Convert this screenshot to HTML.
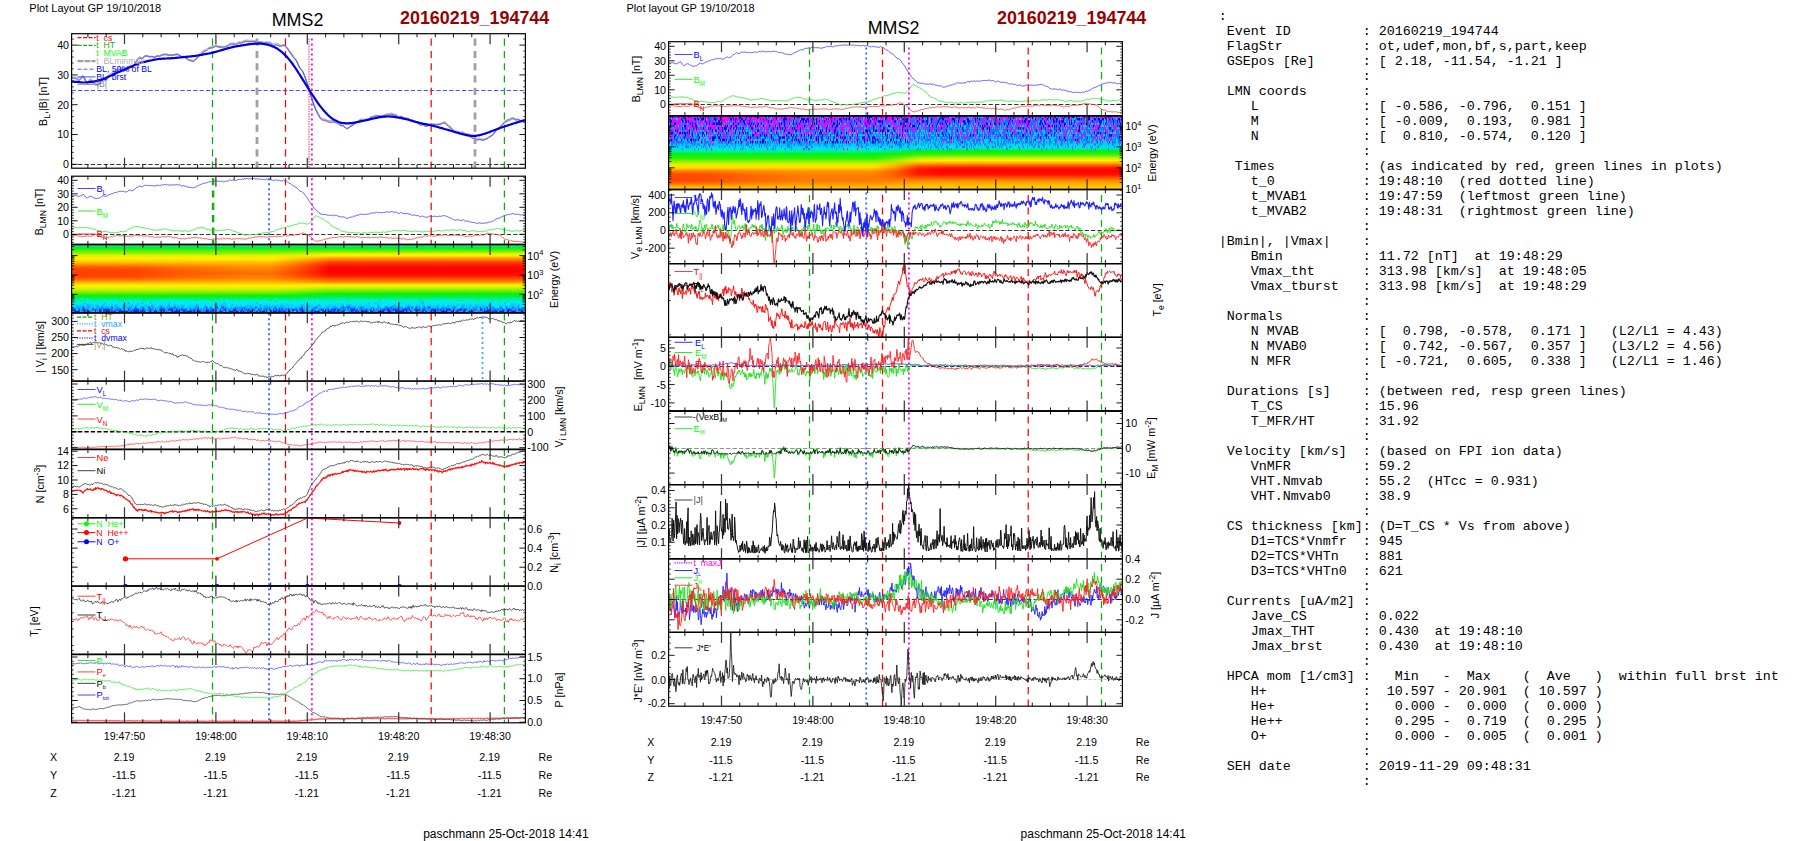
<!DOCTYPE html>
<html><head><meta charset="utf-8"><title>MMS2 20160219_194744</title>
<style>html,body{margin:0;padding:0;background:#fff;}body{width:1804px;height:841px;overflow:hidden;position:relative;}svg{position:absolute;left:0;top:0;}text{font-family:"Liberation Sans", sans-serif;}pre{position:absolute;margin:0;left:1218.8px;top:8.8px;font-family:"Liberation Mono",monospace;font-size:13.33px;line-height:15px;color:#000;white-space:pre;}</style></head><body>
<svg width="1804" height="841" viewBox="0 0 1804 841">
<rect width="1804" height="841" fill="#fff"/>
<defs>
<linearGradient id="gi" x1="0" y1="0" x2="0" y2="1">
<stop offset="0.0" stop-color="#00f0a0"/>
<stop offset="0.05" stop-color="#00f020"/>
<stop offset="0.1" stop-color="#70f000"/>
<stop offset="0.135" stop-color="#e8f000"/>
<stop offset="0.165" stop-color="#fff000"/>
<stop offset="0.205" stop-color="#ff9800"/>
<stop offset="0.26" stop-color="#ff4000"/>
<stop offset="0.32" stop-color="#ff0c00"/>
<stop offset="0.39" stop-color="#ff0000"/>
<stop offset="0.45" stop-color="#ff1000"/>
<stop offset="0.505" stop-color="#ff5000"/>
<stop offset="0.555" stop-color="#ff9800"/>
<stop offset="0.59" stop-color="#fff000"/>
<stop offset="0.625" stop-color="#e0f000"/>
<stop offset="0.66" stop-color="#90f000"/>
<stop offset="0.72" stop-color="#10f000"/>
<stop offset="0.77" stop-color="#00f050"/>
<stop offset="0.81" stop-color="#00f0b0"/>
<stop offset="0.85" stop-color="#00f0e8"/>
<stop offset="0.91" stop-color="#00b8ff"/>
<stop offset="0.96" stop-color="#1060ff"/>
<stop offset="1.0" stop-color="#1040f0"/>
</linearGradient>
<linearGradient id="gio" x1="0" y1="0" x2="0" y2="1">
<stop offset="0.0" stop-color="#00f0a0" stop-opacity="0"/>
<stop offset="0.07" stop-color="#30f000" stop-opacity="0.0"/>
<stop offset="0.12" stop-color="#80f000" stop-opacity="1"/>
<stop offset="0.165" stop-color="#e8f000" stop-opacity="1"/>
<stop offset="0.21" stop-color="#fff000" stop-opacity="1"/>
<stop offset="0.26" stop-color="#ffc000" stop-opacity="1"/>
<stop offset="0.33" stop-color="#ff8c00" stop-opacity="1"/>
<stop offset="0.42" stop-color="#ff6c00" stop-opacity="1"/>
<stop offset="0.5" stop-color="#ff8800" stop-opacity="1"/>
<stop offset="0.56" stop-color="#ffc000" stop-opacity="1"/>
<stop offset="0.6" stop-color="#fff000" stop-opacity="1"/>
<stop offset="0.645" stop-color="#e0f000" stop-opacity="1"/>
<stop offset="0.69" stop-color="#90f000" stop-opacity="1"/>
<stop offset="0.75" stop-color="#10f000" stop-opacity="1"/>
<stop offset="0.82" stop-color="#00f070" stop-opacity="0"/>
<stop offset="1.0" stop-color="#00f070" stop-opacity="0"/>
</linearGradient>
<linearGradient id="gioh" x1="0" y1="0" x2="1" y2="0">
<stop offset="0" stop-color="#fff" stop-opacity="1"/>
<stop offset="0.44" stop-color="#fff" stop-opacity="1"/>
<stop offset="0.5" stop-color="#fff" stop-opacity="0.6"/>
<stop offset="0.57" stop-color="#fff" stop-opacity="0"/>
</linearGradient>
<mask id="mio" maskUnits="userSpaceOnUse" x="70" y="240" width="460" height="80"><rect x="71.6" y="240" width="453.8" height="80" fill="url(#gioh)"/></mask>
<linearGradient id="giol" x1="0" y1="0" x2="0" y2="1">
<stop offset="0.0" stop-color="#ff3800" stop-opacity="0"/>
<stop offset="0.27" stop-color="#ff3800" stop-opacity="0"/>
<stop offset="0.36" stop-color="#ff3800" stop-opacity="0.85"/>
<stop offset="0.46" stop-color="#ff3800" stop-opacity="0.85"/>
<stop offset="0.56" stop-color="#ff3800" stop-opacity="0"/>
<stop offset="1.0" stop-color="#ff3800" stop-opacity="0"/>
</linearGradient>
<linearGradient id="giolh" x1="0" y1="0" x2="1" y2="0">
<stop offset="0" stop-color="#fff" stop-opacity="1"/>
<stop offset="0.14" stop-color="#fff" stop-opacity="0.9"/>
<stop offset="0.24" stop-color="#fff" stop-opacity="0.45"/>
<stop offset="0.38" stop-color="#fff" stop-opacity="0"/>
</linearGradient>
<mask id="miol" maskUnits="userSpaceOnUse" x="70" y="240" width="460" height="80"><rect x="71.6" y="240" width="453.8" height="80" fill="url(#giolh)"/></mask>
<linearGradient id="ge" x1="0" y1="0" x2="0" y2="1">
<stop offset="0.0" stop-color="#2030ff"/>
<stop offset="0.33" stop-color="#1848ff"/>
<stop offset="0.385" stop-color="#10a0ff"/>
<stop offset="0.43" stop-color="#00e0f8"/>
<stop offset="0.475" stop-color="#00f0a0"/>
<stop offset="0.52" stop-color="#00f020"/>
<stop offset="0.58" stop-color="#30f000"/>
<stop offset="0.62" stop-color="#90f000"/>
<stop offset="0.66" stop-color="#e0f000"/>
<stop offset="0.7" stop-color="#ffe000"/>
<stop offset="0.75" stop-color="#ff9800"/>
<stop offset="0.82" stop-color="#ff7800"/>
<stop offset="0.89" stop-color="#ff7c00"/>
<stop offset="0.94" stop-color="#ffa400"/>
<stop offset="1.0" stop-color="#ffd000"/>
</linearGradient>
<linearGradient id="ger" x1="0" y1="0" x2="0" y2="1">
<stop offset="0.0" stop-color="#00d8f8" stop-opacity="0"/>
<stop offset="0.32" stop-color="#10a0ff" stop-opacity="0"/>
<stop offset="0.36" stop-color="#10a0ff" stop-opacity="1"/>
<stop offset="0.4" stop-color="#00e0f8" stop-opacity="1"/>
<stop offset="0.44" stop-color="#00f0a0" stop-opacity="1"/>
<stop offset="0.48" stop-color="#00f010" stop-opacity="1"/>
<stop offset="0.53" stop-color="#40f000" stop-opacity="1"/>
<stop offset="0.57" stop-color="#c0f000" stop-opacity="1"/>
<stop offset="0.605" stop-color="#fff000" stop-opacity="1"/>
<stop offset="0.64" stop-color="#ffb000" stop-opacity="1"/>
<stop offset="0.675" stop-color="#ff5800" stop-opacity="1"/>
<stop offset="0.71" stop-color="#ff1400" stop-opacity="1"/>
<stop offset="0.75" stop-color="#ff0000" stop-opacity="1"/>
<stop offset="0.8" stop-color="#ff1400" stop-opacity="1"/>
<stop offset="0.845" stop-color="#ff5800" stop-opacity="1"/>
<stop offset="0.89" stop-color="#ff9800" stop-opacity="1"/>
<stop offset="0.95" stop-color="#ffc000" stop-opacity="1"/>
<stop offset="1.0" stop-color="#ffdc00" stop-opacity="1"/>
</linearGradient>
<linearGradient id="gerh" x1="0" y1="0" x2="1" y2="0">
<stop offset="0" stop-color="#fff" stop-opacity="0"/>
<stop offset="0.45" stop-color="#fff" stop-opacity="0"/>
<stop offset="0.5" stop-color="#fff" stop-opacity="0.35"/>
<stop offset="0.55" stop-color="#fff" stop-opacity="0.9"/>
<stop offset="0.6" stop-color="#fff" stop-opacity="1"/>
<stop offset="1" stop-color="#fff" stop-opacity="1"/>
</linearGradient>
<mask id="mer" maskUnits="userSpaceOnUse" x="660" y="110" width="470" height="90"><rect x="668.6" y="110" width="453.8" height="90" fill="url(#gerh)"/></mask>
<linearGradient id="gel" x1="0" y1="0" x2="0" y2="1">
<stop offset="0.0" stop-color="#ff3c00" stop-opacity="0"/>
<stop offset="0.72" stop-color="#ff3c00" stop-opacity="0"/>
<stop offset="0.8" stop-color="#ff3c00" stop-opacity="0.85"/>
<stop offset="0.88" stop-color="#ff3c00" stop-opacity="0.85"/>
<stop offset="0.96" stop-color="#ff3c00" stop-opacity="0"/>
<stop offset="1.0" stop-color="#ff3c00" stop-opacity="0"/>
</linearGradient>
<linearGradient id="gelh" x1="0" y1="0" x2="1" y2="0">
<stop offset="0" stop-color="#fff" stop-opacity="1"/>
<stop offset="0.1" stop-color="#fff" stop-opacity="0.8"/>
<stop offset="0.2" stop-color="#fff" stop-opacity="0.3"/>
<stop offset="0.3" stop-color="#fff" stop-opacity="0"/>
</linearGradient>
<mask id="mel" maskUnits="userSpaceOnUse" x="660" y="110" width="470" height="90"><rect x="668.6" y="110" width="453.8" height="90" fill="url(#gelh)"/></mask>
<clipPath id="cL1"><rect x="71.6" y="33.7" width="453.8" height="134.5"/></clipPath>
<clipPath id="cL2"><rect x="71.6" y="176.2" width="453.8" height="68.3"/></clipPath>
<clipPath id="cL3"><rect x="71.6" y="244.5" width="453.8" height="68.3"/></clipPath>
<clipPath id="cL4"><rect x="71.6" y="312.8" width="453.8" height="68.3"/></clipPath>
<clipPath id="cL5"><rect x="71.6" y="381.1" width="453.8" height="68.3"/></clipPath>
<clipPath id="cL6"><rect x="71.6" y="449.4" width="453.8" height="68.4"/></clipPath>
<clipPath id="cL7"><rect x="71.6" y="517.8" width="453.8" height="68.3"/></clipPath>
<clipPath id="cL8"><rect x="71.6" y="586.1" width="453.8" height="68.3"/></clipPath>
<clipPath id="cL9"><rect x="71.6" y="654.4" width="453.8" height="68.4"/></clipPath>
<clipPath id="cM1"><rect x="668.6" y="41.7" width="453.8" height="74"/></clipPath>
<clipPath id="cM2"><rect x="668.6" y="115.7" width="453.8" height="73.8"/></clipPath>
<clipPath id="cM3"><rect x="668.6" y="189.5" width="453.8" height="74.1"/></clipPath>
<clipPath id="cM4"><rect x="668.6" y="263.6" width="453.8" height="73.7"/></clipPath>
<clipPath id="cM5"><rect x="668.6" y="337.3" width="453.8" height="73.7"/></clipPath>
<clipPath id="cM6"><rect x="668.6" y="411" width="453.8" height="73.6"/></clipPath>
<clipPath id="cM7"><rect x="668.6" y="484.6" width="453.8" height="74.1"/></clipPath>
<clipPath id="cM8"><rect x="668.6" y="558.7" width="453.8" height="73.7"/></clipPath>
<clipPath id="cM9"><rect x="668.6" y="632.4" width="453.8" height="73.8"/></clipPath>
</defs>
<text x="29.3" y="12.2" font-size="11" fill="#000" text-anchor="start" >Plot Layout GP 19/10/2018</text>
<text x="297.5" y="25.5" font-size="17.9" fill="#000" text-anchor="middle" >MMS2</text>
<text x="400" y="24" font-size="17.9" fill="#990000" text-anchor="start" font-weight="bold" >20160219_194744</text>
<g clip-path="url(#cL1)">
<path transform="scale(.1)" d="M716 767l10 1 10 2 10 0 10-1 10 3 10 5 10 4 10-3 10-7 10-10 10-8 10 5 10 19 10 27 10 15 10 0 10-13 10-12 10-5 10 4 10 11 10 10 10 10 10 6 10 2 10-1 10-5 10-5 10-13 10-14 10-11 10-3 10 2 10 0 10-6 10-12 10-13 10-8 10-8 10-7 10-9 10-8 10-6 10-2 10-5 10-7 10-8 10-4 10 0 10 0 10 0 10 1 10 2 10 3 10-3 10-10 10-11 10-9 10 1 10 5 10 4 10-10 10-17 10-17 10-13 10-15 10-13 10-9 10 5 10 6 10 0 10-10 10-7 10-3 10 0 10 0 10 1 10 4 10-1 10-2 10 3 10 2 10 2 10-2 10-6 10-3 10-1 10 3 10-5 10-6 10-3 10-1 10 1 10 0 10-1 10 4 10 0 10 3 10-3 10-2 10-1 10 1 10-1 10-3 10-2 10 1 10 3 10 5 10 9 10 8 10 3 10 0 10 4 10 5 10 8 10 3 10 8 10 2 10 4 10-1 10 0 10-1 10-6 10-9 10-12 10-11 10-11 10-11 10-11 10-11 10-8 10-8 10-3 10-5 10-6 10-10 10-6 10-2 10-2 10-2 10-1 10-5 10-7 10-6 10 3 10 5 10 3 10 3 10 1 10 2 10 4 10 2 10-1 10-6 10-6 10-4 10-8 10-7 10-2 10-1 10-1 10-3 10 1 10 3 10-5 10-7 10-7 10 0 10 3 10-4 10-2 10-8 10 1 10-6 10 0 10 0 10 3 10 0 10-1 10 1 10-1 10 1 10 1 10 3 10 6 10 1 10 3 10-3 10 1 10 0 10 3 10 4 10-1 10-4 10-2 10 3 10 3 10-3 10 3 10 6 10 10 10 2 10-2 10-8 10 0 10 5 10 5 10 5 10 4 10 3 10-5 10-2 10 2 10 9 10 8 10 12 10 17 10 12 10 13 10 12 10 19 10 14 10 10 10 13 10 17 10 22 10 22 10 20 10 14 10 13 10 12 10 23 10 26 10 30 10 28 10 31 10 32 10 34 10 30 10 31 10 28 10 30 10 26 10 26 10 20 10 21 10 17 10 21 10 12 10 10 10 1 10 4 10 2 10 4 10 5 10 5 10 6 10 2 10 4 10-1 10-2 10 2 10 2 10 1 10 1 10 5 10 7 10 7 10 8 10 6 10 2 10 2 10 9 10 11 10 7 10-2 10-10 10-8 10-10 10-2 10-8 10-3 10-7 10-7 10-7 10-7 10-7 10-9 10-5 10-2 10 2 10 2 10 1 10-1 10-1 10-3 10-3 10-10 10-6 10-4 10 0 10-5 10-2 10-5 10 1 10 1 10 1 10-1 10-1 10 0 10-1 10-2 10-4 10-4 10-4 10 1 10-2 10-2 10-4 10-1 10 4 10 5 10 4 10-1 10 7 10 9 10 10 10-3 10-3 10-1 10 8 10 5 10 4 10 4 10-1 10 3 10 2 10 5 10 5 10 8 10 6 10 1 10-2 10 4 10 3 10 1 10 5 10 7 10 6 10-4 10 0 10 5 10 10 10 6 10 0 10-2 10-7 10-5 10-3 10 4 10 2 10-1 10-3 10 2 10 2 10 0 10-3 10-3 10-2 10-3 10-6 10-5 10-1 10 5 10 7 10 10 10 10 10 6 10 8 10 10 10 14 10 11 10 8 10 4 10 1 10 1 10 0 10 4 10 2 10-1 10-2 10 4 10 8 10 6 10-1 10 1 10 6 10 7 10 7 10 7 10 4 10 3 10 5 10 7 10 6 10 0 10-3 10 0 10 2 10 3 10 1 10 1 10-4 10-3 10-5 10-5 10-9 10-4 10-5 10-4 10-9 10-9 10-14 10-15 10-13 10-6 10-8 10-9 10-11 10-10 10-10 10-12 10-11 10-6 10-6 10-5 10-4 10-4 10-2 10-6 10-2 10-1 10 6 10 5 10 4 10-3 10 4 10 5 10 8 10-1 10-3 10-7 10 0 8-2" fill="none" stroke="#909090" stroke-width="8" stroke-linejoin="round" />
<path transform="scale(.1)" d="M716 779l10 0 10 1 10-1 10 2 10 4 10 7 10 6 10-2 10-8 10-13 10-11 10 4 10 16 10 27 10 16 10 3 10-12 10-13 10-6 10 5 10 13 10 11 10 10 10 5 10 3 10 1 10-5 10-6 10-14 10-15 10-10 10-3 10 3 10 1 10-4 10-12 10-15 10-9 10-8 10-6 10-9 10-8 10-7 10-4 10-6 10-6 10-8 10-5 10-3 10 0 10 2 10 2 10 4 10 3 10-4 10-11 10-12 10-11 10 0 10 2 10 1 10-11 10-17 10-19 10-11 10-12 10-10 10-9 10 2 10 4 10-4 10-12 10-8 10-4 10 1 10 1 10 5 10 5 10 1 10-1 10 1 10 2 10 0 10-3 10-8 10-3 10-1 10 3 10-5 10-5 10-2 10-2 10-1 10-3 10 0 10 5 10 2 10 3 10-2 10-1 10 0 10 0 10-2 10-3 10-1 10 2 10 3 10 4 10 8 10 7 10 1 10-2 10 2 10 7 10 9 10 6 10 9 10 2 10 5 10 4 10 4 10 0 10-7 10-10 10-9 10-9 10-10 10-11 10-10 10-11 10-10 10-11 10-4 10-2 10-3 10-10 10-9 10-4 10-3 10-2 10 0 10-4 10-6 10-6 10 2 10 4 10 1 10 1 10-1 10-2 10 1 10 0 10 0 10-5 10-5 10-2 10-8 10-7 10-5 10-1 10 0 10 0 10 4 10 5 10-4 10-5 10-7 10 0 10 3 10-3 10-2 10-7 10 0 10-6 10-1 10 2 10 4 10 2 10-1 10 1 10-1 10 0 10 1 10 0 10 5 10 1 10 3 10-4 10 0 10 0 10 3 10 4 10-1 10-2 10 1 10 4 10 2 10-2 10 4 10 7 10 12 10 2 10 0 10-6 10 0 10 4 10 3 10 3 10-1 10 2 10-6 10-2 10 4 10 10 10 11 10 12 10 17 10 12 10 15 10 12 10 17 10 12 10 9 10 12 10 17 10 20 10 20 10 20 10 14 10 12 10 11 10 20 10 24 10 28 10 30 10 31 10 33 10 36 10 33 10 33 10 30 10 32 10 26 10 26 10 20 10 20 10 14 10 20 10 13 10 10 10 3 10 5 10 2 10 3 10 3 10 2 10 1 10 0 10 1 10-1 10-5 10 2 10 2 10 2 10 3 10 10 10 10 10 9 10 8 10 5 10 2 10 4 10 10 10 10 10 6 10 0 10-7 10-7 10-10 10-6 10-10 10-5 10-7 10-6 10-5 10-5 10-6 10-8 10-3 10-1 10 2 10 0 10 1 10-1 10-1 10-3 10-4 10-14 10-9 10-5 10 0 10-4 10-2 10-4 10-2 10 0 10 3 10 2 10-1 10 2 10 0 10-2 10-3 10-3 10-4 10 0 10 1 10-1 10-4 10-3 10 2 10 5 10 2 10-1 10 6 10 8 10 9 10-5 10-3 10-1 10 9 10 5 10 2 10 1 10-2 10 2 10 3 10 8 10 7 10 9 10 6 10 3 10 1 10 6 10 5 10 1 10 6 10 8 10 7 10-2 10 0 10 2 10 7 10 3 10-3 10-4 10-7 10-4 10-4 10 2 10 1 10 0 10 1 10 1 10 1 10-1 10-2 10 0 10-2 10-4 10-6 10-4 10 0 10 5 10 10 10 12 10 11 10 6 10 7 10 12 10 15 10 10 10 7 10 3 10 0 10-1 10 0 10 7 10 3 10-2 10-5 10 4 10 9 10 6 10 0 10 2 10 6 10 7 10 8 10 7 10 6 10 4 10 6 10 7 10 6 10-1 10-2 10-3 10 1 10 3 10 2 10 1 10-6 10-3 10-4 10-5 10-10 10-6 10-8 10-6 10-10 10-9 10-14 10-14 10-12 10-6 10-8 10-10 10-12 10-11 10-10 10-12 10-12 10-7 10-6 10-5 10-4 10-6 10-3 10-6 10-1 10 2 10 7 10 5 10 1 10-4 10 3 10 4 10 8 10-1 10-2 10-8 10 0 8-3" fill="none" stroke="#808080" stroke-width="8" stroke-linejoin="round" />
<path transform="scale(.1)" d="M716 780l10 2 10 2 10 1 10 1 10 5 10 7 10 5 10-2 10-8 10-11 10-10 10 3 10 16 10 26 10 16 10 1 10-11 10-11 10-5 10 3 10 12 10 11 10 11 10 7 10 0 10 0 10-5 10-6 10-14 10-14 10-12 10-2 10 3 10 2 10-5 10-11 10-13 10-8 10-8 10-7 10-9 10-9 10-7 10-4 10-6 10-6 10-8 10-5 10-1 10 0 10 0 10 3 10 3 10 4 10-3 10-10 10-11 10-11 10 1 10 3 10 2 10-12 10-17 10-19 10-12 10-14 10-11 10-9 10 2 10 5 10-3 10-11 10-8 10-4 10 0 10 0 10 3 10 3 10 1 10-2 10 2 10 2 10 1 10-2 10-6 10-2 10-1 10 4 10-5 10-7 10-3 10-2 10-1 10 0 10 0 10 4 10 1 10 2 10-1 10-1 10-1 10 1 10-2 10-3 10-1 10 1 10 3 10 4 10 8 10 7 10 2 10 0 10 3 10 6 10 8 10 6 10 8 10 2 10 3 10 1 10 4 10 0 10-5 10-10 10-12 10-10 10-11 10-10 10-10 10-9 10-9 10-8 10-4 10-5 10-6 10-9 10-8 10-3 10-3 10-2 10 0 10-5 10-5 10-6 10 2 10 4 10 2 10 1 10 1 10 0 10 4 10 2 10 1 10-6 10-6 10-4 10-8 10-7 10-3 10 0 10 0 10-1 10 3 10 4 10-5 10-6 10-8 10-1 10 1 10-4 10-3 10-7 10 1 10-5 10 0 10 0 10 2 10 1 10-2 10 0 10-2 10 0 10 2 10 2 10 4 10 0 10 4 10-3 10 2 10 1 10 3 10 4 10-1 10-3 10-1 10 1 10 3 10-2 10 4 10 6 10 10 10 2 10-1 10-5 10 1 10 4 10 3 10 4 10 1 10 3 10-6 10-1 10 2 10 9 10 9 10 13 10 17 10 13 10 14 10 13 10 19 10 13 10 11 10 12 10 17 10 20 10 21 10 19 10 14 10 13 10 12 10 22 10 25 10 29 10 30 10 32 10 33 10 35 10 31 10 31 10 30 10 32 10 26 10 26 10 19 10 21 10 16 10 21 10 13 10 11 10 2 10 3 10 2 10 2 10 5 10 5 10 4 10 2 10 2 10-2 10-3 10 2 10 2 10 2 10 2 10 7 10 7 10 6 10 5 10 4 10 1 10 2 10 8 10 10 10 7 10-1 10-6 10-6 10-7 10-4 10-9 10-5 10-8 10-7 10-5 10-6 10-6 10-9 10-6 10-1 10 2 10 0 10 1 10-2 10-1 10-2 10-3 10-10 10-7 10-4 10 0 10-4 10-2 10-5 10-1 10 0 10 1 10 1 10-1 10 1 10-1 10-2 10-4 10-4 10-4 10 1 10 0 10-1 10-3 10-2 10 3 10 5 10 2 10-1 10 6 10 8 10 9 10-4 10-3 10-2 10 9 10 6 10 4 10 2 10-2 10 3 10 3 10 6 10 6 10 9 10 5 10 1 10-1 10 5 10 5 10 2 10 7 10 8 10 5 10-4 10-1 10 5 10 9 10 5 10-1 10-3 10-8 10-5 10-4 10 3 10 0 10 0 10-1 10 1 10 2 10 0 10-2 10-2 10-2 10-2 10-6 10-3 10 2 10 6 10 8 10 10 10 9 10 7 10 9 10 11 10 14 10 10 10 8 10 2 10-1 10-1 10 0 10 7 10 2 10-1 10-3 10 5 10 8 10 6 10-1 10 3 10 6 10 7 10 7 10 6 10 4 10 2 10 4 10 5 10 5 10-1 10-2 10-1 10 2 10 4 10 1 10 0 10-6 10-2 10-2 10-4 10-10 10-5 10-5 10-5 10-10 10-9 10-14 10-15 10-12 10-7 10-6 10-9 10-10 10-11 10-10 10-11 10-10 10-6 10-6 10-5 10-4 10-5 10-2 10-7 10-3 10 0 10 5 10 5 10 2 10-2 10 3 10 4 10 8 10 0 10-1 10-6 10 0 8-1" fill="none" stroke="#4848ff" stroke-width="9" stroke-linejoin="round" />
<line x1="71.6" y1="90.5" x2="525.4" y2="90.5" stroke="#5050ff" stroke-width="1.0" stroke-dasharray="4.3 2.1" />
<line x1="71.6" y1="164.5" x2="525.4" y2="164.5" stroke="#282828" stroke-width="0.95" stroke-dasharray="4.3 2.1" />
<line x1="212.5" y1="38.6" x2="212.5" y2="168.2" stroke="#0cac0c" stroke-width="1.25" stroke-dasharray="7.1 5.2" />
<line x1="257" y1="38.6" x2="257" y2="169.7" stroke="#a0a0a0" stroke-width="2.8" stroke-dasharray="7.1 5.2" />
<line x1="285.5" y1="38.6" x2="285.5" y2="168.2" stroke="#ff0000" stroke-width="1.25" stroke-dasharray="7.1 5.2" />
<line x1="309" y1="38.6" x2="309" y2="168.2" stroke="#ff0000" stroke-width="0.9" stroke-dasharray="1.3 1.2" />
<line x1="311.9" y1="38.6" x2="311.9" y2="168.2" stroke="#ff00ff" stroke-width="1.8" stroke-dasharray="2 3" />
<line x1="431.2" y1="38.6" x2="431.2" y2="168.2" stroke="#ff0000" stroke-width="1.25" stroke-dasharray="7.1 5.2" />
<line x1="475" y1="38.6" x2="475" y2="169.7" stroke="#a0a0a0" stroke-width="2.8" stroke-dasharray="7.1 5.2" />
<line x1="504.4" y1="38.6" x2="504.4" y2="168.2" stroke="#0cac0c" stroke-width="1.25" stroke-dasharray="7.1 5.2" />
<path transform="scale(.1)" d="M696 815l10 1 10 0 10 1 10 0 10 1 10 1 10 0 10 1 10 1 10 1 10 1 10 1 10 1 10 0 10 0 10 0 10-1 10-1 10-1 10-1 10-2 10-1 10-2 10-1 10-2 10-1 10-2 10-2 10-2 10-3 10-3 10-4 10-3 10-4 10-5 10-4 10-5 10-4 10-5 10-4 10-5 10-4 10-5 10-4 10-5 10-4 10-5 10-4 10-5 10-4 10-5 10-4 10-4 10-5 10-4 10-5 10-4 10-4 10-5 10-4 10-4 10-5 10-4 10-4 10-5 10-4 10-4 10-4 10-4 10-4 10-3 10-3 10-3 10-2 10-2 10-2 10-3 10-2 10-2 10-2 10-2 10-2 10-3 10-2 10-2 10-1 10-2 10-1 10-2 10-1 10-1 10 0 10-1 10 0 10-1 10-1 10 0 10-1 10 0 10-1 10 0 10-1 10-1 10 0 10-1 10-1 10-1 10-1 10-1 10-1 10-1 10-1 10-1 10-1 10-1 10-1 10-1 10-1 10-1 10-1 10-1 10-1 10-1 10-1 10-1 10-2 10-1 10-2 10-2 10-2 10-1 10-2 10-2 10-2 10-2 10-2 10-2 10-1 10-2 10-2 10-2 10-3 10-2 10-2 10-3 10-3 10-2 10-3 10-3 10-3 10-3 10-3 10-3 10-2 10-3 10-3 10-3 10-3 10-3 10-3 10-2 10-3 10-2 10-2 10-2 10-2 10-2 10-2 10-1 10-2 10-2 10-2 10-1 10-2 10-2 10-1 10-2 10-2 10-1 10-1 10-1 10-1 10-1 10-1 10-1 10-1 10 0 10 0 10 0 10 0 10 1 10 0 10 1 10 2 10 1 10 2 10 2 10 2 10 3 10 3 10 3 10 4 10 4 10 4 10 5 10 5 10 5 10 6 10 7 10 7 10 7 10 8 10 9 10 9 10 10 10 10 10 10 10 11 10 12 10 12 10 12 10 13 10 14 10 14 10 15 10 15 10 15 10 15 10 16 10 15 10 16 10 16 10 16 10 16 10 16 10 16 10 16 10 16 10 16 10 16 10 15 10 16 10 15 10 15 10 16 10 15 10 14 10 15 10 14 10 13 10 13 10 13 10 12 10 12 10 11 10 12 10 10 10 11 10 9 10 9 10 8 10 8 10 7 10 7 10 5 10 6 10 5 10 5 10 4 10 3 10 3 10 2 10 2 10 2 10 0 10 1 10 0 10 0 10 0 10-1 10 0 10-1 10-2 10-1 10-2 10-2 10-2 10-2 10-2 10-2 10-2 10-2 10-2 10-2 10-3 10-2 10-2 10-2 10-2 10-3 10-2 10-2 10-3 10-2 10-2 10-3 10-2 10-2 10-2 10-2 10-1 10-1 10-2 10-1 10 0 10-1 10-1 10 0 10 0 10 0 10 1 10 0 10 1 10 2 10 1 10 2 10 2 10 1 10 2 10 1 10 2 10 2 10 2 10 2 10 2 10 2 10 3 10 2 10 3 10 3 10 2 10 3 10 3 10 3 10 3 10 3 10 2 10 3 10 3 10 2 10 3 10 2 10 3 10 2 10 2 10 2 10 2 10 2 10 3 10 2 10 2 10 2 10 2 10 3 10 2 10 3 10 2 10 3 10 3 10 3 10 2 10 3 10 3 10 3 10 3 10 3 10 2 10 3 10 3 10 3 10 3 10 3 10 3 10 3 10 3 10 3 10 3 10 3 10 3 10 3 10 3 10 3 10 2 10 3 10 2 10 2 10 2 10 2 10 1 10 2 10 1 10 1 10 1 10 0 10-1 10 0 10-1 10-2 10-2 10-2 10-3 10-2 10-3 10-3 10-3 10-3 10-3 10-4 10-3 10-4 10-4 10-4 10-4 10-3 10-4 10-4 10-4 10-4 10-3 10-4 10-4 10-3 10-4 10-3 10-3 10-4 10-3 10-3 10-4 10-3 10-3 10-4 10-3 10-3 10-3 10-3 10-3 10-3 10-3 10-3 10-3 10-2 10-3 10-3 10-1 10-2 10-1 8-2" fill="none" stroke="#0000e0" stroke-width="22" stroke-linejoin="round" />
</g>
<rect x="71.6" y="33.7" width="453.8" height="134.5" fill="none" stroke="#000" stroke-width="1.2"/>
<line x1="124.5" y1="33.7" x2="124.5" y2="44.2" stroke="#383838" stroke-width="1.25" />
<line x1="124.5" y1="168.2" x2="124.5" y2="157.7" stroke="#383838" stroke-width="1.25" />
<line x1="215.9" y1="33.7" x2="215.9" y2="44.2" stroke="#383838" stroke-width="1.25" />
<line x1="215.9" y1="168.2" x2="215.9" y2="157.7" stroke="#383838" stroke-width="1.25" />
<line x1="307.3" y1="33.7" x2="307.3" y2="44.2" stroke="#383838" stroke-width="1.25" />
<line x1="307.3" y1="168.2" x2="307.3" y2="157.7" stroke="#383838" stroke-width="1.25" />
<line x1="398.7" y1="33.7" x2="398.7" y2="44.2" stroke="#383838" stroke-width="1.25" />
<line x1="398.7" y1="168.2" x2="398.7" y2="157.7" stroke="#383838" stroke-width="1.25" />
<line x1="490.1" y1="33.7" x2="490.1" y2="44.2" stroke="#383838" stroke-width="1.25" />
<line x1="490.1" y1="168.2" x2="490.1" y2="157.7" stroke="#383838" stroke-width="1.25" />
<line x1="87.9" y1="33.7" x2="87.9" y2="37.3" stroke="#000" stroke-width="0.9" />
<line x1="87.9" y1="168.2" x2="87.9" y2="164.6" stroke="#000" stroke-width="0.9" />
<line x1="106.2" y1="33.7" x2="106.2" y2="37.3" stroke="#000" stroke-width="0.9" />
<line x1="106.2" y1="168.2" x2="106.2" y2="164.6" stroke="#000" stroke-width="0.9" />
<line x1="142.8" y1="33.7" x2="142.8" y2="37.3" stroke="#000" stroke-width="0.9" />
<line x1="142.8" y1="168.2" x2="142.8" y2="164.6" stroke="#000" stroke-width="0.9" />
<line x1="161.1" y1="33.7" x2="161.1" y2="37.3" stroke="#000" stroke-width="0.9" />
<line x1="161.1" y1="168.2" x2="161.1" y2="164.6" stroke="#000" stroke-width="0.9" />
<line x1="179.3" y1="33.7" x2="179.3" y2="37.3" stroke="#000" stroke-width="0.9" />
<line x1="179.3" y1="168.2" x2="179.3" y2="164.6" stroke="#000" stroke-width="0.9" />
<line x1="197.6" y1="33.7" x2="197.6" y2="37.3" stroke="#000" stroke-width="0.9" />
<line x1="197.6" y1="168.2" x2="197.6" y2="164.6" stroke="#000" stroke-width="0.9" />
<line x1="234.2" y1="33.7" x2="234.2" y2="37.3" stroke="#000" stroke-width="0.9" />
<line x1="234.2" y1="168.2" x2="234.2" y2="164.6" stroke="#000" stroke-width="0.9" />
<line x1="252.5" y1="33.7" x2="252.5" y2="37.3" stroke="#000" stroke-width="0.9" />
<line x1="252.5" y1="168.2" x2="252.5" y2="164.6" stroke="#000" stroke-width="0.9" />
<line x1="270.7" y1="33.7" x2="270.7" y2="37.3" stroke="#000" stroke-width="0.9" />
<line x1="270.7" y1="168.2" x2="270.7" y2="164.6" stroke="#000" stroke-width="0.9" />
<line x1="289" y1="33.7" x2="289" y2="37.3" stroke="#000" stroke-width="0.9" />
<line x1="289" y1="168.2" x2="289" y2="164.6" stroke="#000" stroke-width="0.9" />
<line x1="325.6" y1="33.7" x2="325.6" y2="37.3" stroke="#000" stroke-width="0.9" />
<line x1="325.6" y1="168.2" x2="325.6" y2="164.6" stroke="#000" stroke-width="0.9" />
<line x1="343.9" y1="33.7" x2="343.9" y2="37.3" stroke="#000" stroke-width="0.9" />
<line x1="343.9" y1="168.2" x2="343.9" y2="164.6" stroke="#000" stroke-width="0.9" />
<line x1="362.1" y1="33.7" x2="362.1" y2="37.3" stroke="#000" stroke-width="0.9" />
<line x1="362.1" y1="168.2" x2="362.1" y2="164.6" stroke="#000" stroke-width="0.9" />
<line x1="380.4" y1="33.7" x2="380.4" y2="37.3" stroke="#000" stroke-width="0.9" />
<line x1="380.4" y1="168.2" x2="380.4" y2="164.6" stroke="#000" stroke-width="0.9" />
<line x1="417" y1="33.7" x2="417" y2="37.3" stroke="#000" stroke-width="0.9" />
<line x1="417" y1="168.2" x2="417" y2="164.6" stroke="#000" stroke-width="0.9" />
<line x1="435.3" y1="33.7" x2="435.3" y2="37.3" stroke="#000" stroke-width="0.9" />
<line x1="435.3" y1="168.2" x2="435.3" y2="164.6" stroke="#000" stroke-width="0.9" />
<line x1="453.5" y1="33.7" x2="453.5" y2="37.3" stroke="#000" stroke-width="0.9" />
<line x1="453.5" y1="168.2" x2="453.5" y2="164.6" stroke="#000" stroke-width="0.9" />
<line x1="471.8" y1="33.7" x2="471.8" y2="37.3" stroke="#000" stroke-width="0.9" />
<line x1="471.8" y1="168.2" x2="471.8" y2="164.6" stroke="#000" stroke-width="0.9" />
<line x1="508.4" y1="33.7" x2="508.4" y2="37.3" stroke="#000" stroke-width="0.9" />
<line x1="508.4" y1="168.2" x2="508.4" y2="164.6" stroke="#000" stroke-width="0.9" />
<line x1="71.6" y1="164.3" x2="77.6" y2="164.3" stroke="#000" stroke-width="0.9" />
<line x1="525.4" y1="164.3" x2="519.4" y2="164.3" stroke="#000" stroke-width="0.9" />
<line x1="71.6" y1="134.5" x2="77.6" y2="134.5" stroke="#000" stroke-width="0.9" />
<line x1="525.4" y1="134.5" x2="519.4" y2="134.5" stroke="#000" stroke-width="0.9" />
<line x1="71.6" y1="104.7" x2="77.6" y2="104.7" stroke="#000" stroke-width="0.9" />
<line x1="525.4" y1="104.7" x2="519.4" y2="104.7" stroke="#000" stroke-width="0.9" />
<line x1="71.6" y1="74.9" x2="77.6" y2="74.9" stroke="#000" stroke-width="0.9" />
<line x1="525.4" y1="74.9" x2="519.4" y2="74.9" stroke="#000" stroke-width="0.9" />
<line x1="71.6" y1="45.1" x2="77.6" y2="45.1" stroke="#000" stroke-width="0.9" />
<line x1="525.4" y1="45.1" x2="519.4" y2="45.1" stroke="#000" stroke-width="0.9" />
<line x1="71.6" y1="158.3" x2="73.9" y2="158.3" stroke="#222" stroke-width="0.8" />
<line x1="525.4" y1="158.3" x2="523.1" y2="158.3" stroke="#222" stroke-width="0.8" />
<line x1="71.6" y1="152.4" x2="73.9" y2="152.4" stroke="#222" stroke-width="0.8" />
<line x1="525.4" y1="152.4" x2="523.1" y2="152.4" stroke="#222" stroke-width="0.8" />
<line x1="71.6" y1="146.4" x2="73.9" y2="146.4" stroke="#222" stroke-width="0.8" />
<line x1="525.4" y1="146.4" x2="523.1" y2="146.4" stroke="#222" stroke-width="0.8" />
<line x1="71.6" y1="140.5" x2="73.9" y2="140.5" stroke="#222" stroke-width="0.8" />
<line x1="525.4" y1="140.5" x2="523.1" y2="140.5" stroke="#222" stroke-width="0.8" />
<line x1="71.6" y1="128.5" x2="73.9" y2="128.5" stroke="#222" stroke-width="0.8" />
<line x1="525.4" y1="128.5" x2="523.1" y2="128.5" stroke="#222" stroke-width="0.8" />
<line x1="71.6" y1="122.6" x2="73.9" y2="122.6" stroke="#222" stroke-width="0.8" />
<line x1="525.4" y1="122.6" x2="523.1" y2="122.6" stroke="#222" stroke-width="0.8" />
<line x1="71.6" y1="116.6" x2="73.9" y2="116.6" stroke="#222" stroke-width="0.8" />
<line x1="525.4" y1="116.6" x2="523.1" y2="116.6" stroke="#222" stroke-width="0.8" />
<line x1="71.6" y1="110.7" x2="73.9" y2="110.7" stroke="#222" stroke-width="0.8" />
<line x1="525.4" y1="110.7" x2="523.1" y2="110.7" stroke="#222" stroke-width="0.8" />
<line x1="71.6" y1="98.7" x2="73.9" y2="98.7" stroke="#222" stroke-width="0.8" />
<line x1="525.4" y1="98.7" x2="523.1" y2="98.7" stroke="#222" stroke-width="0.8" />
<line x1="71.6" y1="92.8" x2="73.9" y2="92.8" stroke="#222" stroke-width="0.8" />
<line x1="525.4" y1="92.8" x2="523.1" y2="92.8" stroke="#222" stroke-width="0.8" />
<line x1="71.6" y1="86.8" x2="73.9" y2="86.8" stroke="#222" stroke-width="0.8" />
<line x1="525.4" y1="86.8" x2="523.1" y2="86.8" stroke="#222" stroke-width="0.8" />
<line x1="71.6" y1="80.9" x2="73.9" y2="80.9" stroke="#222" stroke-width="0.8" />
<line x1="525.4" y1="80.9" x2="523.1" y2="80.9" stroke="#222" stroke-width="0.8" />
<line x1="71.6" y1="68.9" x2="73.9" y2="68.9" stroke="#222" stroke-width="0.8" />
<line x1="525.4" y1="68.9" x2="523.1" y2="68.9" stroke="#222" stroke-width="0.8" />
<line x1="71.6" y1="63" x2="73.9" y2="63" stroke="#222" stroke-width="0.8" />
<line x1="525.4" y1="63" x2="523.1" y2="63" stroke="#222" stroke-width="0.8" />
<line x1="71.6" y1="57" x2="73.9" y2="57" stroke="#222" stroke-width="0.8" />
<line x1="525.4" y1="57" x2="523.1" y2="57" stroke="#222" stroke-width="0.8" />
<line x1="71.6" y1="51.1" x2="73.9" y2="51.1" stroke="#222" stroke-width="0.8" />
<line x1="525.4" y1="51.1" x2="523.1" y2="51.1" stroke="#222" stroke-width="0.8" />
<line x1="71.6" y1="39.1" x2="73.9" y2="39.1" stroke="#222" stroke-width="0.8" />
<line x1="525.4" y1="39.1" x2="523.1" y2="39.1" stroke="#222" stroke-width="0.8" />
<text x="69" y="168.1" font-size="10.67" fill="#000" text-anchor="end" >0</text>
<text x="69" y="138.3" font-size="10.67" fill="#000" text-anchor="end" >10</text>
<text x="69" y="108.5" font-size="10.67" fill="#000" text-anchor="end" >20</text>
<text x="69" y="78.7" font-size="10.67" fill="#000" text-anchor="end" >30</text>
<text x="69" y="48.9" font-size="10.67" fill="#000" text-anchor="end" >40</text>
<text transform="translate(47,101.5) rotate(-90)" font-size="10.67" fill="#000" text-anchor="middle">B<tspan font-size="8.6" dy="3">L</tspan><tspan dy="-3">&#8203;</tspan>,|B| [nT]</text>
<line x1="77.5" y1="37.6" x2="95.5" y2="37.6" stroke="#ff0000" stroke-width="1.25" stroke-dasharray="4 1.5" />
<text x="96.3" y="40.7" font-size="8.7" fill="#ff0000" text-anchor="start" >t&#160;&#160;cs</text>
<line x1="77.5" y1="45.3" x2="95.5" y2="45.3" stroke="#0cac0c" stroke-width="1.25" stroke-dasharray="4 1.5" />
<text x="96.3" y="48.4" font-size="8.7" fill="#0cac0c" text-anchor="start" >t&#160;&#160;HT</text>
<text x="96.3" y="56.3" font-size="8.7" fill="#00ff00" text-anchor="start" >t&#160;&#160;MVAB</text>
<line x1="77.5" y1="61.2" x2="95.5" y2="61.2" stroke="#a0a0a0" stroke-width="2.2" stroke-dasharray="6 1" />
<text x="96.3" y="64.3" font-size="8.7" fill="#b0b0b0" text-anchor="start" >t&#160;&#160;BLminmax</text>
<line x1="77.5" y1="69.2" x2="95.5" y2="69.2" stroke="#5858ff" stroke-width="1.0" stroke-dasharray="4 2" />
<text x="96.3" y="72.3" font-size="8.7" fill="#0000ff" text-anchor="start" >BL, 50% of BL</text>
<line x1="77.5" y1="76.9" x2="95.5" y2="76.9" stroke="#4848ff" stroke-width="1.0" />
<text x="96.3" y="80" font-size="8.7" fill="#0000ff" text-anchor="start" >BL&#160;&#160;brst</text>
<line x1="77.5" y1="84.3" x2="95.5" y2="84.3" stroke="#a0a0a0" stroke-width="1.6" />
<text x="96.8" y="87.4" font-size="8.7" fill="#808080" text-anchor="start" >|B|</text>
<g clip-path="url(#cL2)">
<line x1="71.6" y1="234.5" x2="525.4" y2="234.5" stroke="#282828" stroke-width="0.95" stroke-dasharray="4.3 2.1" />
<path transform="scale(.1)" d="M716 1951l10 2 10 1 10 1 10-1 10 2 10 6 10 1 10 0 10-5 10-6 10-4 10-3 10 11 10 14 10 10 10-2 10-6 10-7 10-3 10 3 10 5 10 7 10 4 10 4 10 1 10-4 10 2 10-5 10-4 10-10 10-6 10 0 10 2 10 3 10-2 10-7 10-6 10-5 10 0 10-7 10-2 10-2 10-8 10 0 10 2 10-9 10-2 10-1 10-3 10 2 10 1 10-2 10 5 10 1 10-1 10-4 10-8 10-3 10-3 10 7 10-1 10-4 10-10 10-9 10-7 10-1 10-10 10-4 10 2 10 4 10 0 10-8 10-7 10 4 10-2 10-2 10 4 10 2 10-1 10-1 10 0 10 4 10-1 10-1 10-1 10-6 10 4 10 1 10-1 10-7 10-1 10 4 10-6 10 1 10 4 10-4 10 5 10 0 10-2 10 0 10 1 10-1 10 2 10-4 10-2 10 4 10 0 10-1 10 6 10 6 10-1 10-3 10 4 10 2 10 2 10 7 10-1 10 6 10-2 10 0 10 3 10 1 10-3 10-5 10-6 10-5 10-3 10-6 10-4 10-4 10-5 10-3 10-3 10 1 10-4 10-5 10-4 10-2 10 1 10-3 10-1 10 5 10-10 10-2 10 3 10 2 10 1 10-1 10 2 10 0 10-2 10 7 10-2 10-4 10-2 10-2 10-1 10-9 10 1 10 4 10-4 10 0 10 3 10 0 10 2 10-8 10-2 10-1 10 1 10 2 10-10 10 5 10-5 10 3 10-5 10 1 10 4 10-2 10-1 10 1 10-1 10-2 10 3 10 1 10-2 10 8 10-6 10 3 10-1 10 1 10 2 10 1 10 2 10-5 10-2 10 6 10-1 10-1 10-1 10 7 10 3 10 3 10-4 10 0 10-3 10 4 10 5 10-5 10 5 10 1 10-2 10-6 10 7 10 2 10 3 10 7 10 7 10 9 10 1 10 9 10 9 10 7 10 3 10 4 10 11 10 7 10 9 10 12 10 6 10 1 10 10 10 5 10 15 10 14 10 11 10 15 10 17 10 14 10 17 10 11 10 14 10 15 10 14 10 7 10 14 10 5 10 10 10 6 10 13 10-1 10 2 10 2 10 1 10-1 10 2 10 6 10-1 10 1 10 3 10-2 10-3 10 1 10 5 10-4 10 1 10 6 10 3 10 1 10 4 10 2 10-1 10 0 10 4 10 8 10 1 10 0 10-2 10-6 10 0 10-5 10 1 10-9 10 1 10-3 10-7 10 2 10-2 10-8 10-2 10 2 10-2 10 2 10 1 10-1 10-2 10 1 10-2 10-3 10-9 10 2 10 2 10-4 10-3 10 4 10-8 10 2 10 6 10-6 10 1 10 4 10-4 10 0 10 0 10-5 10-1 10 1 10 1 10-1 10-1 10-3 10 2 10 4 10 1 10-2 10 0 10 9 10 3 10 0 10-9 10 5 10 2 10 5 10 1 10-1 10 3 10-5 10 6 10 3 10 0 10 6 10 6 10-5 10 0 10 3 10 3 10 1 10-1 10 9 10 3 10-5 10-3 10 7 10 2 10 4 10 0 10-5 10 1 10-7 10 0 10 1 10 2 10-2 10 0 10 1 10 0 10 1 10-1 10-3 10 2 10-2 10-3 10-2 10 1 10 2 10 5 10 4 10 5 10 4 10 1 10 7 10 7 10 5 10 2 10 3 10-2 10-3 10 4 10 0 10 5 10-2 10-5 10 2 10 9 10 1 10-2 10 1 10 4 10 4 10 1 10 5 10 1 10 0 10 1 10 5 10 1 10 2 10-5 10 0 10 3 10 0 10 2 10-1 10-1 10-5 10 4 10-3 10-6 10-4 10 3 10-7 10-2 10-4 10-7 10-9 10-4 10-3 10-2 10-4 10-6 10-3 10-5 10-6 10-4 10-4 10 0 10-5 10-1 10 0 10-4 10 0 10-5 10 1 10 4 10 2 10 0 10 0 10-3 10 8 10 1 10 2 10-4 10 0 10-4 8 5" fill="none" stroke="#4848ff" stroke-width="9" stroke-linejoin="round" />
<path transform="scale(.1)" d="M716 2285l10-1 10-4 10-8 10 2 10 4 10-1 10 1 10 1 10-1 10-4 10 1 10 1 10-3 10 1 10-1 10 3 10 4 10 0 10-2 10 7 10 3 10 6 10-2 10 5 10 7 10 5 10-2 10 2 10 0 10 5 10 3 10 0 10-4 10 3 10 0 10 3 10 1 10 4 10 2 10-2 10 1 10 4 10-3 10 0 10 1 10 0 10-2 10-6 10-4 10 0 10 1 10 4 10-6 10-1 10-4 10-11 10-6 10-4 10-5 10-5 10-3 10-7 10-2 10-3 10 0 10 4 10 0 10 3 10 6 10 0 10 1 10 3 10 0 10 4 10-2 10 4 10 0 10 1 10 7 10-1 10 6 10 2 10 3 10-4 10 2 10 0 10-3 10-3 10 4 10-4 10-4 10-3 10 0 10 1 10 2 10 6 10-1 10 2 10 5 10-3 10 5 10 5 10-4 10-1 10 1 10-2 10 5 10-4 10 4 10 4 10-4 10 0 10-4 10 5 10-1 10 0 10 1 10 1 10-3 10-3 10-5 10-3 10-6 10-2 10-8 10-3 10 3 10-3 10-4 10 3 10 1 10-1 10 3 10 7 10 4 10 2 10 0 10 1 10 6 10 1 10-2 10-3 10 0 10 9 10-3 10 2 10 1 10 0 10 0 10-4 10-3 10 5 10-3 10 1 10-6 10-1 10 1 10 3 10-2 10 6 10 5 10 2 10 6 10 2 10 3 10 6 10-2 10 7 10 4 10 3 10 4 10 5 10-1 10 4 10-4 10-3 10 5 10 0 10 1 10-4 10 2 10-1 10 1 10-2 10 1 10-5 10-4 10-4 10 4 10-4 10-3 10-2 10-1 10-2 10 0 10-2 10-1 10-2 10-1 10-3 10-2 10-2 10-3 10-9 10-2 10-4 10 1 10-7 10-4 10-2 10-3 10 0 10-4 10-1 10-7 10-7 10 3 10-2 10-2 10-4 10-2 10-7 10 1 10-5 10 1 10-3 10-7 10-4 10 3 10-2 10-1 10 3 10 2 10 2 10 4 10-1 10-1 10-10 10-6 10-10 10-14 10-18 10-15 10-7 10 1 10 2 10 5 10 4 10 10 10 5 10 4 10 2 10 9 10 7 10 6 10 7 10 4 10 12 10 9 10 14 10 5 10 4 10 7 10 4 10 3 10 3 10 3 10 9 10 6 10 7 10 1 10 4 10 0 10 6 10-3 10 3 10 3 10 3 10-4 10 3 10-2 10-1 10-2 10 5 10 5 10-3 10-1 10 0 10 7 10 0 10-4 10-5 10-1 10 4 10 4 10-3 10-2 10-2 10-4 10 4 10-2 10 3 10-4 10-2 10 2 10-1 10 3 10 0 10-4 10 2 10 1 10-6 10 5 10-1 10 0 10-7 10-2 10 0 10 2 10-5 10-1 10-5 10 1 10 2 10-4 10 0 10 2 10 4 10 0 10-2 10-2 10-1 10 0 10 3 10 1 10 5 10 0 10-3 10 5 10 1 10 0 10-3 10-3 10 0 10 4 10 0 10-2 10 3 10 1 10 1 10 1 10 2 10-5 10 2 10-5 10 2 10-1 10-1 10 2 10-2 10 1 10 0 10-2 10-3 10-3 10-1 10 0 10 1 10 7 10-2 10 0 10-5 10-2 10-1 10 1 10-3 10 5 10-3 10 2 10-7 10 1 10 2 10 0 10 2 10 1 10 0 10-4 10 1 10-3 10 5 10 3 10 1 10-1 10 1 10 6 10 4 10-1 10 2 10-5 10-5 10 1 10 0 10 0 10 2 10 9 10-4 10-1 10 0 10-1 10 2 10 3 10-5 10 0 10-2 10 0 10-6 10-5 10-4 10 3 10 0 10 0 10-7 10 0 10-2 10-3 10-1 10 2 10 1 10 0 10 3 10 0 10 2 10 3 10 3 10 1 10 2 10 1 10 0 10 7 10 0 10-1 10 3 10 0 10-7 10 1 10 1 10 2 10 0 10-1 10-6 10-2 10 0 10 1 8-3" fill="none" stroke="#30e830" stroke-width="9" stroke-linejoin="round" />
<path transform="scale(.1)" d="M716 2354l10 0 10 1 10 2 10 0 10-3 10 5 10 4 10-1 10 2 10 0 10 1 10 0 10-3 10 1 10 0 10-5 10 3 10 1 10 0 10-1 10-4 10-6 10-3 10-2 10 4 10 4 10 5 10-2 10 11 10 7 10 1 10 3 10 2 10 0 10-3 10-3 10-4 10-1 10-2 10-1 10-4 10-1 10-2 10 0 10-5 10 1 10 2 10 1 10-1 10-1 10 0 10 3 10 4 10-2 10-2 10 2 10 1 10-3 10-1 10 1 10 2 10-4 10-2 10 3 10-3 10 1 10 1 10 0 10-3 10 2 10 1 10 2 10-1 10 4 10-3 10 1 10 2 10 4 10-1 10 2 10-1 10 3 10 4 10-2 10-1 10-3 10 2 10 2 10-2 10-5 10 1 10 3 10 1 10-1 10-6 10-2 10 4 10-4 10 5 10 6 10 2 10 3 10 0 10-2 10 3 10 2 10 3 10 4 10 0 10 0 10 0 10-2 10 4 10-2 10-2 10-3 10-3 10 3 10-1 10-5 10-1 10 0 10-1 10 3 10-2 10 3 10 2 10-1 10 2 10 2 10 3 10 0 10 2 10-3 10 1 10 5 10 4 10 0 10-1 10 2 10-6 10-1 10 3 10 1 10-3 10-4 10 5 10 0 10-3 10 0 10 2 10-7 10 4 10 2 10-6 10 4 10-4 10 4 10 1 10 5 10-3 10-1 10 2 10-3 10-2 10 0 10 0 10-2 10 3 10 1 10 0 10 4 10-3 10 2 10-4 10 0 10-7 10 1 10-1 10-2 10-2 10-1 10-2 10-5 10 0 10 0 10 0 10-2 10 0 10 3 10-1 10-1 10 3 10 1 10 0 10 1 10-4 10-2 10 2 10-3 10-1 10 0 10 0 10-1 10 1 10-1 10 1 10 1 10 0 10-1 10-4 10-4 10 0 10 2 10 4 10-5 10 1 10-3 10-2 10-1 10 1 10-1 10 0 10-5 10 0 10 0 10-3 10-2 10-4 10-4 10-2 10-2 10 7 10-1 10 7 10 4 10 4 10 7 10 5 10 13 10 11 10 7 10 11 10 6 10 1 10 1 10-5 10-1 10-1 10-5 10 1 10-6 10-5 10 1 10-4 10-1 10-5 10 1 10-4 10 1 10-5 10 1 10-2 10 0 10 0 10 0 10-3 10-6 10 3 10 0 10 0 10 3 10-5 10 0 10 1 10-1 10 2 10 0 10-1 10-1 10 4 10-1 10 2 10 2 10-5 10-1 10 2 10 2 10 3 10 2 10 1 10-2 10-1 10 2 10-2 10 3 10-5 10 3 10 0 10-4 10 4 10 1 10 0 10-2 10 0 10 5 10-3 10-7 10 1 10 1 10 2 10 2 10-1 10 0 10 5 10-3 10 6 10-2 10-2 10 4 10 2 10-3 10 3 10-4 10 0 10 6 10 0 10-2 10 3 10 3 10 0 10-4 10 2 10 3 10 3 10 4 10-2 10-2 10-1 10 2 10-6 10 1 10-10 10 2 10-4 10 0 10 0 10-6 10-1 10-1 10-1 10-5 10-4 10-4 10 8 10-2 10-1 10-4 10 3 10-2 10 3 10 1 10-2 10 0 10-4 10-1 10-1 10-3 10 2 10 0 10 4 10-9 10 1 10 0 10 2 10 2 10 2 10 0 10-1 10 2 10 0 10-5 10 1 10-2 10 0 10 3 10 2 10 2 10-2 10 1 10-1 10 3 10 3 10 4 10 2 10-4 10-1 10-2 10 1 10 4 10-1 10-9 10-3 10-2 10 2 10 0 10 0 10 3 10-5 10-4 10 4 10-1 10-5 10-6 10-3 10-4 10 3 10 1 10 4 10 0 10 0 10 0 10 7 10-4 10 3 10 1 10 3 10 2 10 6 10 10 10 8 10 7 10 7 10 3 10 4 10 2 10 3 10 5 10 4 10-2 10 3 10 1 10 3 10 0 10 0 10-2 10-1 10 3 10 3 10 1 10 0 10 0 10-2 8-4" fill="none" stroke="#ff4040" stroke-width="9" stroke-linejoin="round" />
</g>
<line x1="212.5" y1="178.2" x2="212.5" y2="722.8" stroke="#0cac0c" stroke-width="1.25" stroke-dasharray="7.1 5.2" />
<line x1="269" y1="178.2" x2="269" y2="722.8" stroke="#4060ff" stroke-width="1.8" stroke-dasharray="2 3" />
<line x1="285.5" y1="178.2" x2="285.5" y2="722.8" stroke="#ff0000" stroke-width="1.25" stroke-dasharray="7.1 5.2" />
<line x1="311.9" y1="178.2" x2="311.9" y2="722.8" stroke="#ff00ff" stroke-width="1.8" stroke-dasharray="2 3" />
<line x1="431.2" y1="178.2" x2="431.2" y2="722.8" stroke="#ff0000" stroke-width="1.25" stroke-dasharray="7.1 5.2" />
<line x1="504.4" y1="178.2" x2="504.4" y2="722.8" stroke="#0cac0c" stroke-width="1.25" stroke-dasharray="7.1 5.2" />
<line x1="213.7" y1="178.2" x2="213.7" y2="244.5" stroke="#0cac0c" stroke-width="1.25" stroke-dasharray="7.1 5.2" />
<rect x="71.6" y="176.2" width="453.8" height="68.3" fill="none" stroke="#000" stroke-width="1.2"/>
<line x1="124.5" y1="176.2" x2="124.5" y2="186.7" stroke="#383838" stroke-width="1.25" />
<line x1="124.5" y1="244.5" x2="124.5" y2="234" stroke="#383838" stroke-width="1.25" />
<line x1="215.9" y1="176.2" x2="215.9" y2="186.7" stroke="#383838" stroke-width="1.25" />
<line x1="215.9" y1="244.5" x2="215.9" y2="234" stroke="#383838" stroke-width="1.25" />
<line x1="307.3" y1="176.2" x2="307.3" y2="186.7" stroke="#383838" stroke-width="1.25" />
<line x1="307.3" y1="244.5" x2="307.3" y2="234" stroke="#383838" stroke-width="1.25" />
<line x1="398.7" y1="176.2" x2="398.7" y2="186.7" stroke="#383838" stroke-width="1.25" />
<line x1="398.7" y1="244.5" x2="398.7" y2="234" stroke="#383838" stroke-width="1.25" />
<line x1="490.1" y1="176.2" x2="490.1" y2="186.7" stroke="#383838" stroke-width="1.25" />
<line x1="490.1" y1="244.5" x2="490.1" y2="234" stroke="#383838" stroke-width="1.25" />
<line x1="87.9" y1="176.2" x2="87.9" y2="179.8" stroke="#000" stroke-width="0.9" />
<line x1="87.9" y1="244.5" x2="87.9" y2="240.9" stroke="#000" stroke-width="0.9" />
<line x1="106.2" y1="176.2" x2="106.2" y2="179.8" stroke="#000" stroke-width="0.9" />
<line x1="106.2" y1="244.5" x2="106.2" y2="240.9" stroke="#000" stroke-width="0.9" />
<line x1="142.8" y1="176.2" x2="142.8" y2="179.8" stroke="#000" stroke-width="0.9" />
<line x1="142.8" y1="244.5" x2="142.8" y2="240.9" stroke="#000" stroke-width="0.9" />
<line x1="161.1" y1="176.2" x2="161.1" y2="179.8" stroke="#000" stroke-width="0.9" />
<line x1="161.1" y1="244.5" x2="161.1" y2="240.9" stroke="#000" stroke-width="0.9" />
<line x1="179.3" y1="176.2" x2="179.3" y2="179.8" stroke="#000" stroke-width="0.9" />
<line x1="179.3" y1="244.5" x2="179.3" y2="240.9" stroke="#000" stroke-width="0.9" />
<line x1="197.6" y1="176.2" x2="197.6" y2="179.8" stroke="#000" stroke-width="0.9" />
<line x1="197.6" y1="244.5" x2="197.6" y2="240.9" stroke="#000" stroke-width="0.9" />
<line x1="234.2" y1="176.2" x2="234.2" y2="179.8" stroke="#000" stroke-width="0.9" />
<line x1="234.2" y1="244.5" x2="234.2" y2="240.9" stroke="#000" stroke-width="0.9" />
<line x1="252.5" y1="176.2" x2="252.5" y2="179.8" stroke="#000" stroke-width="0.9" />
<line x1="252.5" y1="244.5" x2="252.5" y2="240.9" stroke="#000" stroke-width="0.9" />
<line x1="270.7" y1="176.2" x2="270.7" y2="179.8" stroke="#000" stroke-width="0.9" />
<line x1="270.7" y1="244.5" x2="270.7" y2="240.9" stroke="#000" stroke-width="0.9" />
<line x1="289" y1="176.2" x2="289" y2="179.8" stroke="#000" stroke-width="0.9" />
<line x1="289" y1="244.5" x2="289" y2="240.9" stroke="#000" stroke-width="0.9" />
<line x1="325.6" y1="176.2" x2="325.6" y2="179.8" stroke="#000" stroke-width="0.9" />
<line x1="325.6" y1="244.5" x2="325.6" y2="240.9" stroke="#000" stroke-width="0.9" />
<line x1="343.9" y1="176.2" x2="343.9" y2="179.8" stroke="#000" stroke-width="0.9" />
<line x1="343.9" y1="244.5" x2="343.9" y2="240.9" stroke="#000" stroke-width="0.9" />
<line x1="362.1" y1="176.2" x2="362.1" y2="179.8" stroke="#000" stroke-width="0.9" />
<line x1="362.1" y1="244.5" x2="362.1" y2="240.9" stroke="#000" stroke-width="0.9" />
<line x1="380.4" y1="176.2" x2="380.4" y2="179.8" stroke="#000" stroke-width="0.9" />
<line x1="380.4" y1="244.5" x2="380.4" y2="240.9" stroke="#000" stroke-width="0.9" />
<line x1="417" y1="176.2" x2="417" y2="179.8" stroke="#000" stroke-width="0.9" />
<line x1="417" y1="244.5" x2="417" y2="240.9" stroke="#000" stroke-width="0.9" />
<line x1="435.3" y1="176.2" x2="435.3" y2="179.8" stroke="#000" stroke-width="0.9" />
<line x1="435.3" y1="244.5" x2="435.3" y2="240.9" stroke="#000" stroke-width="0.9" />
<line x1="453.5" y1="176.2" x2="453.5" y2="179.8" stroke="#000" stroke-width="0.9" />
<line x1="453.5" y1="244.5" x2="453.5" y2="240.9" stroke="#000" stroke-width="0.9" />
<line x1="471.8" y1="176.2" x2="471.8" y2="179.8" stroke="#000" stroke-width="0.9" />
<line x1="471.8" y1="244.5" x2="471.8" y2="240.9" stroke="#000" stroke-width="0.9" />
<line x1="508.4" y1="176.2" x2="508.4" y2="179.8" stroke="#000" stroke-width="0.9" />
<line x1="508.4" y1="244.5" x2="508.4" y2="240.9" stroke="#000" stroke-width="0.9" />
<line x1="71.6" y1="234.3" x2="77.6" y2="234.3" stroke="#000" stroke-width="0.9" />
<line x1="525.4" y1="234.3" x2="519.4" y2="234.3" stroke="#000" stroke-width="0.9" />
<line x1="71.6" y1="220.8" x2="77.6" y2="220.8" stroke="#000" stroke-width="0.9" />
<line x1="525.4" y1="220.8" x2="519.4" y2="220.8" stroke="#000" stroke-width="0.9" />
<line x1="71.6" y1="207.3" x2="77.6" y2="207.3" stroke="#000" stroke-width="0.9" />
<line x1="525.4" y1="207.3" x2="519.4" y2="207.3" stroke="#000" stroke-width="0.9" />
<line x1="71.6" y1="193.8" x2="77.6" y2="193.8" stroke="#000" stroke-width="0.9" />
<line x1="525.4" y1="193.8" x2="519.4" y2="193.8" stroke="#000" stroke-width="0.9" />
<line x1="71.6" y1="180.3" x2="77.6" y2="180.3" stroke="#000" stroke-width="0.9" />
<line x1="525.4" y1="180.3" x2="519.4" y2="180.3" stroke="#000" stroke-width="0.9" />
<line x1="71.6" y1="242.4" x2="73.9" y2="242.4" stroke="#222" stroke-width="0.8" />
<line x1="525.4" y1="242.4" x2="523.1" y2="242.4" stroke="#222" stroke-width="0.8" />
<line x1="71.6" y1="239.7" x2="73.9" y2="239.7" stroke="#222" stroke-width="0.8" />
<line x1="525.4" y1="239.7" x2="523.1" y2="239.7" stroke="#222" stroke-width="0.8" />
<line x1="71.6" y1="237" x2="73.9" y2="237" stroke="#222" stroke-width="0.8" />
<line x1="525.4" y1="237" x2="523.1" y2="237" stroke="#222" stroke-width="0.8" />
<line x1="71.6" y1="231.6" x2="73.9" y2="231.6" stroke="#222" stroke-width="0.8" />
<line x1="525.4" y1="231.6" x2="523.1" y2="231.6" stroke="#222" stroke-width="0.8" />
<line x1="71.6" y1="228.9" x2="73.9" y2="228.9" stroke="#222" stroke-width="0.8" />
<line x1="525.4" y1="228.9" x2="523.1" y2="228.9" stroke="#222" stroke-width="0.8" />
<line x1="71.6" y1="226.2" x2="73.9" y2="226.2" stroke="#222" stroke-width="0.8" />
<line x1="525.4" y1="226.2" x2="523.1" y2="226.2" stroke="#222" stroke-width="0.8" />
<line x1="71.6" y1="223.5" x2="73.9" y2="223.5" stroke="#222" stroke-width="0.8" />
<line x1="525.4" y1="223.5" x2="523.1" y2="223.5" stroke="#222" stroke-width="0.8" />
<line x1="71.6" y1="218.1" x2="73.9" y2="218.1" stroke="#222" stroke-width="0.8" />
<line x1="525.4" y1="218.1" x2="523.1" y2="218.1" stroke="#222" stroke-width="0.8" />
<line x1="71.6" y1="215.4" x2="73.9" y2="215.4" stroke="#222" stroke-width="0.8" />
<line x1="525.4" y1="215.4" x2="523.1" y2="215.4" stroke="#222" stroke-width="0.8" />
<line x1="71.6" y1="212.7" x2="73.9" y2="212.7" stroke="#222" stroke-width="0.8" />
<line x1="525.4" y1="212.7" x2="523.1" y2="212.7" stroke="#222" stroke-width="0.8" />
<line x1="71.6" y1="210" x2="73.9" y2="210" stroke="#222" stroke-width="0.8" />
<line x1="525.4" y1="210" x2="523.1" y2="210" stroke="#222" stroke-width="0.8" />
<line x1="71.6" y1="204.6" x2="73.9" y2="204.6" stroke="#222" stroke-width="0.8" />
<line x1="525.4" y1="204.6" x2="523.1" y2="204.6" stroke="#222" stroke-width="0.8" />
<line x1="71.6" y1="201.9" x2="73.9" y2="201.9" stroke="#222" stroke-width="0.8" />
<line x1="525.4" y1="201.9" x2="523.1" y2="201.9" stroke="#222" stroke-width="0.8" />
<line x1="71.6" y1="199.2" x2="73.9" y2="199.2" stroke="#222" stroke-width="0.8" />
<line x1="525.4" y1="199.2" x2="523.1" y2="199.2" stroke="#222" stroke-width="0.8" />
<line x1="71.6" y1="196.5" x2="73.9" y2="196.5" stroke="#222" stroke-width="0.8" />
<line x1="525.4" y1="196.5" x2="523.1" y2="196.5" stroke="#222" stroke-width="0.8" />
<line x1="71.6" y1="191.1" x2="73.9" y2="191.1" stroke="#222" stroke-width="0.8" />
<line x1="525.4" y1="191.1" x2="523.1" y2="191.1" stroke="#222" stroke-width="0.8" />
<line x1="71.6" y1="188.4" x2="73.9" y2="188.4" stroke="#222" stroke-width="0.8" />
<line x1="525.4" y1="188.4" x2="523.1" y2="188.4" stroke="#222" stroke-width="0.8" />
<line x1="71.6" y1="185.7" x2="73.9" y2="185.7" stroke="#222" stroke-width="0.8" />
<line x1="525.4" y1="185.7" x2="523.1" y2="185.7" stroke="#222" stroke-width="0.8" />
<line x1="71.6" y1="183" x2="73.9" y2="183" stroke="#222" stroke-width="0.8" />
<line x1="525.4" y1="183" x2="523.1" y2="183" stroke="#222" stroke-width="0.8" />
<line x1="71.6" y1="177.6" x2="73.9" y2="177.6" stroke="#222" stroke-width="0.8" />
<line x1="525.4" y1="177.6" x2="523.1" y2="177.6" stroke="#222" stroke-width="0.8" />
<text x="69" y="238.1" font-size="10.67" fill="#000" text-anchor="end" >0</text>
<text x="69" y="224.8" font-size="10.67" fill="#000" text-anchor="end" >10</text>
<text x="69" y="211.4" font-size="10.67" fill="#000" text-anchor="end" >20</text>
<text x="69" y="198" font-size="10.67" fill="#000" text-anchor="end" >30</text>
<text x="69" y="184.4" font-size="10.67" fill="#000" text-anchor="end" >40</text>
<text transform="translate(43,212) rotate(-90)" font-size="10.67" fill="#000" text-anchor="middle">B<tspan font-size="8.6" dy="3">LMN</tspan><tspan dy="-3">&#8203;</tspan> [nT]</text>
<line x1="77.5" y1="188.5" x2="95.5" y2="188.5" stroke="#4848ff" stroke-width="1.0" />
<text x="96.5" y="192" font-size="9.3" fill="#0000ff" text-anchor="start" >B<tspan font-size="6.3" dy="3.3">L</tspan><tspan dy="-3.3">&#8203;</tspan></text>
<line x1="77.5" y1="211" x2="95.5" y2="211" stroke="#30e830" stroke-width="1.0" />
<text x="96.5" y="214.5" font-size="9.3" fill="#00ff00" text-anchor="start" >B<tspan font-size="6.3" dy="3.3">M</tspan><tspan dy="-3.3">&#8203;</tspan></text>
<line x1="77.5" y1="234" x2="95.5" y2="234" stroke="#ff4040" stroke-width="1.0" />
<text x="96.5" y="237" font-size="9.3" fill="#ff0000" text-anchor="start" >B<tspan font-size="6.3" dy="3.3">N</tspan><tspan dy="-3.3">&#8203;</tspan></text>
<rect x="71.6" y="244.5" width="453.8" height="68.3" fill="url(#gi)"/>
<rect x="71.6" y="244.5" width="453.8" height="68.3" fill="url(#gio)" mask="url(#mio)"/>
<rect x="71.6" y="244.5" width="453.8" height="68.3" fill="url(#giol)" mask="url(#miol)"/>
<g clip-path="url(#cL3)" fill="none" stroke-width="1.45">
<path d="M72.3 310.7v2.1M86 310.7v2.1M87.4 310.7v2.1M113.4 310.7v2.1M158.6 310.7v2.1M173.7 310.7v2.1M197 310.7v2.1M205.2 310.7v2.1M212 310.7v2.1M214.8 310.7v2.1M216.1 308.5v2.1M235.3 310.7v2.1M236.7 308.5v2.1M261.3 310.7v2.1M286 308.5v2.1M299.7 308.5v2.1M353.1 310.7v2.1M360 308.5v2.1M375.1 310.7v2.1M387.4 310.7v2.1M390.1 308.5v2.1M392.9 308.5v2.1M421.6 310.7v2.1M447.7 310.7v2.1M453.1 310.7v2.1M455.9 310.7v2.1M458.6 310.7v2.1M460 310.7v2.1M475.1 308.5v2.1M514.8 308.5v2.1" stroke="#ff00ff"/>
<path d="M72.3 308.5v2.1M73.7 308.5v2.1M75 308.5v2.1M79.1 308.5v2.1M83.2 308.5v2.1M84.6 308.5v2.1M92.8 308.5v2.1M95.6 308.5v2.1M99.7 308.5v2.1M101.1 308.5v2.1M103.8 308.5v2.1M105.2 308.5v2.1M107.9 308.5v2.1M109.3 308.5v2.1M120.2 308.5v2.1M128.5 308.5v2.1M135.3 308.5v2.1M136.7 308.5v2.1M138 308.5v2.1M150.4 308.5v2.1M155.9 308.5v2.1M160 308.5v2.1M162.7 308.5v2.1M164.1 308.5v2.1M169.6 308.5v2.1M170.9 308.5v2.1M172.3 308.5v2.1M176.4 308.5v2.1M181.9 308.5v2.1M186 308.5v2.1M206.5 308.5v2.1M212 308.5v2.1M213.4 308.5v2.1M220.2 308.5v2.1M224.4 308.5v2.1M225.7 308.5v2.1M235.3 308.5v2.1M242.2 308.5v2.1M246.3 308.5v2.1M249 308.5v2.1M253.1 308.5v2.1M258.6 308.5v2.1M266.8 308.5v2.1M269.6 308.5v2.1M273.7 308.5v2.1M276.4 308.5v2.1M279.2 308.5v2.1M281.9 308.5v2.1M288.7 308.5v2.1M292.9 308.5v2.1M294.2 308.5v2.1M297 308.5v2.1M301.1 308.5v2.1M302.4 308.5v2.1M312 308.5v2.1M321.6 308.5v2.1M323 308.5v2.1M328.5 308.5v2.1M331.2 308.5v2.1M334 308.5v2.1M335.3 308.5v2.1M338.1 308.5v2.1M339.4 308.5v2.1M350.4 308.5v2.1M351.8 308.5v2.1M353.1 308.5v2.1M354.5 308.5v2.1M357.2 308.5v2.1M366.8 308.5v2.1M370.9 308.5v2.1M373.7 308.5v2.1M383.3 308.5v2.1M384.6 308.5v2.1M387.4 308.5v2.1M388.8 308.5v2.1M394.2 308.5v2.1M395.6 308.5v2.1M398.3 308.5v2.1M403.8 308.5v2.1M405.2 308.5v2.1M406.6 308.5v2.1M409.3 308.5v2.1M414.8 308.5v2.1M416.2 308.5v2.1M418.9 308.5v2.1M423 308.5v2.1M424.4 308.5v2.1M431.2 308.5v2.1M432.6 308.5v2.1M434 308.5v2.1M435.3 308.5v2.1M438.1 308.5v2.1M440.8 308.5v2.1M443.6 308.5v2.1M446.3 308.5v2.1M447.7 308.5v2.1M449 308.5v2.1M450.4 308.5v2.1M460 308.5v2.1M461.4 308.5v2.1M464.1 308.5v2.1M465.5 308.5v2.1M480.5 308.5v2.1M481.9 308.5v2.1M484.7 308.5v2.1M487.4 308.5v2.1M490.1 308.5v2.1M502.5 308.5v2.1M509.3 308.5v2.1M510.7 308.5v2.1M518.9 308.5v2.1M521.6 308.5v2.1" stroke="#0030f0"/>
<path d="M72.3 306.4v2.1M76.4 306.4v2.1M77.8 306.4v2.1M79.1 306.4v2.1M84.6 306.4v2.1M84.6 302.2v2.1M87.4 306.4v2.1M87.4 304.3v2.1M88.7 306.4v2.1M90.1 306.4v2.1M90.1 304.3v2.1M92.8 304.3v2.1M96.9 306.4v2.1M98.3 306.4v2.1M99.7 306.4v2.1M101.1 306.4v2.1M103.8 304.3v2.1M105.2 306.4v2.1M105.2 302.2v2.1M110.6 306.4v2.1M112 304.3v2.1M116.1 306.4v2.1M116.1 304.3v2.1M123 306.4v2.1M123 304.3v2.1M127.1 306.4v2.1M128.5 306.4v2.1M128.5 302.2v2.1M131.2 306.4v2.1M132.6 304.3v2.1M140.8 306.4v2.1M142.2 306.4v2.1M142.2 302.2v2.1M147.6 306.4v2.1M150.4 306.4v2.1M150.4 302.2v2.1M151.7 306.4v2.1M151.7 304.3v2.1M155.9 306.4v2.1M158.6 306.4v2.1M160 306.4v2.1M164.1 306.4v2.1M168.2 306.4v2.1M168.2 304.3v2.1M169.6 304.3v2.1M169.6 302.2v2.1M173.7 306.4v2.1M176.4 306.4v2.1M177.8 306.4v2.1M179.1 306.4v2.1M183.3 306.4v2.1M187.4 306.4v2.1M194.2 306.4v2.1M195.6 306.4v2.1M197 304.3v2.1M205.2 304.3v2.1M214.8 306.4v2.1M216.1 306.4v2.1M216.1 304.3v2.1M221.6 304.3v2.1M224.4 306.4v2.1M224.4 302.2v2.1M232.6 304.3v2.1M236.7 306.4v2.1M238.1 306.4v2.1M240.8 306.4v2.1M247.6 306.4v2.1M250.4 306.4v2.1M251.8 306.4v2.1M254.5 306.4v2.1M257.2 306.4v2.1M257.2 302.2v2.1M260 304.3v2.1M261.3 304.3v2.1M265.5 306.4v2.1M270.9 306.4v2.1M272.3 306.4v2.1M276.4 306.4v2.1M281.9 306.4v2.1M295.6 306.4v2.1M297 306.4v2.1M301.1 304.3v2.1M305.2 306.4v2.1M309.3 306.4v2.1M314.8 306.4v2.1M317.5 306.4v2.1M318.9 304.3v2.1M320.3 306.4v2.1M324.4 306.4v2.1M327.1 306.4v2.1M328.5 306.4v2.1M334 306.4v2.1M336.7 306.4v2.1M340.8 306.4v2.1M343.5 304.3v2.1M346.3 306.4v2.1M349 304.3v2.1M353.1 306.4v2.1M358.6 306.4v2.1M368.2 306.4v2.1M368.2 302.2v2.1M370.9 306.4v2.1M372.3 306.4v2.1M375.1 302.2v2.1M377.8 306.4v2.1M377.8 304.3v2.1M377.8 302.2v2.1M379.2 306.4v2.1M380.5 306.4v2.1M384.6 306.4v2.1M390.1 306.4v2.1M392.9 306.4v2.1M394.2 306.4v2.1M395.6 306.4v2.1M397 306.4v2.1M399.7 306.4v2.1M399.7 302.2v2.1M401.1 306.4v2.1M402.5 306.4v2.1M413.4 306.4v2.1M417.5 306.4v2.1M418.9 306.4v2.1M420.3 306.4v2.1M421.6 302.2v2.1M423 306.4v2.1M423 302.2v2.1M427.1 306.4v2.1M432.6 306.4v2.1M435.3 306.4v2.1M436.7 306.4v2.1M447.7 306.4v2.1M449 306.4v2.1M451.8 306.4v2.1M453.1 306.4v2.1M455.9 306.4v2.1M462.7 306.4v2.1M464.1 306.4v2.1M464.1 304.3v2.1M471 304.3v2.1M473.7 306.4v2.1M475.1 306.4v2.1M483.3 306.4v2.1M486 306.4v2.1M491.5 306.4v2.1M494.2 306.4v2.1M499.7 306.4v2.1M505.2 302.2v2.1M509.3 306.4v2.1M516.2 306.4v2.1M517.5 306.4v2.1M518.9 304.3v2.1" stroke="#20a0ff"/>
<path d="M73.7 310.7v2.1M81.9 310.7v2.1M83.2 310.7v2.1M90.1 310.7v2.1M91.5 310.7v2.1M98.3 310.7v2.1M105.2 310.7v2.1M110.6 310.7v2.1M116.1 310.7v2.1M128.5 310.7v2.1M129.8 310.7v2.1M132.6 310.7v2.1M139.4 310.7v2.1M142.2 310.7v2.1M143.5 310.7v2.1M149 310.7v2.1M151.7 310.7v2.1M157.2 310.7v2.1M162.7 310.7v2.1M165.4 310.7v2.1M166.8 310.7v2.1M168.2 310.7v2.1M170.9 310.7v2.1M179.1 310.7v2.1M180.5 310.7v2.1M186 310.7v2.1M192.8 310.7v2.1M195.6 310.7v2.1M201.1 310.7v2.1M202.4 310.7v2.1M203.8 310.7v2.1M209.3 310.7v2.1M218.9 310.7v2.1M223 310.7v2.1M228.5 310.7v2.1M242.2 310.7v2.1M244.9 310.7v2.1M249 310.7v2.1M254.5 310.7v2.1M255.9 310.7v2.1M265.5 310.7v2.1M272.3 310.7v2.1M277.8 310.7v2.1M281.9 310.7v2.1M286 310.7v2.1M287.4 310.7v2.1M298.3 310.7v2.1M299.7 310.7v2.1M301.1 310.7v2.1M306.6 310.7v2.1M307.9 310.7v2.1M309.3 310.7v2.1M310.7 310.7v2.1M313.4 310.7v2.1M320.3 310.7v2.1M327.1 310.7v2.1M332.6 310.7v2.1M335.3 310.7v2.1M336.7 310.7v2.1M339.4 310.7v2.1M340.8 310.7v2.1M349 310.7v2.1M350.4 310.7v2.1M354.5 310.7v2.1M357.2 310.7v2.1M362.7 310.7v2.1M368.2 310.7v2.1M373.7 310.7v2.1M376.4 310.7v2.1M377.8 310.7v2.1M384.6 310.7v2.1M391.5 310.7v2.1M392.9 310.7v2.1M398.3 310.7v2.1M407.9 310.7v2.1M412 310.7v2.1M418.9 310.7v2.1M420.3 310.7v2.1M427.1 310.7v2.1M429.9 310.7v2.1M432.6 310.7v2.1M435.3 310.7v2.1M436.7 310.7v2.1M438.1 310.7v2.1M439.4 310.7v2.1M440.8 310.7v2.1M450.4 310.7v2.1M462.7 310.7v2.1M465.5 310.7v2.1M468.2 310.7v2.1M473.7 310.7v2.1M475.1 310.7v2.1M477.8 310.7v2.1M479.2 310.7v2.1M480.5 310.7v2.1M481.9 310.7v2.1M483.3 310.7v2.1M491.5 310.7v2.1M494.2 310.7v2.1M506.6 310.7v2.1M509.3 310.7v2.1M510.7 310.7v2.1M516.2 310.7v2.1M518.9 310.7v2.1M520.3 310.7v2.1" stroke="#2080ff"/>
<path d="M73.7 306.4v2.1M73.7 304.3v2.1M75 306.4v2.1M75 304.3v2.1M75 300v2.1M77.8 302.2v2.1M79.1 304.3v2.1M79.1 302.2v2.1M80.5 302.2v2.1M80.5 297.9v2.1M81.9 306.4v2.1M83.2 297.9v2.1M84.6 304.3v2.1M86 306.4v2.1M86 304.3v2.1M87.4 297.9v2.1M88.7 300v2.1M91.5 306.4v2.1M91.5 304.3v2.1M91.5 302.2v2.1M94.2 306.4v2.1M94.2 304.3v2.1M94.2 302.2v2.1M95.6 306.4v2.1M95.6 302.2v2.1M96.9 302.2v2.1M99.7 304.3v2.1M99.7 302.2v2.1M101.1 304.3v2.1M101.1 300v2.1M101.1 297.9v2.1M103.8 306.4v2.1M105.2 304.3v2.1M106.5 302.2v2.1M107.9 304.3v2.1M109.3 306.4v2.1M110.6 304.3v2.1M110.6 300v2.1M112 300v2.1M113.4 304.3v2.1M113.4 302.2v2.1M114.8 306.4v2.1M114.8 300v2.1M116.1 302.2v2.1M117.5 300v2.1M118.9 304.3v2.1M120.2 306.4v2.1M120.2 304.3v2.1M120.2 302.2v2.1M121.6 306.4v2.1M121.6 304.3v2.1M121.6 302.2v2.1M121.6 300v2.1M124.3 300v2.1M125.7 306.4v2.1M125.7 300v2.1M127.1 304.3v2.1M128.5 304.3v2.1M132.6 306.4v2.1M132.6 300v2.1M133.9 306.4v2.1M133.9 304.3v2.1M133.9 302.2v2.1M135.3 302.2v2.1M138 306.4v2.1M138 300v2.1M139.4 306.4v2.1M139.4 304.3v2.1M140.8 300v2.1M142.2 304.3v2.1M143.5 304.3v2.1M144.9 306.4v2.1M144.9 300v2.1M146.3 306.4v2.1M149 304.3v2.1M149 302.2v2.1M150.4 304.3v2.1M151.7 302.2v2.1M153.1 302.2v2.1M153.1 300v2.1M154.5 306.4v2.1M154.5 302.2v2.1M155.9 304.3v2.1M155.9 300v2.1M157.2 306.4v2.1M157.2 304.3v2.1M158.6 304.3v2.1M158.6 302.2v2.1M161.3 302.2v2.1M162.7 300v2.1M164.1 304.3v2.1M164.1 300v2.1M165.4 306.4v2.1M166.8 304.3v2.1M169.6 300v2.1M169.6 297.9v2.1M170.9 304.3v2.1M170.9 302.2v2.1M170.9 300v2.1M172.3 304.3v2.1M173.7 302.2v2.1M173.7 297.9v2.1M176.4 304.3v2.1M176.4 302.2v2.1M176.4 300v2.1M177.8 302.2v2.1M179.1 304.3v2.1M180.5 306.4v2.1M180.5 302.2v2.1M181.9 302.2v2.1M181.9 300v2.1M183.3 302.2v2.1M183.3 300v2.1M184.6 306.4v2.1M184.6 300v2.1M186 306.4v2.1M186 304.3v2.1M186 300v2.1M186 297.9v2.1M187.4 304.3v2.1M187.4 302.2v2.1M188.7 306.4v2.1M188.7 304.3v2.1M190.1 302.2v2.1M190.1 300v2.1M191.5 306.4v2.1M191.5 300v2.1M192.8 306.4v2.1M194.2 304.3v2.1M194.2 300v2.1M199.7 306.4v2.1M199.7 304.3v2.1M201.1 306.4v2.1M201.1 302.2v2.1M202.4 306.4v2.1M202.4 304.3v2.1M202.4 302.2v2.1M202.4 300v2.1M203.8 304.3v2.1M203.8 302.2v2.1M206.5 304.3v2.1M207.9 306.4v2.1M207.9 304.3v2.1M209.3 306.4v2.1M209.3 304.3v2.1M210.7 304.3v2.1M212 306.4v2.1M212 302.2v2.1M213.4 306.4v2.1M213.4 304.3v2.1M214.8 300v2.1M218.9 306.4v2.1M218.9 304.3v2.1M220.2 306.4v2.1M221.6 297.9v2.1M225.7 297.9v2.1M227.1 304.3v2.1M227.1 302.2v2.1M227.1 300v2.1M228.5 306.4v2.1M228.5 304.3v2.1M228.5 300v2.1M229.8 306.4v2.1M229.8 304.3v2.1M232.6 306.4v2.1M232.6 300v2.1M233.9 304.3v2.1M235.3 304.3v2.1M235.3 302.2v2.1M235.3 300v2.1M236.7 300v2.1M236.7 297.9v2.1M238.1 304.3v2.1M239.4 304.3v2.1M240.8 302.2v2.1M242.2 304.3v2.1M243.5 304.3v2.1M243.5 300v2.1M244.9 304.3v2.1M244.9 302.2v2.1M246.3 306.4v2.1M246.3 302.2v2.1M247.6 302.2v2.1M249 306.4v2.1M249 297.9v2.1M253.1 306.4v2.1M253.1 302.2v2.1M254.5 304.3v2.1M254.5 302.2v2.1M254.5 300v2.1M257.2 304.3v2.1M258.6 306.4v2.1M258.6 304.3v2.1M262.7 306.4v2.1M262.7 304.3v2.1M262.7 302.2v2.1M262.7 300v2.1M265.5 297.9v2.1M266.8 300v2.1M269.6 300v2.1M270.9 304.3v2.1M273.7 306.4v2.1M273.7 302.2v2.1M275 304.3v2.1M276.4 297.9v2.1M277.8 306.4v2.1M277.8 302.2v2.1M277.8 297.9v2.1M279.2 304.3v2.1M279.2 302.2v2.1M280.5 300v2.1M284.6 306.4v2.1M286 304.3v2.1M286 297.9v2.1M287.4 306.4v2.1M288.7 302.2v2.1M290.1 306.4v2.1M290.1 304.3v2.1M292.9 306.4v2.1M294.2 306.4v2.1M294.2 304.3v2.1M294.2 302.2v2.1M294.2 300v2.1M295.6 304.3v2.1M295.6 300v2.1M297 304.3v2.1M298.3 306.4v2.1M298.3 302.2v2.1M298.3 300v2.1M299.7 304.3v2.1M303.8 306.4v2.1M305.2 304.3v2.1M306.6 306.4v2.1M306.6 302.2v2.1M306.6 297.9v2.1M307.9 306.4v2.1M310.7 306.4v2.1M310.7 302.2v2.1M312 306.4v2.1M312 302.2v2.1M312 300v2.1M313.4 304.3v2.1M313.4 300v2.1M314.8 304.3v2.1M314.8 302.2v2.1M316.1 304.3v2.1M317.5 297.9v2.1M318.9 306.4v2.1M321.6 306.4v2.1M321.6 304.3v2.1M323 306.4v2.1M323 304.3v2.1M323 302.2v2.1M324.4 304.3v2.1M325.7 306.4v2.1M325.7 302.2v2.1M325.7 300v2.1M325.7 297.9v2.1M327.1 304.3v2.1M327.1 302.2v2.1M329.8 306.4v2.1M331.2 306.4v2.1M331.2 302.2v2.1M331.2 297.9v2.1M332.6 304.3v2.1M334 300v2.1M335.3 302.2v2.1M336.7 304.3v2.1M338.1 306.4v2.1M339.4 306.4v2.1M339.4 304.3v2.1M340.8 300v2.1M342.2 297.9v2.1M343.5 302.2v2.1M344.9 304.3v2.1M344.9 302.2v2.1M344.9 300v2.1M346.3 302.2v2.1M350.4 300v2.1M351.8 300v2.1M353.1 304.3v2.1M353.1 300v2.1M354.5 304.3v2.1M355.9 306.4v2.1M357.2 306.4v2.1M358.6 304.3v2.1M358.6 302.2v2.1M358.6 297.9v2.1M361.4 304.3v2.1M362.7 302.2v2.1M364.1 304.3v2.1M365.5 306.4v2.1M365.5 302.2v2.1M365.5 300v2.1M366.8 306.4v2.1M366.8 302.2v2.1M368.2 304.3v2.1M369.6 306.4v2.1M370.9 304.3v2.1M370.9 302.2v2.1M372.3 304.3v2.1M372.3 302.2v2.1M373.7 304.3v2.1M373.7 300v2.1M375.1 306.4v2.1M375.1 304.3v2.1M375.1 300v2.1M376.4 306.4v2.1M376.4 304.3v2.1M376.4 302.2v2.1M376.4 300v2.1M379.2 302.2v2.1M380.5 304.3v2.1M381.9 306.4v2.1M381.9 304.3v2.1M381.9 300v2.1M383.3 306.4v2.1M383.3 304.3v2.1M383.3 297.9v2.1M384.6 304.3v2.1M384.6 302.2v2.1M384.6 300v2.1M386 304.3v2.1M387.4 302.2v2.1M387.4 300v2.1M388.8 304.3v2.1M388.8 300v2.1M390.1 304.3v2.1M391.5 304.3v2.1M394.2 300v2.1M397 304.3v2.1M398.3 304.3v2.1M401.1 304.3v2.1M402.5 304.3v2.1M403.8 306.4v2.1M403.8 304.3v2.1M405.2 304.3v2.1M405.2 302.2v2.1M407.9 304.3v2.1M409.3 300v2.1M410.7 306.4v2.1M410.7 302.2v2.1M412 304.3v2.1M413.4 304.3v2.1M413.4 300v2.1M414.8 306.4v2.1M414.8 304.3v2.1M416.2 304.3v2.1M416.2 297.9v2.1M417.5 300v2.1M420.3 302.2v2.1M421.6 306.4v2.1M421.6 304.3v2.1M424.4 300v2.1M425.7 306.4v2.1M425.7 304.3v2.1M425.7 302.2v2.1M425.7 300v2.1M428.5 304.3v2.1M429.9 302.2v2.1M431.2 306.4v2.1M431.2 302.2v2.1M431.2 300v2.1M432.6 304.3v2.1M432.6 297.9v2.1M434 306.4v2.1M435.3 304.3v2.1M436.7 302.2v2.1M436.7 297.9v2.1M438.1 300v2.1M439.4 306.4v2.1M439.4 300v2.1M439.4 297.9v2.1M440.8 306.4v2.1M440.8 304.3v2.1M440.8 302.2v2.1M442.2 300v2.1M443.6 302.2v2.1M444.9 304.3v2.1M444.9 302.2v2.1M444.9 297.9v2.1M446.3 304.3v2.1M446.3 302.2v2.1M446.3 300v2.1M450.4 306.4v2.1M450.4 300v2.1M451.8 304.3v2.1M451.8 302.2v2.1M453.1 302.2v2.1M453.1 300v2.1M455.9 304.3v2.1M457.3 306.4v2.1M458.6 306.4v2.1M460 306.4v2.1M460 304.3v2.1M461.4 297.9v2.1M464.1 297.9v2.1M465.5 306.4v2.1M465.5 304.3v2.1M466.8 302.2v2.1M468.2 306.4v2.1M468.2 304.3v2.1M469.6 302.2v2.1M469.6 297.9v2.1M471 306.4v2.1M472.3 304.3v2.1M473.7 304.3v2.1M473.7 302.2v2.1M479.2 306.4v2.1M479.2 302.2v2.1M480.5 304.3v2.1M481.9 306.4v2.1M481.9 302.2v2.1M483.3 300v2.1M484.7 302.2v2.1M486 304.3v2.1M486 302.2v2.1M487.4 304.3v2.1M487.4 302.2v2.1M488.8 306.4v2.1M488.8 300v2.1M490.1 306.4v2.1M491.5 300v2.1M492.9 304.3v2.1M494.2 304.3v2.1M495.6 306.4v2.1M495.6 304.3v2.1M495.6 302.2v2.1M495.6 300v2.1M497 306.4v2.1M497 304.3v2.1M498.4 306.4v2.1M498.4 304.3v2.1M501.1 304.3v2.1M501.1 302.2v2.1M502.5 306.4v2.1M503.8 306.4v2.1M503.8 304.3v2.1M505.2 306.4v2.1M505.2 300v2.1M506.6 304.3v2.1M506.6 302.2v2.1M507.9 306.4v2.1M507.9 304.3v2.1M507.9 302.2v2.1M509.3 304.3v2.1M509.3 297.9v2.1M510.7 306.4v2.1M513.4 297.9v2.1M514.8 306.4v2.1M516.2 304.3v2.1M517.5 302.2v2.1M520.3 306.4v2.1M520.3 304.3v2.1M520.3 300v2.1M521.6 304.3v2.1M523 306.4v2.1M523 304.3v2.1M524.4 306.4v2.1" stroke="#00e8ff"/>
<path d="M73.7 300v2.1M76.4 300v2.1M80.5 300v2.1M81.9 300v2.1M84.6 300v2.1M95.6 300v2.1M99.7 300v2.1M118.9 300v2.1M123 300v2.1M143.5 300v2.1M146.3 300v2.1M151.7 300v2.1M195.6 300v2.1M210.7 300v2.1M213.4 300v2.1M238.1 300v2.1M270.9 300v2.1M276.4 300v2.1M290.1 300v2.1M297 300v2.1M331.2 300v2.1M349 300v2.1M380.5 300v2.1M420.3 300v2.1M423 300v2.1M458.6 300v2.1M464.1 300v2.1M479.2 300v2.1M492.9 300v2.1M499.7 300v2.1M507.9 300v2.1M521.6 300v2.1M523 300v2.1" stroke="#00f060"/>
<path d="M75 310.7v2.1M76.4 310.7v2.1M77.8 310.7v2.1M79.1 310.7v2.1M84.6 310.7v2.1M88.7 310.7v2.1M95.6 310.7v2.1M99.7 310.7v2.1M101.1 310.7v2.1M103.8 310.7v2.1M106.5 310.7v2.1M107.9 310.7v2.1M109.3 310.7v2.1M112 310.7v2.1M114.8 310.7v2.1M118.9 310.7v2.1M120.2 310.7v2.1M121.6 310.7v2.1M123 310.7v2.1M124.3 310.7v2.1M125.7 310.7v2.1M127.1 310.7v2.1M131.2 310.7v2.1M133.9 310.7v2.1M135.3 310.7v2.1M136.7 310.7v2.1M138 310.7v2.1M140.8 310.7v2.1M144.9 310.7v2.1M150.4 310.7v2.1M154.5 310.7v2.1M155.9 310.7v2.1M161.3 310.7v2.1M164.1 310.7v2.1M172.3 310.7v2.1M175 310.7v2.1M176.4 310.7v2.1M177.8 310.7v2.1M183.3 310.7v2.1M184.6 310.7v2.1M187.4 310.7v2.1M188.7 310.7v2.1M190.1 310.7v2.1M191.5 310.7v2.1M194.2 310.7v2.1M198.3 310.7v2.1M199.7 310.7v2.1M206.5 310.7v2.1M207.9 310.7v2.1M210.7 310.7v2.1M213.4 310.7v2.1M216.1 310.7v2.1M220.2 310.7v2.1M221.6 310.7v2.1M225.7 310.7v2.1M229.8 310.7v2.1M231.2 310.7v2.1M232.6 310.7v2.1M236.7 310.7v2.1M238.1 310.7v2.1M240.8 310.7v2.1M243.5 310.7v2.1M247.6 310.7v2.1M250.4 310.7v2.1M251.8 310.7v2.1M257.2 310.7v2.1M260 310.7v2.1M262.7 310.7v2.1M264.1 310.7v2.1M266.8 310.7v2.1M270.9 310.7v2.1M273.7 310.7v2.1M275 310.7v2.1M276.4 310.7v2.1M279.2 310.7v2.1M280.5 310.7v2.1M283.3 310.7v2.1M284.6 310.7v2.1M288.7 310.7v2.1M290.1 310.7v2.1M292.9 310.7v2.1M297 310.7v2.1M302.4 310.7v2.1M303.8 310.7v2.1M312 310.7v2.1M314.8 310.7v2.1M316.1 310.7v2.1M317.5 310.7v2.1M318.9 310.7v2.1M323 310.7v2.1M324.4 310.7v2.1M328.5 310.7v2.1M329.8 310.7v2.1M331.2 310.7v2.1M334 310.7v2.1M338.1 310.7v2.1M342.2 310.7v2.1M351.8 310.7v2.1M355.9 310.7v2.1M358.6 310.7v2.1M361.4 310.7v2.1M364.1 310.7v2.1M365.5 310.7v2.1M366.8 310.7v2.1M370.9 310.7v2.1M372.3 310.7v2.1M379.2 310.7v2.1M380.5 310.7v2.1M381.9 310.7v2.1M383.3 310.7v2.1M388.8 310.7v2.1M390.1 310.7v2.1M395.6 310.7v2.1M397 310.7v2.1M399.7 310.7v2.1M401.1 310.7v2.1M402.5 310.7v2.1M403.8 310.7v2.1M406.6 310.7v2.1M410.7 310.7v2.1M416.2 310.7v2.1M423 310.7v2.1M425.7 310.7v2.1M431.2 310.7v2.1M434 310.7v2.1M442.2 310.7v2.1M443.6 310.7v2.1M444.9 310.7v2.1M446.3 310.7v2.1M451.8 310.7v2.1M457.3 310.7v2.1M464.1 310.7v2.1M469.6 310.7v2.1M471 310.7v2.1M472.3 310.7v2.1M484.7 310.7v2.1M486 310.7v2.1M487.4 310.7v2.1M488.8 310.7v2.1M490.1 310.7v2.1M492.9 310.7v2.1M495.6 310.7v2.1M497 310.7v2.1M499.7 310.7v2.1M501.1 310.7v2.1M502.5 310.7v2.1M503.8 310.7v2.1M507.9 310.7v2.1M512.1 310.7v2.1M513.4 310.7v2.1M514.8 310.7v2.1M521.6 310.7v2.1M523 310.7v2.1" stroke="#0020f0"/>
<path d="M76.4 308.5v2.1M77.8 308.5v2.1M80.5 308.5v2.1M87.4 308.5v2.1M88.7 308.5v2.1M90.1 308.5v2.1M91.5 308.5v2.1M98.3 308.5v2.1M102.4 308.5v2.1M113.4 308.5v2.1M123 308.5v2.1M125.7 308.5v2.1M127.1 308.5v2.1M131.2 308.5v2.1M146.3 308.5v2.1M147.6 308.5v2.1M154.5 308.5v2.1M157.2 308.5v2.1M158.6 308.5v2.1M166.8 308.5v2.1M175 308.5v2.1M179.1 308.5v2.1M187.4 308.5v2.1M188.7 308.5v2.1M197 308.5v2.1M202.4 308.5v2.1M205.2 308.5v2.1M217.5 308.5v2.1M218.9 308.5v2.1M221.6 308.5v2.1M227.1 308.5v2.1M231.2 308.5v2.1M238.1 308.5v2.1M255.9 308.5v2.1M257.2 308.5v2.1M262.7 308.5v2.1M268.2 308.5v2.1M270.9 308.5v2.1M272.3 308.5v2.1M290.1 308.5v2.1M298.3 308.5v2.1M305.2 308.5v2.1M307.9 308.5v2.1M309.3 308.5v2.1M310.7 308.5v2.1M316.1 308.5v2.1M317.5 308.5v2.1M324.4 308.5v2.1M329.8 308.5v2.1M343.5 308.5v2.1M346.3 308.5v2.1M349 308.5v2.1M358.6 308.5v2.1M362.7 308.5v2.1M368.2 308.5v2.1M372.3 308.5v2.1M375.1 308.5v2.1M379.2 308.5v2.1M380.5 308.5v2.1M412 308.5v2.1M413.4 308.5v2.1M421.6 308.5v2.1M427.1 308.5v2.1M429.9 308.5v2.1M444.9 308.5v2.1M451.8 308.5v2.1M455.9 308.5v2.1M468.2 308.5v2.1M471 308.5v2.1M472.3 308.5v2.1M477.8 308.5v2.1M479.2 308.5v2.1M483.3 308.5v2.1M486 308.5v2.1M501.1 308.5v2.1M505.2 308.5v2.1M513.4 308.5v2.1M517.5 308.5v2.1" stroke="#00e0ff"/>
<path d="M76.4 244.8v1.7M83.2 244.8v1.7M84.6 244.8v1.7M86 244.8v1.7M87.4 244.8v1.7M94.2 244.8v1.7M101.1 244.8v1.7M110.6 244.8v1.7M112 244.8v1.7M124.3 244.8v1.7M127.1 244.8v1.7M136.7 244.8v1.7M142.2 244.8v1.7M155.9 244.8v1.7M157.2 244.8v1.7M183.3 244.8v1.7M190.1 244.8v1.7M194.2 244.8v1.7M195.6 244.8v1.7M205.2 244.8v1.7M206.5 244.8v1.7M207.9 244.8v1.7M209.3 244.8v1.7M210.7 244.8v1.7M220.2 244.8v1.7M232.6 244.8v1.7M233.9 244.8v1.7M238.1 244.8v1.7M239.4 244.8v1.7M244.9 244.8v1.7M246.3 244.8v1.7M247.6 244.8v1.7M250.4 244.8v1.7M251.8 244.8v1.7M258.6 244.8v1.7M261.3 244.8v1.7M262.7 244.8v1.7M280.5 244.8v1.7M287.4 244.8v1.7M288.7 244.8v1.7M312 244.8v1.7M328.5 244.8v1.7M338.1 244.8v1.7M342.2 244.8v1.7M344.9 244.8v1.7M349 244.8v1.7M350.4 244.8v1.7M369.6 244.8v1.7M373.7 244.8v1.7M375.1 244.8v1.7M379.2 244.8v1.7M380.5 244.8v1.7M383.3 244.8v1.7M387.4 244.8v1.7M390.1 244.8v1.7M394.2 244.8v1.7M401.1 244.8v1.7M402.5 244.8v1.7M405.2 244.8v1.7M412 244.8v1.7M414.8 244.8v1.7M417.5 244.8v1.7M425.7 244.8v1.7M427.1 244.8v1.7M428.5 244.8v1.7M431.2 244.8v1.7M436.7 244.8v1.7M447.7 244.8v1.7M451.8 244.8v1.7M455.9 244.8v1.7M464.1 244.8v1.7M466.8 244.8v1.7M468.2 244.8v1.7M475.1 244.8v1.7M476.4 244.8v1.7M477.8 244.8v1.7M488.8 244.8v1.7M501.1 244.8v1.7M503.8 244.8v1.7M505.2 244.8v1.7M512.1 244.8v1.7M520.3 244.8v1.7" stroke="#00e8e0"/>
<path d="M80.5 310.7v2.1M92.8 310.7v2.1M94.2 310.7v2.1M96.9 310.7v2.1M102.4 310.7v2.1M117.5 310.7v2.1M146.3 310.7v2.1M147.6 310.7v2.1M153.1 310.7v2.1M160 310.7v2.1M169.6 310.7v2.1M181.9 310.7v2.1M217.5 310.7v2.1M224.4 310.7v2.1M227.1 310.7v2.1M233.9 310.7v2.1M239.4 310.7v2.1M246.3 310.7v2.1M253.1 310.7v2.1M258.6 310.7v2.1M268.2 310.7v2.1M269.6 310.7v2.1M291.5 310.7v2.1M294.2 310.7v2.1M295.6 310.7v2.1M305.2 310.7v2.1M321.6 310.7v2.1M325.7 310.7v2.1M343.5 310.7v2.1M344.9 310.7v2.1M346.3 310.7v2.1M347.7 310.7v2.1M360 310.7v2.1M369.6 310.7v2.1M386 310.7v2.1M394.2 310.7v2.1M405.2 310.7v2.1M409.3 310.7v2.1M413.4 310.7v2.1M414.8 310.7v2.1M417.5 310.7v2.1M424.4 310.7v2.1M428.5 310.7v2.1M449 310.7v2.1M454.5 310.7v2.1M461.4 310.7v2.1M466.8 310.7v2.1M476.4 310.7v2.1M498.4 310.7v2.1M505.2 310.7v2.1M517.5 310.7v2.1M524.4 310.7v2.1" stroke="#00d0ff"/>
<path d="M81.9 308.5v2.1M86 308.5v2.1M94.2 308.5v2.1M96.9 308.5v2.1M106.5 308.5v2.1M110.6 308.5v2.1M114.8 308.5v2.1M116.1 308.5v2.1M118.9 308.5v2.1M121.6 308.5v2.1M124.3 308.5v2.1M129.8 308.5v2.1M139.4 308.5v2.1M140.8 308.5v2.1M142.2 308.5v2.1M144.9 308.5v2.1M149 308.5v2.1M151.7 308.5v2.1M153.1 308.5v2.1M161.3 308.5v2.1M165.4 308.5v2.1M173.7 308.5v2.1M180.5 308.5v2.1M191.5 308.5v2.1M192.8 308.5v2.1M199.7 308.5v2.1M201.1 308.5v2.1M203.8 308.5v2.1M209.3 308.5v2.1M210.7 308.5v2.1M214.8 308.5v2.1M223 308.5v2.1M228.5 308.5v2.1M229.8 308.5v2.1M232.6 308.5v2.1M233.9 308.5v2.1M239.4 308.5v2.1M240.8 308.5v2.1M243.5 308.5v2.1M244.9 308.5v2.1M247.6 308.5v2.1M250.4 308.5v2.1M254.5 308.5v2.1M260 308.5v2.1M261.3 308.5v2.1M265.5 308.5v2.1M275 308.5v2.1M277.8 308.5v2.1M280.5 308.5v2.1M283.3 308.5v2.1M284.6 308.5v2.1M287.4 308.5v2.1M291.5 308.5v2.1M303.8 308.5v2.1M306.6 308.5v2.1M314.8 308.5v2.1M318.9 308.5v2.1M320.3 308.5v2.1M327.1 308.5v2.1M336.7 308.5v2.1M340.8 308.5v2.1M342.2 308.5v2.1M344.9 308.5v2.1M355.9 308.5v2.1M361.4 308.5v2.1M364.1 308.5v2.1M369.6 308.5v2.1M376.4 308.5v2.1M377.8 308.5v2.1M381.9 308.5v2.1M386 308.5v2.1M391.5 308.5v2.1M399.7 308.5v2.1M401.1 308.5v2.1M407.9 308.5v2.1M410.7 308.5v2.1M417.5 308.5v2.1M425.7 308.5v2.1M428.5 308.5v2.1M436.7 308.5v2.1M439.4 308.5v2.1M442.2 308.5v2.1M453.1 308.5v2.1M454.5 308.5v2.1M462.7 308.5v2.1M466.8 308.5v2.1M469.6 308.5v2.1M476.4 308.5v2.1M491.5 308.5v2.1M492.9 308.5v2.1M497 308.5v2.1M498.4 308.5v2.1M499.7 308.5v2.1M506.6 308.5v2.1M512.1 308.5v2.1M516.2 308.5v2.1M523 308.5v2.1" stroke="#2090ff"/>
<path d="M83.2 306.4v2.1M102.4 306.4v2.1M112 306.4v2.1M124.3 306.4v2.1M135.3 306.4v2.1M143.5 306.4v2.1M149 306.4v2.1M161.3 306.4v2.1M175 306.4v2.1M198.3 306.4v2.1M206.5 306.4v2.1M210.7 306.4v2.1M217.5 306.4v2.1M221.6 306.4v2.1M223 306.4v2.1M244.9 306.4v2.1M255.9 306.4v2.1M275 306.4v2.1M302.4 306.4v2.1M316.1 306.4v2.1M343.5 306.4v2.1M347.7 306.4v2.1M349 306.4v2.1M354.5 306.4v2.1M361.4 306.4v2.1M386 306.4v2.1M391.5 306.4v2.1M407.9 306.4v2.1M409.3 306.4v2.1M412 306.4v2.1M416.2 306.4v2.1M424.4 306.4v2.1M428.5 306.4v2.1M429.9 306.4v2.1M454.5 306.4v2.1M480.5 306.4v2.1M487.4 306.4v2.1M501.1 306.4v2.1M506.6 306.4v2.1M513.4 306.4v2.1" stroke="#1050ff"/>
</g>
<rect x="71.6" y="244.5" width="453.8" height="68.3" fill="none" stroke="#000" stroke-width="1.2"/>
<line x1="124.5" y1="244.5" x2="124.5" y2="255" stroke="#383838" stroke-width="1.25" />
<line x1="124.5" y1="312.8" x2="124.5" y2="302.3" stroke="#383838" stroke-width="1.25" />
<line x1="215.9" y1="244.5" x2="215.9" y2="255" stroke="#383838" stroke-width="1.25" />
<line x1="215.9" y1="312.8" x2="215.9" y2="302.3" stroke="#383838" stroke-width="1.25" />
<line x1="307.3" y1="244.5" x2="307.3" y2="255" stroke="#383838" stroke-width="1.25" />
<line x1="307.3" y1="312.8" x2="307.3" y2="302.3" stroke="#383838" stroke-width="1.25" />
<line x1="398.7" y1="244.5" x2="398.7" y2="255" stroke="#383838" stroke-width="1.25" />
<line x1="398.7" y1="312.8" x2="398.7" y2="302.3" stroke="#383838" stroke-width="1.25" />
<line x1="490.1" y1="244.5" x2="490.1" y2="255" stroke="#383838" stroke-width="1.25" />
<line x1="490.1" y1="312.8" x2="490.1" y2="302.3" stroke="#383838" stroke-width="1.25" />
<line x1="87.9" y1="244.5" x2="87.9" y2="248.1" stroke="#000" stroke-width="0.9" />
<line x1="87.9" y1="312.8" x2="87.9" y2="309.2" stroke="#000" stroke-width="0.9" />
<line x1="106.2" y1="244.5" x2="106.2" y2="248.1" stroke="#000" stroke-width="0.9" />
<line x1="106.2" y1="312.8" x2="106.2" y2="309.2" stroke="#000" stroke-width="0.9" />
<line x1="142.8" y1="244.5" x2="142.8" y2="248.1" stroke="#000" stroke-width="0.9" />
<line x1="142.8" y1="312.8" x2="142.8" y2="309.2" stroke="#000" stroke-width="0.9" />
<line x1="161.1" y1="244.5" x2="161.1" y2="248.1" stroke="#000" stroke-width="0.9" />
<line x1="161.1" y1="312.8" x2="161.1" y2="309.2" stroke="#000" stroke-width="0.9" />
<line x1="179.3" y1="244.5" x2="179.3" y2="248.1" stroke="#000" stroke-width="0.9" />
<line x1="179.3" y1="312.8" x2="179.3" y2="309.2" stroke="#000" stroke-width="0.9" />
<line x1="197.6" y1="244.5" x2="197.6" y2="248.1" stroke="#000" stroke-width="0.9" />
<line x1="197.6" y1="312.8" x2="197.6" y2="309.2" stroke="#000" stroke-width="0.9" />
<line x1="234.2" y1="244.5" x2="234.2" y2="248.1" stroke="#000" stroke-width="0.9" />
<line x1="234.2" y1="312.8" x2="234.2" y2="309.2" stroke="#000" stroke-width="0.9" />
<line x1="252.5" y1="244.5" x2="252.5" y2="248.1" stroke="#000" stroke-width="0.9" />
<line x1="252.5" y1="312.8" x2="252.5" y2="309.2" stroke="#000" stroke-width="0.9" />
<line x1="270.7" y1="244.5" x2="270.7" y2="248.1" stroke="#000" stroke-width="0.9" />
<line x1="270.7" y1="312.8" x2="270.7" y2="309.2" stroke="#000" stroke-width="0.9" />
<line x1="289" y1="244.5" x2="289" y2="248.1" stroke="#000" stroke-width="0.9" />
<line x1="289" y1="312.8" x2="289" y2="309.2" stroke="#000" stroke-width="0.9" />
<line x1="325.6" y1="244.5" x2="325.6" y2="248.1" stroke="#000" stroke-width="0.9" />
<line x1="325.6" y1="312.8" x2="325.6" y2="309.2" stroke="#000" stroke-width="0.9" />
<line x1="343.9" y1="244.5" x2="343.9" y2="248.1" stroke="#000" stroke-width="0.9" />
<line x1="343.9" y1="312.8" x2="343.9" y2="309.2" stroke="#000" stroke-width="0.9" />
<line x1="362.1" y1="244.5" x2="362.1" y2="248.1" stroke="#000" stroke-width="0.9" />
<line x1="362.1" y1="312.8" x2="362.1" y2="309.2" stroke="#000" stroke-width="0.9" />
<line x1="380.4" y1="244.5" x2="380.4" y2="248.1" stroke="#000" stroke-width="0.9" />
<line x1="380.4" y1="312.8" x2="380.4" y2="309.2" stroke="#000" stroke-width="0.9" />
<line x1="417" y1="244.5" x2="417" y2="248.1" stroke="#000" stroke-width="0.9" />
<line x1="417" y1="312.8" x2="417" y2="309.2" stroke="#000" stroke-width="0.9" />
<line x1="435.3" y1="244.5" x2="435.3" y2="248.1" stroke="#000" stroke-width="0.9" />
<line x1="435.3" y1="312.8" x2="435.3" y2="309.2" stroke="#000" stroke-width="0.9" />
<line x1="453.5" y1="244.5" x2="453.5" y2="248.1" stroke="#000" stroke-width="0.9" />
<line x1="453.5" y1="312.8" x2="453.5" y2="309.2" stroke="#000" stroke-width="0.9" />
<line x1="471.8" y1="244.5" x2="471.8" y2="248.1" stroke="#000" stroke-width="0.9" />
<line x1="471.8" y1="312.8" x2="471.8" y2="309.2" stroke="#000" stroke-width="0.9" />
<line x1="508.4" y1="244.5" x2="508.4" y2="248.1" stroke="#000" stroke-width="0.9" />
<line x1="508.4" y1="312.8" x2="508.4" y2="309.2" stroke="#000" stroke-width="0.9" />
<line x1="525.4" y1="255.6" x2="519.4" y2="255.6" stroke="#000" stroke-width="0.9" />
<line x1="71.6" y1="255.6" x2="77.6" y2="255.6" stroke="#000" stroke-width="0.9" />
<line x1="525.4" y1="275" x2="519.4" y2="275" stroke="#000" stroke-width="0.9" />
<line x1="71.6" y1="275" x2="77.6" y2="275" stroke="#000" stroke-width="0.9" />
<line x1="525.4" y1="294.3" x2="519.4" y2="294.3" stroke="#000" stroke-width="0.9" />
<line x1="71.6" y1="294.3" x2="77.6" y2="294.3" stroke="#000" stroke-width="0.9" />
<line x1="525.4" y1="307.8" x2="522.6" y2="307.8" stroke="#000" stroke-width="0.7" />
<line x1="71.6" y1="307.8" x2="74.4" y2="307.8" stroke="#000" stroke-width="0.7" />
<line x1="525.4" y1="304.4" x2="522.6" y2="304.4" stroke="#000" stroke-width="0.7" />
<line x1="71.6" y1="304.4" x2="74.4" y2="304.4" stroke="#000" stroke-width="0.7" />
<line x1="525.4" y1="302" x2="522.6" y2="302" stroke="#000" stroke-width="0.7" />
<line x1="71.6" y1="302" x2="74.4" y2="302" stroke="#000" stroke-width="0.7" />
<line x1="525.4" y1="300.1" x2="522.6" y2="300.1" stroke="#000" stroke-width="0.7" />
<line x1="71.6" y1="300.1" x2="74.4" y2="300.1" stroke="#000" stroke-width="0.7" />
<line x1="525.4" y1="298.6" x2="522.6" y2="298.6" stroke="#000" stroke-width="0.7" />
<line x1="71.6" y1="298.6" x2="74.4" y2="298.6" stroke="#000" stroke-width="0.7" />
<line x1="525.4" y1="297.3" x2="522.6" y2="297.3" stroke="#000" stroke-width="0.7" />
<line x1="71.6" y1="297.3" x2="74.4" y2="297.3" stroke="#000" stroke-width="0.7" />
<line x1="525.4" y1="296.2" x2="522.6" y2="296.2" stroke="#000" stroke-width="0.7" />
<line x1="71.6" y1="296.2" x2="74.4" y2="296.2" stroke="#000" stroke-width="0.7" />
<line x1="525.4" y1="295.2" x2="522.6" y2="295.2" stroke="#000" stroke-width="0.7" />
<line x1="71.6" y1="295.2" x2="74.4" y2="295.2" stroke="#000" stroke-width="0.7" />
<line x1="525.4" y1="288.5" x2="522.6" y2="288.5" stroke="#000" stroke-width="0.7" />
<line x1="71.6" y1="288.5" x2="74.4" y2="288.5" stroke="#000" stroke-width="0.7" />
<line x1="525.4" y1="285.1" x2="522.6" y2="285.1" stroke="#000" stroke-width="0.7" />
<line x1="71.6" y1="285.1" x2="74.4" y2="285.1" stroke="#000" stroke-width="0.7" />
<line x1="525.4" y1="282.7" x2="522.6" y2="282.7" stroke="#000" stroke-width="0.7" />
<line x1="71.6" y1="282.7" x2="74.4" y2="282.7" stroke="#000" stroke-width="0.7" />
<line x1="525.4" y1="280.8" x2="522.6" y2="280.8" stroke="#000" stroke-width="0.7" />
<line x1="71.6" y1="280.8" x2="74.4" y2="280.8" stroke="#000" stroke-width="0.7" />
<line x1="525.4" y1="279.3" x2="522.6" y2="279.3" stroke="#000" stroke-width="0.7" />
<line x1="71.6" y1="279.3" x2="74.4" y2="279.3" stroke="#000" stroke-width="0.7" />
<line x1="525.4" y1="278" x2="522.6" y2="278" stroke="#000" stroke-width="0.7" />
<line x1="71.6" y1="278" x2="74.4" y2="278" stroke="#000" stroke-width="0.7" />
<line x1="525.4" y1="276.9" x2="522.6" y2="276.9" stroke="#000" stroke-width="0.7" />
<line x1="71.6" y1="276.9" x2="74.4" y2="276.9" stroke="#000" stroke-width="0.7" />
<line x1="525.4" y1="275.9" x2="522.6" y2="275.9" stroke="#000" stroke-width="0.7" />
<line x1="71.6" y1="275.9" x2="74.4" y2="275.9" stroke="#000" stroke-width="0.7" />
<line x1="525.4" y1="269.2" x2="522.6" y2="269.2" stroke="#000" stroke-width="0.7" />
<line x1="71.6" y1="269.2" x2="74.4" y2="269.2" stroke="#000" stroke-width="0.7" />
<line x1="525.4" y1="265.8" x2="522.6" y2="265.8" stroke="#000" stroke-width="0.7" />
<line x1="71.6" y1="265.8" x2="74.4" y2="265.8" stroke="#000" stroke-width="0.7" />
<line x1="525.4" y1="263.4" x2="522.6" y2="263.4" stroke="#000" stroke-width="0.7" />
<line x1="71.6" y1="263.4" x2="74.4" y2="263.4" stroke="#000" stroke-width="0.7" />
<line x1="525.4" y1="261.5" x2="522.6" y2="261.5" stroke="#000" stroke-width="0.7" />
<line x1="71.6" y1="261.5" x2="74.4" y2="261.5" stroke="#000" stroke-width="0.7" />
<line x1="525.4" y1="260" x2="522.6" y2="260" stroke="#000" stroke-width="0.7" />
<line x1="71.6" y1="260" x2="74.4" y2="260" stroke="#000" stroke-width="0.7" />
<line x1="525.4" y1="258.7" x2="522.6" y2="258.7" stroke="#000" stroke-width="0.7" />
<line x1="71.6" y1="258.7" x2="74.4" y2="258.7" stroke="#000" stroke-width="0.7" />
<line x1="525.4" y1="257.6" x2="522.6" y2="257.6" stroke="#000" stroke-width="0.7" />
<line x1="71.6" y1="257.6" x2="74.4" y2="257.6" stroke="#000" stroke-width="0.7" />
<line x1="525.4" y1="256.6" x2="522.6" y2="256.6" stroke="#000" stroke-width="0.7" />
<line x1="71.6" y1="256.6" x2="74.4" y2="256.6" stroke="#000" stroke-width="0.7" />
<line x1="525.4" y1="249.8" x2="522.6" y2="249.8" stroke="#000" stroke-width="0.7" />
<line x1="71.6" y1="249.8" x2="74.4" y2="249.8" stroke="#000" stroke-width="0.7" />
<line x1="525.4" y1="246.4" x2="522.6" y2="246.4" stroke="#000" stroke-width="0.7" />
<line x1="71.6" y1="246.4" x2="74.4" y2="246.4" stroke="#000" stroke-width="0.7" />
<text x="527.3" y="259.8" font-size="10.67" fill="#000" text-anchor="start" >10<tspan font-size="7.5" dy="-4.5">4</tspan><tspan dy="4.5">&#8203;</tspan></text>
<text x="527.3" y="279.2" font-size="10.67" fill="#000" text-anchor="start" >10<tspan font-size="7.5" dy="-4.5">3</tspan><tspan dy="4.5">&#8203;</tspan></text>
<text x="527.3" y="298.5" font-size="10.67" fill="#000" text-anchor="start" >10<tspan font-size="7.5" dy="-4.5">2</tspan><tspan dy="4.5">&#8203;</tspan></text>
<text transform="translate(558,279.5) rotate(-90)" font-size="10.67" fill="#000" text-anchor="middle">Energy (eV)</text>
<g clip-path="url(#cL4)">
<path transform="scale(.1)" d="M716 3478l7-11 7 9 7-6 7-1 7-1 7-4 7-1 7-2 7 5 7-6 7-2 7-4 7-3 7-3 7 2 7 7 7-2 7-6 7 3 7-3 7-5 7-5 7-6 7 3 7-3 7-8 7-2 7 12 7-5 7-1 7-3 7-5 7 2 7 3 7-3 7 3 7 5 7-4 7 2 7-2 7 7 7-2 7 8 7-5 7 10 7-5 7-2 7 0 7 9 7-3 7 12 7 3 7-1 7-7 7 5 7 0 7-3 7 10 7 12 7-6 7 5 7 5 7-7 7 3 7 4 7 4 7-4 7 6 7 2 7 6 7-7 7 3 7 3 7 3 7 7 7-2 7 15 7-9 7 6 7 4 7 2 7-3 7-3 7 2 7 2 7-3 7 0 7-2 7-8 7-4 7 7 7-7 7-9 7 11 7-10 7-4 7 5 7-9 7-3 7 6 7-7 7 12 7-7 7 10 7-8 7-2 7-4 7 1 7 0 7 2 7 4 7-7 7 0 7-5 7 14 7-2 7 0 7 0 7 5 7 0 7 4 7-2 7 1 7 2 7-5 7 12 7-6 7 2 7 9 7 2 7 5 7 7 7 4 7 1 7-5 7 9 7-8 7 3 7 7 7-1 7 2 7 1 7 10 7-12 7 15 7 5 7-1 7 4 7-4 7 10 7 12 7-13 7 5 7-6 7-4 7-2 7-1 7-5 7-3 7 11 7-4 7 2 7 2 7 4 7-4 7 5 7 11 7 8 7-4 7 4 7 3 7 11 7 5 7 3 7 1 7 7 7 2 7-2 7 4 7-2 7 7 7 1 7-4 7 4 7 0 7-3 7-1 7-3 7 2 7 7 7 6 7-7 7 0 7 1 7 1 7-2 7 2 7-3 7-8 7 2 7-11 7 8 7 5 7 7 7 1 7 7 7 7 7-5 7 3 7 6 7 6 7 2 7 6 7-4 7 10 7 7 7 4 7 1 7-1 7 4 7 0 7-5 7 4 7 5 7 1 7-1 7 4 7 2 7 4 7 2 7 2 7 6 7-1 7 3 7-5 7-8 7 11 7 9 7 0 7 0 7-1 7 10 7-2 7 5 7 6 7 1 7 9 7-6 7 4 7 1 7-5 7 3 7-1 7-1 7 6 7-2 7 11 7-6 7 0 7 4 7-1 7 4 7-1 7-3 7-4 7 4 7 15 7 0 7 0 7-1 7 2 7 3 7-5 7 2 7 1 7 10 7-7 7 7 7-6 7 11 7-9 7-3 7 4 7-1 7-1 7-9 7 6 7 4 7-8 7-4 7-4 7 7 7-2 7-2 7-6 7 10 7-1 7-4 7 5 7-10 7 5 7-7 7 8 7-6 7 2 7-10 7-5 7-4 7-14 7-5 7-11 7 0 7-12 7-7 7-7 7-1 7-15 7-6 7-9 7-9 7-9 7-6 7-5 7-15 7-2 7-12 7-5 7 3 7-18 7-7 7-9 7-3 7-13 7-15 7-9 7-1 7-5 7-4 7-14 7-4 7-14 7 0 7-12 7-13 7-6 7-2 7-18 7-13 7-9 7-10 7-5 7-5 7-11 7-7 7-4 7-11 7-11 7-12 7 3 7-6 7-5 7-2 7-4 7-14 7-6 7-1 7-5 7 0 7-10 7-12 7 9 7-11 7-2 7 4 7-7 7 12 7-8 7-2 7-7 7 8 7-6 7-9 7 4 7-13 7-1 7 2 7-1 7-6 7 9 7 1 7-11 7 2 7-4 7-1 7 5 7-3 7-3 7 0 7-7 7 8 7-7 7 6 7-6 7-3 7 8 7-4 7-4 7-1 7 5 7 7 7-3 7-5 7-4 7 0 7 3 7 3 7-3 7 7 7-7 7-1 7 5 7 2 7-3 7 5 7-9 7 11 7 6 7 1 7-8 7 6 7-6 7 4 7-5 7 0 7 2 7-9 7 4 7 10 7-17 7 10 7 5 7-1 7 0 7 5 7-3 7-10 7 2 7 4 7 3 7 0 7 3 7 9 7-16 7 14 7 4 7 1 7-2 7 1 7 3 7 1 7-3 7 7 7-4 7 3 7 0 7-2 7 8 7 1 7-3 7 5 7-3 7 12 7 1 7 8 7-8 7 5 7-5 7 0 7 5 7 4 7 5 7-2 7 6 7 1 7-8 7 1 7-4 7 10 7-7 7 4 7 1 7-5 7-2 7 2 7-4 7-4 7 0 7 5 7 1 7 6 7-14 7 5 7-6 7 8 7-1 7-3 7 5 7-8 7-3 7-4 7 0 7 3 7 3 7 2 7-6 7-5 7 0 7-1 7-2 7 0 7-3 7 2 7-3 7 1 7-6 7 4 7 2 7 0 7-5 7-5 7-3 7-1 7 1 7 1 7-7 7 7 7-8 7 0 7-1 7 5 7 5 7-8 7-4 7-2 7-1 7-1 7 10 7-13 7-1 7-4 7 2 7-4 7 3 7-7 7 10 7-6 7-11 7 6 7-4 7-5 7 4 7-4 7 4 7-6 7 4 7-3 7-1 7-3 7-3 7-3 7 2 7 1 7-6 7 9 7 0 7-13 7 4 7-4 7-1 7-5 7 7 7-9 7 0 7-4 7 10 7-1 7-12 7 1 7 5 7-1 7 1 7-2 7 6 7-3 7 8 7 10 7-8 7 7 7-2 7-4 7 1 7-2 7 5 7 5 7 4 7-2 7-2 7 5 7 12 7-1 7 0 7-6 7 7 7 8 7-2 7 11 7-3 7 0 7 3 7 5 7 7 7-6 7-9 7 2 7 2 7 3 7-12 7 6 7-3 7-4 7-8 7-4 7-3 7 6 7-1 7 3 7 5 7-7 7-2 7 8 7-12 7 1 7 0 7 0 7 2 7-3 7 7 7-8 2 0" fill="none" stroke="#303030" stroke-width="8" stroke-linejoin="round" />
<line x1="482.5" y1="317" x2="482.5" y2="381.1" stroke="#30b0ff" stroke-width="1.8" stroke-dasharray="2 3" />
</g>
<rect x="71.6" y="312.8" width="453.8" height="68.3" fill="none" stroke="#000" stroke-width="1.2"/>
<line x1="124.5" y1="312.8" x2="124.5" y2="323.3" stroke="#383838" stroke-width="1.25" />
<line x1="124.5" y1="381.1" x2="124.5" y2="370.6" stroke="#383838" stroke-width="1.25" />
<line x1="215.9" y1="312.8" x2="215.9" y2="323.3" stroke="#383838" stroke-width="1.25" />
<line x1="215.9" y1="381.1" x2="215.9" y2="370.6" stroke="#383838" stroke-width="1.25" />
<line x1="307.3" y1="312.8" x2="307.3" y2="323.3" stroke="#383838" stroke-width="1.25" />
<line x1="307.3" y1="381.1" x2="307.3" y2="370.6" stroke="#383838" stroke-width="1.25" />
<line x1="398.7" y1="312.8" x2="398.7" y2="323.3" stroke="#383838" stroke-width="1.25" />
<line x1="398.7" y1="381.1" x2="398.7" y2="370.6" stroke="#383838" stroke-width="1.25" />
<line x1="490.1" y1="312.8" x2="490.1" y2="323.3" stroke="#383838" stroke-width="1.25" />
<line x1="490.1" y1="381.1" x2="490.1" y2="370.6" stroke="#383838" stroke-width="1.25" />
<line x1="87.9" y1="312.8" x2="87.9" y2="316.4" stroke="#000" stroke-width="0.9" />
<line x1="87.9" y1="381.1" x2="87.9" y2="377.5" stroke="#000" stroke-width="0.9" />
<line x1="106.2" y1="312.8" x2="106.2" y2="316.4" stroke="#000" stroke-width="0.9" />
<line x1="106.2" y1="381.1" x2="106.2" y2="377.5" stroke="#000" stroke-width="0.9" />
<line x1="142.8" y1="312.8" x2="142.8" y2="316.4" stroke="#000" stroke-width="0.9" />
<line x1="142.8" y1="381.1" x2="142.8" y2="377.5" stroke="#000" stroke-width="0.9" />
<line x1="161.1" y1="312.8" x2="161.1" y2="316.4" stroke="#000" stroke-width="0.9" />
<line x1="161.1" y1="381.1" x2="161.1" y2="377.5" stroke="#000" stroke-width="0.9" />
<line x1="179.3" y1="312.8" x2="179.3" y2="316.4" stroke="#000" stroke-width="0.9" />
<line x1="179.3" y1="381.1" x2="179.3" y2="377.5" stroke="#000" stroke-width="0.9" />
<line x1="197.6" y1="312.8" x2="197.6" y2="316.4" stroke="#000" stroke-width="0.9" />
<line x1="197.6" y1="381.1" x2="197.6" y2="377.5" stroke="#000" stroke-width="0.9" />
<line x1="234.2" y1="312.8" x2="234.2" y2="316.4" stroke="#000" stroke-width="0.9" />
<line x1="234.2" y1="381.1" x2="234.2" y2="377.5" stroke="#000" stroke-width="0.9" />
<line x1="252.5" y1="312.8" x2="252.5" y2="316.4" stroke="#000" stroke-width="0.9" />
<line x1="252.5" y1="381.1" x2="252.5" y2="377.5" stroke="#000" stroke-width="0.9" />
<line x1="270.7" y1="312.8" x2="270.7" y2="316.4" stroke="#000" stroke-width="0.9" />
<line x1="270.7" y1="381.1" x2="270.7" y2="377.5" stroke="#000" stroke-width="0.9" />
<line x1="289" y1="312.8" x2="289" y2="316.4" stroke="#000" stroke-width="0.9" />
<line x1="289" y1="381.1" x2="289" y2="377.5" stroke="#000" stroke-width="0.9" />
<line x1="325.6" y1="312.8" x2="325.6" y2="316.4" stroke="#000" stroke-width="0.9" />
<line x1="325.6" y1="381.1" x2="325.6" y2="377.5" stroke="#000" stroke-width="0.9" />
<line x1="343.9" y1="312.8" x2="343.9" y2="316.4" stroke="#000" stroke-width="0.9" />
<line x1="343.9" y1="381.1" x2="343.9" y2="377.5" stroke="#000" stroke-width="0.9" />
<line x1="362.1" y1="312.8" x2="362.1" y2="316.4" stroke="#000" stroke-width="0.9" />
<line x1="362.1" y1="381.1" x2="362.1" y2="377.5" stroke="#000" stroke-width="0.9" />
<line x1="380.4" y1="312.8" x2="380.4" y2="316.4" stroke="#000" stroke-width="0.9" />
<line x1="380.4" y1="381.1" x2="380.4" y2="377.5" stroke="#000" stroke-width="0.9" />
<line x1="417" y1="312.8" x2="417" y2="316.4" stroke="#000" stroke-width="0.9" />
<line x1="417" y1="381.1" x2="417" y2="377.5" stroke="#000" stroke-width="0.9" />
<line x1="435.3" y1="312.8" x2="435.3" y2="316.4" stroke="#000" stroke-width="0.9" />
<line x1="435.3" y1="381.1" x2="435.3" y2="377.5" stroke="#000" stroke-width="0.9" />
<line x1="453.5" y1="312.8" x2="453.5" y2="316.4" stroke="#000" stroke-width="0.9" />
<line x1="453.5" y1="381.1" x2="453.5" y2="377.5" stroke="#000" stroke-width="0.9" />
<line x1="471.8" y1="312.8" x2="471.8" y2="316.4" stroke="#000" stroke-width="0.9" />
<line x1="471.8" y1="381.1" x2="471.8" y2="377.5" stroke="#000" stroke-width="0.9" />
<line x1="508.4" y1="312.8" x2="508.4" y2="316.4" stroke="#000" stroke-width="0.9" />
<line x1="508.4" y1="381.1" x2="508.4" y2="377.5" stroke="#000" stroke-width="0.9" />
<line x1="71.6" y1="369.7" x2="77.6" y2="369.7" stroke="#000" stroke-width="0.9" />
<line x1="525.4" y1="369.7" x2="519.4" y2="369.7" stroke="#000" stroke-width="0.9" />
<line x1="71.6" y1="353.6" x2="77.6" y2="353.6" stroke="#000" stroke-width="0.9" />
<line x1="525.4" y1="353.6" x2="519.4" y2="353.6" stroke="#000" stroke-width="0.9" />
<line x1="71.6" y1="337.5" x2="77.6" y2="337.5" stroke="#000" stroke-width="0.9" />
<line x1="525.4" y1="337.5" x2="519.4" y2="337.5" stroke="#000" stroke-width="0.9" />
<line x1="71.6" y1="321.4" x2="77.6" y2="321.4" stroke="#000" stroke-width="0.9" />
<line x1="525.4" y1="321.4" x2="519.4" y2="321.4" stroke="#000" stroke-width="0.9" />
<line x1="71.6" y1="379.4" x2="73.9" y2="379.4" stroke="#222" stroke-width="0.8" />
<line x1="525.4" y1="379.4" x2="523.1" y2="379.4" stroke="#222" stroke-width="0.8" />
<line x1="71.6" y1="376.1" x2="73.9" y2="376.1" stroke="#222" stroke-width="0.8" />
<line x1="525.4" y1="376.1" x2="523.1" y2="376.1" stroke="#222" stroke-width="0.8" />
<line x1="71.6" y1="372.9" x2="73.9" y2="372.9" stroke="#222" stroke-width="0.8" />
<line x1="525.4" y1="372.9" x2="523.1" y2="372.9" stroke="#222" stroke-width="0.8" />
<line x1="71.6" y1="366.5" x2="73.9" y2="366.5" stroke="#222" stroke-width="0.8" />
<line x1="525.4" y1="366.5" x2="523.1" y2="366.5" stroke="#222" stroke-width="0.8" />
<line x1="71.6" y1="363.3" x2="73.9" y2="363.3" stroke="#222" stroke-width="0.8" />
<line x1="525.4" y1="363.3" x2="523.1" y2="363.3" stroke="#222" stroke-width="0.8" />
<line x1="71.6" y1="360" x2="73.9" y2="360" stroke="#222" stroke-width="0.8" />
<line x1="525.4" y1="360" x2="523.1" y2="360" stroke="#222" stroke-width="0.8" />
<line x1="71.6" y1="356.8" x2="73.9" y2="356.8" stroke="#222" stroke-width="0.8" />
<line x1="525.4" y1="356.8" x2="523.1" y2="356.8" stroke="#222" stroke-width="0.8" />
<line x1="71.6" y1="350.4" x2="73.9" y2="350.4" stroke="#222" stroke-width="0.8" />
<line x1="525.4" y1="350.4" x2="523.1" y2="350.4" stroke="#222" stroke-width="0.8" />
<line x1="71.6" y1="347.2" x2="73.9" y2="347.2" stroke="#222" stroke-width="0.8" />
<line x1="525.4" y1="347.2" x2="523.1" y2="347.2" stroke="#222" stroke-width="0.8" />
<line x1="71.6" y1="343.9" x2="73.9" y2="343.9" stroke="#222" stroke-width="0.8" />
<line x1="525.4" y1="343.9" x2="523.1" y2="343.9" stroke="#222" stroke-width="0.8" />
<line x1="71.6" y1="340.7" x2="73.9" y2="340.7" stroke="#222" stroke-width="0.8" />
<line x1="525.4" y1="340.7" x2="523.1" y2="340.7" stroke="#222" stroke-width="0.8" />
<line x1="71.6" y1="334.3" x2="73.9" y2="334.3" stroke="#222" stroke-width="0.8" />
<line x1="525.4" y1="334.3" x2="523.1" y2="334.3" stroke="#222" stroke-width="0.8" />
<line x1="71.6" y1="331.1" x2="73.9" y2="331.1" stroke="#222" stroke-width="0.8" />
<line x1="525.4" y1="331.1" x2="523.1" y2="331.1" stroke="#222" stroke-width="0.8" />
<line x1="71.6" y1="327.8" x2="73.9" y2="327.8" stroke="#222" stroke-width="0.8" />
<line x1="525.4" y1="327.8" x2="523.1" y2="327.8" stroke="#222" stroke-width="0.8" />
<line x1="71.6" y1="324.6" x2="73.9" y2="324.6" stroke="#222" stroke-width="0.8" />
<line x1="525.4" y1="324.6" x2="523.1" y2="324.6" stroke="#222" stroke-width="0.8" />
<line x1="71.6" y1="318.2" x2="73.9" y2="318.2" stroke="#222" stroke-width="0.8" />
<line x1="525.4" y1="318.2" x2="523.1" y2="318.2" stroke="#222" stroke-width="0.8" />
<line x1="71.6" y1="315" x2="73.9" y2="315" stroke="#222" stroke-width="0.8" />
<line x1="525.4" y1="315" x2="523.1" y2="315" stroke="#222" stroke-width="0.8" />
<text x="69" y="325.2" font-size="10.67" fill="#000" text-anchor="end" >300</text>
<text x="69" y="340.8" font-size="10.67" fill="#000" text-anchor="end" >250</text>
<text x="69" y="357" font-size="10.67" fill="#000" text-anchor="end" >200</text>
<text x="69" y="373.5" font-size="10.67" fill="#000" text-anchor="end" >150</text>
<text transform="translate(43.5,347) rotate(-90)" font-size="10.67" fill="#000" text-anchor="middle">| V<tspan font-size="8.6" dy="3">i</tspan><tspan dy="-3">&#8203;</tspan> | [km/s]</text>
<line x1="77" y1="317" x2="93.4" y2="317" stroke="#0cac0c" stroke-width="1.25" stroke-dasharray="4 1.5" />
<text x="94" y="320.1" font-size="8.7" fill="#80a000" text-anchor="start" >t&#160;&#160;HT</text>
<line x1="77" y1="323.9" x2="93.4" y2="323.9" stroke="#30b0ff" stroke-width="1.2" stroke-dasharray="1.2 1.2" />
<text x="94" y="327" font-size="8.7" fill="#30a0ff" text-anchor="start" >t&#160;&#160;vmax</text>
<line x1="77" y1="330.8" x2="93.4" y2="330.8" stroke="#ff0000" stroke-width="1.25" stroke-dasharray="4 1.5" />
<text x="94" y="333.9" font-size="8.7" fill="#ff0000" text-anchor="start" >t&#160;&#160;cs</text>
<line x1="77" y1="338" x2="93.4" y2="338" stroke="#0000ff" stroke-width="1.2" stroke-dasharray="1.2 1.2" />
<text x="94" y="341.1" font-size="8.7" fill="#0000ff" text-anchor="start" >t&#160;&#160;dvmax</text>
<line x1="77" y1="344.4" x2="93.4" y2="344.4" stroke="#303030" stroke-width="0.9" />
<text x="94" y="347.8" font-size="8.7" fill="#b09060" text-anchor="start" >|V<tspan font-size="5" dy="2">i</tspan><tspan dy="-2">&#8203;</tspan>|</text>
<g clip-path="url(#cL5)">
<line x1="71.6" y1="431.8" x2="525.4" y2="431.8" stroke="#000" stroke-width="1.6" stroke-dasharray="4.3 2.1" />
<path transform="scale(.1)" d="M716 3994l7-1 7 6 7 1 7-3 7 2 7-1 7-5 7 0 7 0 7 5 7-7 7 0 7 0 7 1 7-3 7 1 7-8 7 0 7-6 7 4 7 8 7-5 7-3 7-1 7-1 7-6 7 0 7 1 7 1 7-4 7 1 7-2 7-3 7 1 7 1 7 6 7 4 7-1 7-2 7-1 7-3 7 3 7 8 7 2 7-2 7-1 7 1 7 2 7 0 7 2 7-2 7 2 7 0 7 6 7-5 7 7 7-2 7-1 7 2 7 2 7 0 7 3 7-2 7-3 7 7 7 0 7 7 7-2 7-8 7 9 7-3 7 4 7 7 7-1 7-7 7 2 7-4 7 7 7 2 7-4 7 5 7 3 7 1 7-5 7-3 7-3 7-2 7 4 7-1 7 3 7-3 7-4 7-6 7 7 7-3 7-2 7-5 7-3 7 4 7-5 7 3 7 1 7-3 7-5 7 6 7 5 7-6 7-3 7 7 7-1 7-3 7 6 7-4 7 2 7-2 7-2 7 3 7-3 7-3 7 3 7 8 7 2 7 5 7-1 7 2 7-3 7-3 7 3 7-3 7 5 7-1 7 2 7-2 7 2 7 5 7-1 7-2 7 4 7 4 7-1 7-3 7-1 7 2 7 9 7 0 7 3 7 4 7-1 7 2 7-2 7-4 7 6 7-2 7 1 7-6 7 1 7 6 7-8 7 0 7 3 7-5 7 0 7-7 7 9 7 0 7 7 7-1 7 0 7 3 7 1 7 0 7 8 7 2 7-1 7 3 7 2 7 0 7-1 7 0 7 2 7 2 7 0 7-3 7 2 7 2 7-3 7 3 7 3 7 0 7-1 7 0 7-1 7 4 7-4 7-6 7 0 7 4 7 1 7-2 7-4 7 3 7-1 7 2 7 4 7 0 7 5 7-1 7 2 7 3 7 7 7 4 7 1 7-5 7 3 7 5 7 2 7-6 7 5 7 0 7 6 7 2 7-3 7 9 7-5 7 8 7-5 7-1 7 6 7-5 7 0 7 6 7-2 7 2 7-5 7 10 7 1 7 0 7 1 7-2 7 1 7-3 7 7 7 5 7 2 7 1 7 1 7-4 7-2 7 7 7 0 7 4 7-3 7-2 7 4 7-2 7-3 7 3 7 0 7 0 7 2 7 6 7 7 7 1 7-6 7 4 7-2 7 1 7-2 7 1 7-4 7 11 7-4 7 3 7-2 7 3 7-3 7 2 7 5 7 0 7-7 7 7 7-5 7 4 7 3 7-3 7 1 7 0 7 2 7 2 7 1 7-3 7 4 7-9 7 6 7-5 7 1 7-3 7 0 7-4 7 3 7 5 7-4 7-3 7-1 7 1 7-4 7-3 7-2 7 1 7-3 7-9 7-3 7-1 7 1 7-1 7-6 7 4 7-8 7 0 7-2 7-3 7-9 7-4 7-11 7-7 7-1 7 2 7-2 7-7 7-1 7-5 7-1 7-13 7-5 7-4 7-5 7 5 7-10 7-6 7-3 7 0 7-8 7-2 7-5 7-9 7-12 7-3 7-6 7 3 7-10 7-8 7-2 7-5 7-9 7 1 7-2 7-4 7-6 7-5 7-6 7 4 7 0 7-7 7 0 7 9 7-14 7-7 7 3 7-4 7-2 7 2 7-2 7 2 7-2 7 1 7-4 7-9 7 7 7-8 7 6 7-2 7-6 7 2 7 2 7-6 7 1 7-3 7-3 7 0 7 6 7-1 7-3 7-1 7 0 7-1 7 0 7-7 7 6 7-5 7-7 7 8 7-4 7 1 7 0 7-2 7 3 7-2 7 0 7-3 7 1 7-2 7 3 7 5 7 0 7-2 7-7 7 6 7 1 7 4 7-13 7 3 7 0 7 4 7-5 7 0 7 8 7-1 7-10 7 4 7 5 7-4 7 3 7-1 7-5 7 1 7 6 7 3 7-5 7 4 7-4 7 1 7 0 7-4 7 4 7 0 7-8 7 4 7 2 7 0 7 1 7 1 7-4 7 9 7 1 7 2 7-1 7 1 7 0 7-2 7-2 7 5 7 5 7 0 7 5 7-8 7 2 7-1 7 7 7 4 7-6 7 3 7-2 7-2 7 3 7-2 7 8 7 0 7 2 7-1 7-9 7 8 7 1 7-8 7 6 7 5 7 4 7-8 7 4 7-1 7-2 7 0 7 2 7 1 7 0 7-3 7-4 7 7 7 2 7-5 7-1 7 3 7-8 7 4 7 7 7-5 7-5 7 7 7-4 7-1 7-3 7 1 7-7 7-1 7-1 7 7 7-1 7 3 7-10 7 2 7 6 7-5 7-6 7 2 7 1 7 2 7 4 7 1 7 0 7-3 7-5 7-2 7-4 7 8 7 1 7-3 7-5 7 3 7 0 7-1 7-5 7 2 7-2 7 3 7 0 7-1 7-3 7 5 7-2 7 1 7-1 7-2 7-2 7-5 7-5 7 1 7 5 7 2 7-2 7-2 7 5 7-6 7-7 7-2 7 3 7 4 7 0 7-3 7 2 7-3 7-3 7-1 7 3 7 2 7-7 7-2 7 2 7 7 7-8 7-4 7 4 7 1 7-3 7 0 7 1 7-7 7 3 7 3 7 2 7 2 7-3 7-6 7 8 7 1 7-5 7 5 7 1 7-3 7-8 7 4 7 1 7 0 7 2 7-2 7 4 7 7 7-8 7 6 7-3 7 3 7 0 7 4 7-4 7 4 7-3 7 3 7 0 7 5 7-7 7-1 7 9 7 0 7 3 7-8 7 1 7 1 7 3 7-5 7-4 7 3 7-3 7-3 7 3 7-8 7 0 7 8 7-4 7 0 7 2 7 3 7-1 7-5 7-1 7 6 7-3 7-2 7 4 7 2 7 4 2-9" fill="none" stroke="#4848ff" stroke-width="8" stroke-linejoin="round" />
<path transform="scale(.1)" d="M716 4290l7-1 7 3 7-2 7 4 7-12 7 8 7-3 7 0 7 2 7 0 7-5 7 6 7-1 7-4 7 0 7-4 7-2 7 2 7 2 7 0 7-4 7-3 7-3 7 10 7-1 7-5 7 5 7-1 7-4 7-2 7 4 7-1 7 3 7-2 7-4 7 0 7 0 7 4 7 2 7 2 7 1 7-4 7 2 7-1 7 5 7-4 7 2 7 0 7 2 7 2 7 8 7-3 7-4 7 4 7 5 7 1 7 1 7 6 7 0 7-2 7 4 7-7 7 3 7-1 7 4 7 7 7-4 7 6 7-5 7 7 7-7 7 2 7 7 7 0 7 2 7 1 7 2 7 1 7-2 7 3 7 3 7-1 7 5 7 7 7-8 7 2 7 3 7 3 7 2 7-1 7 3 7 2 7 1 7 7 7-2 7-5 7 0 7 7 7 1 7 0 7-1 7 3 7 2 7-1 7-1 7 3 7-1 7-2 7-4 7-5 7 4 7 2 7-1 7-1 7-5 7-2 7-2 7 2 7-5 7 5 7-4 7-6 7-1 7-7 7 0 7 0 7 8 7-9 7 2 7-3 7-3 7 1 7-9 7 6 7 5 7-4 7-3 7 0 7 1 7-3 7 0 7 2 7-3 7 1 7 0 7 1 7-5 7-1 7 0 7 5 7-1 7-7 7-1 7 9 7-2 7-6 7-1 7 3 7 4 7 2 7-6 7-2 7 7 7-8 7 6 7-3 7-2 7 3 7-2 7-5 7-4 7 4 7 2 7 4 7-13 7 10 7 0 7 4 7 0 7-2 7 1 7 1 7-2 7 1 7 2 7 0 7-3 7 0 7 7 7 2 7 1 7-4 7 6 7-1 7-5 7 10 7-6 7 10 7-3 7-4 7-9 7 3 7 7 7 1 7-4 7-8 7 1 7 0 7 2 7-2 7 0 7-7 7-1 7 5 7-10 7 3 7 3 7-6 7-10 7 4 7-11 7 2 7-4 7 3 7-2 7-4 7 4 7-1 7-4 7-2 7 12 7-5 7 2 7 0 7-1 7-3 7 5 7 2 7 5 7-2 7-4 7 0 7 3 7 2 7 2 7-3 7 2 7-1 7 4 7-4 7-1 7 1 7 2 7-6 7-1 7 0 7-6 7 9 7 2 7-3 7 10 7-4 7 1 7-1 7-2 7-8 7 7 7-2 7-6 7 3 7 3 7 1 7-2 7-3 7 4 7-4 7 1 7 3 7-7 7 5 7-7 7 2 7-1 7 4 7 5 7-1 7 3 7-1 7 0 7 2 7-1 7 2 7 4 7-4 7 5 7-5 7 2 7-4 7 4 7 8 7-1 7 3 7-7 7 0 7 4 7 2 7-1 7-9 7 3 7-2 7-1 7-1 7-3 7-7 7-1 7-3 7-1 7 2 7 4 7-6 7-3 7-3 7-4 7 4 7-2 7-1 7-3 7 3 7-6 7 3 7-4 7 2 7-5 7 2 7-1 7-2 7 4 7-5 7-6 7 3 7-5 7-1 7 0 7 0 7 4 7-11 7 1 7 4 7-2 7 1 7 4 7-8 7 2 7 3 7-3 7-5 7 2 7 4 7 1 7 6 7 0 7-9 7 6 7 2 7 2 7-4 7-3 7 2 7 5 7-2 7 4 7-2 7-5 7-3 7 9 7-9 7 2 7 0 7-2 7 0 7 2 7 8 7-5 7-3 7 1 7 2 7-5 7 0 7-4 7 6 7 2 7 3 7-8 7 8 7-2 7-4 7-2 7 0 7-3 7 5 7-3 7-1 7 3 7 0 7-3 7 1 7-1 7 6 7 0 7-5 7 1 7 4 7-4 7 6 7-3 7 0 7-9 7 7 7 0 7 1 7 0 7 0 7-3 7 4 7-2 7-4 7-1 7 3 7 2 7-8 7-2 7 10 7-1 7 10 7-12 7 1 7 0 7 4 7 4 7 2 7-8 7 6 7-7 7 4 7 1 7 2 7-4 7 6 7-3 7 0 7-1 7-2 7 5 7 1 7 0 7 6 7-8 7 0 7 2 7 3 7-2 7 3 7 0 7-8 7 2 7-4 7 4 7 1 7 4 7 0 7-1 7 4 7-1 7-6 7 0 7 3 7 6 7-5 7-1 7 1 7 2 7-2 7 1 7-2 7-1 7-1 7 4 7-2 7 3 7 0 7 2 7-10 7 2 7 0 7 4 7 5 7 7 7-1 7 0 7-3 7-3 7 2 7-8 7 8 7 0 7 2 7-4 7-1 7 1 7 3 7 2 7-1 7 2 7 2 7-5 7 2 7-5 7 3 7 5 7-3 7 7 7-2 7 1 7-3 7 2 7 2 7-3 7-3 7-1 7 8 7-4 7-2 7-2 7-3 7 3 7 3 7-1 7-1 7 3 7 2 7-3 7 2 7-4 7 5 7-4 7 1 7 2 7-1 7-3 7 10 7 1 7-10 7 3 7-3 7 4 7-4 7 5 7 1 7 5 7-1 7-5 7 3 7-3 7 0 7-1 7-5 7 7 7-7 7 4 7 4 7 0 7-6 7 2 7 4 7 3 7 3 7-10 7 4 7-2 7 4 7-7 7 3 7 4 7-4 7 0 7-1 7 6 7-6 7-1 7 2 7 1 7 8 7-4 7-4 7 3 7 0 7 0 7-1 7 2 7-5 7-2 7 2 7-1 7 5 7 6 7 0 7-3 7-1 7-4 7-3 7 5 7-5 7 5 7-1 7 3 7-1 7 0 7-3 7-4 7 3 7 5 7 2 7 2 7-7 7-2 7 5 7-2 7 9 7-5 7-7 7 1 7 7 7-9 7 4 7-4 7 9 7-4 7-3 7-3 7 2 7-5 7 5 7 10 7-3 7-3 7-3 7 4 7-2 2-1" fill="none" stroke="#30e830" stroke-width="8" stroke-linejoin="round" />
<path transform="scale(.1)" d="M716 4475l7-2 7-5 7 7 7-3 7 1 7 0 7 3 7-1 7-3 7 3 7-3 7 1 7 6 7-7 7-2 7 2 7 0 7 6 7-7 7 10 7 1 7-7 7 0 7-2 7 3 7 0 7 0 7 0 7 4 7-6 7 1 7-3 7 0 7 0 7-1 7 1 7-4 7 1 7-1 7-2 7 0 7 1 7 1 7-5 7 3 7-2 7 0 7 3 7 3 7-1 7-4 7-1 7 6 7-9 7 6 7-7 7 1 7 2 7 0 7 5 7-2 7-3 7 2 7-3 7-4 7 4 7 2 7 0 7-9 7 7 7-7 7 2 7 1 7 4 7-13 7-2 7 6 7-1 7-4 7-10 7 8 7-1 7-8 7 14 7-13 7 1 7 2 7 1 7 2 7-4 7-3 7 0 7-6 7 1 7 10 7-7 7 0 7 6 7-2 7-4 7 1 7-4 7-4 7 5 7-2 7 4 7-5 7-2 7 1 7-2 7-1 7-3 7 3 7 1 7 5 7-5 7-8 7 5 7 7 7-7 7-4 7 1 7-9 7 5 7 2 7-4 7 5 7-4 7-4 7 1 7 5 7 5 7-1 7-4 7-4 7-1 7 4 7-5 7 2 7 1 7-6 7-1 7 3 7-1 7-1 7-2 7 0 7 6 7 0 7-10 7 2 7 0 7 0 7-6 7 2 7 2 7-3 7 2 7-9 7 0 7 5 7 2 7-2 7-2 7 2 7 2 7 0 7-3 7-3 7 3 7-1 7 1 7-4 7-4 7 2 7-3 7 5 7 0 7-11 7 6 7 3 7 0 7-6 7-3 7 4 7 1 7-3 7-6 7-3 7 5 7-3 7 0 7 4 7 4 7-9 7 2 7 7 7-2 7-1 7 3 7-5 7-1 7 4 7 6 7 1 7-3 7 2 7-3 7-3 7-3 7 6 7 4 7-1 7-2 7-2 7 3 7-3 7-5 7 7 7-5 7 1 7-1 7 3 7-3 7 2 7-3 7-3 7-2 7 3 7-4 7 4 7-3 7-4 7 0 7 3 7 8 7-1 7-1 7-3 7 9 7-4 7 0 7 0 7 6 7-1 7-2 7 2 7-3 7 0 7 4 7-8 7 12 7 7 7-7 7 1 7-4 7 5 7 2 7 2 7-5 7 1 7 0 7 2 7 9 7-5 7-1 7-1 7 4 7 8 7-2 7 1 7-8 7 5 7-2 7 4 7 1 7-1 7-7 7 4 7 0 7 3 7 0 7 4 7-7 7 1 7 3 7 3 7-1 7 1 7 2 7 4 7-2 7 1 7-6 7-4 7 3 7 7 7-5 7 9 7 2 7 3 7 0 7 2 7 6 7 2 7 1 7 0 7 4 7 6 7-1 7 0 7-2 7 5 7-2 7-2 7 7 7-2 7-5 7 3 7 10 7-3 7-5 7 0 7 6 7 1 7 0 7-2 7 1 7 2 7-3 7-5 7-6 7 3 7 4 7-3 7-8 7 1 7 3 7-6 7 1 7 2 7 1 7-11 7-4 7 5 7 2 7-4 7 0 7-2 7 4 7-11 7 4 7-4 7 0 7-3 7 1 7 3 7 1 7 5 7-5 7 0 7 0 7-1 7 4 7-4 7-1 7-1 7-1 7 0 7 3 7-3 7 0 7-1 7 2 7-4 7 4 7-4 7 3 7 5 7-3 7-2 7-4 7 5 7 0 7 3 7-4 7 3 7 5 7-3 7-3 7-4 7 4 7 3 7 1 7-5 7-1 7 0 7 0 7 2 7 2 7 6 7-4 7 3 7-10 7 7 7 0 7-2 7 1 7-1 7 4 7-3 7-9 7-3 7 9 7-2 7 3 7-5 7-2 7 0 7 2 7 0 7-3 7 2 7 1 7-5 7-2 7-4 7 4 7 2 7-2 7 0 7 1 7 1 7 2 7 1 7-1 7 2 7-7 7 3 7 0 7-5 7 0 7 3 7 0 7-5 7 1 7 7 7-1 7-2 7 3 7-7 7 0 7 4 7-4 7-3 7 4 7 5 7-12 7 5 7-3 7 2 7-3 7 12 7-7 7 1 7-3 7-1 7 1 7 2 7 6 7-3 7 3 7-7 7 1 7-1 7-4 7 16 7-7 7-1 7-3 7 0 7-1 7 7 7-3 7 1 7 1 7-4 7 4 7 0 7 3 7-2 7 1 7 2 7 3 7-4 7 4 7-5 7 2 7 1 7 1 7-8 7 3 7 4 7 5 7-4 7 7 7-9 7 3 7 3 7-1 7 1 7 3 7-5 7 3 7 3 7-4 7-7 7 1 7 2 7 0 7 5 7-3 7 11 7-4 7-7 7 2 7 6 7 0 7-6 7 5 7-3 7 8 7-7 7 2 7 1 7-3 7 0 7 4 7 0 7-2 7 1 7 5 7-1 7-2 7-1 7-6 7 3 7 0 7 4 7-4 7 3 7-4 7 5 7-3 7 1 7 3 7-2 7 0 7 4 7 4 7-11 7 0 7 5 7 2 7-4 7 1 7-1 7 8 7-5 7-5 7-3 7 0 7 8 7-3 7 7 7-2 7-2 7 1 7 0 7 1 7-6 7 0 7-1 7 2 7-2 7-4 7 0 7 7 7 3 7-10 7 0 7-2 7-4 7 3 7-2 7 4 7-3 7-4 7-10 7 5 7 3 7-4 7 3 7-1 7-8 7 2 7 2 7 1 7-2 7-1 7-2 7-1 7 0 7-3 7 4 7-3 7 2 7-3 7 1 7-1 7 2 7-1 7 1 7-4 7-1 7-2 7-3 7 2 7 5 7 0 7-5 7 2 7 2 7-6 7 3 7 1 7 2 7-1 7-8 7-3 7 13 7-5 7 5 7 1 7-4 7-5 7 6 7-2 2 1" fill="none" stroke="#ff4040" stroke-width="8" stroke-linejoin="round" />
</g>
<rect x="71.6" y="381.1" width="453.8" height="68.3" fill="none" stroke="#000" stroke-width="1.2"/>
<line x1="124.5" y1="381.1" x2="124.5" y2="391.6" stroke="#383838" stroke-width="1.25" />
<line x1="124.5" y1="449.4" x2="124.5" y2="438.9" stroke="#383838" stroke-width="1.25" />
<line x1="215.9" y1="381.1" x2="215.9" y2="391.6" stroke="#383838" stroke-width="1.25" />
<line x1="215.9" y1="449.4" x2="215.9" y2="438.9" stroke="#383838" stroke-width="1.25" />
<line x1="307.3" y1="381.1" x2="307.3" y2="391.6" stroke="#383838" stroke-width="1.25" />
<line x1="307.3" y1="449.4" x2="307.3" y2="438.9" stroke="#383838" stroke-width="1.25" />
<line x1="398.7" y1="381.1" x2="398.7" y2="391.6" stroke="#383838" stroke-width="1.25" />
<line x1="398.7" y1="449.4" x2="398.7" y2="438.9" stroke="#383838" stroke-width="1.25" />
<line x1="490.1" y1="381.1" x2="490.1" y2="391.6" stroke="#383838" stroke-width="1.25" />
<line x1="490.1" y1="449.4" x2="490.1" y2="438.9" stroke="#383838" stroke-width="1.25" />
<line x1="87.9" y1="381.1" x2="87.9" y2="384.7" stroke="#000" stroke-width="0.9" />
<line x1="87.9" y1="449.4" x2="87.9" y2="445.8" stroke="#000" stroke-width="0.9" />
<line x1="106.2" y1="381.1" x2="106.2" y2="384.7" stroke="#000" stroke-width="0.9" />
<line x1="106.2" y1="449.4" x2="106.2" y2="445.8" stroke="#000" stroke-width="0.9" />
<line x1="142.8" y1="381.1" x2="142.8" y2="384.7" stroke="#000" stroke-width="0.9" />
<line x1="142.8" y1="449.4" x2="142.8" y2="445.8" stroke="#000" stroke-width="0.9" />
<line x1="161.1" y1="381.1" x2="161.1" y2="384.7" stroke="#000" stroke-width="0.9" />
<line x1="161.1" y1="449.4" x2="161.1" y2="445.8" stroke="#000" stroke-width="0.9" />
<line x1="179.3" y1="381.1" x2="179.3" y2="384.7" stroke="#000" stroke-width="0.9" />
<line x1="179.3" y1="449.4" x2="179.3" y2="445.8" stroke="#000" stroke-width="0.9" />
<line x1="197.6" y1="381.1" x2="197.6" y2="384.7" stroke="#000" stroke-width="0.9" />
<line x1="197.6" y1="449.4" x2="197.6" y2="445.8" stroke="#000" stroke-width="0.9" />
<line x1="234.2" y1="381.1" x2="234.2" y2="384.7" stroke="#000" stroke-width="0.9" />
<line x1="234.2" y1="449.4" x2="234.2" y2="445.8" stroke="#000" stroke-width="0.9" />
<line x1="252.5" y1="381.1" x2="252.5" y2="384.7" stroke="#000" stroke-width="0.9" />
<line x1="252.5" y1="449.4" x2="252.5" y2="445.8" stroke="#000" stroke-width="0.9" />
<line x1="270.7" y1="381.1" x2="270.7" y2="384.7" stroke="#000" stroke-width="0.9" />
<line x1="270.7" y1="449.4" x2="270.7" y2="445.8" stroke="#000" stroke-width="0.9" />
<line x1="289" y1="381.1" x2="289" y2="384.7" stroke="#000" stroke-width="0.9" />
<line x1="289" y1="449.4" x2="289" y2="445.8" stroke="#000" stroke-width="0.9" />
<line x1="325.6" y1="381.1" x2="325.6" y2="384.7" stroke="#000" stroke-width="0.9" />
<line x1="325.6" y1="449.4" x2="325.6" y2="445.8" stroke="#000" stroke-width="0.9" />
<line x1="343.9" y1="381.1" x2="343.9" y2="384.7" stroke="#000" stroke-width="0.9" />
<line x1="343.9" y1="449.4" x2="343.9" y2="445.8" stroke="#000" stroke-width="0.9" />
<line x1="362.1" y1="381.1" x2="362.1" y2="384.7" stroke="#000" stroke-width="0.9" />
<line x1="362.1" y1="449.4" x2="362.1" y2="445.8" stroke="#000" stroke-width="0.9" />
<line x1="380.4" y1="381.1" x2="380.4" y2="384.7" stroke="#000" stroke-width="0.9" />
<line x1="380.4" y1="449.4" x2="380.4" y2="445.8" stroke="#000" stroke-width="0.9" />
<line x1="417" y1="381.1" x2="417" y2="384.7" stroke="#000" stroke-width="0.9" />
<line x1="417" y1="449.4" x2="417" y2="445.8" stroke="#000" stroke-width="0.9" />
<line x1="435.3" y1="381.1" x2="435.3" y2="384.7" stroke="#000" stroke-width="0.9" />
<line x1="435.3" y1="449.4" x2="435.3" y2="445.8" stroke="#000" stroke-width="0.9" />
<line x1="453.5" y1="381.1" x2="453.5" y2="384.7" stroke="#000" stroke-width="0.9" />
<line x1="453.5" y1="449.4" x2="453.5" y2="445.8" stroke="#000" stroke-width="0.9" />
<line x1="471.8" y1="381.1" x2="471.8" y2="384.7" stroke="#000" stroke-width="0.9" />
<line x1="471.8" y1="449.4" x2="471.8" y2="445.8" stroke="#000" stroke-width="0.9" />
<line x1="508.4" y1="381.1" x2="508.4" y2="384.7" stroke="#000" stroke-width="0.9" />
<line x1="508.4" y1="449.4" x2="508.4" y2="445.8" stroke="#000" stroke-width="0.9" />
<line x1="71.6" y1="447.7" x2="77.6" y2="447.7" stroke="#000" stroke-width="0.9" />
<line x1="525.4" y1="447.7" x2="519.4" y2="447.7" stroke="#000" stroke-width="0.9" />
<line x1="71.6" y1="431.8" x2="77.6" y2="431.8" stroke="#000" stroke-width="0.9" />
<line x1="525.4" y1="431.8" x2="519.4" y2="431.8" stroke="#000" stroke-width="0.9" />
<line x1="71.6" y1="415.9" x2="77.6" y2="415.9" stroke="#000" stroke-width="0.9" />
<line x1="525.4" y1="415.9" x2="519.4" y2="415.9" stroke="#000" stroke-width="0.9" />
<line x1="71.6" y1="399.9" x2="77.6" y2="399.9" stroke="#000" stroke-width="0.9" />
<line x1="525.4" y1="399.9" x2="519.4" y2="399.9" stroke="#000" stroke-width="0.9" />
<line x1="71.6" y1="384" x2="77.6" y2="384" stroke="#000" stroke-width="0.9" />
<line x1="525.4" y1="384" x2="519.4" y2="384" stroke="#000" stroke-width="0.9" />
<line x1="71.6" y1="444.5" x2="73.9" y2="444.5" stroke="#222" stroke-width="0.8" />
<line x1="525.4" y1="444.5" x2="523.1" y2="444.5" stroke="#222" stroke-width="0.8" />
<line x1="71.6" y1="441.4" x2="73.9" y2="441.4" stroke="#222" stroke-width="0.8" />
<line x1="525.4" y1="441.4" x2="523.1" y2="441.4" stroke="#222" stroke-width="0.8" />
<line x1="71.6" y1="438.2" x2="73.9" y2="438.2" stroke="#222" stroke-width="0.8" />
<line x1="525.4" y1="438.2" x2="523.1" y2="438.2" stroke="#222" stroke-width="0.8" />
<line x1="71.6" y1="435" x2="73.9" y2="435" stroke="#222" stroke-width="0.8" />
<line x1="525.4" y1="435" x2="523.1" y2="435" stroke="#222" stroke-width="0.8" />
<line x1="71.6" y1="428.6" x2="73.9" y2="428.6" stroke="#222" stroke-width="0.8" />
<line x1="525.4" y1="428.6" x2="523.1" y2="428.6" stroke="#222" stroke-width="0.8" />
<line x1="71.6" y1="425.4" x2="73.9" y2="425.4" stroke="#222" stroke-width="0.8" />
<line x1="525.4" y1="425.4" x2="523.1" y2="425.4" stroke="#222" stroke-width="0.8" />
<line x1="71.6" y1="422.2" x2="73.9" y2="422.2" stroke="#222" stroke-width="0.8" />
<line x1="525.4" y1="422.2" x2="523.1" y2="422.2" stroke="#222" stroke-width="0.8" />
<line x1="71.6" y1="419.1" x2="73.9" y2="419.1" stroke="#222" stroke-width="0.8" />
<line x1="525.4" y1="419.1" x2="523.1" y2="419.1" stroke="#222" stroke-width="0.8" />
<line x1="71.6" y1="412.7" x2="73.9" y2="412.7" stroke="#222" stroke-width="0.8" />
<line x1="525.4" y1="412.7" x2="523.1" y2="412.7" stroke="#222" stroke-width="0.8" />
<line x1="71.6" y1="409.5" x2="73.9" y2="409.5" stroke="#222" stroke-width="0.8" />
<line x1="525.4" y1="409.5" x2="523.1" y2="409.5" stroke="#222" stroke-width="0.8" />
<line x1="71.6" y1="406.3" x2="73.9" y2="406.3" stroke="#222" stroke-width="0.8" />
<line x1="525.4" y1="406.3" x2="523.1" y2="406.3" stroke="#222" stroke-width="0.8" />
<line x1="71.6" y1="403.1" x2="73.9" y2="403.1" stroke="#222" stroke-width="0.8" />
<line x1="525.4" y1="403.1" x2="523.1" y2="403.1" stroke="#222" stroke-width="0.8" />
<line x1="71.6" y1="396.7" x2="73.9" y2="396.7" stroke="#222" stroke-width="0.8" />
<line x1="525.4" y1="396.7" x2="523.1" y2="396.7" stroke="#222" stroke-width="0.8" />
<line x1="71.6" y1="393.6" x2="73.9" y2="393.6" stroke="#222" stroke-width="0.8" />
<line x1="525.4" y1="393.6" x2="523.1" y2="393.6" stroke="#222" stroke-width="0.8" />
<line x1="71.6" y1="390.4" x2="73.9" y2="390.4" stroke="#222" stroke-width="0.8" />
<line x1="525.4" y1="390.4" x2="523.1" y2="390.4" stroke="#222" stroke-width="0.8" />
<line x1="71.6" y1="387.2" x2="73.9" y2="387.2" stroke="#222" stroke-width="0.8" />
<line x1="525.4" y1="387.2" x2="523.1" y2="387.2" stroke="#222" stroke-width="0.8" />
<text x="527.3" y="387.6" font-size="10.67" fill="#000" text-anchor="start" >300</text>
<text x="527.3" y="403.8" font-size="10.67" fill="#000" text-anchor="start" >200</text>
<text x="527.3" y="419.8" font-size="10.67" fill="#000" text-anchor="start" >100</text>
<text x="527.3" y="435.8" font-size="10.67" fill="#000" text-anchor="start" >0</text>
<text x="527.3" y="451.2" font-size="10.67" fill="#000" text-anchor="start" >-100</text>
<text transform="translate(562.5,417) rotate(-90)" font-size="10.67" fill="#000" text-anchor="middle">V<tspan font-size="8.6" dy="3">i LMN</tspan><tspan dy="-3">&#8203;</tspan> [km/s]</text>
<line x1="77.5" y1="389.5" x2="95.5" y2="389.5" stroke="#4848ff" stroke-width="1.0" />
<text x="96.5" y="392.8" font-size="9.3" fill="#0000ff" text-anchor="start" >V<tspan font-size="6.3" dy="3.3">L</tspan><tspan dy="-3.3">&#8203;</tspan></text>
<line x1="77.5" y1="404.3" x2="95.5" y2="404.3" stroke="#30e830" stroke-width="1.0" />
<text x="96.5" y="407.8" font-size="9.3" fill="#00ff00" text-anchor="start" >V<tspan font-size="6.3" dy="3.3">M</tspan><tspan dy="-3.3">&#8203;</tspan></text>
<line x1="77.5" y1="419" x2="95.5" y2="419" stroke="#ff4040" stroke-width="1.0" />
<text x="96.5" y="422.5" font-size="9.3" fill="#ff0000" text-anchor="start" >V<tspan font-size="6.3" dy="3.3">N</tspan><tspan dy="-3.3">&#8203;</tspan></text>
<g clip-path="url(#cL6)">
<path transform="scale(.1)" d="M716 4869l7 2 7 1 7-9 7-3 7 4 7 1 7 3 7-3 7-2 7 8 7-1 7-2 7-3 7-11 7-3 7-3 7-7 7-4 7 2 7-5 7 7 7 3 7 0 7 1 7 5 7 1 7-1 7-8 7-5 7 10 7-8 7-3 7-8 7 0 7-1 7 6 7-11 7 3 7 5 7 2 7 0 7 2 7-3 7 7 7 6 7-1 7-3 7 8 7 1 7-3 7 2 7 3 7 4 7 8 7-3 7 3 7 4 7-2 7 4 7 7 7 6 7-8 7 8 7 0 7 7 7 0 7 7 7-4 7-3 7-1 7-2 7 9 7 5 7 7 7 5 7-1 7 8 7 7 7 9 7 9 7 9 7 3 7-3 7 9 7 5 7 13 7 9 7 15 7 9 7 14 7 11 7 2 7 7 7-1 7 1 7 4 7-9 7 2 7 6 7-6 7 1 7 1 7-2 7-4 7 1 7-1 7 8 7 0 7 2 7-7 7 5 7 0 7 4 7-5 7 4 7 4 7 3 7-9 7-3 7-1 7 10 7 2 7 1 7-3 7 9 7 4 7-3 7 0 7 5 7 0 7 2 7-7 7 0 7-3 7-3 7-1 7-1 7 2 7-3 7-1 7-4 7-4 7 8 7-7 7 9 7-1 7-12 7 3 7 2 7 3 7 0 7-1 7 7 7-3 7 3 7-6 7-4 7 6 7-6 7-6 7 0 7 4 7-5 7-5 7 3 7 1 7-6 7-3 7-2 7 11 7-8 7 6 7-6 7 1 7-9 7 6 7 1 7-1 7 0 7-4 7-1 7 6 7-1 7 3 7 1 7 1 7 0 7 11 7-6 7 1 7 3 7-1 7 1 7 9 7 4 7-1 7 13 7-5 7 0 7-8 7 5 7 3 7-7 7 6 7-8 7-4 7 3 7-2 7 4 7-6 7 2 7-8 7 4 7 5 7-4 7 0 7 2 7-8 7-2 7 6 7 5 7 2 7 0 7 11 7-4 7 5 7 4 7 7 7 0 7 1 7 13 7-4 7 6 7-1 7-2 7 1 7-1 7 2 7-11 7 6 7 2 7-3 7 1 7 10 7 1 7-5 7-3 7-2 7 7 7-4 7-1 7 7 7-3 7 1 7 10 7-8 7 5 7 3 7 3 7-4 7 4 7 2 7 8 7-2 7-7 7 3 7-1 7-3 7-2 7-2 7-6 7 2 7 5 7 3 7 2 7-8 7 1 7-10 7 5 7-2 7 8 7-7 7 1 7 0 7 6 7 4 7-5 7 9 7-3 7-4 7 2 7-1 7 3 7-2 7 6 7-3 7-8 7 2 7 0 7-7 7-2 7-2 7-7 7 9 7-3 7 1 7-10 7-5 7-2 7-4 7-7 7-11 7 5 7-8 7-4 7-4 7-5 7-10 7-6 7-5 7-13 7 1 7-11 7-1 7-10 7 1 7-6 7 8 7-8 7-2 7-8 7-1 7-1 7-2 7-7 7-12 7-9 7-18 7-18 7-13 7-19 7-12 7-13 7-11 7-6 7-10 7-11 7-3 7-9 7-13 7-6 7-7 7-8 7-11 7-10 7-10 7-14 7-11 7-3 7-7 7-2 7-1 7-2 7-2 7-10 7-4 7 0 7-10 7-5 7 4 7-4 7-4 7 5 7-1 7-1 7-5 7-3 7-3 7 1 7-10 7 1 7 4 7-5 7-1 7-1 7 0 7-5 7-6 7 11 7-11 7 5 7-13 7 1 7-2 7 6 7 1 7-5 7-9 7-2 7 0 7 2 7 4 7-3 7 2 7 8 7 2 7-11 7 1 7 3 7 7 7-3 7 7 7-3 7 3 7-7 7-1 7 5 7 0 7-9 7 4 7 2 7 3 7-4 7 8 7-4 7 4 7-2 7-2 7-2 7-4 7 7 7 1 7 1 7-4 7-5 7 1 7 0 7 1 7 4 7-7 7 0 7 3 7 2 7 5 7-5 7-7 7-3 7 0 7 4 7 3 7 1 7-2 7 3 7 2 7 3 7 1 7-3 7-1 7 10 7-2 7 0 7 2 7 5 7-3 7 2 7-1 7 4 7-5 7 4 7 5 7 3 7-1 7 0 7 5 7-1 7 3 7-8 7-2 7 7 7-1 7 0 7-1 7 9 7-6 7 3 7-3 7 4 7 11 7 5 7-9 7-4 7 10 7-6 7-4 7 7 7-2 7-1 7 9 7-3 7-1 7 5 7 0 7 6 7-2 7 5 7 0 7 3 7-2 7-4 7 1 7-1 7-6 7 0 7 7 7-8 7 4 7 0 7 5 7-1 7 5 7 1 7 0 7-1 7-4 7 8 7-2 7 4 7 4 7 5 7-1 7 1 7-12 7 2 7 2 7-6 7-9 7 1 7-5 7-3 7 3 7-5 7-7 7-3 7 8 7-10 7 1 7-4 7 1 7-6 7-7 7-2 7-4 7 11 7-8 7-6 7 3 7-4 7-5 7-1 7-3 7 1 7 0 7-8 7-3 7-4 7 3 7-4 7-1 7-2 7-7 7-1 7 2 7-2 7-4 7-7 7-4 7-6 7-1 7-2 7-8 7 6 7-8 7-1 7-1 7-6 7-9 7 7 7 0 7-2 7 5 7 1 7-6 7 2 7-5 7 5 7 8 7-6 7 5 7-6 7 3 7 6 7 5 7-2 7 1 7 5 7-13 7-1 7 14 7 7 7-4 7-2 7 1 7 0 7-2 7 3 7 1 7 4 7 2 7 1 7-2 7-8 7 4 7-16 7 4 7 0 7-5 7 6 7-11 7-6 7-1 7 1 7 0 7-4 7-1 7-6 7-4 7 1 7-7 7 2 7-3 7 2 7-8 7-1 7-3 7-1 7-4 7 0 7-5 2 5" fill="none" stroke="#303030" stroke-width="8" stroke-linejoin="round" />
<path transform="scale(.1)" d="M716 4915l5-3 5-1 5-4 5-2 5 3 5-4 5-2 5 5 5-1 5-2 5-3 5 2 5-3 5 0 5 2 5 2 5 2 5-2 5 12 5-4 5 7 5 8 5 4 5-13 5-6 5-4 5-8 5 1 5-5 5-5 5 5 5-10 5 11 5-1 5 0 5-3 5 1 5-5 5 11 5 1 5 4 5-4 5 3 5-11 5-6 5 9 5 1 5-21 5 15 5-8 5-1 5-7 5 2 5 9 5-5 5 4 5 1 5 11 5-3 5-8 5 4 5-2 5 0 5 5 5 9 5-2 5 4 5-2 5 1 5 4 5 2 5 10 5 3 5-4 5 2 5-9 5 9 5 14 5-10 5 7 5 5 5-5 5 2 5 1 5 8 5-1 5 8 5 1 5-4 5 12 5-10 5-1 5 3 5-2 5 3 5 3 5 6 5-9 5 1 5 4 5 4 5 6 5-2 5 13 5-4 5 5 5 5 5 8 5 1 5 2 5 2 5 6 5 5 5 1 5 5 5-4 5 10 5 14 5 8 5 0 5-3 5 22 5 0 5 17 5-5 5 11 5 0 5 14 5 5 5-7 5 10 5 8 5-13 5-5 5 6 5-3 5-5 5 2 5 6 5-8 5 11 5-2 5-2 5 6 5-9 5 6 5-8 5 4 5 6 5-4 5 3 5 4 5 5 5 1 5-3 5-3 5-4 5 14 5 3 5-16 5 12 5-2 5 4 5 0 5-1 5 1 5 1 5 6 5-5 5-1 5 5 5 2 5-1 5 0 5 6 5 0 5-4 5-1 5 4 5-10 5 5 5 0 5 3 5-3 5 12 5-7 5-3 5 7 5-10 5-3 5 5 5-2 5 0 5 0 5-8 5-2 5-2 5 3 5 3 5-9 5 1 5-4 5 15 5-3 5-2 5-6 5 1 5 2 5 4 5-4 5 5 5 7 5-4 5 1 5-8 5 7 5 1 5-3 5-5 5 4 5-5 5 0 5-5 5 4 5 4 5-9 5 3 5-9 5 7 5-1 5-6 5 4 5-9 5 2 5 6 5-8 5-6 5 9 5-2 5-3 5-7 5-1 5 2 5 14 5-4 5-5 5 8 5 3 5-10 5 5 5-8 5 8 5 7 5-13 5 5 5-2 5 3 5 2 5 1 5 4 5 0 5 3 5 1 5 1 5-6 5 5 5-2 5-2 5 13 5-5 5 0 5-9 5 8 5 6 5-2 5-1 5 9 5-7 5-2 5 1 5-1 5 5 5-2 5-4 5-2 5 0 5 8 5-8 5 3 5-10 5 7 5 1 5 2 5-4 5 0 5-2 5 2 5 4 5-9 5-6 5 5 5-3 5 2 5 0 5-3 5-4 5 3 5-6 5 7 5-4 5 7 5 0 5-1 5-3 5 6 5-2 5 3 5 5 5 3 5-9 5 10 5 4 5 0 5-3 5-1 5 9 5-8 5-6 5 7 5 1 5-5 5-2 5 14 5-7 5 3 5-6 5-5 5 6 5 7 5-8 5-6 5 6 5 1 5 1 5-4 5 2 5 0 5 7 5-1 5 5 5-2 5-8 5 1 5 12 5 4 5 2 5-3 5-6 5 6 5 6 5 6 5-5 5 0 5 0 5 9 5 2 5-11 5 12 5-9 5-4 5-1 5 3 5 13 5 2 5-17 5 0 5 3 5 1 5-4 5-6 5 4 5-2 5-5 5 7 5-7 5-2 5 14 5-1 5 3 5-5 5-2 5 1 5-4 5 9 5-1 5-2 5-6 5 7 5 9 5 1 5-2 5-5 5 2 5 3 5-1 5 4 5-7 5-8 5-2 5 6 5-2 5 8 5 2 5-5 5 1 5-2 5-1 5-3 5-1 5 7 5-6 5-1 5 5 5-1 5-7 5 2 5-7 5 2 5-2 5-5 5-3 5-2 5-16 5 3 5 1 5-5 5-6 5 0 5 5 5-11 5-6 5-3 5-6 5 3 5-10 5 4 5-3 5-5 5-2 5-9 5-11 5 2 5 0 5-13 5-3 5 6 5-4 5 1 5-4 5-4 5 0 5 1 5-5 5-3 5 1 5-4 5 10 5-14 5-7 5-5 5 4 5-13 5-6 5-9 5-5 5-15 5-1 5-10 5-1 5-8 5-15 5-7 5 0 5-4 5-9 5-11 5-2 5-21 5-1 5-8 5-7 5 0 5-7 5-6 5-8 5-4 5-5 5-12 5 0 5-14 5 5 5-17 5 0 5-6 5 2 5 4 5-11 5 8 5-4 5-7 5-7 5 4 5-18 5 4 5 6 5-6 5 9 5-14 5-5 5 3 5 3 5 5 5-16 5 6 5 4 5-9 5 0 5-5 5 8 5 0 5-2 5-3 5 2 5-5 5 2 5 0 5 1 5-5 5-4 5 1 5-11 5-3 5 13 5-7 5-7 5 0 5 1 5-1 5-5 5 6 5-12 5 17 5-17 5 9 5-5 5-12 5 1 5 5 5 3 5-3 5 3 5 1 5-5 5 5 5 11 5-11 5-2 5 7 5 5 5-1 5-6 5 2 5 2 5-1 5 3 5 4 5-1 5-3 5 0 5 9 5-12 5 13 5-3 5-3 5-4 5 12 5-1 5-1 5 5 5-16 5 7 5-1 5-2 5 3 5 1 5 0 5-3 5-7 5 8 5 0 5 6 5-5 5-5 5-6 5 16 5-14 5 2 5 2 5-2 5 3 5-10 5-1 5 4 5-7 5 2 5 8 5-4 5-3 5-2 5 2 5 0 5-5 5 7 5-9 5 10 5-6 5-9 5 1 5 8 5-4 5 11 5-1 5 3 5-6 5 1 5-8 5 7 5-7 5 0 5-6 5 6 5 1 5-2 5-5 5 8 5 1 5-5 5 3 5 1 5-8 5 3 5-8 5 3 5 6 5-5 5 5 5 0 5-11 5 6 5 9 5-6 5 0 5-4 5-4 5-1 5 20 5-12 5-4 5 3 5-8 5 13 5 3 5-11 5 4 5-6 5 8 5-7 5 2 5 7 5-3 5-4 5-5 5-1 5 12 5-1 5-3 5 6 5-5 5-4 5 3 5 0 5 0 5 12 5-8 5-2 5-2 5-2 5-2 5-4 5 6 5-4 5-1 5 4 5-4 5 15 5 1 5-9 5 13 5-5 5-14 5 11 5-4 5-3 5 7 5 7 5-2 5-8 5 3 5 0 5 9 5-4 5-3 5 0 5-4 5 6 5 9 5-11 5 9 5 0 5 5 5-8 5 9 5 5 5 4 5-16 5 6 5 1 5 2 5-4 5 9 5 8 5-4 5-12 5-1 5 5 5-4 5-6 5 7 5-3 5 0 5-7 5 5 5-9 5-5 5 3 5-7 5 10 5-3 5-12 5 5 5 3 5-7 5 2 5-5 5 1 5-1 5 2 5-7 5-2 5 5 5-4 5 4 5-5 5-5 5 8 5-2 5 1 5-6 5-1 5 6 5-13 5 13 5-5 5-5 5-1 5 2 5-8 5 3 5-6 5-6 5 8 5-1 5 1 5-1 5-1 5-1 5-9 5 8 5 6 5-15 5-6 5 7 5 1 5-1 5 1 5-14 5 6 5-1 5 3 5-11 5 2 5-2 5-1 5-1 5-1 5-9 5 6 5 0 5-3 5-16 5 10 5 1 5 0 5 11 5-1 5-5 5 4 5 13 5-17 5 5 5-4 5 10 5 0 5-5 5 3 5-5 5-4 5 11 5 5 5-7 5-1 5-5 5 18 5-12 5 2 5 4 5 9 5-3 5 0 5 2 5 5 5-2 5 2 5 1 5-4 5 12 5-6 5-2 5 5 5 4 5 5 5-8 5 1 5 8 5 3 5-5 5-1 5 5 5-2 5-9 5 2 5 9 5-12 5 7 5-13 5 11 5 0 5-11 5-3 5 4 5-9 5 5 5 2 5-5 5-2 5-4 5 4 5-9 5 10 5-7 5-3 5-7 5 4 5 3 5 4 5-13 5 5 5-3 5-3 5 5 5-4 5 6 5-16 5 14 5-12 5-2 5 11 3-3" fill="none" stroke="#ff1010" stroke-width="12" stroke-linejoin="round" />
</g>
<rect x="71.6" y="449.4" width="453.8" height="68.4" fill="none" stroke="#000" stroke-width="1.2"/>
<line x1="124.5" y1="449.4" x2="124.5" y2="459.9" stroke="#383838" stroke-width="1.25" />
<line x1="124.5" y1="517.8" x2="124.5" y2="507.3" stroke="#383838" stroke-width="1.25" />
<line x1="215.9" y1="449.4" x2="215.9" y2="459.9" stroke="#383838" stroke-width="1.25" />
<line x1="215.9" y1="517.8" x2="215.9" y2="507.3" stroke="#383838" stroke-width="1.25" />
<line x1="307.3" y1="449.4" x2="307.3" y2="459.9" stroke="#383838" stroke-width="1.25" />
<line x1="307.3" y1="517.8" x2="307.3" y2="507.3" stroke="#383838" stroke-width="1.25" />
<line x1="398.7" y1="449.4" x2="398.7" y2="459.9" stroke="#383838" stroke-width="1.25" />
<line x1="398.7" y1="517.8" x2="398.7" y2="507.3" stroke="#383838" stroke-width="1.25" />
<line x1="490.1" y1="449.4" x2="490.1" y2="459.9" stroke="#383838" stroke-width="1.25" />
<line x1="490.1" y1="517.8" x2="490.1" y2="507.3" stroke="#383838" stroke-width="1.25" />
<line x1="87.9" y1="449.4" x2="87.9" y2="453" stroke="#000" stroke-width="0.9" />
<line x1="87.9" y1="517.8" x2="87.9" y2="514.2" stroke="#000" stroke-width="0.9" />
<line x1="106.2" y1="449.4" x2="106.2" y2="453" stroke="#000" stroke-width="0.9" />
<line x1="106.2" y1="517.8" x2="106.2" y2="514.2" stroke="#000" stroke-width="0.9" />
<line x1="142.8" y1="449.4" x2="142.8" y2="453" stroke="#000" stroke-width="0.9" />
<line x1="142.8" y1="517.8" x2="142.8" y2="514.2" stroke="#000" stroke-width="0.9" />
<line x1="161.1" y1="449.4" x2="161.1" y2="453" stroke="#000" stroke-width="0.9" />
<line x1="161.1" y1="517.8" x2="161.1" y2="514.2" stroke="#000" stroke-width="0.9" />
<line x1="179.3" y1="449.4" x2="179.3" y2="453" stroke="#000" stroke-width="0.9" />
<line x1="179.3" y1="517.8" x2="179.3" y2="514.2" stroke="#000" stroke-width="0.9" />
<line x1="197.6" y1="449.4" x2="197.6" y2="453" stroke="#000" stroke-width="0.9" />
<line x1="197.6" y1="517.8" x2="197.6" y2="514.2" stroke="#000" stroke-width="0.9" />
<line x1="234.2" y1="449.4" x2="234.2" y2="453" stroke="#000" stroke-width="0.9" />
<line x1="234.2" y1="517.8" x2="234.2" y2="514.2" stroke="#000" stroke-width="0.9" />
<line x1="252.5" y1="449.4" x2="252.5" y2="453" stroke="#000" stroke-width="0.9" />
<line x1="252.5" y1="517.8" x2="252.5" y2="514.2" stroke="#000" stroke-width="0.9" />
<line x1="270.7" y1="449.4" x2="270.7" y2="453" stroke="#000" stroke-width="0.9" />
<line x1="270.7" y1="517.8" x2="270.7" y2="514.2" stroke="#000" stroke-width="0.9" />
<line x1="289" y1="449.4" x2="289" y2="453" stroke="#000" stroke-width="0.9" />
<line x1="289" y1="517.8" x2="289" y2="514.2" stroke="#000" stroke-width="0.9" />
<line x1="325.6" y1="449.4" x2="325.6" y2="453" stroke="#000" stroke-width="0.9" />
<line x1="325.6" y1="517.8" x2="325.6" y2="514.2" stroke="#000" stroke-width="0.9" />
<line x1="343.9" y1="449.4" x2="343.9" y2="453" stroke="#000" stroke-width="0.9" />
<line x1="343.9" y1="517.8" x2="343.9" y2="514.2" stroke="#000" stroke-width="0.9" />
<line x1="362.1" y1="449.4" x2="362.1" y2="453" stroke="#000" stroke-width="0.9" />
<line x1="362.1" y1="517.8" x2="362.1" y2="514.2" stroke="#000" stroke-width="0.9" />
<line x1="380.4" y1="449.4" x2="380.4" y2="453" stroke="#000" stroke-width="0.9" />
<line x1="380.4" y1="517.8" x2="380.4" y2="514.2" stroke="#000" stroke-width="0.9" />
<line x1="417" y1="449.4" x2="417" y2="453" stroke="#000" stroke-width="0.9" />
<line x1="417" y1="517.8" x2="417" y2="514.2" stroke="#000" stroke-width="0.9" />
<line x1="435.3" y1="449.4" x2="435.3" y2="453" stroke="#000" stroke-width="0.9" />
<line x1="435.3" y1="517.8" x2="435.3" y2="514.2" stroke="#000" stroke-width="0.9" />
<line x1="453.5" y1="449.4" x2="453.5" y2="453" stroke="#000" stroke-width="0.9" />
<line x1="453.5" y1="517.8" x2="453.5" y2="514.2" stroke="#000" stroke-width="0.9" />
<line x1="471.8" y1="449.4" x2="471.8" y2="453" stroke="#000" stroke-width="0.9" />
<line x1="471.8" y1="517.8" x2="471.8" y2="514.2" stroke="#000" stroke-width="0.9" />
<line x1="508.4" y1="449.4" x2="508.4" y2="453" stroke="#000" stroke-width="0.9" />
<line x1="508.4" y1="517.8" x2="508.4" y2="514.2" stroke="#000" stroke-width="0.9" />
<line x1="71.6" y1="508.8" x2="77.6" y2="508.8" stroke="#000" stroke-width="0.9" />
<line x1="525.4" y1="508.8" x2="519.4" y2="508.8" stroke="#000" stroke-width="0.9" />
<line x1="71.6" y1="494.4" x2="77.6" y2="494.4" stroke="#000" stroke-width="0.9" />
<line x1="525.4" y1="494.4" x2="519.4" y2="494.4" stroke="#000" stroke-width="0.9" />
<line x1="71.6" y1="480" x2="77.6" y2="480" stroke="#000" stroke-width="0.9" />
<line x1="525.4" y1="480" x2="519.4" y2="480" stroke="#000" stroke-width="0.9" />
<line x1="71.6" y1="465.6" x2="77.6" y2="465.6" stroke="#000" stroke-width="0.9" />
<line x1="525.4" y1="465.6" x2="519.4" y2="465.6" stroke="#000" stroke-width="0.9" />
<line x1="71.6" y1="451.2" x2="77.6" y2="451.2" stroke="#000" stroke-width="0.9" />
<line x1="525.4" y1="451.2" x2="519.4" y2="451.2" stroke="#000" stroke-width="0.9" />
<line x1="71.6" y1="516" x2="73.9" y2="516" stroke="#222" stroke-width="0.8" />
<line x1="525.4" y1="516" x2="523.1" y2="516" stroke="#222" stroke-width="0.8" />
<line x1="71.6" y1="512.4" x2="73.9" y2="512.4" stroke="#222" stroke-width="0.8" />
<line x1="525.4" y1="512.4" x2="523.1" y2="512.4" stroke="#222" stroke-width="0.8" />
<line x1="71.6" y1="505.2" x2="73.9" y2="505.2" stroke="#222" stroke-width="0.8" />
<line x1="525.4" y1="505.2" x2="523.1" y2="505.2" stroke="#222" stroke-width="0.8" />
<line x1="71.6" y1="501.6" x2="73.9" y2="501.6" stroke="#222" stroke-width="0.8" />
<line x1="525.4" y1="501.6" x2="523.1" y2="501.6" stroke="#222" stroke-width="0.8" />
<line x1="71.6" y1="498" x2="73.9" y2="498" stroke="#222" stroke-width="0.8" />
<line x1="525.4" y1="498" x2="523.1" y2="498" stroke="#222" stroke-width="0.8" />
<line x1="71.6" y1="490.8" x2="73.9" y2="490.8" stroke="#222" stroke-width="0.8" />
<line x1="525.4" y1="490.8" x2="523.1" y2="490.8" stroke="#222" stroke-width="0.8" />
<line x1="71.6" y1="487.2" x2="73.9" y2="487.2" stroke="#222" stroke-width="0.8" />
<line x1="525.4" y1="487.2" x2="523.1" y2="487.2" stroke="#222" stroke-width="0.8" />
<line x1="71.6" y1="483.6" x2="73.9" y2="483.6" stroke="#222" stroke-width="0.8" />
<line x1="525.4" y1="483.6" x2="523.1" y2="483.6" stroke="#222" stroke-width="0.8" />
<line x1="71.6" y1="476.4" x2="73.9" y2="476.4" stroke="#222" stroke-width="0.8" />
<line x1="525.4" y1="476.4" x2="523.1" y2="476.4" stroke="#222" stroke-width="0.8" />
<line x1="71.6" y1="472.8" x2="73.9" y2="472.8" stroke="#222" stroke-width="0.8" />
<line x1="525.4" y1="472.8" x2="523.1" y2="472.8" stroke="#222" stroke-width="0.8" />
<line x1="71.6" y1="469.2" x2="73.9" y2="469.2" stroke="#222" stroke-width="0.8" />
<line x1="525.4" y1="469.2" x2="523.1" y2="469.2" stroke="#222" stroke-width="0.8" />
<line x1="71.6" y1="462" x2="73.9" y2="462" stroke="#222" stroke-width="0.8" />
<line x1="525.4" y1="462" x2="523.1" y2="462" stroke="#222" stroke-width="0.8" />
<line x1="71.6" y1="458.4" x2="73.9" y2="458.4" stroke="#222" stroke-width="0.8" />
<line x1="525.4" y1="458.4" x2="523.1" y2="458.4" stroke="#222" stroke-width="0.8" />
<line x1="71.6" y1="454.8" x2="73.9" y2="454.8" stroke="#222" stroke-width="0.8" />
<line x1="525.4" y1="454.8" x2="523.1" y2="454.8" stroke="#222" stroke-width="0.8" />
<text x="69" y="454.8" font-size="10.67" fill="#000" text-anchor="end" >14</text>
<text x="69" y="469.4" font-size="10.67" fill="#000" text-anchor="end" >12</text>
<text x="69" y="483.8" font-size="10.67" fill="#000" text-anchor="end" >10</text>
<text x="69" y="498.3" font-size="10.67" fill="#000" text-anchor="end" >8</text>
<text x="69" y="512.6" font-size="10.67" fill="#000" text-anchor="end" >6</text>
<text transform="translate(43.5,484) rotate(-90)" font-size="10.67" fill="#000" text-anchor="middle">N [cm<tspan font-size="8.6" dy="-4">-3</tspan><tspan dy="4">&#8203;</tspan>]</text>
<line x1="77.5" y1="457.5" x2="95.5" y2="457.5" stroke="#ff4040" stroke-width="1.0" />
<text x="96.5" y="460.7" font-size="9.3" fill="#ff0000" text-anchor="start" >Ne</text>
<line x1="77.5" y1="470.7" x2="95.5" y2="470.7" stroke="#404040" stroke-width="1.0" />
<text x="96.5" y="474" font-size="9.3" fill="#000" text-anchor="start" >Ni</text>
<g clip-path="url(#cL7)">
<path transform="scale(.1)" d="M1255 5588l915 0 905-408 920 50" fill="none" stroke="#ff0000" stroke-width="10" stroke-linejoin="round" />
<circle cx="125.5" cy="558.8" r="2.6" fill="#ff0000"/><circle cx="217" cy="558.8" r="1.9" fill="#ff0000"/><circle cx="399.5" cy="523" r="1.9" fill="#ff0000"/>
<path transform="scale(.1)" d="M1255 5856l915 0 905 0 920 0" fill="none" stroke="#0000e0" stroke-width="10" stroke-linejoin="round" />
</g>
<rect x="71.6" y="517.8" width="453.8" height="68.3" fill="none" stroke="#000" stroke-width="1.2"/>
<line x1="124.5" y1="517.8" x2="124.5" y2="528.3" stroke="#383838" stroke-width="1.25" />
<line x1="124.5" y1="586.1" x2="124.5" y2="575.6" stroke="#383838" stroke-width="1.25" />
<line x1="215.9" y1="517.8" x2="215.9" y2="528.3" stroke="#383838" stroke-width="1.25" />
<line x1="215.9" y1="586.1" x2="215.9" y2="575.6" stroke="#383838" stroke-width="1.25" />
<line x1="307.3" y1="517.8" x2="307.3" y2="528.3" stroke="#383838" stroke-width="1.25" />
<line x1="307.3" y1="586.1" x2="307.3" y2="575.6" stroke="#383838" stroke-width="1.25" />
<line x1="398.7" y1="517.8" x2="398.7" y2="528.3" stroke="#383838" stroke-width="1.25" />
<line x1="398.7" y1="586.1" x2="398.7" y2="575.6" stroke="#383838" stroke-width="1.25" />
<line x1="490.1" y1="517.8" x2="490.1" y2="528.3" stroke="#383838" stroke-width="1.25" />
<line x1="490.1" y1="586.1" x2="490.1" y2="575.6" stroke="#383838" stroke-width="1.25" />
<line x1="87.9" y1="517.8" x2="87.9" y2="521.4" stroke="#000" stroke-width="0.9" />
<line x1="87.9" y1="586.1" x2="87.9" y2="582.5" stroke="#000" stroke-width="0.9" />
<line x1="106.2" y1="517.8" x2="106.2" y2="521.4" stroke="#000" stroke-width="0.9" />
<line x1="106.2" y1="586.1" x2="106.2" y2="582.5" stroke="#000" stroke-width="0.9" />
<line x1="142.8" y1="517.8" x2="142.8" y2="521.4" stroke="#000" stroke-width="0.9" />
<line x1="142.8" y1="586.1" x2="142.8" y2="582.5" stroke="#000" stroke-width="0.9" />
<line x1="161.1" y1="517.8" x2="161.1" y2="521.4" stroke="#000" stroke-width="0.9" />
<line x1="161.1" y1="586.1" x2="161.1" y2="582.5" stroke="#000" stroke-width="0.9" />
<line x1="179.3" y1="517.8" x2="179.3" y2="521.4" stroke="#000" stroke-width="0.9" />
<line x1="179.3" y1="586.1" x2="179.3" y2="582.5" stroke="#000" stroke-width="0.9" />
<line x1="197.6" y1="517.8" x2="197.6" y2="521.4" stroke="#000" stroke-width="0.9" />
<line x1="197.6" y1="586.1" x2="197.6" y2="582.5" stroke="#000" stroke-width="0.9" />
<line x1="234.2" y1="517.8" x2="234.2" y2="521.4" stroke="#000" stroke-width="0.9" />
<line x1="234.2" y1="586.1" x2="234.2" y2="582.5" stroke="#000" stroke-width="0.9" />
<line x1="252.5" y1="517.8" x2="252.5" y2="521.4" stroke="#000" stroke-width="0.9" />
<line x1="252.5" y1="586.1" x2="252.5" y2="582.5" stroke="#000" stroke-width="0.9" />
<line x1="270.7" y1="517.8" x2="270.7" y2="521.4" stroke="#000" stroke-width="0.9" />
<line x1="270.7" y1="586.1" x2="270.7" y2="582.5" stroke="#000" stroke-width="0.9" />
<line x1="289" y1="517.8" x2="289" y2="521.4" stroke="#000" stroke-width="0.9" />
<line x1="289" y1="586.1" x2="289" y2="582.5" stroke="#000" stroke-width="0.9" />
<line x1="325.6" y1="517.8" x2="325.6" y2="521.4" stroke="#000" stroke-width="0.9" />
<line x1="325.6" y1="586.1" x2="325.6" y2="582.5" stroke="#000" stroke-width="0.9" />
<line x1="343.9" y1="517.8" x2="343.9" y2="521.4" stroke="#000" stroke-width="0.9" />
<line x1="343.9" y1="586.1" x2="343.9" y2="582.5" stroke="#000" stroke-width="0.9" />
<line x1="362.1" y1="517.8" x2="362.1" y2="521.4" stroke="#000" stroke-width="0.9" />
<line x1="362.1" y1="586.1" x2="362.1" y2="582.5" stroke="#000" stroke-width="0.9" />
<line x1="380.4" y1="517.8" x2="380.4" y2="521.4" stroke="#000" stroke-width="0.9" />
<line x1="380.4" y1="586.1" x2="380.4" y2="582.5" stroke="#000" stroke-width="0.9" />
<line x1="417" y1="517.8" x2="417" y2="521.4" stroke="#000" stroke-width="0.9" />
<line x1="417" y1="586.1" x2="417" y2="582.5" stroke="#000" stroke-width="0.9" />
<line x1="435.3" y1="517.8" x2="435.3" y2="521.4" stroke="#000" stroke-width="0.9" />
<line x1="435.3" y1="586.1" x2="435.3" y2="582.5" stroke="#000" stroke-width="0.9" />
<line x1="453.5" y1="517.8" x2="453.5" y2="521.4" stroke="#000" stroke-width="0.9" />
<line x1="453.5" y1="586.1" x2="453.5" y2="582.5" stroke="#000" stroke-width="0.9" />
<line x1="471.8" y1="517.8" x2="471.8" y2="521.4" stroke="#000" stroke-width="0.9" />
<line x1="471.8" y1="586.1" x2="471.8" y2="582.5" stroke="#000" stroke-width="0.9" />
<line x1="508.4" y1="517.8" x2="508.4" y2="521.4" stroke="#000" stroke-width="0.9" />
<line x1="508.4" y1="586.1" x2="508.4" y2="582.5" stroke="#000" stroke-width="0.9" />
<path d="M123.2 586.2a2.3 2.3 0 0 1 4.6 0z" fill="#0000e0"/>
<path d="M214.7 586.2a2.3 2.3 0 0 1 4.6 0z" fill="#0000e0"/>
<path d="M305.2 586.2a2.3 2.3 0 0 1 4.6 0z" fill="#0000e0"/>
<path d="M397.2 586.2a2.3 2.3 0 0 1 4.6 0z" fill="#0000e0"/>
<line x1="71.6" y1="567.2" x2="77.6" y2="567.2" stroke="#000" stroke-width="0.9" />
<line x1="525.4" y1="567.2" x2="519.4" y2="567.2" stroke="#000" stroke-width="0.9" />
<line x1="71.6" y1="548.1" x2="77.6" y2="548.1" stroke="#000" stroke-width="0.9" />
<line x1="525.4" y1="548.1" x2="519.4" y2="548.1" stroke="#000" stroke-width="0.9" />
<line x1="71.6" y1="529" x2="77.6" y2="529" stroke="#000" stroke-width="0.9" />
<line x1="525.4" y1="529" x2="519.4" y2="529" stroke="#000" stroke-width="0.9" />
<line x1="71.6" y1="581.5" x2="73.9" y2="581.5" stroke="#222" stroke-width="0.8" />
<line x1="525.4" y1="581.5" x2="523.1" y2="581.5" stroke="#222" stroke-width="0.8" />
<line x1="71.6" y1="576.8" x2="73.9" y2="576.8" stroke="#222" stroke-width="0.8" />
<line x1="525.4" y1="576.8" x2="523.1" y2="576.8" stroke="#222" stroke-width="0.8" />
<line x1="71.6" y1="572" x2="73.9" y2="572" stroke="#222" stroke-width="0.8" />
<line x1="525.4" y1="572" x2="523.1" y2="572" stroke="#222" stroke-width="0.8" />
<line x1="71.6" y1="562.4" x2="73.9" y2="562.4" stroke="#222" stroke-width="0.8" />
<line x1="525.4" y1="562.4" x2="523.1" y2="562.4" stroke="#222" stroke-width="0.8" />
<line x1="71.6" y1="557.6" x2="73.9" y2="557.6" stroke="#222" stroke-width="0.8" />
<line x1="525.4" y1="557.6" x2="523.1" y2="557.6" stroke="#222" stroke-width="0.8" />
<line x1="71.6" y1="552.9" x2="73.9" y2="552.9" stroke="#222" stroke-width="0.8" />
<line x1="525.4" y1="552.9" x2="523.1" y2="552.9" stroke="#222" stroke-width="0.8" />
<line x1="71.6" y1="543.3" x2="73.9" y2="543.3" stroke="#222" stroke-width="0.8" />
<line x1="525.4" y1="543.3" x2="523.1" y2="543.3" stroke="#222" stroke-width="0.8" />
<line x1="71.6" y1="538.5" x2="73.9" y2="538.5" stroke="#222" stroke-width="0.8" />
<line x1="525.4" y1="538.5" x2="523.1" y2="538.5" stroke="#222" stroke-width="0.8" />
<line x1="71.6" y1="533.8" x2="73.9" y2="533.8" stroke="#222" stroke-width="0.8" />
<line x1="525.4" y1="533.8" x2="523.1" y2="533.8" stroke="#222" stroke-width="0.8" />
<line x1="71.6" y1="524.2" x2="73.9" y2="524.2" stroke="#222" stroke-width="0.8" />
<line x1="525.4" y1="524.2" x2="523.1" y2="524.2" stroke="#222" stroke-width="0.8" />
<line x1="71.6" y1="519.5" x2="73.9" y2="519.5" stroke="#222" stroke-width="0.8" />
<line x1="525.4" y1="519.5" x2="523.1" y2="519.5" stroke="#222" stroke-width="0.8" />
<text x="527.3" y="532.6" font-size="10.67" fill="#000" text-anchor="start" >0.6</text>
<text x="527.3" y="552" font-size="10.67" fill="#000" text-anchor="start" >0.4</text>
<text x="527.3" y="570.8" font-size="10.67" fill="#000" text-anchor="start" >0.2</text>
<text x="527.3" y="590.1" font-size="10.67" fill="#000" text-anchor="start" >0.0</text>
<text transform="translate(557.7,552.5) rotate(-90)" font-size="10.67" fill="#000" text-anchor="middle">N<tspan font-size="8.6" dy="3">i</tspan><tspan dy="-3">&#8203;</tspan> [cm<tspan font-size="8.6" dy="-4">-3</tspan><tspan dy="4">&#8203;</tspan>]</text>
<line x1="77.5" y1="523.8" x2="95.5" y2="523.8" stroke="#00ff00" stroke-width="1.0" />
<circle cx="86.5" cy="523.8" r="2.5" fill="#00ff00"/>
<text x="96.3" y="526.9" font-size="8.7" fill="#00ff00" text-anchor="start" >N&#160;&#160;He+</text>
<line x1="77.5" y1="532.6" x2="95.5" y2="532.6" stroke="#ff0000" stroke-width="1.0" />
<circle cx="86.5" cy="532.6" r="2.5" fill="#ff0000"/>
<text x="96.3" y="535.7" font-size="8.7" fill="#ff0000" text-anchor="start" >N&#160;&#160;He++</text>
<line x1="77.5" y1="541.8" x2="95.5" y2="541.8" stroke="#0000ff" stroke-width="1.0" />
<circle cx="86.5" cy="541.8" r="2.5" fill="#0000ff"/>
<text x="96.3" y="544.9" font-size="8.7" fill="#0000ff" text-anchor="start" >N&#160;&#160;O+</text>
<g clip-path="url(#cL8)">
<path transform="scale(.1)" d="M716 5996l7-7 7-2 7 3 7 6 7-3 7 2 7-1 7 7 7-6 7-7 7-6 7 17 7 6 7 9 7-9 7-4 7-3 7 15 7-4 7 10 7-4 7-2 7-11 7 5 7 12 7-5 7 8 7-13 7 14 7 17 7-6 7-6 7-12 7 1 7 1 7 6 7-13 7 4 7 13 7 0 7 4 7 2 7-13 7-5 7 11 7 1 7 0 7-5 7 11 7 0 7 4 7-8 7 4 7-3 7-8 7 2 7-12 7 5 7 2 7 3 7-13 7-7 7 0 7-11 7 5 7 22 7-12 7-11 7-5 7 14 7-17 7 0 7-2 7-6 7-3 7-10 7 1 7 13 7 3 7-13 7 1 7-3 7-6 7-5 7 6 7-5 7-9 7-4 7 4 7-11 7-6 7 0 7-4 7 9 7-6 7-6 7-7 7 9 7-4 7 8 7-6 7-11 7-6 7-1 7 1 7 4 7-2 7 5 7-20 7 4 7-10 7-2 7 2 7-1 7-4 7-5 7 15 7-7 7 6 7-12 7-11 7 8 7 13 7-6 7 5 7-8 7 15 7-2 7 4 7-8 7 8 7-5 7-5 7-2 7 4 7-5 7-3 7 8 7 7 7-5 7 6 7 8 7-17 7 5 7-6 7 0 7 6 7-15 7 15 7 7 7 0 7 1 7 8 7-12 7 6 7 5 7-5 7-17 7 6 7 1 7-8 7 8 7 9 7-4 7 0 7 12 7-10 7-4 7 5 7 10 7 0 7-3 7-4 7 11 7 2 7-16 7 11 7-12 7 26 7 4 7-4 7-3 7 9 7-5 7 17 7 1 7-5 7 13 7 14 7-9 7 4 7 17 7-6 7-7 7 4 7 5 7-10 7 3 7-9 7-2 7 0 7 16 7 1 7 3 7 4 7-7 7-1 7 1 7 0 7-10 7 2 7 1 7 1 7-5 7 3 7 3 7 0 7 3 7 3 7 1 7 6 7 3 7 7 7 0 7-6 7 20 7 1 7 3 7 0 7-2 7-6 7 11 7-1 7 0 7-13 7 20 7-13 7-5 7 9 7 2 7-10 7 2 7 1 7-1 7 1 7 1 7-8 7-12 7 22 7-11 7-8 7 10 7 1 7-8 7 17 7-26 7 16 7-4 7 1 7 0 7-4 7 3 7-9 7 6 7 18 7-22 7 20 7-15 7 6 7 16 7-3 7 0 7-4 7 9 7 4 7 0 7-5 7 11 7 7 7 8 7-1 7 8 7 0 7-27 7 19 7-8 7-11 7 5 7 3 7-18 7-6 7 9 7-7 7 9 7-8 7-9 7-11 7 8 7-17 7-5 7-4 7 16 7 2 7-16 7-8 7 1 7 2 7-16 7 14 7-12 7 5 7-23 7 8 7-2 7 17 7-10 7-11 7 18 7-13 7 0 7-8 7 10 7-1 7-2 7-1 7-1 7-1 7-4 7 17 7 3 7-13 7-3 7 11 7 16 7-10 7 0 7 5 7 10 7 4 7 14 7 8 7 3 7 11 7-6 7-2 7 26 7-23 7-1 7-4 7 20 7-1 7 16 7-13 7 11 7 3 7-4 7 12 7-6 7 3 7-6 7 2 7-4 7 2 7-1 7-5 7 6 7-3 7-7 7-3 7 9 7 8 7-16 7 1 7 5 7 5 7-1 7-12 7 4 7 8 7-2 7-4 7-7 7 7 7 1 7 1 7 10 7 2 7-13 7 3 7-2 7 2 7 11 7-1 7-6 7-6 7 2 7 4 7-4 7 10 7-3 7-9 7 20 7-27 7 11 7 5 7 9 7 4 7 5 7 2 7-7 7-2 7 5 7-4 7-9 7 3 7 9 7 3 7-10 7 14 7-2 7-12 7 10 7 7 7-1 7-5 7-5 7 12 7-2 7-2 7-3 7-4 7-7 7 9 7 13 7 1 7-8 7 12 7-7 7-7 7 11 7 7 7-10 7-8 7 6 7-14 7 13 7 14 7-4 7-8 7 8 7-5 7 10 7-7 7 14 7-12 7 1 7-7 7-4 7 10 7 3 7-7 7 8 7-5 7-2 7 2 7 3 7 3 7 4 7-5 7-9 7-3 7 6 7-9 7 4 7-1 7 2 7 2 7 6 7 5 7-4 7 0 7-15 7 10 7 4 7-17 7 21 7-15 7-17 7 22 7-5 7-8 7-1 7 10 7-3 7-5 7 8 7-12 7-3 7 0 7-1 7 8 7-4 7-7 7 2 7-10 7 12 7 3 7 5 7-4 7 3 7-7 7 4 7 3 7-8 7 10 7 0 7 0 7-3 7 16 7-9 7-7 7-2 7 9 7-2 7-5 7 0 7 11 7-2 7 7 7-5 7-9 7 11 7 1 7-6 7 0 7-3 7 11 7-4 7 5 7 0 7-3 7 4 7-3 7-6 7 3 7-3 7 12 7 3 7-7 7 7 7 0 7 5 7-10 7 3 7-5 7 1 7 15 7-18 7 2 7 11 7 6 7-9 7-10 7 0 7 14 7 9 7 3 7-10 7 11 7-6 7 4 7-4 7 11 7-10 7-13 7 8 7 7 7 3 7-5 7 2 7-5 7 5 7 4 7 3 7 10 7-20 7 11 7 3 7-9 7 7 7 1 7-5 7 11 7 11 7-4 7 0 7 3 7-7 7 6 7-9 7 3 7 5 7 4 7-11 7-4 7 3 7-4 7 0 7 3 7-11 7 7 7-2 7-6 7-9 7 0 7 3 7 7 7-19 7 12 7 0 7-9 7 10 7 0 7 0 7-9 7-4 7 12 7 7 7-5 7-6 7-3 7-10 7 16 7-3 7 9 7-10 7 9 7-8 7 6 7 8 7-11 7 8 7-3 7-7 7 6 7 5 7-6 7 1 2-2" fill="none" stroke="#303030" stroke-width="8" stroke-linejoin="round" />
<path transform="scale(.1)" d="M716 6187l8 1 8 11 8-9 8 13 8-10 8-9 8 13 8 10 8-16 8 3 8-16 8-2 8-1 8 10 8-15 8-1 8-2 8 7 8-9 8-6 8 39 8-5 8-20 8 13 8-14 8-14 8 29 8 12 8-15 8-10 8 10 8 22 8-2 8-1 8-19 8-16 8 13 8 15 8-1 8-2 8 14 8-15 8 12 8 4 8-12 8 1 8 0 8 6 8-13 8 1 8 5 8 2 8 1 8 4 8-2 8-3 8 15 8-8 8 0 8-5 8-5 8 15 8 4 8 2 8 8 8 0 8 10 8 20 8-1 8-5 8 20 8 3 8-20 8 23 8 3 8 9 8-15 8-6 8-1 8 13 8-10 8-1 8 17 8-7 8 4 8-7 8-12 8 10 8 6 8-10 8 19 8 11 8 8 8-8 8-9 8 7 8 8 8 3 8-1 8-4 8 2 8 10 8 3 8 24 8-5 8 6 8-5 8 1 8-6 8 3 8-8 8-9 8 31 8-6 8 13 8 3 8-2 8 13 8-5 8 9 8-2 8 14 8 8 8-3 8 10 8 0 8 13 8-10 8-19 8 7 8 4 8-5 8-1 8-2 8-11 8 24 8-13 8-10 8-11 8 1 8 9 8 22 8 4 8-9 8-9 8-3 8 11 8 17 8-3 8 21 8 16 8-8 8-27 8 20 8-1 8 7 8 8 8-16 8 3 8 3 8-7 8 11 8-2 8-3 8 22 8-6 8 11 8-15 8 2 8-19 8-3 8 6 8-32 8 8 8-5 8 12 8 0 8 2 8-9 8 41 8-12 8 0 8-1 8 6 8 10 8-9 8 20 8-3 8 8 8-23 8 4 8 5 8 3 8-1 8 10 8 7 8-10 8-15 8 19 8 0 8 14 8 6 8-6 8-17 8 2 8-3 8 19 8-19 8 16 8-15 8 5 8-2 8 10 8 11 8 18 8 2 8 14 8 16 8-10 8-21 8-2 8-2 8-6 8 11 8 5 8 10 8-11 8-40 8 2 8 8 8-11 8-6 8 11 8-3 8-16 8-4 8-29 8 14 8-6 8 7 8-9 8-2 8 1 8 35 8-23 8-13 8-1 8 15 8 5 8 0 8-11 8-5 8-15 8-5 8-12 8-16 8-6 8 23 8-5 8-18 8-6 8-10 8 8 8-12 8-16 8 2 8-6 8-16 8-12 8 0 8-21 8-6 8 13 8 4 8 1 8-17 8-13 8-7 8-8 8 11 8-12 8 8 8-20 8-2 8 10 8-22 8-13 8-9 8-18 8 1 8-5 8 24 8-17 8-29 8 12 8 3 8-13 8-7 8-4 8-19 8-8 8-7 8 7 8 1 8-11 8-18 8 15 8 0 8 14 8-3 8 2 8 7 8-9 8-1 8 32 8-12 8 15 8 8 8 9 8 13 8-18 8 16 8-21 8 9 8 7 8 11 8 6 8-17 8-3 8 0 8-6 8-5 8-1 8 18 8 12 8 0 8 9 8-11 8-18 8-6 8 6 8 11 8 9 8-17 8 10 8-9 8 6 8 7 8 10 8-15 8 0 8 2 8-8 8 2 8 6 8-20 8 0 8 30 8-2 8-11 8-19 8-2 8 15 8 9 8 3 8 3 8-10 8 17 8-18 8 6 8-4 8-16 8 17 8-2 8 9 8 10 8-5 8-11 8-1 8 0 8 16 8 3 8 9 8-3 8-17 8 8 8 5 8-9 8 2 8-7 8-13 8 4 8 12 8-5 8-22 8 3 8 21 8 2 8 11 8-13 8-4 8-8 8-2 8 12 8 3 8-5 8 6 8-14 8 3 8-10 8-6 8-2 8 2 8 29 8 13 8 6 8-15 8 4 8-17 8-3 8 7 8-16 8 10 8 9 8-23 8-16 8 13 8 9 8 7 8-9 8 12 8 2 8-8 8 19 8-3 8 2 8 13 8-19 8-7 8-20 8 3 8 8 8 26 8-7 8-8 8-20 8-7 8-15 8-4 8 13 8 8 8-9 8 2 8-6 8 11 8 5 8-9 8-5 8-12 8 1 8 27 8-8 8 4 8-2 8 8 8-15 8-14 8 13 8 6 8-13 8 12 8-5 8-3 8 18 8-3 8-4 8-8 8 1 8 9 8 0 8-13 8 6 8-3 8 4 8-3 8-22 8-6 8 10 8-13 8 1 8 37 8 6 8-7 8 4 8-24 8 13 8 15 8 0 8-14 8 15 8-6 8-4 8 7 8-2 8 24 8-9 8 18 8-7 8-21 8 2 8 1 8 15 8 8 8 17 8-24 8-10 8 23 8-20 8 2 8 14 8-19 8-3 8-6 8 10 8 5 8-2 8 6 8-11 8-2 8 8 8 21 8-10 8-4 8 10 8-6 8 9 8-6 8 7 8-6 8-15 8-7 8 9 8 21 8 12 8-16 8 21 8-25 8-11 8 13 8-17 8 16 8 3 8 5 8-16 8 8 8 9 8-4 8 8 8-6 8 0 8-6 8-15 8 5 8 9 8-8 8-16 8-6 2 27" fill="none" stroke="#ff3030" stroke-width="8" stroke-linejoin="round" />
</g>
<rect x="71.6" y="586.1" width="453.8" height="68.3" fill="none" stroke="#000" stroke-width="1.2"/>
<line x1="124.5" y1="586.1" x2="124.5" y2="596.6" stroke="#383838" stroke-width="1.25" />
<line x1="124.5" y1="654.4" x2="124.5" y2="643.9" stroke="#383838" stroke-width="1.25" />
<line x1="215.9" y1="586.1" x2="215.9" y2="596.6" stroke="#383838" stroke-width="1.25" />
<line x1="215.9" y1="654.4" x2="215.9" y2="643.9" stroke="#383838" stroke-width="1.25" />
<line x1="307.3" y1="586.1" x2="307.3" y2="596.6" stroke="#383838" stroke-width="1.25" />
<line x1="307.3" y1="654.4" x2="307.3" y2="643.9" stroke="#383838" stroke-width="1.25" />
<line x1="398.7" y1="586.1" x2="398.7" y2="596.6" stroke="#383838" stroke-width="1.25" />
<line x1="398.7" y1="654.4" x2="398.7" y2="643.9" stroke="#383838" stroke-width="1.25" />
<line x1="490.1" y1="586.1" x2="490.1" y2="596.6" stroke="#383838" stroke-width="1.25" />
<line x1="490.1" y1="654.4" x2="490.1" y2="643.9" stroke="#383838" stroke-width="1.25" />
<line x1="87.9" y1="586.1" x2="87.9" y2="589.7" stroke="#000" stroke-width="0.9" />
<line x1="87.9" y1="654.4" x2="87.9" y2="650.8" stroke="#000" stroke-width="0.9" />
<line x1="106.2" y1="586.1" x2="106.2" y2="589.7" stroke="#000" stroke-width="0.9" />
<line x1="106.2" y1="654.4" x2="106.2" y2="650.8" stroke="#000" stroke-width="0.9" />
<line x1="142.8" y1="586.1" x2="142.8" y2="589.7" stroke="#000" stroke-width="0.9" />
<line x1="142.8" y1="654.4" x2="142.8" y2="650.8" stroke="#000" stroke-width="0.9" />
<line x1="161.1" y1="586.1" x2="161.1" y2="589.7" stroke="#000" stroke-width="0.9" />
<line x1="161.1" y1="654.4" x2="161.1" y2="650.8" stroke="#000" stroke-width="0.9" />
<line x1="179.3" y1="586.1" x2="179.3" y2="589.7" stroke="#000" stroke-width="0.9" />
<line x1="179.3" y1="654.4" x2="179.3" y2="650.8" stroke="#000" stroke-width="0.9" />
<line x1="197.6" y1="586.1" x2="197.6" y2="589.7" stroke="#000" stroke-width="0.9" />
<line x1="197.6" y1="654.4" x2="197.6" y2="650.8" stroke="#000" stroke-width="0.9" />
<line x1="234.2" y1="586.1" x2="234.2" y2="589.7" stroke="#000" stroke-width="0.9" />
<line x1="234.2" y1="654.4" x2="234.2" y2="650.8" stroke="#000" stroke-width="0.9" />
<line x1="252.5" y1="586.1" x2="252.5" y2="589.7" stroke="#000" stroke-width="0.9" />
<line x1="252.5" y1="654.4" x2="252.5" y2="650.8" stroke="#000" stroke-width="0.9" />
<line x1="270.7" y1="586.1" x2="270.7" y2="589.7" stroke="#000" stroke-width="0.9" />
<line x1="270.7" y1="654.4" x2="270.7" y2="650.8" stroke="#000" stroke-width="0.9" />
<line x1="289" y1="586.1" x2="289" y2="589.7" stroke="#000" stroke-width="0.9" />
<line x1="289" y1="654.4" x2="289" y2="650.8" stroke="#000" stroke-width="0.9" />
<line x1="325.6" y1="586.1" x2="325.6" y2="589.7" stroke="#000" stroke-width="0.9" />
<line x1="325.6" y1="654.4" x2="325.6" y2="650.8" stroke="#000" stroke-width="0.9" />
<line x1="343.9" y1="586.1" x2="343.9" y2="589.7" stroke="#000" stroke-width="0.9" />
<line x1="343.9" y1="654.4" x2="343.9" y2="650.8" stroke="#000" stroke-width="0.9" />
<line x1="362.1" y1="586.1" x2="362.1" y2="589.7" stroke="#000" stroke-width="0.9" />
<line x1="362.1" y1="654.4" x2="362.1" y2="650.8" stroke="#000" stroke-width="0.9" />
<line x1="380.4" y1="586.1" x2="380.4" y2="589.7" stroke="#000" stroke-width="0.9" />
<line x1="380.4" y1="654.4" x2="380.4" y2="650.8" stroke="#000" stroke-width="0.9" />
<line x1="417" y1="586.1" x2="417" y2="589.7" stroke="#000" stroke-width="0.9" />
<line x1="417" y1="654.4" x2="417" y2="650.8" stroke="#000" stroke-width="0.9" />
<line x1="435.3" y1="586.1" x2="435.3" y2="589.7" stroke="#000" stroke-width="0.9" />
<line x1="435.3" y1="654.4" x2="435.3" y2="650.8" stroke="#000" stroke-width="0.9" />
<line x1="453.5" y1="586.1" x2="453.5" y2="589.7" stroke="#000" stroke-width="0.9" />
<line x1="453.5" y1="654.4" x2="453.5" y2="650.8" stroke="#000" stroke-width="0.9" />
<line x1="471.8" y1="586.1" x2="471.8" y2="589.7" stroke="#000" stroke-width="0.9" />
<line x1="471.8" y1="654.4" x2="471.8" y2="650.8" stroke="#000" stroke-width="0.9" />
<line x1="508.4" y1="586.1" x2="508.4" y2="589.7" stroke="#000" stroke-width="0.9" />
<line x1="508.4" y1="654.4" x2="508.4" y2="650.8" stroke="#000" stroke-width="0.9" />
<line x1="71.6" y1="590.3" x2="73.9" y2="590.3" stroke="#222" stroke-width="0.8" />
<line x1="525.4" y1="590.3" x2="523.1" y2="590.3" stroke="#222" stroke-width="0.8" />
<line x1="71.6" y1="597.2" x2="73.9" y2="597.2" stroke="#222" stroke-width="0.8" />
<line x1="525.4" y1="597.2" x2="523.1" y2="597.2" stroke="#222" stroke-width="0.8" />
<line x1="71.6" y1="603.3" x2="73.9" y2="603.3" stroke="#222" stroke-width="0.8" />
<line x1="525.4" y1="603.3" x2="523.1" y2="603.3" stroke="#222" stroke-width="0.8" />
<line x1="71.6" y1="612.8" x2="73.9" y2="612.8" stroke="#222" stroke-width="0.8" />
<line x1="525.4" y1="612.8" x2="523.1" y2="612.8" stroke="#222" stroke-width="0.8" />
<line x1="71.6" y1="621.4" x2="73.9" y2="621.4" stroke="#222" stroke-width="0.8" />
<line x1="525.4" y1="621.4" x2="523.1" y2="621.4" stroke="#222" stroke-width="0.8" />
<line x1="71.6" y1="629" x2="73.9" y2="629" stroke="#222" stroke-width="0.8" />
<line x1="525.4" y1="629" x2="523.1" y2="629" stroke="#222" stroke-width="0.8" />
<line x1="71.6" y1="636.9" x2="73.9" y2="636.9" stroke="#222" stroke-width="0.8" />
<line x1="525.4" y1="636.9" x2="523.1" y2="636.9" stroke="#222" stroke-width="0.8" />
<line x1="71.6" y1="645.5" x2="73.9" y2="645.5" stroke="#222" stroke-width="0.8" />
<line x1="525.4" y1="645.5" x2="523.1" y2="645.5" stroke="#222" stroke-width="0.8" />
<line x1="71.6" y1="650.5" x2="73.9" y2="650.5" stroke="#222" stroke-width="0.8" />
<line x1="525.4" y1="650.5" x2="523.1" y2="650.5" stroke="#222" stroke-width="0.8" />
<text transform="translate(38,621.5) rotate(-90)" font-size="10.67" fill="#000" text-anchor="middle">T<tspan font-size="8.6" dy="3">i</tspan><tspan dy="-3">&#8203;</tspan> [eV]</text>
<line x1="77.5" y1="596.2" x2="95.5" y2="596.2" stroke="#ff4040" stroke-width="1.0" />
<text x="96.5" y="599.5" font-size="9.3" fill="#ff0000" text-anchor="start" >T<tspan font-size="6.3" dy="3.3">||</tspan><tspan dy="-3.3">&#8203;</tspan></text>
<line x1="77.5" y1="615" x2="95.5" y2="615" stroke="#404040" stroke-width="1.0" />
<text x="96.5" y="618.3" font-size="9.3" fill="#000" text-anchor="start" >T<tspan font-size="6.5" dy="3">&#8869;</tspan><tspan dy="-3">&#8203;</tspan></text>
<g clip-path="url(#cL9)">
<path transform="scale(.1)" d="M716 7205l7-1 7 2 7-1 7-1 7 0 7 0 7 1 7-1 7 1 7 1 7-1 7 0 7 0 7 1 7-1 7 1 7 1 7-1 7-1 7 0 7-1 7 1 7 0 7 1 7 0 7 1 7 0 7 0 7 0 7 0 7-1 7 1 7 1 7 0 7-2 7 1 7-2 7 2 7 0 7 0 7-1 7 1 7 0 7-1 7 1 7 1 7 0 7 0 7 0 7 2 7-1 7 0 7-2 7 1 7 1 7-3 7 1 7 1 7 0 7 0 7 0 7 2 7-1 7-1 7 0 7 2 7-2 7 0 7 1 7 0 7 0 7 1 7 0 7 0 7-1 7 0 7 0 7 1 7-2 7 0 7 0 7 0 7 0 7 2 7-2 7 2 7-2 7 1 7 0 7 0 7-1 7 1 7-2 7 0 7 2 7 2 7 1 7-1 7-1 7 0 7 1 7 0 7-1 7 1 7 0 7 1 7-1 7 0 7-1 7-1 7 2 7 1 7 0 7 0 7-1 7-1 7 0 7 0 7 1 7 0 7-2 7 2 7 0 7-1 7 1 7 1 7-1 7-1 7 1 7 1 7 0 7 1 7 0 7-2 7 2 7-1 7 1 7 0 7 1 7-2 7 1 7 0 7-1 7 1 7 2 7-1 7-2 7 0 7 2 7-1 7 1 7-2 7 2 7-3 7 1 7 0 7 0 7 1 7-1 7 1 7 1 7 0 7-2 7 0 7-2 7 2 7 1 7 1 7-1 7 2 7-1 7-3 7 0 7 2 7-1 7 1 7 2 7-2 7 2 7-2 7-2 7 1 7 1 7-1 7 2 7-2 7 0 7 1 7 0 7-1 7 0 7 1 7 1 7 0 7 1 7-2 7-2 7 1 7 0 7-1 7 1 7 0 7 0 7 1 7-1 7 1 7 0 7 0 7 1 7-2 7 2 7-2 7 1 7 1 7 0 7-3 7 1 7 2 7-1 7-1 7 1 7 1 7-2 7 0 7-1 7 1 7 0 7 1 7-1 7-1 7 0 7 2 7 0 7-2 7 2 7-3 7 4 7 0 7-3 7 2 7-1 7 0 7 0 7 0 7 0 7 0 7 0 7 1 7 0 7-2 7 1 7 2 7 0 7 0 7-2 7-1 7-1 7 0 7 1 7 0 7 0 7 0 7 1 7 1 7 0 7-2 7 2 7-1 7 0 7 0 7 0 7-1 7 3 7-2 7 0 7 1 7 1 7-1 7-1 7 1 7 1 7-1 7 0 7-1 7 0 7-1 7 0 7 0 7 1 7 2 7-3 7 0 7 0 7 1 7 1 7-1 7 0 7 1 7 0 7 0 7 1 7-2 7 1 7-1 7 0 7 0 7 1 7-2 7 0 7 2 7 0 7 0 7-1 7 0 7 1 7 0 7-3 7 3 7-1 7 0 7 1 7-2 7-2 7 0 7 0 7 0 7-3 7 1 7 0 7 0 7-1 7 0 7-3 7 1 7-1 7-2 7 0 7 0 7-1 7 1 7-2 7-1 7 1 7-2 7-1 7 0 7-1 7-1 7-2 7 2 7-2 7 0 7-1 7-1 7-1 7 1 7 0 7 1 7-1 7-1 7-1 7 1 7-2 7 3 7-1 7 0 7-1 7 0 7 0 7 1 7 0 7 0 7 0 7-2 7 1 7 2 7-2 7 0 7 0 7-1 7 3 7-2 7 1 7-1 7 1 7 0 7 0 7 0 7 0 7 0 7-1 7 0 7 0 7-1 7-2 7 2 7 0 7-1 7 0 7 0 7 0 7 1 7 0 7 0 7 0 7 0 7 0 7-1 7-2 7 1 7 0 7 0 7 3 7-2 7 0 7-1 7 1 7-1 7 1 7 0 7-1 7-1 7 2 7-1 7 1 7-3 7 0 7 3 7 1 7-1 7 0 7 0 7-1 7 0 7-1 7 0 7 1 7 1 7 0 7-2 7 2 7 0 7 0 7-1 7 0 7 1 7 1 7-2 7-1 7 2 7 0 7 0 7-1 7 1 7 0 7 0 7 0 7-1 7 1 7 0 7 1 7-1 7-1 7 0 7 0 7 2 7-1 7 1 7 0 7 0 7 2 7-2 7 0 7 0 7 0 7 0 7-1 7 2 7-1 7-2 7 2 7-1 7-1 7 1 7 0 7 1 7 0 7 0 7-1 7 0 7 0 7 0 7 0 7-1 7 1 7 1 7 0 7 0 7 0 7 0 7-1 7 1 7 2 7-1 7 0 7 2 7-3 7 0 7 0 7 0 7-2 7 1 7 1 7-1 7 0 7 0 7 0 7 1 7 2 7-1 7 0 7 0 7 0 7 0 7 1 7-2 7 0 7-1 7-1 7 1 7 2 7 0 7 0 7 1 7-3 7 2 7 0 7 0 7 1 7-2 7-1 7 1 7 0 7-1 7 0 7 0 7 1 7-1 7 2 7-2 7 1 7 0 7 1 7-2 7 0 7 2 7-2 7 0 7-1 7 0 7 2 7 0 7-1 7-1 7-1 7 2 7-1 7 1 7-3 7 1 7 1 7 1 7-4 7 2 7 1 7 0 7-1 7 0 7 1 7 0 7-3 7 2 7 1 7-1 7 1 7-1 7 2 7-1 7-1 7 3 7-1 7 0 7-3 7 0 7 1 7 1 7-1 7-2 7 2 7-1 7 1 7-1 7 0 7-1 7 1 7-1 7-1 7 2 7 0 7 1 7 0 7-2 7 0 7 0 7 0 7-1 7 1 7 1 7 1 7 0 7-1 7-3 7 1 7 0 7-2 7 3 7 1 7-1 7 0 7 0 7-1 7 2 7 0 7 0 7-2 7 0 7 1 7 0 7-2 7 2 7 0 7-1 7-1 7 0 7-1 7 1 7 0 7 0 2 0" fill="none" stroke="#ff6868" stroke-width="15" stroke-linejoin="round" />
<path transform="scale(.1)" d="M716 7079l7 0 7 0 7-3 7 0 7 0 7 0 7 0 7-3 7-2 7-4 7 0 7 4 7 0 7 9 7 1 7 2 7 4 7 3 7 2 7 2 7-3 7 3 7 1 7-2 7 4 7-1 7 2 7-4 7-2 7-1 7-1 7-1 7 8 7-3 7 0 7-3 7 0 7 3 7-8 7-1 7 1 7-2 7 2 7 1 7-1 7-1 7-4 7 1 7-5 7-4 7 0 7-2 7 2 7-6 7 3 7-6 7-4 7-3 7 2 7-4 7 1 7-1 7-2 7-4 7 1 7 2 7-5 7 4 7-1 7-2 7 1 7 1 7-2 7-3 7 2 7-3 7 0 7 0 7-1 7-2 7-3 7-4 7-4 7-2 7-1 7 3 7-6 7-6 7 1 7-8 7 3 7-5 7-1 7 1 7 1 7-3 7 4 7-1 7 3 7-5 7-4 7 5 7-1 7 2 7-8 7 0 7 3 7 4 7-7 7-4 7 2 7 4 7 1 7-7 7-1 7-4 7 0 7 0 7 2 7 2 7 4 7-6 7 1 7-1 7-1 7 3 7-2 7 2 7-3 7 0 7-1 7-2 7-2 7-1 7 1 7-1 7 0 7-2 7 4 7-2 7 0 7 0 7 4 7-3 7 4 7-4 7 5 7 0 7-3 7 2 7 3 7-4 7 1 7 2 7 0 7 0 7 2 7 2 7 2 7 4 7-3 7 8 7-5 7 4 7-2 7-3 7 2 7 1 7 5 7-5 7 2 7 3 7 3 7 1 7 3 7-2 7-2 7 0 7-1 7-5 7-4 7-6 7 3 7-5 7-3 7-9 7 1 7 3 7-8 7-4 7 1 7-4 7 0 7 1 7-7 7-3 7 2 7-2 7-2 7-2 7 0 7-1 7-3 7-2 7 1 7-3 7 2 7-5 7 5 7 0 7-3 7 5 7-4 7 6 7-4 7 3 7-2 7 3 7-4 7 2 7-4 7-5 7 3 7 1 7-1 7 2 7-5 7-4 7 2 7-2 7 0 7 0 7-3 7 3 7-2 7 4 7-3 7 1 7-3 7-2 7-1 7-1 7 2 7 0 7-3 7-2 7 0 7-2 7 0 7-2 7 4 7-4 7-1 7 0 7-1 7 0 7 0 7-1 7-3 7 1 7-2 7-3 7 4 7-4 7 3 7 3 7-1 7 0 7 1 7 1 7 0 7 0 7 2 7-5 7 5 7 0 7 6 7-1 7-3 7 4 7-1 7-2 7 2 7 3 7 4 7 1 7-1 7-1 7 2 7 3 7-2 7 3 7-4 7 1 7 2 7 1 7-1 7-2 7-4 7 3 7 0 7 1 7 5 7-4 7 3 7 1 7 0 7 6 7 7 7 0 7 3 7 5 7 7 7 2 7 6 7 5 7 3 7 5 7 6 7 1 7 5 7 1 7 5 7 5 7 7 7 2 7 2 7 9 7 9 7-6 7 5 7 7 7 7 7 2 7 8 7 8 7 3 7 7 7 5 7 2 7 6 7 5 7 9 7 6 7 2 7-1 7 5 7 5 7 0 7 8 7 5 7 1 7 5 7 4 7 9 7 1 7 1 7-1 7-2 7 5 7-1 7-3 7 7 7 0 7 2 7 2 7 0 7 3 7 3 7-3 7 0 7 1 7 2 7-2 7 1 7-1 7 1 7 2 7-2 7 1 7-3 7 2 7 2 7 2 7-3 7 2 7-1 7 3 7 1 7 0 7-1 7-3 7 0 7-2 7 1 7 2 7 2 7-3 7-1 7 1 7-5 7 8 7-6 7 3 7 1 7 0 7-3 7 1 7-2 7 2 7-4 7-1 7 2 7-2 7 2 7-3 7 1 7-2 7 1 7 5 7-6 7-3 7-2 7 3 7 5 7-4 7 2 7-2 7-2 7 5 7-1 7-7 7-1 7 3 7 2 7-2 7 1 7 0 7-2 7 3 7-4 7 2 7 1 7-1 7-2 7 0 7-5 7 4 7-3 7-2 7 5 7-2 7 2 7 0 7-4 7 0 7 2 7 2 7-1 7-3 7 1 7 1 7-2 7 2 7 0 7-3 7 9 7 1 7-3 7 3 7-3 7 5 7-2 7 1 7-1 7 2 7 1 7 0 7-1 7 3 7 1 7 0 7 2 7-3 7 4 7-2 7 4 7-3 7-1 7 2 7 2 7 2 7-3 7-2 7 3 7 3 7-1 7-2 7 3 7-1 7 0 7 1 7-2 7-4 7 4 7 3 7 0 7 1 7-1 7 3 7-2 7 3 7-2 7 1 7-2 7 1 7 1 7 0 7 3 7-2 7 2 7-1 7 1 7-4 7 1 7 3 7-3 7 2 7 1 7 0 7 1 7 0 7-1 7 1 7-1 7 0 7-3 7 3 7-2 7 3 7 2 7-3 7 3 7 1 7-1 7-1 7 2 7 2 7 2 7 3 7-8 7 3 7 2 7-2 7 2 7 5 7-3 7 2 7 1 7-4 7-5 7 7 7 3 7-7 7 2 7-1 7 2 7 0 7 3 7-4 7 5 7-7 7 3 7 6 7-4 7 0 7-2 7 8 7-4 7-4 7-4 7 3 7 2 7-5 7 2 7 3 7-6 7 3 7-2 7-1 7 4 7 2 7 1 7-5 7 1 7-6 7-2 7 4 7-2 7-2 7-3 7 2 7 6 7-9 7-1 7 4 7-6 7 1 7 1 7 2 7-3 7 4 7-4 7-2 7 0 7-1 7-5 7-1 7 1 7 2 7-4 7 0 7 0 7 2 7-1 7 2 7 0 7-3 7 0 7-2 7 2 7 2 7-4 7-3 7 5 7-1 7 0 7 1 7 0 7 1 7-3 7-5 7 2 7 1 7 0 7 2 7-1 7 3 2-4" fill="none" stroke="#404040" stroke-width="8" stroke-linejoin="round" />
<path transform="scale(.1)" d="M716 6800l7-2 7 9 7-9 7-3 7 1 7 5 7-2 7-1 7-6 7-4 7 6 7 1 7 8 7-3 7-1 7 1 7-6 7-4 7 2 7 8 7 1 7-6 7-4 7 7 7 3 7-7 7 8 7-6 7 4 7-3 7 0 7-2 7 5 7 1 7 2 7-4 7-3 7 11 7 1 7-6 7-5 7 9 7-2 7 0 7 3 7 0 7 0 7 7 7-11 7 6 7-3 7 3 7 1 7 3 7-9 7 10 7 10 7-7 7 4 7 1 7 0 7-2 7 4 7 1 7 6 7 0 7-5 7-9 7 15 7 3 7 2 7-1 7 14 7 1 7-2 7 0 7 5 7 7 7 0 7 4 7 1 7 2 7-3 7 6 7 3 7 3 7 2 7 5 7 0 7 3 7-1 7 15 7-5 7-2 7 2 7 0 7-3 7-7 7 13 7 1 7-6 7 1 7-6 7-5 7 6 7 2 7-5 7 1 7-12 7 9 7 8 7-1 7 1 7 2 7-9 7 1 7 1 7 7 7-1 7-4 7 9 7 0 7 5 7 5 7-11 7-2 7 9 7 4 7-2 7-1 7 2 7 0 7-6 7 6 7 3 7-4 7-3 7 0 7-1 7 4 7 2 7-3 7-2 7-7 7 3 7-2 7 1 7 3 7 0 7 12 7-13 7-3 7-4 7 2 7 0 7 4 7-10 7 7 7 0 7-4 7-3 7 2 7 2 7-3 7-1 7 0 7-5 7 3 7 2 7 0 7-3 7 4 7 2 7 4 7-1 7 6 7 4 7 2 7-1 7 5 7-2 7 0 7-4 7 6 7 7 7-4 7 6 7-5 7 6 7 9 7-3 7-4 7 5 7 1 7 6 7-3 7-4 7 4 7 6 7 3 7-2 7-2 7 2 7-2 7-2 7 2 7 4 7-5 7 2 7-3 7-2 7 4 7-4 7 1 7 0 7 3 7 1 7 13 7-1 7-2 7-5 7-5 7 11 7-1 7 8 7-3 7-3 7 2 7-2 7 1 7 8 7-1 7 5 7-2 7 1 7 0 7 0 7 1 7 9 7-2 7-8 7 12 7 2 7 0 7-4 7-1 7-2 7 3 7 2 7-1 7-3 7-1 7 9 7 3 7-9 7-1 7 2 7 3 7-2 7 1 7 1 7 3 7-9 7 7 7 0 7 0 7-8 7 3 7 0 7 4 7 1 7 1 7-8 7 8 7-3 7 3 7-3 7-3 7 11 7-4 7-1 7-4 7-1 7 4 7-2 7 4 7-1 7-10 7-5 7 8 7-1 7-4 7-2 7-2 7 8 7-6 7-7 7 5 7-5 7-2 7-6 7-3 7-10 7 3 7-6 7-3 7-1 7 1 7-16 7 0 7-1 7-2 7-11 7-1 7-4 7-2 7-10 7-5 7-5 7 2 7-2 7-9 7-4 7-2 7-8 7-1 7 0 7-2 7-9 7-5 7-2 7-8 7 1 7-4 7-12 7-4 7-8 7-6 7-9 7 1 7-14 7-2 7-6 7-1 7-9 7-6 7-5 7-12 7 8 7-10 7-8 7-8 7-3 7 3 7-11 7 0 7 1 7-2 7-7 7-8 7 4 7 0 7-5 7-3 7 6 7-12 7-2 7-2 7-5 7 1 7 0 7 7 7-10 7-1 7 5 7-6 7-4 7 4 7-1 7 0 7 2 7 3 7-4 7 0 7 3 7-3 7 2 7-5 7 2 7 3 7-10 7 13 7-9 7-3 7-2 7 2 7-6 7 3 7-1 7 7 7-8 7 7 7-1 7-1 7 3 7 0 7 2 7 2 7 5 7-4 7 7 7-13 7 13 7 2 7 3 7-4 7 0 7-5 7 8 7-6 7 0 7 4 7 2 7 2 7-5 7 3 7 4 7 4 7 1 7-1 7-2 7-1 7 0 7 2 7 4 7-2 7 9 7-8 7 5 7-2 7 0 7 0 7 7 7-4 7 2 7 0 7 3 7 0 7 5 7-7 7-2 7 9 7 2 7-3 7-2 7 1 7 5 7-6 7 7 7-3 7-2 7 0 7-7 7 8 7-4 7 3 7-1 7 5 7 3 7-1 7 0 7 2 7 5 7-2 7 4 7-5 7 0 7-4 7 4 7-4 7 4 7-3 7 0 7 6 7-2 7 2 7-4 7-6 7 10 7-3 7-3 7 6 7-7 7 0 7 7 7-4 7 5 7-4 7-1 7 1 7-2 7 5 7 2 7-4 7 1 7 0 7 4 7-11 7 7 7 1 7-5 7 0 7-1 7 5 7-7 7 5 7 4 7-1 7-4 7 0 7-7 7 3 7 9 7-5 7-4 7 5 7-4 7 7 7-3 7 7 7-2 7-5 7 1 7 0 7-2 7 7 7-8 7 3 7-4 7 2 7-7 7-4 7 6 7 4 7-10 7 1 7-2 7-3 7 6 7-3 7-7 7 2 7 5 7-7 7-2 7-2 7 2 7-2 7 4 7-6 7-5 7 5 7-12 7 4 7 5 7 1 7-3 7-1 7 2 7 12 7-14 7-2 7-2 7 2 7-2 7 2 7 4 7-6 7-3 7 2 7 7 7-8 7 5 7 0 7-16 7 3 7 0 7 5 7 4 7-3 7-1 7 7 7-5 7 5 7-10 7 6 7-6 7-9 7 3 7 3 7 2 7 4 7 2 7 0 7-5 7 8 7 1 7-4 7-3 7 1 7 0 7-1 7 2 7-1 7 4 7-3 7 4 7 0 7 0 7 0 7-7 7 10 7-10 7 2 7-3 7-4 7 6 7-2 7-6 7 0 7 0 7 2 7-2 7-6 7-3 7-4 7 3 7 3 7-5 7 3 7-2 7-3 7-5 7 7 7 7 7-6 7-8 7-2 2 3" fill="none" stroke="#30e830" stroke-width="8" stroke-linejoin="round" />
<path transform="scale(.1)" d="M716 6640l7 5 7-15 7 12 7-3 7-1 7 0 7-3 7-1 7 5 7-10 7 3 7 4 7-8 7 3 7 8 7-2 7 0 7 0 7-2 7 0 7-5 7 1 7 9 7-10 7 1 7-4 7 1 7 0 7-2 7 6 7-4 7 5 7 7 7-15 7 4 7-6 7 6 7 4 7 1 7 4 7-3 7-8 7 11 7-6 7 1 7 3 7-4 7 3 7 8 7-11 7-3 7 4 7 3 7-3 7-5 7 12 7 2 7-6 7 6 7 0 7 1 7-5 7 3 7 5 7-7 7 2 7 10 7 7 7-2 7-3 7-4 7 2 7 2 7 5 7-1 7 12 7 0 7-14 7 0 7 6 7 7 7 1 7-13 7 1 7 13 7 1 7 8 7-5 7-2 7 3 7-7 7-3 7-2 7 4 7 2 7 3 7 3 7-3 7 2 7-5 7-5 7 5 7 3 7 2 7-5 7-3 7-2 7 3 7-1 7-2 7 2 7-3 7 2 7-4 7-6 7 4 7 10 7-9 7 4 7 3 7-7 7 0 7-10 7 8 7 7 7-4 7-11 7 3 7 1 7 3 7 3 7-3 7 0 7-2 7 6 7 0 7 1 7-3 7 3 7-2 7 2 7-1 7-3 7-2 7-4 7 2 7 8 7 14 7-16 7-1 7 3 7 16 7-10 7-7 7 5 7 8 7-18 7 3 7 10 7-6 7 3 7-2 7 6 7-7 7 5 7 2 7 2 7 0 7-1 7-8 7 4 7-1 7 6 7-2 7 2 7 4 7-3 7 6 7-1 7-10 7 1 7 8 7-5 7 6 7-5 7 0 7 5 7-9 7 4 7 0 7 2 7 7 7-4 7-8 7 6 7-4 7 1 7 4 7-5 7 4 7-3 7-5 7 0 7-4 7 9 7-2 7 3 7-8 7 5 7-7 7 4 7 0 7-2 7 3 7 1 7-3 7 0 7-2 7 11 7-1 7-2 7 4 7-5 7-2 7 6 7 8 7-3 7-1 7 7 7-11 7 17 7-12 7 0 7-5 7-1 7 4 7 12 7-11 7-2 7 2 7-4 7 1 7 5 7-11 7 4 7 1 7-1 7 1 7-7 7 3 7 1 7-2 7 8 7 6 7-3 7-8 7 8 7-1 7-6 7 5 7-3 7 4 7 3 7 2 7-8 7 2 7 2 7-5 7 6 7 4 7-8 7 2 7-1 7-1 7 1 7 11 7-5 7-1 7 6 7 2 7 2 7-14 7 8 7-8 7 2 7 1 7 0 7 11 7-6 7 4 7-6 7-2 7 0 7-1 7-1 7-11 7 5 7-1 7 0 7-4 7-1 7-8 7 6 7-9 7 8 7 0 7-5 7-2 7 3 7-4 7-5 7 5 7-6 7 2 7 10 7-2 7-6 7 0 7-3 7 1 7-6 7 7 7-1 7-3 7-1 7 13 7-10 7-3 7-2 7-1 7 7 7-1 7-2 7-2 7-7 7-8 7 14 7 0 7-3 7-1 7-1 7-2 7-3 7-10 7 7 7-1 7 2 7-3 7-5 7 1 7-3 7-4 7-3 7-2 7-1 7-1 7 5 7 9 7-10 7 1 7-13 7-10 7 9 7 3 7-2 7-4 7 1 7 1 7 3 7-2 7-5 7 2 7 8 7-8 7 1 7 3 7-6 7-1 7 14 7-3 7-9 7 0 7 0 7 0 7 1 7-3 7-9 7 2 7 6 7-5 7 2 7 9 7-3 7-5 7 2 7 4 7-11 7-1 7 2 7 2 7 2 7-2 7 3 7 0 7-5 7 1 7-3 7 6 7 2 7 2 7-6 7 0 7-7 7 7 7-5 7 7 7 5 7-1 7 1 7-2 7 1 7 3 7 2 7 4 7-8 7 2 7 2 7-2 7 0 7-7 7 8 7-5 7-1 7 0 7 6 7-5 7 5 7 2 7-1 7-2 7 4 7 4 7-5 7-4 7 1 7 0 7 3 7 1 7-8 7 14 7-5 7 1 7-6 7-2 7 4 7 7 7 5 7-9 7 6 7 8 7-5 7 4 7-1 7-4 7 7 7-4 7 3 7-1 7 0 7 3 7 6 7-10 7 0 7 5 7 6 7-2 7 0 7 3 7 6 7-8 7-5 7 5 7 6 7-6 7 8 7 2 7 1 7-7 7-4 7 8 7 1 7 2 7-8 7-9 7 15 7 4 7-4 7 1 7 2 7 2 7-3 7-2 7-2 7 8 7-2 7-15 7 12 7 0 7-3 7 2 7-2 7 3 7 0 7 5 7-5 7-4 7 4 7-2 7 8 7-1 7-7 7 2 7 4 7 2 7-7 7 5 7 3 7 3 7 1 7-5 7-7 7 2 7 4 7-6 7 7 7-7 7-4 7 7 7-2 7 0 7-2 7 0 7-3 7 9 7-3 7-5 7 1 7 1 7-5 7 1 7 0 7-4 7-3 7 2 7-1 7-1 7-7 7 6 7 4 7-2 7 6 7-2 7-6 7-4 7 4 7-3 7-7 7 5 7-1 7 0 7 4 7-2 7 8 7-10 7-1 7 2 7-3 7-2 7 9 7-11 7 4 7-8 7 6 7-7 7 0 7 10 7 4 7-5 7-14 7 12 7 0 7-7 7 1 7-4 7 4 7 0 7 1 7 2 7-5 7-9 7 2 7-1 7 3 7 1 7 1 7 6 7-4 7-7 7 1 7-2 7 1 7 3 7-7 7 5 7 5 7 0 7-1 7-7 7-9 7 10 7-6 7-2 7-4 7-4 7 4 7-7 7-4 7 7 7-3 7-4 7 4 7 4 7-6 7-2 7 1 7 1 7 1 7-3 7-7 7 2 7-2 7-9 7 9 7-1 7 3 7-6 7 0 7-3 2-1" fill="none" stroke="#4848ff" stroke-width="8" stroke-linejoin="round" />
</g>
<rect x="71.6" y="654.4" width="453.8" height="68.4" fill="none" stroke="#000" stroke-width="1.2"/>
<line x1="124.5" y1="654.4" x2="124.5" y2="664.9" stroke="#383838" stroke-width="1.25" />
<line x1="124.5" y1="722.8" x2="124.5" y2="712.3" stroke="#383838" stroke-width="1.25" />
<line x1="215.9" y1="654.4" x2="215.9" y2="664.9" stroke="#383838" stroke-width="1.25" />
<line x1="215.9" y1="722.8" x2="215.9" y2="712.3" stroke="#383838" stroke-width="1.25" />
<line x1="307.3" y1="654.4" x2="307.3" y2="664.9" stroke="#383838" stroke-width="1.25" />
<line x1="307.3" y1="722.8" x2="307.3" y2="712.3" stroke="#383838" stroke-width="1.25" />
<line x1="398.7" y1="654.4" x2="398.7" y2="664.9" stroke="#383838" stroke-width="1.25" />
<line x1="398.7" y1="722.8" x2="398.7" y2="712.3" stroke="#383838" stroke-width="1.25" />
<line x1="490.1" y1="654.4" x2="490.1" y2="664.9" stroke="#383838" stroke-width="1.25" />
<line x1="490.1" y1="722.8" x2="490.1" y2="712.3" stroke="#383838" stroke-width="1.25" />
<line x1="87.9" y1="654.4" x2="87.9" y2="658" stroke="#000" stroke-width="0.9" />
<line x1="87.9" y1="722.8" x2="87.9" y2="719.2" stroke="#000" stroke-width="0.9" />
<line x1="106.2" y1="654.4" x2="106.2" y2="658" stroke="#000" stroke-width="0.9" />
<line x1="106.2" y1="722.8" x2="106.2" y2="719.2" stroke="#000" stroke-width="0.9" />
<line x1="142.8" y1="654.4" x2="142.8" y2="658" stroke="#000" stroke-width="0.9" />
<line x1="142.8" y1="722.8" x2="142.8" y2="719.2" stroke="#000" stroke-width="0.9" />
<line x1="161.1" y1="654.4" x2="161.1" y2="658" stroke="#000" stroke-width="0.9" />
<line x1="161.1" y1="722.8" x2="161.1" y2="719.2" stroke="#000" stroke-width="0.9" />
<line x1="179.3" y1="654.4" x2="179.3" y2="658" stroke="#000" stroke-width="0.9" />
<line x1="179.3" y1="722.8" x2="179.3" y2="719.2" stroke="#000" stroke-width="0.9" />
<line x1="197.6" y1="654.4" x2="197.6" y2="658" stroke="#000" stroke-width="0.9" />
<line x1="197.6" y1="722.8" x2="197.6" y2="719.2" stroke="#000" stroke-width="0.9" />
<line x1="234.2" y1="654.4" x2="234.2" y2="658" stroke="#000" stroke-width="0.9" />
<line x1="234.2" y1="722.8" x2="234.2" y2="719.2" stroke="#000" stroke-width="0.9" />
<line x1="252.5" y1="654.4" x2="252.5" y2="658" stroke="#000" stroke-width="0.9" />
<line x1="252.5" y1="722.8" x2="252.5" y2="719.2" stroke="#000" stroke-width="0.9" />
<line x1="270.7" y1="654.4" x2="270.7" y2="658" stroke="#000" stroke-width="0.9" />
<line x1="270.7" y1="722.8" x2="270.7" y2="719.2" stroke="#000" stroke-width="0.9" />
<line x1="289" y1="654.4" x2="289" y2="658" stroke="#000" stroke-width="0.9" />
<line x1="289" y1="722.8" x2="289" y2="719.2" stroke="#000" stroke-width="0.9" />
<line x1="325.6" y1="654.4" x2="325.6" y2="658" stroke="#000" stroke-width="0.9" />
<line x1="325.6" y1="722.8" x2="325.6" y2="719.2" stroke="#000" stroke-width="0.9" />
<line x1="343.9" y1="654.4" x2="343.9" y2="658" stroke="#000" stroke-width="0.9" />
<line x1="343.9" y1="722.8" x2="343.9" y2="719.2" stroke="#000" stroke-width="0.9" />
<line x1="362.1" y1="654.4" x2="362.1" y2="658" stroke="#000" stroke-width="0.9" />
<line x1="362.1" y1="722.8" x2="362.1" y2="719.2" stroke="#000" stroke-width="0.9" />
<line x1="380.4" y1="654.4" x2="380.4" y2="658" stroke="#000" stroke-width="0.9" />
<line x1="380.4" y1="722.8" x2="380.4" y2="719.2" stroke="#000" stroke-width="0.9" />
<line x1="417" y1="654.4" x2="417" y2="658" stroke="#000" stroke-width="0.9" />
<line x1="417" y1="722.8" x2="417" y2="719.2" stroke="#000" stroke-width="0.9" />
<line x1="435.3" y1="654.4" x2="435.3" y2="658" stroke="#000" stroke-width="0.9" />
<line x1="435.3" y1="722.8" x2="435.3" y2="719.2" stroke="#000" stroke-width="0.9" />
<line x1="453.5" y1="654.4" x2="453.5" y2="658" stroke="#000" stroke-width="0.9" />
<line x1="453.5" y1="722.8" x2="453.5" y2="719.2" stroke="#000" stroke-width="0.9" />
<line x1="471.8" y1="654.4" x2="471.8" y2="658" stroke="#000" stroke-width="0.9" />
<line x1="471.8" y1="722.8" x2="471.8" y2="719.2" stroke="#000" stroke-width="0.9" />
<line x1="508.4" y1="654.4" x2="508.4" y2="658" stroke="#000" stroke-width="0.9" />
<line x1="508.4" y1="722.8" x2="508.4" y2="719.2" stroke="#000" stroke-width="0.9" />
<line x1="71.6" y1="722.2" x2="77.6" y2="722.2" stroke="#000" stroke-width="0.9" />
<line x1="525.4" y1="722.2" x2="519.4" y2="722.2" stroke="#000" stroke-width="0.9" />
<line x1="71.6" y1="700.5" x2="77.6" y2="700.5" stroke="#000" stroke-width="0.9" />
<line x1="525.4" y1="700.5" x2="519.4" y2="700.5" stroke="#000" stroke-width="0.9" />
<line x1="71.6" y1="678.7" x2="77.6" y2="678.7" stroke="#000" stroke-width="0.9" />
<line x1="525.4" y1="678.7" x2="519.4" y2="678.7" stroke="#000" stroke-width="0.9" />
<line x1="71.6" y1="657" x2="77.6" y2="657" stroke="#000" stroke-width="0.9" />
<line x1="525.4" y1="657" x2="519.4" y2="657" stroke="#000" stroke-width="0.9" />
<line x1="71.6" y1="717.9" x2="73.9" y2="717.9" stroke="#222" stroke-width="0.8" />
<line x1="525.4" y1="717.9" x2="523.1" y2="717.9" stroke="#222" stroke-width="0.8" />
<line x1="71.6" y1="713.5" x2="73.9" y2="713.5" stroke="#222" stroke-width="0.8" />
<line x1="525.4" y1="713.5" x2="523.1" y2="713.5" stroke="#222" stroke-width="0.8" />
<line x1="71.6" y1="709.2" x2="73.9" y2="709.2" stroke="#222" stroke-width="0.8" />
<line x1="525.4" y1="709.2" x2="523.1" y2="709.2" stroke="#222" stroke-width="0.8" />
<line x1="71.6" y1="704.8" x2="73.9" y2="704.8" stroke="#222" stroke-width="0.8" />
<line x1="525.4" y1="704.8" x2="523.1" y2="704.8" stroke="#222" stroke-width="0.8" />
<line x1="71.6" y1="696.1" x2="73.9" y2="696.1" stroke="#222" stroke-width="0.8" />
<line x1="525.4" y1="696.1" x2="523.1" y2="696.1" stroke="#222" stroke-width="0.8" />
<line x1="71.6" y1="691.8" x2="73.9" y2="691.8" stroke="#222" stroke-width="0.8" />
<line x1="525.4" y1="691.8" x2="523.1" y2="691.8" stroke="#222" stroke-width="0.8" />
<line x1="71.6" y1="687.4" x2="73.9" y2="687.4" stroke="#222" stroke-width="0.8" />
<line x1="525.4" y1="687.4" x2="523.1" y2="687.4" stroke="#222" stroke-width="0.8" />
<line x1="71.6" y1="683.1" x2="73.9" y2="683.1" stroke="#222" stroke-width="0.8" />
<line x1="525.4" y1="683.1" x2="523.1" y2="683.1" stroke="#222" stroke-width="0.8" />
<line x1="71.6" y1="674.4" x2="73.9" y2="674.4" stroke="#222" stroke-width="0.8" />
<line x1="525.4" y1="674.4" x2="523.1" y2="674.4" stroke="#222" stroke-width="0.8" />
<line x1="71.6" y1="670" x2="73.9" y2="670" stroke="#222" stroke-width="0.8" />
<line x1="525.4" y1="670" x2="523.1" y2="670" stroke="#222" stroke-width="0.8" />
<line x1="71.6" y1="665.7" x2="73.9" y2="665.7" stroke="#222" stroke-width="0.8" />
<line x1="525.4" y1="665.7" x2="523.1" y2="665.7" stroke="#222" stroke-width="0.8" />
<line x1="71.6" y1="661.3" x2="73.9" y2="661.3" stroke="#222" stroke-width="0.8" />
<line x1="525.4" y1="661.3" x2="523.1" y2="661.3" stroke="#222" stroke-width="0.8" />
<text x="527.3" y="660.8" font-size="10.67" fill="#000" text-anchor="start" >1.5</text>
<text x="527.3" y="682.4" font-size="10.67" fill="#000" text-anchor="start" >1.0</text>
<text x="527.3" y="704.1" font-size="10.67" fill="#000" text-anchor="start" >0.5</text>
<text x="527.3" y="725.8" font-size="10.67" fill="#000" text-anchor="start" >0.0</text>
<text transform="translate(563,690) rotate(-90)" font-size="10.67" fill="#000" text-anchor="middle">P [nPa]</text>
<line x1="77.5" y1="660.5" x2="95.5" y2="660.5" stroke="#30e830" stroke-width="1.0" />
<text x="96.5" y="663.8" font-size="9.3" fill="#00ff00" text-anchor="start" >P<tspan font-size="5.5" dy="2">i</tspan><tspan dy="-2">&#8203;</tspan></text>
<line x1="77.5" y1="671.9" x2="95.5" y2="671.9" stroke="#ff4040" stroke-width="1.0" />
<text x="96.5" y="675.2" font-size="9.3" fill="#ff0000" text-anchor="start" >P<tspan font-size="5.5" dy="2">e</tspan><tspan dy="-2">&#8203;</tspan></text>
<line x1="77.5" y1="683.3" x2="95.5" y2="683.3" stroke="#404040" stroke-width="1.0" />
<text x="96.5" y="686.6" font-size="9.3" fill="#000" text-anchor="start" >P<tspan font-size="5.5" dy="2">b</tspan><tspan dy="-2">&#8203;</tspan></text>
<line x1="77.5" y1="695" x2="95.5" y2="695" stroke="#4848ff" stroke-width="1.0" />
<text x="96.5" y="698.3" font-size="9.3" fill="#0000ff" text-anchor="start" >P<tspan font-size="5.5" dy="2">tot</tspan><tspan dy="-2">&#8203;</tspan></text>
<line x1="71.6" y1="244.5" x2="525.4" y2="244.5" stroke="#000" stroke-width="1.5" />
<line x1="71.6" y1="312.8" x2="525.4" y2="312.8" stroke="#000" stroke-width="1.5" />
<line x1="71.6" y1="449.4" x2="525.4" y2="449.4" stroke="#000" stroke-width="1.5" />
<line x1="71.6" y1="654.4" x2="525.4" y2="654.4" stroke="#000" stroke-width="1.5" />
<text x="124.5" y="740.1" font-size="10.67" fill="#000" text-anchor="middle" >19:47:50</text>
<text x="124" y="761" font-size="10.67" fill="#000" text-anchor="middle" >2.19</text>
<text x="124" y="778.6" font-size="10.67" fill="#000" text-anchor="middle" >-11.5</text>
<text x="124" y="796.5" font-size="10.67" fill="#000" text-anchor="middle" >-1.21</text>
<text x="215.9" y="740.1" font-size="10.67" fill="#000" text-anchor="middle" >19:48:00</text>
<text x="215.4" y="761" font-size="10.67" fill="#000" text-anchor="middle" >2.19</text>
<text x="215.4" y="778.6" font-size="10.67" fill="#000" text-anchor="middle" >-11.5</text>
<text x="215.4" y="796.5" font-size="10.67" fill="#000" text-anchor="middle" >-1.21</text>
<text x="307.3" y="740.1" font-size="10.67" fill="#000" text-anchor="middle" >19:48:10</text>
<text x="306.8" y="761" font-size="10.67" fill="#000" text-anchor="middle" >2.19</text>
<text x="306.8" y="778.6" font-size="10.67" fill="#000" text-anchor="middle" >-11.5</text>
<text x="306.8" y="796.5" font-size="10.67" fill="#000" text-anchor="middle" >-1.21</text>
<text x="398.7" y="740.1" font-size="10.67" fill="#000" text-anchor="middle" >19:48:20</text>
<text x="398.2" y="761" font-size="10.67" fill="#000" text-anchor="middle" >2.19</text>
<text x="398.2" y="778.6" font-size="10.67" fill="#000" text-anchor="middle" >-11.5</text>
<text x="398.2" y="796.5" font-size="10.67" fill="#000" text-anchor="middle" >-1.21</text>
<text x="490.1" y="740.1" font-size="10.67" fill="#000" text-anchor="middle" >19:48:30</text>
<text x="489.6" y="761" font-size="10.67" fill="#000" text-anchor="middle" >2.19</text>
<text x="489.6" y="778.6" font-size="10.67" fill="#000" text-anchor="middle" >-11.5</text>
<text x="489.6" y="796.5" font-size="10.67" fill="#000" text-anchor="middle" >-1.21</text>
<text x="53.5" y="761" font-size="10.67" fill="#000" text-anchor="middle" >X</text>
<text x="545.3" y="761" font-size="10.67" fill="#000" text-anchor="middle" >Re</text>
<text x="53.5" y="778.6" font-size="10.67" fill="#000" text-anchor="middle" >Y</text>
<text x="545.3" y="778.6" font-size="10.67" fill="#000" text-anchor="middle" >Re</text>
<text x="53.5" y="796.5" font-size="10.67" fill="#000" text-anchor="middle" >Z</text>
<text x="545.3" y="796.5" font-size="10.67" fill="#000" text-anchor="middle" >Re</text>
<text x="588.6" y="838.2" font-size="12" fill="#000" text-anchor="end" >paschmann 25-Oct-2018 14:41</text>
<text x="626.5" y="12.2" font-size="11" fill="#000" text-anchor="start" >Plot layout GP 19/10/2018</text>
<text x="893.5" y="34.3" font-size="17.9" fill="#000" text-anchor="middle" >MMS2</text>
<text x="997" y="24" font-size="17.9" fill="#990000" text-anchor="start" font-weight="bold" >20160219_194744</text>
<g clip-path="url(#cM1)">
<line x1="668.6" y1="104.5" x2="1122.4" y2="104.5" stroke="#282828" stroke-width="0.95" stroke-dasharray="4.3 2.1" />
<path transform="scale(.1)" d="M6686 625l10 2 10 1 10 1 10-1 10 2 10 6 10 1 10 1 10-6 10-6 10-4 10-4 10 13 10 14 10 11 10-3 10-6 10-7 10-3 10 3 10 5 10 8 10 4 10 4 10 1 10-4 10 2 10-5 10-5 10-11 10-5 10-1 10 3 10 2 10-2 10-7 10-7 10-5 10 1 10-8 10-3 10-2 10-8 10 0 10 2 10-10 10-1 10-1 10-4 10 2 10 1 10-2 10 6 10 1 10-2 10-4 10-8 10-4 10-3 10 8 10-1 10-5 10-11 10-9 10-7 10-1 10-11 10-5 10 3 10 4 10 0 10-8 10-7 10 3 10-1 10-3 10 4 10 3 10-2 10 0 10 0 10 3 10-1 10-1 10 0 10-7 10 4 10 1 10 0 10-8 10-1 10 4 10-6 10 1 10 4 10-5 10 6 10 0 10-2 10 0 10 1 10-1 10 2 10-5 10-2 10 4 10 1 10-1 10 6 10 6 10-1 10-2 10 3 10 3 10 2 10 8 10-2 10 7 10-3 10 1 10 3 10 1 10-3 10-6 10-6 10-5 10-4 10-6 10-4 10-4 10-6 10-3 10-4 10 2 10-5 10-5 10-4 10-2 10 1 10-4 10 0 10 4 10-10 10-2 10 3 10 3 10 0 10-1 10 2 10 1 10-3 10 8 10-2 10-4 10-2 10-3 10-1 10-9 10 1 10 4 10-5 10 1 10 2 10 1 10 2 10-9 10-2 10-1 10 1 10 2 10-10 10 5 10-5 10 3 10-5 10 1 10 4 10-2 10-1 10 1 10-2 10-2 10 4 10 1 10-2 10 8 10-6 10 3 10-1 10 1 10 2 10 1 10 2 10-4 10-3 10 6 10-1 10 0 10-2 10 7 10 3 10 4 10-4 10 0 10-3 10 4 10 5 10-5 10 5 10 2 10-3 10-7 10 8 10 2 10 3 10 8 10 7 10 11 10 0 10 10 10 9 10 8 10 3 10 4 10 12 10 8 10 9 10 13 10 6 10 2 10 10 10 5 10 17 10 14 10 12 10 16 10 18 10 15 10 18 10 12 10 15 10 16 10 15 10 8 10 14 10 6 10 10 10 7 10 13 10 0 10 2 10 1 10 2 10-1 10 2 10 7 10-2 10 1 10 3 10-1 10-4 10 1 10 6 10-5 10 2 10 6 10 3 10 1 10 4 10 3 10-1 10-1 10 4 10 9 10 2 10-1 10-2 10-6 10-1 10-4 10 0 10-9 10 1 10-3 10-8 10 3 10-3 10-9 10-1 10 2 10-2 10 2 10 0 10 0 10-3 10 1 10-2 10-2 10-10 10 2 10 2 10-4 10-4 10 5 10-8 10 1 10 7 10-6 10 0 10 4 10-4 10 0 10 0 10-5 10-1 10 1 10 1 10-1 10-1 10-3 10 1 10 5 10 1 10-2 10 0 10 10 10 2 10 1 10-9 10 4 10 3 10 6 10 0 10-1 10 3 10-5 10 7 10 3 10-1 10 7 10 6 10-5 10 0 10 4 10 3 10 0 10 0 10 9 10 3 10-5 10-3 10 7 10 2 10 5 10-1 10-5 10 1 10-7 10 0 10 1 10 2 10-2 10 0 10 1 10 0 10 1 10-1 10-3 10 2 10-2 10-4 10-2 10 2 10 2 10 5 10 5 10 5 10 4 10 1 10 7 10 8 10 5 10 2 10 4 10-2 10-4 10 4 10 0 10 6 10-2 10-5 10 2 10 10 10 0 10-2 10 1 10 5 10 3 10 2 10 5 10 1 10 0 10 2 10 4 10 2 10 1 10-5 10 1 10 3 10-1 10 3 10-1 10-1 10-6 10 4 10-2 10-7 10-5 10 4 10-7 10-3 10-4 10-7 10-10 10-4 10-4 10-2 10-4 10-6 10-4 10-5 10-6 10-5 10-4 10 0 10-5 10-2 10 1 10-5 10 0 10-5 10 1 10 4 10 3 10 0 10 0 10-3 10 8 10 1 10 2 10-4 10 0 10-4 8 4" fill="none" stroke="#4848ff" stroke-width="9" stroke-linejoin="round" />
<path transform="scale(.1)" d="M6686 981l10-1 10-5 10-7 10 2 10 3 10-1 10 1 10 1 10 0 10-5 10 2 10 1 10-4 10 1 10-1 10 4 10 4 10-1 10-2 10 8 10 4 10 6 10-3 10 6 10 7 10 5 10-1 10 1 10 1 10 5 10 3 10 0 10-4 10 4 10-1 10 3 10 1 10 5 10 2 10-2 10 1 10 4 10-3 10 0 10 1 10 0 10-2 10-7 10-4 10 1 10 0 10 5 10-7 10-1 10-5 10-11 10-7 10-4 10-6 10-4 10-4 10-7 10-2 10-3 10 0 10 4 10 0 10 4 10 6 10 0 10 0 10 4 10 0 10 4 10-2 10 4 10 1 10 0 10 8 10-2 10 7 10 2 10 4 10-5 10 2 10 1 10-4 10-3 10 4 10-4 10-4 10-4 10 1 10 1 10 1 10 6 10 0 10 2 10 5 10-3 10 5 10 6 10-4 10-1 10 0 10-1 10 4 10-3 10 4 10 5 10-5 10 0 10-4 10 5 10-2 10 1 10 1 10 1 10-3 10-3 10-6 10-3 10-6 10-3 10-8 10-3 10 3 10-3 10-4 10 3 10 0 10 0 10 3 10 7 10 4 10 3 10 0 10 0 10 7 10 2 10-3 10-3 10-1 10 11 10-3 10 1 10 2 10 0 10-1 10-4 10-3 10 6 10-4 10 1 10-6 10-1 10 1 10 3 10-2 10 6 10 5 10 3 10 6 10 2 10 4 10 5 10-1 10 8 10 4 10 3 10 5 10 5 10-1 10 3 10-4 10-3 10 5 10 0 10 2 10-4 10 1 10 0 10 0 10-2 10 1 10-5 10-4 10-4 10 3 10-3 10-3 10-3 10 0 10-4 10 1 10-2 10-1 10-3 10 0 10-4 10-2 10-2 10-3 10-9 10-3 10-4 10 0 10-7 10-3 10-3 10-3 10 0 10-5 10 0 10-8 10-7 10 2 10-2 10-2 10-3 10-3 10-7 10 0 10-4 10 0 10-3 10-7 10-4 10 3 10-2 10-1 10 3 10 2 10 2 10 4 10 0 10-2 10-11 10-6 10-11 10-15 10-19 10-16 10-7 10 0 10 3 10 6 10 4 10 10 10 6 10 3 10 2 10 10 10 8 10 6 10 7 10 5 10 13 10 9 10 16 10 5 10 4 10 8 10 3 10 4 10 4 10 3 10 9 10 6 10 8 10 1 10 4 10 1 10 5 10-3 10 3 10 4 10 3 10-4 10 3 10-2 10-1 10-2 10 5 10 5 10-2 10-2 10 0 10 7 10 1 10-4 10-6 10-1 10 4 10 5 10-3 10-3 10-2 10-4 10 4 10-3 10 4 10-5 10-2 10 3 10-1 10 3 10 0 10-4 10 2 10 1 10-7 10 5 10 0 10-1 10-7 10-2 10 0 10 2 10-5 10-2 10-4 10 1 10 2 10-5 10 0 10 2 10 4 10 1 10-2 10-3 10-1 10 1 10 2 10 2 10 5 10 0 10-3 10 5 10 2 10-1 10-3 10-4 10 0 10 6 10-1 10-2 10 3 10 1 10 2 10 0 10 2 10-5 10 2 10-5 10 2 10-1 10-1 10 2 10-3 10 2 10 0 10-2 10-4 10-2 10-1 10 0 10 0 10 8 10-2 10 0 10-5 10-3 10-1 10 1 10-3 10 5 10-3 10 3 10-8 10 1 10 2 10 1 10 1 10 1 10 1 10-5 10 1 10-3 10 5 10 4 10 0 10 0 10 0 10 7 10 4 10-1 10 2 10-5 10-5 10 1 10 0 10 0 10 2 10 9 10-4 10-1 10 0 10-1 10 2 10 4 10-6 10 0 10-2 10-1 10-6 10-5 10-5 10 4 10 0 10 0 10-8 10 0 10-1 10-4 10-1 10 2 10 1 10 1 10 3 10 0 10 2 10 3 10 3 10 2 10 1 10 2 10 0 10 7 10-1 10-1 10 4 10 0 10-7 10 1 10 0 10 3 10 0 10-1 10-6 10-3 10 1 10 1 8-4" fill="none" stroke="#30e830" stroke-width="9" stroke-linejoin="round" />
<path transform="scale(.1)" d="M6686 1055l10 0 10 1 10 2 10 0 10-3 10 5 10 5 10-2 10 2 10 0 10 1 10 1 10-4 10 1 10 0 10-5 10 3 10 2 10-1 10-1 10-4 10-6 10-4 10-1 10 4 10 3 10 6 10-2 10 11 10 9 10 0 10 4 10 2 10-1 10-3 10-3 10-4 10-1 10-2 10-1 10-5 10-1 10-1 10-1 10-5 10 1 10 2 10 1 10-1 10-1 10 0 10 3 10 4 10-2 10-2 10 2 10 1 10-2 10-2 10 1 10 2 10-4 10-2 10 3 10-4 10 2 10 1 10-1 10-2 10 2 10 1 10 2 10-1 10 5 10-4 10 2 10 2 10 4 10-2 10 3 10-1 10 3 10 4 10-3 10 0 10-4 10 3 10 2 10-3 10-4 10 1 10 2 10 1 10 0 10-7 10-2 10 5 10-4 10 5 10 6 10 2 10 4 10-1 10-2 10 3 10 3 10 3 10 4 10 0 10 0 10 0 10-2 10 4 10-2 10-3 10-2 10-3 10 3 10-2 10-4 10-2 10 0 10-1 10 4 10-3 10 4 10 2 10-2 10 3 10 1 10 4 10 0 10 2 10-3 10 0 10 6 10 4 10 1 10-2 10 3 10-7 10-1 10 3 10 2 10-4 10-5 10 6 10 0 10-3 10 0 10 2 10-7 10 4 10 2 10-6 10 4 10-4 10 4 10 1 10 6 10-4 10-1 10 2 10-3 10-2 10 0 10 0 10-2 10 3 10 1 10 0 10 4 10-3 10 2 10-4 10 0 10-7 10 0 10-1 10-2 10-2 10-1 10-2 10-5 10 0 10 0 10-1 10-2 10 1 10 3 10-1 10-2 10 4 10 1 10 0 10 1 10-4 10-2 10 2 10-4 10-1 10 1 10 0 10-2 10 2 10-2 10 1 10 1 10 0 10 0 10-5 10-4 10 0 10 2 10 4 10-5 10 1 10-3 10-2 10-1 10 1 10-2 10 1 10-6 10 1 10-1 10-3 10-2 10-4 10-5 10-2 10-2 10 8 10-2 10 8 10 4 10 4 10 8 10 5 10 14 10 12 10 8 10 12 10 6 10 0 10 2 10-5 10-2 10-1 10-5 10 1 10-7 10-4 10 1 10-5 10-1 10-5 10 0 10-3 10 0 10-5 10 1 10-1 10-1 10 0 10 0 10-4 10-5 10 3 10-1 10 1 10 3 10-5 10 0 10 0 10-1 10 3 10 0 10-1 10-1 10 4 10-1 10 2 10 2 10-5 10-1 10 2 10 2 10 3 10 2 10 2 10-3 10-1 10 2 10-1 10 2 10-5 10 3 10 0 10-5 10 5 10 2 10 0 10-3 10 0 10 5 10-2 10-9 10 2 10 0 10 4 10 1 10-1 10 0 10 5 10-3 10 7 10-2 10-3 10 4 10 2 10-2 10 3 10-4 10 0 10 6 10 0 10-3 10 4 10 4 10 0 10-5 10 2 10 3 10 3 10 5 10-2 10-2 10-1 10 1 10-6 10 1 10-10 10 1 10-3 10 0 10-1 10-6 10-1 10-2 10 0 10-6 10-3 10-5 10 8 10-2 10-1 10-4 10 3 10-2 10 4 10 0 10-2 10 0 10-4 10-1 10-2 10-2 10 1 10 1 10 4 10-9 10 1 10 0 10 1 10 3 10 2 10 0 10-1 10 1 10 1 10-5 10 1 10-2 10-1 10 4 10 2 10 1 10-1 10 1 10-1 10 3 10 3 10 5 10 1 10-4 10-1 10-2 10 1 10 4 10-1 10-9 10-3 10-3 10 3 10-1 10 0 10 3 10-5 10-3 10 4 10-2 10-5 10-6 10-3 10-5 10 3 10 2 10 4 10 0 10 0 10 0 10 7 10-4 10 3 10 2 10 3 10 1 10 7 10 11 10 8 10 8 10 7 10 4 10 3 10 2 10 3 10 6 10 4 10-1 10 2 10 2 10 2 10 0 10 1 10-2 10-1 10 3 10 3 10 1 10 0 10 0 10-2 8-5" fill="none" stroke="#ff4040" stroke-width="9" stroke-linejoin="round" />
</g>
<line x1="809.5" y1="47.5" x2="809.5" y2="706.2" stroke="#0cac0c" stroke-width="1.25" stroke-dasharray="7.1 5.2" />
<line x1="866.2" y1="47.5" x2="866.2" y2="706.2" stroke="#4060ff" stroke-width="1.8" stroke-dasharray="2 3" />
<line x1="882.5" y1="47.5" x2="882.5" y2="706.2" stroke="#ff0000" stroke-width="1.25" stroke-dasharray="7.1 5.2" />
<line x1="908.9" y1="47.5" x2="908.9" y2="706.2" stroke="#ff00ff" stroke-width="1.8" stroke-dasharray="2 3" />
<line x1="1028.2" y1="47.5" x2="1028.2" y2="706.2" stroke="#ff0000" stroke-width="1.25" stroke-dasharray="7.1 5.2" />
<line x1="1101.5" y1="47.5" x2="1101.5" y2="706.2" stroke="#0cac0c" stroke-width="1.25" stroke-dasharray="7.1 5.2" />
<rect x="668.6" y="115.7" width="453.8" height="73.8" fill="url(#ge)"/>
<rect x="668.6" y="115.7" width="453.8" height="73.8" fill="url(#ger)" mask="url(#mer)"/>
<rect x="668.6" y="115.7" width="453.8" height="73.8" fill="url(#gel)" mask="url(#mel)"/>
<g clip-path="url(#cM2)" fill="none" stroke-width="1.0">
<path d="M669.5 115.7v2.3M669.5 118v2.3M669.5 120.3v2.3M669.5 129.6v2.3M669.5 138.8v2.3M670.5 129.6v2.3M670.5 131.9v2.3M670.5 134.2v2.3M670.5 136.5v2.3M670.5 138.8v2.3M671.5 115.7v2.3M671.5 122.6v2.3M671.5 129.6v2.3M671.5 136.5v2.3M672.5 120.3v2.3M672.5 122.6v2.3M672.5 127.2v2.3M672.5 129.6v2.3M672.5 136.5v2.3M673.5 118v2.3M673.5 120.3v2.3M673.5 122.6v2.3M673.5 124.9v2.3M673.5 129.6v2.3M673.5 134.2v2.3M673.5 141.1v2.3M674.5 115.7v2.3M674.5 118v2.3M674.5 124.9v2.3M674.5 127.2v2.3M674.5 134.2v2.3M675.5 115.7v2.3M675.5 118v2.3M675.5 120.3v2.3M675.5 127.2v2.3M676.5 115.7v2.3M676.5 120.3v2.3M676.5 122.6v2.3M676.5 124.9v2.3M676.5 129.6v2.3M676.5 131.9v2.3M676.5 141.1v2.3M677.5 115.7v2.3M677.5 120.3v2.3M677.5 122.6v2.3M677.5 124.9v2.3M677.5 127.2v2.3M677.5 131.9v2.3M678.5 118v2.3M678.5 120.3v2.3M678.5 122.6v2.3M678.5 127.2v2.3M678.5 129.6v2.3M678.5 131.9v2.3M678.5 134.2v2.3M678.5 141.1v2.3M679.5 115.7v2.3M679.5 118v2.3M679.5 120.3v2.3M679.5 122.6v2.3M679.5 127.2v2.3M680.5 115.7v2.3M680.5 118v2.3M680.5 120.3v2.3M680.5 122.6v2.3M680.5 124.9v2.3M680.5 127.2v2.3M681.5 131.9v2.3M681.5 134.2v2.3M682.5 115.7v2.3M682.5 122.6v2.3M683.5 122.6v2.3M683.5 134.2v2.3M683.5 136.5v2.3M684.5 115.7v2.3M684.5 118v2.3M684.5 127.2v2.3M684.5 129.6v2.3M685.5 115.7v2.3M685.5 122.6v2.3M686.5 115.7v2.3M686.5 118v2.3M686.5 122.6v2.3M686.5 127.2v2.3M686.5 131.9v2.3M686.5 134.2v2.3M687.5 118v2.3M687.5 120.3v2.3M687.5 124.9v2.3M687.5 127.2v2.3M687.5 136.5v2.3M688.5 118v2.3M688.5 129.6v2.3M688.5 131.9v2.3M688.5 136.5v2.3M689.5 115.7v2.3M689.5 118v2.3M689.5 122.6v2.3M689.5 124.9v2.3M689.5 127.2v2.3M689.5 134.2v2.3M689.5 141.1v2.3M690.5 118v2.3M690.5 120.3v2.3M690.5 124.9v2.3M690.5 127.2v2.3M691.5 115.7v2.3M691.5 118v2.3M691.5 120.3v2.3M691.5 122.6v2.3M691.5 124.9v2.3M691.5 127.2v2.3M691.5 134.2v2.3M691.5 136.5v2.3M692.5 115.7v2.3M692.5 120.3v2.3M693.5 115.7v2.3M693.5 118v2.3M693.5 122.6v2.3M693.5 124.9v2.3M693.5 129.6v2.3M693.5 136.5v2.3M694.5 120.3v2.3M694.5 122.6v2.3M694.5 124.9v2.3M694.5 127.2v2.3M694.5 131.9v2.3M694.5 141.1v2.3M695.5 115.7v2.3M695.5 120.3v2.3M695.5 127.2v2.3M695.5 131.9v2.3M696.5 115.7v2.3M696.5 120.3v2.3M696.5 122.6v2.3M696.5 129.6v2.3M697.5 127.2v2.3M697.5 129.6v2.3M698.5 120.3v2.3M698.5 122.6v2.3M698.5 131.9v2.3M698.5 136.5v2.3M699.5 115.7v2.3M699.5 118v2.3M699.5 122.6v2.3M699.5 127.2v2.3M699.5 129.6v2.3M700.5 118v2.3M700.5 122.6v2.3M700.5 124.9v2.3M700.5 127.2v2.3M701.5 115.7v2.3M701.5 120.3v2.3M701.5 124.9v2.3M701.5 138.8v2.3M702.5 115.7v2.3M702.5 120.3v2.3M702.5 122.6v2.3M702.5 127.2v2.3M702.5 129.6v2.3M703.5 115.7v2.3M703.5 122.6v2.3M703.5 136.5v2.3M704.5 115.7v2.3M704.5 118v2.3M704.5 120.3v2.3M704.5 122.6v2.3M704.5 127.2v2.3M704.5 129.6v2.3M704.5 138.8v2.3M705.5 127.2v2.3M705.5 138.8v2.3M705.5 145.7v2.3M706.5 115.7v2.3M706.5 120.3v2.3M706.5 124.9v2.3M706.5 129.6v2.3M706.5 134.2v2.3M707.5 115.7v2.3M707.5 118v2.3M707.5 120.3v2.3M707.5 122.6v2.3M707.5 129.6v2.3M707.5 131.9v2.3M708.5 120.3v2.3M708.5 122.6v2.3M708.5 124.9v2.3M708.5 134.2v2.3M708.5 136.5v2.3M709.5 124.9v2.3M709.5 127.2v2.3M709.5 129.6v2.3M709.5 136.5v2.3M709.5 138.8v2.3M710.5 122.6v2.3M710.5 124.9v2.3M710.5 129.6v2.3M710.5 131.9v2.3M710.5 134.2v2.3M710.5 141.1v2.3M711.5 115.7v2.3M711.5 120.3v2.3M711.5 122.6v2.3M711.5 124.9v2.3M711.5 136.5v2.3M711.5 141.1v2.3M711.5 148v2.3M712.5 115.7v2.3M712.5 118v2.3M712.5 124.9v2.3M712.5 127.2v2.3M712.5 131.9v2.3M713.5 115.7v2.3M713.5 118v2.3M713.5 124.9v2.3M713.5 127.2v2.3M713.5 134.2v2.3M713.5 141.1v2.3M713.5 143.4v2.3M714.5 124.9v2.3M714.5 127.2v2.3M714.5 134.2v2.3M715.5 122.6v2.3M715.5 124.9v2.3M715.5 127.2v2.3M716.5 115.7v2.3M716.5 120.3v2.3M716.5 131.9v2.3M717.5 115.7v2.3M717.5 127.2v2.3M718.5 115.7v2.3M718.5 118v2.3M718.5 124.9v2.3M718.5 129.6v2.3M718.5 138.8v2.3M719.5 115.7v2.3M719.5 118v2.3M719.5 124.9v2.3M719.5 127.2v2.3M719.5 131.9v2.3M719.5 134.2v2.3M719.5 138.8v2.3M720.5 120.3v2.3M720.5 127.2v2.3M720.5 129.6v2.3M720.5 141.1v2.3M721.5 115.7v2.3M721.5 120.3v2.3M721.5 124.9v2.3M721.5 127.2v2.3M722.5 115.7v2.3M722.5 118v2.3M722.5 120.3v2.3M722.5 122.6v2.3M722.5 131.9v2.3M722.5 134.2v2.3M722.5 136.5v2.3M723.5 115.7v2.3M723.5 118v2.3M723.5 120.3v2.3M723.5 124.9v2.3M723.5 127.2v2.3M723.5 129.6v2.3M723.5 131.9v2.3M724.5 115.7v2.3M724.5 118v2.3M724.5 120.3v2.3M724.5 124.9v2.3M724.5 131.9v2.3M724.5 134.2v2.3M725.5 115.7v2.3M725.5 118v2.3M725.5 120.3v2.3M725.5 122.6v2.3M725.5 136.5v2.3M725.5 138.8v2.3M725.5 141.1v2.3M726.5 115.7v2.3M726.5 118v2.3M726.5 122.6v2.3M726.5 124.9v2.3M726.5 136.5v2.3M727.5 115.7v2.3M727.5 118v2.3M727.5 120.3v2.3M727.5 122.6v2.3M728.5 115.7v2.3M728.5 118v2.3M728.5 122.6v2.3M728.5 131.9v2.3M728.5 134.2v2.3M729.5 118v2.3M729.5 120.3v2.3M729.5 124.9v2.3M729.5 127.2v2.3M729.5 129.6v2.3M730.5 115.7v2.3M730.5 120.3v2.3M730.5 124.9v2.3M730.5 129.6v2.3M730.5 134.2v2.3M730.5 141.1v2.3M731.5 115.7v2.3M731.5 127.2v2.3M731.5 129.6v2.3M731.5 131.9v2.3M731.5 138.8v2.3M732.5 118v2.3M732.5 124.9v2.3M732.5 131.9v2.3M732.5 136.5v2.3M733.5 115.7v2.3M733.5 120.3v2.3M733.5 124.9v2.3M733.5 129.6v2.3M733.5 131.9v2.3M734.5 115.7v2.3M734.5 118v2.3M734.5 120.3v2.3M734.5 122.6v2.3M734.5 124.9v2.3M734.5 127.2v2.3M735.5 115.7v2.3M735.5 122.6v2.3M736.5 115.7v2.3M736.5 120.3v2.3M737.5 115.7v2.3M737.5 118v2.3M737.5 120.3v2.3M737.5 122.6v2.3M737.5 124.9v2.3M737.5 127.2v2.3M737.5 131.9v2.3M738.5 115.7v2.3M738.5 129.6v2.3M738.5 134.2v2.3M739.5 115.7v2.3M739.5 118v2.3M739.5 120.3v2.3M740.5 122.6v2.3M740.5 136.5v2.3M741.5 115.7v2.3M741.5 120.3v2.3M741.5 122.6v2.3M741.5 131.9v2.3M742.5 115.7v2.3M742.5 127.2v2.3M742.5 131.9v2.3M742.5 134.2v2.3M742.5 141.1v2.3M743.5 115.7v2.3M743.5 118v2.3M743.5 122.6v2.3M743.5 124.9v2.3M744.5 115.7v2.3M744.5 118v2.3M744.5 124.9v2.3M744.5 138.8v2.3M745.5 115.7v2.3M745.5 124.9v2.3M746.5 118v2.3M746.5 120.3v2.3M746.5 122.6v2.3M746.5 136.5v2.3M747.5 115.7v2.3M747.5 120.3v2.3M747.5 122.6v2.3M747.5 134.2v2.3M747.5 141.1v2.3M748.5 115.7v2.3M748.5 118v2.3M748.5 120.3v2.3M748.5 124.9v2.3M748.5 127.2v2.3M748.5 134.2v2.3M748.5 141.1v2.3M749.5 118v2.3M749.5 127.2v2.3M749.5 136.5v2.3M750.5 115.7v2.3M750.5 138.8v2.3M751.5 118v2.3M751.5 120.3v2.3M751.5 124.9v2.3M752.5 115.7v2.3M752.5 118v2.3M752.5 122.6v2.3M752.5 124.9v2.3M752.5 131.9v2.3M753.5 115.7v2.3M753.5 118v2.3M753.5 124.9v2.3M753.5 127.2v2.3M753.5 129.6v2.3M753.5 138.8v2.3M754.5 115.7v2.3M754.5 118v2.3M754.5 120.3v2.3M754.5 122.6v2.3M754.5 131.9v2.3M754.5 134.2v2.3M755.5 118v2.3M755.5 129.6v2.3M755.5 134.2v2.3M756.5 118v2.3M756.5 120.3v2.3M756.5 122.6v2.3M756.5 124.9v2.3M756.5 127.2v2.3M756.5 131.9v2.3M756.5 134.2v2.3M757.5 118v2.3M757.5 120.3v2.3M757.5 127.2v2.3M757.5 131.9v2.3M757.5 134.2v2.3M757.5 138.8v2.3M758.5 115.7v2.3M758.5 124.9v2.3M758.5 134.2v2.3M759.5 115.7v2.3M759.5 118v2.3M759.5 120.3v2.3M759.5 124.9v2.3M759.5 129.6v2.3M759.5 134.2v2.3M760.5 115.7v2.3M760.5 120.3v2.3M760.5 122.6v2.3M760.5 124.9v2.3M760.5 127.2v2.3M760.5 131.9v2.3M761.5 115.7v2.3M761.5 118v2.3M761.5 120.3v2.3M761.5 129.6v2.3M761.5 141.1v2.3M762.5 115.7v2.3M762.5 118v2.3M762.5 120.3v2.3M762.5 124.9v2.3M762.5 127.2v2.3M763.5 129.6v2.3M763.5 131.9v2.3M764.5 115.7v2.3M764.5 118v2.3M764.5 120.3v2.3M764.5 122.6v2.3M764.5 124.9v2.3M764.5 127.2v2.3M765.5 118v2.3M765.5 120.3v2.3M765.5 122.6v2.3M765.5 127.2v2.3M765.5 131.9v2.3M765.5 134.2v2.3M766.5 120.3v2.3M766.5 124.9v2.3M766.5 127.2v2.3M766.5 129.6v2.3M767.5 118v2.3M767.5 122.6v2.3M767.5 124.9v2.3M767.5 127.2v2.3M767.5 129.6v2.3M767.5 131.9v2.3M767.5 141.1v2.3M767.5 148v2.3M768.5 122.6v2.3M768.5 131.9v2.3M769.5 115.7v2.3M769.5 118v2.3M769.5 120.3v2.3M769.5 122.6v2.3M769.5 127.2v2.3M769.5 134.2v2.3M770.5 115.7v2.3M770.5 122.6v2.3M770.5 134.2v2.3M770.5 136.5v2.3M771.5 118v2.3M771.5 122.6v2.3M771.5 124.9v2.3M772.5 118v2.3M772.5 120.3v2.3M772.5 124.9v2.3M772.5 127.2v2.3M772.5 129.6v2.3M772.5 141.1v2.3M773.5 115.7v2.3M773.5 120.3v2.3M773.5 124.9v2.3M773.5 129.6v2.3M773.5 131.9v2.3M774.5 115.7v2.3M774.5 118v2.3M774.5 120.3v2.3M774.5 122.6v2.3M774.5 124.9v2.3M774.5 127.2v2.3M774.5 129.6v2.3M774.5 141.1v2.3M775.5 115.7v2.3M775.5 118v2.3M775.5 120.3v2.3M775.5 122.6v2.3M776.5 122.6v2.3M776.5 129.6v2.3M777.5 115.7v2.3M777.5 118v2.3M777.5 120.3v2.3M777.5 122.6v2.3M777.5 124.9v2.3M777.5 131.9v2.3M777.5 138.8v2.3M778.5 115.7v2.3M778.5 120.3v2.3M778.5 122.6v2.3M778.5 127.2v2.3M778.5 141.1v2.3M779.5 118v2.3M779.5 127.2v2.3M780.5 115.7v2.3M780.5 118v2.3M780.5 122.6v2.3M780.5 124.9v2.3M780.5 129.6v2.3M780.5 131.9v2.3M781.5 118v2.3M781.5 124.9v2.3M781.5 127.2v2.3M781.5 136.5v2.3M782.5 115.7v2.3M782.5 118v2.3M783.5 115.7v2.3M783.5 122.6v2.3M783.5 131.9v2.3M783.5 134.2v2.3M784.5 127.2v2.3M784.5 131.9v2.3M784.5 134.2v2.3M785.5 120.3v2.3M785.5 124.9v2.3M785.5 129.6v2.3M785.5 131.9v2.3M786.5 115.7v2.3M786.5 127.2v2.3M786.5 129.6v2.3M786.5 136.5v2.3M787.5 115.7v2.3M787.5 118v2.3M787.5 120.3v2.3M787.5 122.6v2.3M787.5 124.9v2.3M787.5 127.2v2.3M788.5 115.7v2.3M788.5 118v2.3M788.5 120.3v2.3M788.5 124.9v2.3M789.5 115.7v2.3M789.5 120.3v2.3M789.5 127.2v2.3M789.5 129.6v2.3M790.5 115.7v2.3M790.5 120.3v2.3M790.5 124.9v2.3M790.5 129.6v2.3M790.5 131.9v2.3M790.5 134.2v2.3M791.5 115.7v2.3M791.5 120.3v2.3M791.5 124.9v2.3M791.5 127.2v2.3M791.5 129.6v2.3M792.5 118v2.3M792.5 129.6v2.3M792.5 131.9v2.3M792.5 141.1v2.3M793.5 118v2.3M793.5 127.2v2.3M793.5 131.9v2.3M793.5 136.5v2.3M794.5 118v2.3M794.5 122.6v2.3M795.5 115.7v2.3M795.5 118v2.3M795.5 122.6v2.3M795.5 127.2v2.3M796.5 115.7v2.3M796.5 124.9v2.3M796.5 127.2v2.3M796.5 136.5v2.3M797.5 122.6v2.3M797.5 127.2v2.3M798.5 118v2.3M798.5 120.3v2.3M798.5 122.6v2.3M798.5 124.9v2.3M798.5 127.2v2.3M798.5 129.6v2.3M798.5 136.5v2.3M799.5 118v2.3M799.5 124.9v2.3M799.5 129.6v2.3M799.5 134.2v2.3M799.5 138.8v2.3M800.5 115.7v2.3M800.5 124.9v2.3M800.5 134.2v2.3M800.5 141.1v2.3M801.5 120.3v2.3M801.5 122.6v2.3M801.5 124.9v2.3M801.5 127.2v2.3M801.5 131.9v2.3M801.5 136.5v2.3M802.5 115.7v2.3M802.5 120.3v2.3M802.5 127.2v2.3M802.5 129.6v2.3M802.5 134.2v2.3M803.5 115.7v2.3M803.5 122.6v2.3M803.5 124.9v2.3M803.5 127.2v2.3M803.5 131.9v2.3M803.5 148v2.3M804.5 115.7v2.3M804.5 127.2v2.3M804.5 131.9v2.3M805.5 115.7v2.3M805.5 122.6v2.3M805.5 131.9v2.3M805.5 136.5v2.3M806.5 124.9v2.3M806.5 127.2v2.3M806.5 131.9v2.3M806.5 141.1v2.3M807.5 115.7v2.3M807.5 120.3v2.3M807.5 124.9v2.3M807.5 131.9v2.3M807.5 141.1v2.3M808.5 115.7v2.3M808.5 122.6v2.3M808.5 124.9v2.3M808.5 129.6v2.3M808.5 131.9v2.3M809.5 115.7v2.3M809.5 118v2.3M809.5 120.3v2.3M809.5 122.6v2.3M809.5 124.9v2.3M809.5 129.6v2.3M809.5 134.2v2.3M810.5 120.3v2.3M810.5 124.9v2.3M810.5 131.9v2.3M811.5 118v2.3M811.5 120.3v2.3M811.5 127.2v2.3M811.5 131.9v2.3M812.5 115.7v2.3M812.5 118v2.3M812.5 120.3v2.3M812.5 127.2v2.3M813.5 120.3v2.3M813.5 124.9v2.3M813.5 127.2v2.3M813.5 129.6v2.3M813.5 131.9v2.3M813.5 136.5v2.3M814.5 115.7v2.3M814.5 124.9v2.3M814.5 134.2v2.3M814.5 141.1v2.3M815.5 118v2.3M815.5 122.6v2.3M815.5 124.9v2.3M815.5 129.6v2.3M815.5 136.5v2.3M816.5 115.7v2.3M817.5 115.7v2.3M817.5 118v2.3M817.5 120.3v2.3M817.5 127.2v2.3M817.5 129.6v2.3M817.5 134.2v2.3M817.5 136.5v2.3M817.5 141.1v2.3M818.5 118v2.3M818.5 120.3v2.3M818.5 122.6v2.3M818.5 129.6v2.3M819.5 122.6v2.3M819.5 124.9v2.3M819.5 127.2v2.3M820.5 118v2.3M820.5 122.6v2.3M821.5 120.3v2.3M821.5 122.6v2.3M821.5 129.6v2.3M822.5 115.7v2.3M822.5 122.6v2.3M822.5 124.9v2.3M823.5 118v2.3M823.5 122.6v2.3M823.5 124.9v2.3M823.5 127.2v2.3M823.5 131.9v2.3M824.5 115.7v2.3M824.5 118v2.3M824.5 122.6v2.3M824.5 124.9v2.3M824.5 127.2v2.3M825.5 115.7v2.3M825.5 118v2.3M825.5 120.3v2.3M825.5 122.6v2.3M825.5 124.9v2.3M825.5 129.6v2.3M825.5 131.9v2.3M825.5 134.2v2.3M826.5 120.3v2.3M826.5 124.9v2.3M826.5 131.9v2.3M827.5 115.7v2.3M827.5 118v2.3M827.5 122.6v2.3M827.5 127.2v2.3M827.5 131.9v2.3M828.5 115.7v2.3M828.5 120.3v2.3M828.5 122.6v2.3M828.5 127.2v2.3M828.5 129.6v2.3M828.5 138.8v2.3M829.5 118v2.3M829.5 120.3v2.3M829.5 122.6v2.3M829.5 127.2v2.3M829.5 141.1v2.3M830.5 118v2.3M830.5 120.3v2.3M830.5 122.6v2.3M830.5 124.9v2.3M830.5 127.2v2.3M830.5 129.6v2.3M831.5 118v2.3M831.5 122.6v2.3M832.5 115.7v2.3M832.5 118v2.3M832.5 122.6v2.3M832.5 127.2v2.3M832.5 129.6v2.3M833.5 115.7v2.3M833.5 118v2.3M833.5 127.2v2.3M833.5 131.9v2.3M834.5 115.7v2.3M834.5 124.9v2.3M834.5 127.2v2.3M835.5 115.7v2.3M835.5 118v2.3M835.5 120.3v2.3M835.5 131.9v2.3M836.5 115.7v2.3M836.5 118v2.3M836.5 122.6v2.3M836.5 127.2v2.3M836.5 129.6v2.3M836.5 136.5v2.3M838.5 118v2.3M838.5 122.6v2.3M838.5 124.9v2.3M838.5 134.2v2.3M838.5 136.5v2.3M839.5 115.7v2.3M839.5 120.3v2.3M839.5 127.2v2.3M839.5 134.2v2.3M840.5 115.7v2.3M840.5 120.3v2.3M840.5 129.6v2.3M840.5 134.2v2.3M841.5 115.7v2.3M841.5 124.9v2.3M841.5 127.2v2.3M841.5 138.8v2.3M842.5 118v2.3M842.5 120.3v2.3M842.5 122.6v2.3M842.5 124.9v2.3M842.5 127.2v2.3M842.5 129.6v2.3M842.5 131.9v2.3M843.5 120.3v2.3M843.5 124.9v2.3M843.5 127.2v2.3M843.5 129.6v2.3M843.5 134.2v2.3M843.5 136.5v2.3M843.5 148v2.3M844.5 120.3v2.3M844.5 124.9v2.3M844.5 134.2v2.3M844.5 141.1v2.3M845.5 115.7v2.3M845.5 124.9v2.3M845.5 141.1v2.3M846.5 115.7v2.3M846.5 122.6v2.3M846.5 124.9v2.3M846.5 127.2v2.3M846.5 129.6v2.3M847.5 118v2.3M847.5 122.6v2.3M847.5 124.9v2.3M847.5 131.9v2.3M847.5 138.8v2.3M847.5 148v2.3M848.5 115.7v2.3M848.5 122.6v2.3M848.5 129.6v2.3M848.5 131.9v2.3M848.5 134.2v2.3M849.5 120.3v2.3M849.5 124.9v2.3M849.5 127.2v2.3M849.5 129.6v2.3M849.5 138.8v2.3M850.5 115.7v2.3M850.5 120.3v2.3M850.5 129.6v2.3M851.5 118v2.3M851.5 122.6v2.3M851.5 129.6v2.3M851.5 131.9v2.3M851.5 136.5v2.3M851.5 141.1v2.3M852.5 138.8v2.3M853.5 118v2.3M853.5 122.6v2.3M853.5 124.9v2.3M853.5 129.6v2.3M853.5 131.9v2.3M854.5 118v2.3M854.5 127.2v2.3M854.5 138.8v2.3M855.5 115.7v2.3M855.5 118v2.3M855.5 124.9v2.3M855.5 127.2v2.3M855.5 129.6v2.3M855.5 134.2v2.3M855.5 136.5v2.3M855.5 141.1v2.3M856.5 131.9v2.3M856.5 136.5v2.3M857.5 115.7v2.3M857.5 118v2.3M857.5 120.3v2.3M857.5 122.6v2.3M857.5 124.9v2.3M857.5 131.9v2.3M857.5 136.5v2.3M857.5 148v2.3M858.5 115.7v2.3M858.5 122.6v2.3M858.5 124.9v2.3M858.5 127.2v2.3M858.5 145.7v2.3M859.5 118v2.3M859.5 120.3v2.3M859.5 129.6v2.3M860.5 115.7v2.3M860.5 118v2.3M860.5 122.6v2.3M860.5 124.9v2.3M860.5 127.2v2.3M861.5 115.7v2.3M861.5 122.6v2.3M861.5 145.7v2.3M862.5 118v2.3M862.5 122.6v2.3M862.5 129.6v2.3M862.5 131.9v2.3M862.5 138.8v2.3M863.5 120.3v2.3M863.5 127.2v2.3M863.5 129.6v2.3M864.5 118v2.3M864.5 120.3v2.3M864.5 122.6v2.3M864.5 124.9v2.3M864.5 131.9v2.3M865.5 118v2.3M865.5 120.3v2.3M865.5 124.9v2.3M865.5 134.2v2.3M866.5 115.7v2.3M866.5 118v2.3M866.5 120.3v2.3M866.5 122.6v2.3M866.5 127.2v2.3M866.5 131.9v2.3M866.5 136.5v2.3M866.5 138.8v2.3M867.5 124.9v2.3M867.5 136.5v2.3M868.5 115.7v2.3M868.5 122.6v2.3M868.5 124.9v2.3M868.5 136.5v2.3M869.5 120.3v2.3M869.5 124.9v2.3M869.5 131.9v2.3M870.5 118v2.3M870.5 122.6v2.3M871.5 120.3v2.3M871.5 124.9v2.3M872.5 115.7v2.3M872.5 122.6v2.3M872.5 124.9v2.3M872.5 127.2v2.3M872.5 131.9v2.3M873.5 118v2.3M873.5 120.3v2.3M874.5 115.7v2.3M874.5 120.3v2.3M874.5 122.6v2.3M875.5 118v2.3M875.5 120.3v2.3M875.5 124.9v2.3M875.5 131.9v2.3M875.5 136.5v2.3M876.5 122.6v2.3M876.5 124.9v2.3M877.5 115.7v2.3M877.5 118v2.3M877.5 120.3v2.3M877.5 124.9v2.3M877.5 129.6v2.3M877.5 136.5v2.3M878.5 115.7v2.3M878.5 127.2v2.3M878.5 129.6v2.3M879.5 115.7v2.3M879.5 122.6v2.3M879.5 131.9v2.3M879.5 136.5v2.3M880.5 115.7v2.3M880.5 118v2.3M880.5 122.6v2.3M880.5 127.2v2.3M880.5 141.1v2.3M881.5 118v2.3M881.5 122.6v2.3M881.5 127.2v2.3M881.5 129.6v2.3M882.5 118v2.3M882.5 136.5v2.3M883.5 115.7v2.3M883.5 118v2.3M884.5 115.7v2.3M884.5 120.3v2.3M884.5 122.6v2.3M884.5 129.6v2.3M885.5 115.7v2.3M885.5 124.9v2.3M885.5 129.6v2.3M886.5 115.7v2.3M887.5 118v2.3M887.5 120.3v2.3M887.5 122.6v2.3M887.5 127.2v2.3M887.5 131.9v2.3M888.5 115.7v2.3M888.5 118v2.3M888.5 120.3v2.3M888.5 122.6v2.3M889.5 115.7v2.3M889.5 118v2.3M889.5 120.3v2.3M889.5 129.6v2.3M889.5 134.2v2.3M889.5 136.5v2.3M890.5 115.7v2.3M890.5 118v2.3M890.5 120.3v2.3M890.5 124.9v2.3M891.5 115.7v2.3M891.5 118v2.3M891.5 124.9v2.3M891.5 129.6v2.3M891.5 145.7v2.3M892.5 120.3v2.3M892.5 122.6v2.3M892.5 127.2v2.3M892.5 134.2v2.3M892.5 136.5v2.3M893.5 120.3v2.3M893.5 122.6v2.3M893.5 124.9v2.3M893.5 134.2v2.3M894.5 115.7v2.3M894.5 118v2.3M894.5 124.9v2.3M894.5 127.2v2.3M895.5 115.7v2.3M895.5 118v2.3M895.5 124.9v2.3M895.5 127.2v2.3M896.5 120.3v2.3M896.5 124.9v2.3M897.5 115.7v2.3M897.5 124.9v2.3M897.5 127.2v2.3M897.5 129.6v2.3M897.5 131.9v2.3M898.5 118v2.3M898.5 120.3v2.3M898.5 124.9v2.3M899.5 115.7v2.3M899.5 118v2.3M899.5 120.3v2.3M899.5 124.9v2.3M899.5 127.2v2.3M899.5 129.6v2.3M899.5 131.9v2.3M900.5 124.9v2.3M900.5 127.2v2.3M900.5 129.6v2.3M900.5 131.9v2.3M900.5 134.2v2.3M901.5 118v2.3M901.5 131.9v2.3M901.5 136.5v2.3M901.5 138.8v2.3M902.5 115.7v2.3M902.5 120.3v2.3M902.5 122.6v2.3M902.5 124.9v2.3M902.5 131.9v2.3M902.5 136.5v2.3M903.5 120.3v2.3M903.5 127.2v2.3M903.5 129.6v2.3M903.5 131.9v2.3M903.5 136.5v2.3M904.5 118v2.3M904.5 122.6v2.3M904.5 124.9v2.3M904.5 129.6v2.3M904.5 134.2v2.3M905.5 115.7v2.3M905.5 134.2v2.3M905.5 136.5v2.3M906.5 115.7v2.3M906.5 124.9v2.3M906.5 127.2v2.3M906.5 129.6v2.3M906.5 131.9v2.3M907.5 115.7v2.3M907.5 122.6v2.3M907.5 124.9v2.3M907.5 134.2v2.3M907.5 138.8v2.3M908.5 115.7v2.3M908.5 120.3v2.3M908.5 122.6v2.3M908.5 124.9v2.3M908.5 129.6v2.3M908.5 136.5v2.3M909.5 115.7v2.3M909.5 118v2.3M909.5 136.5v2.3M909.5 138.8v2.3M910.5 115.7v2.3M910.5 118v2.3M910.5 124.9v2.3M910.5 127.2v2.3M910.5 136.5v2.3M911.5 120.3v2.3M911.5 122.6v2.3M911.5 129.6v2.3M911.5 141.1v2.3M912.5 122.6v2.3M912.5 127.2v2.3M912.5 129.6v2.3M913.5 115.7v2.3M913.5 120.3v2.3M913.5 131.9v2.3M913.5 136.5v2.3M914.5 118v2.3M914.5 122.6v2.3M914.5 127.2v2.3M914.5 129.6v2.3M915.5 115.7v2.3M915.5 129.6v2.3M915.5 136.5v2.3M915.5 141.1v2.3M916.5 118v2.3M916.5 127.2v2.3M916.5 129.6v2.3M916.5 141.1v2.3M917.5 115.7v2.3M918.5 118v2.3M918.5 120.3v2.3M918.5 122.6v2.3M918.5 138.8v2.3M919.5 115.7v2.3M919.5 120.3v2.3M919.5 127.2v2.3M919.5 136.5v2.3M920.5 115.7v2.3M920.5 122.6v2.3M920.5 129.6v2.3M921.5 118v2.3M921.5 120.3v2.3M921.5 127.2v2.3M922.5 122.6v2.3M922.5 124.9v2.3M923.5 115.7v2.3M923.5 118v2.3M923.5 127.2v2.3M923.5 136.5v2.3M924.5 120.3v2.3M924.5 124.9v2.3M924.5 127.2v2.3M924.5 134.2v2.3M925.5 115.7v2.3M925.5 124.9v2.3M925.5 131.9v2.3M926.5 124.9v2.3M926.5 127.2v2.3M928.5 118v2.3M928.5 120.3v2.3M928.5 129.6v2.3M928.5 131.9v2.3M928.5 134.2v2.3M928.5 138.8v2.3M929.5 115.7v2.3M929.5 122.6v2.3M929.5 134.2v2.3M930.5 129.6v2.3M931.5 115.7v2.3M931.5 122.6v2.3M931.5 124.9v2.3M931.5 127.2v2.3M932.5 115.7v2.3M932.5 120.3v2.3M932.5 122.6v2.3M932.5 127.2v2.3M932.5 129.6v2.3M933.5 124.9v2.3M933.5 127.2v2.3M934.5 115.7v2.3M934.5 118v2.3M935.5 115.7v2.3M935.5 118v2.3M935.5 122.6v2.3M936.5 127.2v2.3M937.5 118v2.3M937.5 120.3v2.3M937.5 131.9v2.3M937.5 134.2v2.3M938.5 124.9v2.3M938.5 127.2v2.3M938.5 138.8v2.3M939.5 115.7v2.3M939.5 122.6v2.3M939.5 127.2v2.3M939.5 129.6v2.3M940.5 115.7v2.3M940.5 120.3v2.3M940.5 124.9v2.3M940.5 127.2v2.3M941.5 115.7v2.3M941.5 122.6v2.3M942.5 124.9v2.3M942.5 127.2v2.3M943.5 124.9v2.3M943.5 131.9v2.3M943.5 138.8v2.3M943.5 141.1v2.3M944.5 120.3v2.3M944.5 124.9v2.3M944.5 129.6v2.3M944.5 138.8v2.3M945.5 118v2.3M945.5 122.6v2.3M946.5 120.3v2.3M946.5 124.9v2.3M947.5 115.7v2.3M947.5 118v2.3M947.5 127.2v2.3M947.5 141.1v2.3M948.5 118v2.3M948.5 120.3v2.3M949.5 118v2.3M949.5 120.3v2.3M950.5 120.3v2.3M950.5 136.5v2.3M950.5 138.8v2.3M950.5 141.1v2.3M951.5 115.7v2.3M951.5 120.3v2.3M951.5 129.6v2.3M951.5 138.8v2.3M952.5 115.7v2.3M952.5 122.6v2.3M952.5 127.2v2.3M952.5 131.9v2.3M953.5 115.7v2.3M953.5 124.9v2.3M953.5 131.9v2.3M953.5 136.5v2.3M954.5 124.9v2.3M955.5 118v2.3M955.5 120.3v2.3M955.5 134.2v2.3M956.5 127.2v2.3M956.5 131.9v2.3M957.5 115.7v2.3M957.5 118v2.3M957.5 127.2v2.3M958.5 115.7v2.3M958.5 122.6v2.3M958.5 129.6v2.3M958.5 134.2v2.3M958.5 138.8v2.3M959.5 120.3v2.3M959.5 136.5v2.3M960.5 118v2.3M960.5 120.3v2.3M960.5 122.6v2.3M960.5 129.6v2.3M960.5 131.9v2.3M960.5 138.8v2.3M961.5 115.7v2.3M961.5 120.3v2.3M961.5 131.9v2.3M961.5 134.2v2.3M962.5 118v2.3M962.5 120.3v2.3M962.5 145.7v2.3M963.5 118v2.3M963.5 122.6v2.3M963.5 136.5v2.3M964.5 134.2v2.3M964.5 136.5v2.3M965.5 115.7v2.3M965.5 118v2.3M965.5 136.5v2.3M966.5 118v2.3M966.5 127.2v2.3M966.5 129.6v2.3M966.5 131.9v2.3M966.5 136.5v2.3M967.5 136.5v2.3M968.5 131.9v2.3M969.5 134.2v2.3M970.5 115.7v2.3M970.5 118v2.3M970.5 136.5v2.3M971.5 120.3v2.3M971.5 124.9v2.3M971.5 131.9v2.3M972.5 120.3v2.3M972.5 122.6v2.3M972.5 127.2v2.3M973.5 118v2.3M973.5 124.9v2.3M973.5 129.6v2.3M973.5 131.9v2.3M973.5 141.1v2.3M974.5 115.7v2.3M974.5 118v2.3M974.5 124.9v2.3M974.5 127.2v2.3M974.5 129.6v2.3M974.5 131.9v2.3M974.5 134.2v2.3M975.5 127.2v2.3M975.5 136.5v2.3M976.5 120.3v2.3M976.5 122.6v2.3M976.5 134.2v2.3M977.5 118v2.3M977.5 124.9v2.3M977.5 127.2v2.3M977.5 138.8v2.3M978.5 138.8v2.3M979.5 115.7v2.3M979.5 120.3v2.3M979.5 127.2v2.3M980.5 120.3v2.3M980.5 129.6v2.3M980.5 138.8v2.3M981.5 120.3v2.3M981.5 122.6v2.3M981.5 127.2v2.3M982.5 122.6v2.3M982.5 129.6v2.3M982.5 131.9v2.3M982.5 136.5v2.3M983.5 115.7v2.3M983.5 118v2.3M983.5 124.9v2.3M983.5 129.6v2.3M983.5 141.1v2.3M984.5 118v2.3M984.5 120.3v2.3M984.5 122.6v2.3M985.5 115.7v2.3M985.5 118v2.3M985.5 122.6v2.3M985.5 127.2v2.3M985.5 134.2v2.3M986.5 118v2.3M986.5 124.9v2.3M986.5 134.2v2.3M987.5 124.9v2.3M987.5 129.6v2.3M988.5 120.3v2.3M988.5 127.2v2.3M988.5 134.2v2.3M989.5 115.7v2.3M989.5 120.3v2.3M989.5 124.9v2.3M989.5 131.9v2.3M990.5 124.9v2.3M990.5 127.2v2.3M990.5 131.9v2.3M991.5 115.7v2.3M991.5 118v2.3M991.5 120.3v2.3M991.5 122.6v2.3M991.5 141.1v2.3M992.5 115.7v2.3M992.5 122.6v2.3M992.5 124.9v2.3M993.5 115.7v2.3M993.5 118v2.3M993.5 120.3v2.3M994.5 115.7v2.3M995.5 118v2.3M995.5 124.9v2.3M995.5 127.2v2.3M995.5 136.5v2.3M996.5 118v2.3M996.5 120.3v2.3M996.5 122.6v2.3M996.5 124.9v2.3M996.5 127.2v2.3M996.5 134.2v2.3M997.5 118v2.3M997.5 120.3v2.3M997.5 134.2v2.3M997.5 136.5v2.3M998.5 115.7v2.3M998.5 120.3v2.3M998.5 122.6v2.3M999.5 127.2v2.3M1000.5 118v2.3M1000.5 120.3v2.3M1001.5 115.7v2.3M1001.5 118v2.3M1001.5 127.2v2.3M1002.5 115.7v2.3M1002.5 120.3v2.3M1002.5 124.9v2.3M1003.5 115.7v2.3M1003.5 118v2.3M1003.5 120.3v2.3M1003.5 129.6v2.3M1003.5 131.9v2.3M1003.5 136.5v2.3M1004.5 124.9v2.3M1004.5 134.2v2.3M1005.5 115.7v2.3M1005.5 127.2v2.3M1005.5 129.6v2.3M1006.5 118v2.3M1007.5 115.7v2.3M1007.5 118v2.3M1007.5 127.2v2.3M1007.5 136.5v2.3M1007.5 138.8v2.3M1008.5 120.3v2.3M1008.5 127.2v2.3M1009.5 115.7v2.3M1009.5 122.6v2.3M1009.5 138.8v2.3M1010.5 120.3v2.3M1010.5 124.9v2.3M1010.5 127.2v2.3M1010.5 129.6v2.3M1011.5 115.7v2.3M1011.5 120.3v2.3M1011.5 124.9v2.3M1011.5 127.2v2.3M1011.5 129.6v2.3M1011.5 136.5v2.3M1012.5 118v2.3M1012.5 134.2v2.3M1013.5 118v2.3M1014.5 120.3v2.3M1014.5 122.6v2.3M1014.5 129.6v2.3M1014.5 131.9v2.3M1015.5 120.3v2.3M1015.5 124.9v2.3M1015.5 127.2v2.3M1015.5 129.6v2.3M1015.5 131.9v2.3M1016.5 115.7v2.3M1016.5 120.3v2.3M1016.5 127.2v2.3M1016.5 131.9v2.3M1017.5 115.7v2.3M1017.5 118v2.3M1017.5 120.3v2.3M1017.5 124.9v2.3M1017.5 138.8v2.3M1018.5 115.7v2.3M1018.5 118v2.3M1018.5 120.3v2.3M1018.5 122.6v2.3M1018.5 136.5v2.3M1019.5 122.6v2.3M1019.5 124.9v2.3M1020.5 115.7v2.3M1020.5 120.3v2.3M1021.5 115.7v2.3M1021.5 118v2.3M1021.5 120.3v2.3M1021.5 122.6v2.3M1021.5 124.9v2.3M1021.5 127.2v2.3M1022.5 118v2.3M1022.5 122.6v2.3M1022.5 131.9v2.3M1022.5 143.4v2.3M1023.5 118v2.3M1023.5 122.6v2.3M1023.5 129.6v2.3M1023.5 136.5v2.3M1024.5 124.9v2.3M1024.5 127.2v2.3M1025.5 122.6v2.3M1025.5 127.2v2.3M1025.5 129.6v2.3M1025.5 131.9v2.3M1026.5 115.7v2.3M1026.5 120.3v2.3M1026.5 122.6v2.3M1026.5 127.2v2.3M1027.5 115.7v2.3M1027.5 118v2.3M1027.5 120.3v2.3M1027.5 122.6v2.3M1027.5 134.2v2.3M1027.5 141.1v2.3M1028.5 124.9v2.3M1028.5 127.2v2.3M1029.5 122.6v2.3M1029.5 124.9v2.3M1029.5 131.9v2.3M1030.5 115.7v2.3M1030.5 118v2.3M1030.5 120.3v2.3M1030.5 129.6v2.3M1030.5 134.2v2.3M1031.5 115.7v2.3M1031.5 122.6v2.3M1031.5 127.2v2.3M1031.5 129.6v2.3M1031.5 134.2v2.3M1032.5 118v2.3M1033.5 118v2.3M1033.5 127.2v2.3M1033.5 138.8v2.3M1034.5 115.7v2.3M1034.5 122.6v2.3M1034.5 124.9v2.3M1035.5 122.6v2.3M1035.5 127.2v2.3M1035.5 129.6v2.3M1035.5 136.5v2.3M1035.5 143.4v2.3M1036.5 115.7v2.3M1036.5 118v2.3M1036.5 120.3v2.3M1036.5 127.2v2.3M1037.5 122.6v2.3M1037.5 129.6v2.3M1038.5 124.9v2.3M1038.5 131.9v2.3M1038.5 136.5v2.3M1039.5 115.7v2.3M1039.5 127.2v2.3M1039.5 136.5v2.3M1039.5 141.1v2.3M1040.5 127.2v2.3M1040.5 129.6v2.3M1040.5 138.8v2.3M1041.5 122.6v2.3M1041.5 136.5v2.3M1042.5 115.7v2.3M1042.5 124.9v2.3M1043.5 115.7v2.3M1043.5 118v2.3M1043.5 127.2v2.3M1044.5 115.7v2.3M1044.5 118v2.3M1044.5 124.9v2.3M1045.5 120.3v2.3M1045.5 129.6v2.3M1046.5 115.7v2.3M1046.5 118v2.3M1046.5 120.3v2.3M1046.5 122.6v2.3M1046.5 129.6v2.3M1047.5 122.6v2.3M1047.5 124.9v2.3M1047.5 134.2v2.3M1048.5 120.3v2.3M1048.5 122.6v2.3M1048.5 127.2v2.3M1048.5 129.6v2.3M1049.5 122.6v2.3M1049.5 129.6v2.3M1050.5 115.7v2.3M1050.5 120.3v2.3M1050.5 124.9v2.3M1050.5 127.2v2.3M1051.5 118v2.3M1051.5 124.9v2.3M1051.5 129.6v2.3M1052.5 115.7v2.3M1052.5 122.6v2.3M1053.5 115.7v2.3M1053.5 134.2v2.3M1054.5 118v2.3M1054.5 122.6v2.3M1055.5 122.6v2.3M1056.5 122.6v2.3M1056.5 127.2v2.3M1056.5 141.1v2.3M1057.5 131.9v2.3M1058.5 122.6v2.3M1058.5 129.6v2.3M1058.5 131.9v2.3M1058.5 138.8v2.3M1059.5 118v2.3M1059.5 134.2v2.3M1059.5 138.8v2.3M1060.5 115.7v2.3M1060.5 120.3v2.3M1060.5 138.8v2.3M1061.5 118v2.3M1061.5 124.9v2.3M1062.5 118v2.3M1062.5 122.6v2.3M1062.5 127.2v2.3M1063.5 115.7v2.3M1063.5 122.6v2.3M1063.5 124.9v2.3M1063.5 129.6v2.3M1063.5 131.9v2.3M1063.5 134.2v2.3M1063.5 136.5v2.3M1064.5 129.6v2.3M1064.5 134.2v2.3M1065.5 131.9v2.3M1066.5 115.7v2.3M1066.5 124.9v2.3M1066.5 129.6v2.3M1066.5 134.2v2.3M1066.5 138.8v2.3M1067.5 115.7v2.3M1067.5 120.3v2.3M1067.5 124.9v2.3M1067.5 127.2v2.3M1067.5 136.5v2.3M1068.5 115.7v2.3M1068.5 118v2.3M1068.5 134.2v2.3M1069.5 118v2.3M1069.5 124.9v2.3M1069.5 127.2v2.3M1069.5 131.9v2.3M1070.5 118v2.3M1070.5 122.6v2.3M1070.5 129.6v2.3M1071.5 115.7v2.3M1071.5 127.2v2.3M1071.5 131.9v2.3M1072.5 122.6v2.3M1072.5 124.9v2.3M1072.5 138.8v2.3M1073.5 131.9v2.3M1073.5 136.5v2.3M1074.5 115.7v2.3M1074.5 129.6v2.3M1074.5 131.9v2.3M1075.5 120.3v2.3M1075.5 127.2v2.3M1075.5 134.2v2.3M1076.5 122.6v2.3M1076.5 127.2v2.3M1076.5 129.6v2.3M1076.5 141.1v2.3M1077.5 115.7v2.3M1077.5 122.6v2.3M1077.5 129.6v2.3M1077.5 131.9v2.3M1078.5 127.2v2.3M1078.5 131.9v2.3M1078.5 136.5v2.3M1078.5 138.8v2.3M1078.5 141.1v2.3M1079.5 120.3v2.3M1079.5 122.6v2.3M1079.5 136.5v2.3M1080.5 118v2.3M1080.5 120.3v2.3M1080.5 122.6v2.3M1080.5 129.6v2.3M1080.5 136.5v2.3M1081.5 127.2v2.3M1082.5 115.7v2.3M1082.5 118v2.3M1082.5 124.9v2.3M1082.5 127.2v2.3M1082.5 136.5v2.3M1083.5 127.2v2.3M1083.5 131.9v2.3M1083.5 134.2v2.3M1084.5 120.3v2.3M1084.5 122.6v2.3M1084.5 145.7v2.3M1085.5 115.7v2.3M1085.5 127.2v2.3M1085.5 134.2v2.3M1086.5 115.7v2.3M1086.5 118v2.3M1086.5 129.6v2.3M1087.5 115.7v2.3M1087.5 120.3v2.3M1087.5 122.6v2.3M1087.5 124.9v2.3M1087.5 131.9v2.3M1088.5 120.3v2.3M1088.5 141.1v2.3M1089.5 122.6v2.3M1090.5 115.7v2.3M1090.5 118v2.3M1090.5 131.9v2.3M1091.5 115.7v2.3M1091.5 120.3v2.3M1091.5 124.9v2.3M1091.5 129.6v2.3M1091.5 136.5v2.3M1092.5 124.9v2.3M1092.5 127.2v2.3M1092.5 141.1v2.3M1093.5 115.7v2.3M1093.5 120.3v2.3M1093.5 127.2v2.3M1093.5 129.6v2.3M1093.5 131.9v2.3M1094.5 115.7v2.3M1094.5 124.9v2.3M1094.5 129.6v2.3M1094.5 134.2v2.3M1094.5 136.5v2.3M1095.5 120.3v2.3M1095.5 124.9v2.3M1095.5 129.6v2.3M1095.5 136.5v2.3M1095.5 138.8v2.3M1096.5 120.3v2.3M1096.5 124.9v2.3M1096.5 127.2v2.3M1096.5 129.6v2.3M1097.5 115.7v2.3M1097.5 118v2.3M1097.5 124.9v2.3M1097.5 127.2v2.3M1098.5 124.9v2.3M1099.5 122.6v2.3M1099.5 136.5v2.3M1099.5 138.8v2.3M1100.5 124.9v2.3M1100.5 134.2v2.3M1100.5 138.8v2.3M1101.5 115.7v2.3M1101.5 118v2.3M1101.5 134.2v2.3M1101.5 136.5v2.3M1102.5 115.7v2.3M1102.5 127.2v2.3M1102.5 134.2v2.3M1103.5 115.7v2.3M1103.5 122.6v2.3M1103.5 131.9v2.3M1103.5 136.5v2.3M1104.5 115.7v2.3M1104.5 124.9v2.3M1104.5 127.2v2.3M1104.5 138.8v2.3M1105.5 115.7v2.3M1105.5 118v2.3M1105.5 127.2v2.3M1105.5 129.6v2.3M1106.5 115.7v2.3M1106.5 124.9v2.3M1106.5 129.6v2.3M1106.5 131.9v2.3M1106.5 136.5v2.3M1107.5 115.7v2.3M1107.5 122.6v2.3M1107.5 141.1v2.3M1108.5 118v2.3M1108.5 122.6v2.3M1108.5 138.8v2.3M1109.5 129.6v2.3M1109.5 131.9v2.3M1109.5 136.5v2.3M1110.5 118v2.3M1110.5 122.6v2.3M1111.5 115.7v2.3M1111.5 118v2.3M1111.5 124.9v2.3M1111.5 136.5v2.3M1111.5 138.8v2.3M1112.5 115.7v2.3M1112.5 124.9v2.3M1112.5 134.2v2.3M1113.5 124.9v2.3M1113.5 129.6v2.3M1113.5 134.2v2.3M1114.5 115.7v2.3M1114.5 127.2v2.3M1114.5 129.6v2.3M1114.5 134.2v2.3M1115.5 118v2.3M1115.5 124.9v2.3M1115.5 127.2v2.3M1115.5 136.5v2.3M1116.5 115.7v2.3M1116.5 120.3v2.3M1116.5 122.6v2.3M1116.5 127.2v2.3M1116.5 129.6v2.3M1117.5 129.6v2.3M1118.5 122.6v2.3M1118.5 134.2v2.3M1119.5 115.7v2.3M1119.5 124.9v2.3M1120.5 115.7v2.3M1120.5 124.9v2.3M1120.5 131.9v2.3M1120.5 136.5v2.3M1121.5 118v2.3M1121.5 120.3v2.3M1121.5 127.2v2.3M1121.5 129.6v2.3M1121.5 131.9v2.3M1121.5 138.8v2.3" stroke="#ff00ff"/>
<path d="M669.5 122.6v2.3M669.5 136.5v2.3M669.5 143.4v2.3M669.5 145.7v2.3M670.5 127.2v2.3M670.5 141.1v2.3M670.5 143.4v2.3M670.5 145.7v2.3M671.5 118v2.3M671.5 127.2v2.3M671.5 145.7v2.3M671.5 148v2.3M672.5 124.9v2.3M673.5 127.2v2.3M673.5 136.5v2.3M673.5 143.4v2.3M674.5 129.6v2.3M675.5 124.9v2.3M675.5 131.9v2.3M675.5 141.1v2.3M676.5 118v2.3M676.5 136.5v2.3M677.5 118v2.3M677.5 134.2v2.3M677.5 143.4v2.3M677.5 148v2.3M678.5 124.9v2.3M678.5 138.8v2.3M678.5 145.7v2.3M679.5 129.6v2.3M679.5 136.5v2.3M679.5 138.8v2.3M679.5 145.7v2.3M680.5 134.2v2.3M680.5 138.8v2.3M680.5 143.4v2.3M681.5 120.3v2.3M681.5 122.6v2.3M681.5 127.2v2.3M681.5 129.6v2.3M681.5 136.5v2.3M681.5 143.4v2.3M681.5 145.7v2.3M682.5 134.2v2.3M683.5 124.9v2.3M683.5 138.8v2.3M683.5 143.4v2.3M683.5 148v2.3M684.5 120.3v2.3M684.5 141.1v2.3M684.5 143.4v2.3M684.5 145.7v2.3M685.5 129.6v2.3M685.5 138.8v2.3M686.5 138.8v2.3M686.5 141.1v2.3M687.5 122.6v2.3M687.5 143.4v2.3M687.5 148v2.3M688.5 127.2v2.3M688.5 143.4v2.3M689.5 138.8v2.3M689.5 143.4v2.3M689.5 148v2.3M690.5 129.6v2.3M690.5 131.9v2.3M690.5 134.2v2.3M690.5 141.1v2.3M690.5 143.4v2.3M691.5 145.7v2.3M692.5 127.2v2.3M692.5 141.1v2.3M692.5 145.7v2.3M693.5 131.9v2.3M693.5 134.2v2.3M693.5 145.7v2.3M694.5 134.2v2.3M694.5 136.5v2.3M695.5 129.6v2.3M695.5 136.5v2.3M696.5 131.9v2.3M696.5 134.2v2.3M696.5 141.1v2.3M697.5 120.3v2.3M697.5 122.6v2.3M697.5 141.1v2.3M698.5 115.7v2.3M698.5 124.9v2.3M698.5 129.6v2.3M698.5 141.1v2.3M699.5 120.3v2.3M699.5 124.9v2.3M699.5 134.2v2.3M699.5 138.8v2.3M699.5 141.1v2.3M700.5 129.6v2.3M700.5 134.2v2.3M700.5 136.5v2.3M700.5 138.8v2.3M700.5 141.1v2.3M700.5 143.4v2.3M701.5 122.6v2.3M701.5 129.6v2.3M701.5 134.2v2.3M701.5 136.5v2.3M701.5 143.4v2.3M702.5 124.9v2.3M702.5 136.5v2.3M702.5 143.4v2.3M702.5 145.7v2.3M703.5 120.3v2.3M703.5 129.6v2.3M703.5 134.2v2.3M703.5 138.8v2.3M703.5 141.1v2.3M704.5 131.9v2.3M704.5 136.5v2.3M704.5 145.7v2.3M705.5 122.6v2.3M705.5 131.9v2.3M705.5 134.2v2.3M705.5 136.5v2.3M706.5 118v2.3M706.5 127.2v2.3M706.5 136.5v2.3M706.5 138.8v2.3M706.5 143.4v2.3M707.5 124.9v2.3M707.5 127.2v2.3M707.5 134.2v2.3M707.5 136.5v2.3M707.5 138.8v2.3M707.5 143.4v2.3M707.5 145.7v2.3M707.5 148v2.3M708.5 129.6v2.3M708.5 138.8v2.3M709.5 134.2v2.3M709.5 141.1v2.3M711.5 134.2v2.3M711.5 138.8v2.3M711.5 143.4v2.3M712.5 134.2v2.3M712.5 141.1v2.3M713.5 129.6v2.3M713.5 145.7v2.3M713.5 148v2.3M714.5 120.3v2.3M714.5 129.6v2.3M714.5 131.9v2.3M714.5 141.1v2.3M714.5 143.4v2.3M714.5 145.7v2.3M715.5 131.9v2.3M715.5 138.8v2.3M715.5 141.1v2.3M716.5 127.2v2.3M716.5 134.2v2.3M716.5 136.5v2.3M716.5 141.1v2.3M716.5 145.7v2.3M717.5 120.3v2.3M717.5 129.6v2.3M717.5 131.9v2.3M717.5 136.5v2.3M717.5 138.8v2.3M717.5 141.1v2.3M717.5 143.4v2.3M718.5 134.2v2.3M719.5 143.4v2.3M720.5 143.4v2.3M721.5 118v2.3M721.5 134.2v2.3M721.5 138.8v2.3M721.5 143.4v2.3M722.5 124.9v2.3M723.5 141.1v2.3M723.5 143.4v2.3M723.5 145.7v2.3M723.5 148v2.3M724.5 122.6v2.3M724.5 129.6v2.3M724.5 143.4v2.3M725.5 131.9v2.3M725.5 143.4v2.3M726.5 120.3v2.3M726.5 129.6v2.3M726.5 145.7v2.3M727.5 127.2v2.3M727.5 129.6v2.3M727.5 138.8v2.3M727.5 141.1v2.3M728.5 120.3v2.3M728.5 124.9v2.3M728.5 136.5v2.3M728.5 143.4v2.3M728.5 145.7v2.3M729.5 134.2v2.3M729.5 143.4v2.3M730.5 122.6v2.3M730.5 131.9v2.3M730.5 143.4v2.3M730.5 145.7v2.3M730.5 148v2.3M731.5 122.6v2.3M731.5 136.5v2.3M732.5 120.3v2.3M732.5 127.2v2.3M732.5 129.6v2.3M732.5 134.2v2.3M732.5 141.1v2.3M732.5 145.7v2.3M733.5 136.5v2.3M733.5 141.1v2.3M733.5 143.4v2.3M733.5 148v2.3M734.5 129.6v2.3M734.5 141.1v2.3M734.5 145.7v2.3M735.5 127.2v2.3M735.5 134.2v2.3M735.5 136.5v2.3M735.5 138.8v2.3M735.5 148v2.3M736.5 131.9v2.3M736.5 134.2v2.3M736.5 143.4v2.3M737.5 129.6v2.3M737.5 136.5v2.3M737.5 138.8v2.3M737.5 141.1v2.3M737.5 143.4v2.3M738.5 120.3v2.3M738.5 131.9v2.3M738.5 138.8v2.3M738.5 143.4v2.3M738.5 145.7v2.3M739.5 124.9v2.3M739.5 136.5v2.3M739.5 138.8v2.3M739.5 141.1v2.3M740.5 129.6v2.3M740.5 134.2v2.3M741.5 124.9v2.3M741.5 129.6v2.3M741.5 138.8v2.3M741.5 148v2.3M742.5 136.5v2.3M742.5 138.8v2.3M742.5 143.4v2.3M742.5 145.7v2.3M743.5 129.6v2.3M743.5 134.2v2.3M743.5 136.5v2.3M743.5 141.1v2.3M744.5 127.2v2.3M744.5 131.9v2.3M744.5 134.2v2.3M744.5 141.1v2.3M744.5 143.4v2.3M745.5 120.3v2.3M745.5 134.2v2.3M745.5 136.5v2.3M745.5 141.1v2.3M745.5 148v2.3M746.5 127.2v2.3M746.5 129.6v2.3M746.5 148v2.3M747.5 124.9v2.3M747.5 127.2v2.3M747.5 129.6v2.3M747.5 138.8v2.3M747.5 145.7v2.3M748.5 138.8v2.3M749.5 129.6v2.3M749.5 131.9v2.3M749.5 134.2v2.3M749.5 141.1v2.3M749.5 143.4v2.3M750.5 127.2v2.3M750.5 131.9v2.3M750.5 143.4v2.3M750.5 148v2.3M751.5 129.6v2.3M751.5 131.9v2.3M751.5 134.2v2.3M751.5 138.8v2.3M751.5 143.4v2.3M751.5 148v2.3M752.5 145.7v2.3M752.5 148v2.3M753.5 120.3v2.3M753.5 131.9v2.3M753.5 143.4v2.3M753.5 145.7v2.3M754.5 124.9v2.3M754.5 127.2v2.3M754.5 138.8v2.3M754.5 141.1v2.3M754.5 143.4v2.3M755.5 120.3v2.3M755.5 138.8v2.3M755.5 148v2.3M756.5 129.6v2.3M756.5 138.8v2.3M757.5 143.4v2.3M757.5 148v2.3M758.5 118v2.3M758.5 120.3v2.3M758.5 131.9v2.3M758.5 138.8v2.3M758.5 141.1v2.3M759.5 122.6v2.3M759.5 127.2v2.3M759.5 138.8v2.3M760.5 143.4v2.3M761.5 124.9v2.3M761.5 136.5v2.3M761.5 138.8v2.3M761.5 148v2.3M762.5 122.6v2.3M762.5 129.6v2.3M762.5 136.5v2.3M762.5 143.4v2.3M763.5 115.7v2.3M763.5 127.2v2.3M763.5 136.5v2.3M763.5 143.4v2.3M763.5 145.7v2.3M764.5 145.7v2.3M765.5 124.9v2.3M765.5 129.6v2.3M765.5 138.8v2.3M766.5 122.6v2.3M766.5 136.5v2.3M766.5 138.8v2.3M766.5 141.1v2.3M766.5 143.4v2.3M767.5 115.7v2.3M767.5 138.8v2.3M767.5 145.7v2.3M768.5 134.2v2.3M768.5 136.5v2.3M768.5 138.8v2.3M768.5 143.4v2.3M768.5 145.7v2.3M768.5 148v2.3M769.5 129.6v2.3M769.5 141.1v2.3M770.5 118v2.3M770.5 131.9v2.3M770.5 138.8v2.3M770.5 143.4v2.3M770.5 145.7v2.3M770.5 148v2.3M771.5 115.7v2.3M771.5 131.9v2.3M771.5 141.1v2.3M771.5 143.4v2.3M771.5 148v2.3M772.5 122.6v2.3M772.5 134.2v2.3M772.5 143.4v2.3M773.5 141.1v2.3M773.5 143.4v2.3M774.5 136.5v2.3M774.5 143.4v2.3M774.5 148v2.3M775.5 129.6v2.3M775.5 131.9v2.3M775.5 136.5v2.3M775.5 141.1v2.3M776.5 120.3v2.3M776.5 124.9v2.3M776.5 134.2v2.3M776.5 136.5v2.3M776.5 143.4v2.3M776.5 145.7v2.3M777.5 136.5v2.3M777.5 141.1v2.3M778.5 118v2.3M778.5 129.6v2.3M778.5 143.4v2.3M778.5 145.7v2.3M779.5 120.3v2.3M779.5 129.6v2.3M779.5 131.9v2.3M779.5 134.2v2.3M779.5 145.7v2.3M780.5 120.3v2.3M780.5 134.2v2.3M780.5 141.1v2.3M780.5 143.4v2.3M780.5 145.7v2.3M781.5 134.2v2.3M781.5 138.8v2.3M781.5 143.4v2.3M782.5 124.9v2.3M782.5 129.6v2.3M782.5 131.9v2.3M782.5 134.2v2.3M782.5 138.8v2.3M782.5 141.1v2.3M782.5 143.4v2.3M783.5 138.8v2.3M784.5 143.4v2.3M784.5 145.7v2.3M784.5 148v2.3M785.5 134.2v2.3M785.5 136.5v2.3M785.5 138.8v2.3M785.5 143.4v2.3M786.5 131.9v2.3M786.5 141.1v2.3M788.5 122.6v2.3M788.5 127.2v2.3M788.5 138.8v2.3M789.5 124.9v2.3M789.5 134.2v2.3M789.5 138.8v2.3M789.5 148v2.3M790.5 122.6v2.3M790.5 136.5v2.3M791.5 122.6v2.3M791.5 136.5v2.3M792.5 120.3v2.3M792.5 124.9v2.3M792.5 134.2v2.3M792.5 143.4v2.3M792.5 145.7v2.3M793.5 138.8v2.3M793.5 141.1v2.3M794.5 115.7v2.3M794.5 120.3v2.3M794.5 129.6v2.3M794.5 131.9v2.3M794.5 136.5v2.3M794.5 141.1v2.3M795.5 134.2v2.3M795.5 143.4v2.3M795.5 145.7v2.3M795.5 148v2.3M796.5 141.1v2.3M796.5 145.7v2.3M797.5 131.9v2.3M797.5 136.5v2.3M797.5 143.4v2.3M798.5 131.9v2.3M798.5 134.2v2.3M798.5 145.7v2.3M799.5 120.3v2.3M799.5 136.5v2.3M800.5 118v2.3M800.5 145.7v2.3M800.5 148v2.3M801.5 129.6v2.3M801.5 138.8v2.3M801.5 145.7v2.3M802.5 131.9v2.3M802.5 136.5v2.3M802.5 141.1v2.3M802.5 145.7v2.3M802.5 148v2.3M803.5 134.2v2.3M803.5 138.8v2.3M803.5 141.1v2.3M804.5 120.3v2.3M804.5 129.6v2.3M804.5 143.4v2.3M805.5 127.2v2.3M805.5 134.2v2.3M805.5 143.4v2.3M806.5 115.7v2.3M807.5 122.6v2.3M807.5 127.2v2.3M807.5 134.2v2.3M807.5 136.5v2.3M808.5 127.2v2.3M808.5 138.8v2.3M808.5 141.1v2.3M809.5 131.9v2.3M809.5 136.5v2.3M809.5 138.8v2.3M810.5 134.2v2.3M810.5 145.7v2.3M811.5 115.7v2.3M811.5 122.6v2.3M811.5 138.8v2.3M812.5 131.9v2.3M812.5 136.5v2.3M812.5 143.4v2.3M812.5 148v2.3M813.5 122.6v2.3M813.5 138.8v2.3M813.5 143.4v2.3M814.5 136.5v2.3M814.5 138.8v2.3M814.5 143.4v2.3M814.5 148v2.3M815.5 115.7v2.3M815.5 120.3v2.3M815.5 127.2v2.3M815.5 134.2v2.3M815.5 141.1v2.3M816.5 124.9v2.3M816.5 131.9v2.3M816.5 134.2v2.3M816.5 141.1v2.3M817.5 124.9v2.3M817.5 143.4v2.3M817.5 145.7v2.3M818.5 115.7v2.3M818.5 131.9v2.3M818.5 145.7v2.3M819.5 129.6v2.3M819.5 136.5v2.3M819.5 138.8v2.3M819.5 141.1v2.3M819.5 145.7v2.3M820.5 115.7v2.3M820.5 120.3v2.3M820.5 124.9v2.3M820.5 127.2v2.3M820.5 138.8v2.3M820.5 141.1v2.3M820.5 143.4v2.3M820.5 145.7v2.3M821.5 127.2v2.3M821.5 148v2.3M822.5 118v2.3M822.5 131.9v2.3M822.5 141.1v2.3M822.5 143.4v2.3M823.5 129.6v2.3M823.5 136.5v2.3M823.5 141.1v2.3M823.5 145.7v2.3M823.5 148v2.3M824.5 129.6v2.3M824.5 136.5v2.3M824.5 138.8v2.3M824.5 145.7v2.3M825.5 136.5v2.3M825.5 138.8v2.3M825.5 145.7v2.3M825.5 148v2.3M826.5 115.7v2.3M826.5 138.8v2.3M827.5 129.6v2.3M827.5 145.7v2.3M827.5 148v2.3M828.5 124.9v2.3M828.5 134.2v2.3M828.5 141.1v2.3M828.5 143.4v2.3M829.5 131.9v2.3M829.5 134.2v2.3M829.5 136.5v2.3M829.5 138.8v2.3M829.5 143.4v2.3M830.5 131.9v2.3M830.5 141.1v2.3M830.5 143.4v2.3M831.5 129.6v2.3M831.5 134.2v2.3M831.5 136.5v2.3M831.5 138.8v2.3M832.5 134.2v2.3M832.5 136.5v2.3M832.5 138.8v2.3M833.5 134.2v2.3M834.5 138.8v2.3M834.5 143.4v2.3M834.5 148v2.3M835.5 134.2v2.3M835.5 136.5v2.3M835.5 138.8v2.3M836.5 143.4v2.3M837.5 136.5v2.3M837.5 143.4v2.3M837.5 145.7v2.3M838.5 115.7v2.3M838.5 120.3v2.3M838.5 127.2v2.3M838.5 138.8v2.3M838.5 143.4v2.3M838.5 148v2.3M839.5 124.9v2.3M839.5 129.6v2.3M839.5 131.9v2.3M839.5 136.5v2.3M839.5 138.8v2.3M839.5 141.1v2.3M840.5 122.6v2.3M840.5 138.8v2.3M840.5 143.4v2.3M841.5 141.1v2.3M841.5 143.4v2.3M842.5 134.2v2.3M842.5 138.8v2.3M843.5 143.4v2.3M843.5 145.7v2.3M844.5 115.7v2.3M844.5 122.6v2.3M844.5 143.4v2.3M845.5 122.6v2.3M845.5 127.2v2.3M845.5 129.6v2.3M845.5 131.9v2.3M845.5 134.2v2.3M845.5 138.8v2.3M845.5 143.4v2.3M846.5 136.5v2.3M846.5 145.7v2.3M847.5 120.3v2.3M847.5 127.2v2.3M847.5 129.6v2.3M847.5 134.2v2.3M847.5 141.1v2.3M847.5 143.4v2.3M848.5 127.2v2.3M848.5 136.5v2.3M848.5 138.8v2.3M849.5 131.9v2.3M849.5 134.2v2.3M849.5 141.1v2.3M850.5 131.9v2.3M850.5 134.2v2.3M850.5 141.1v2.3M850.5 145.7v2.3M850.5 148v2.3M851.5 115.7v2.3M851.5 138.8v2.3M851.5 143.4v2.3M852.5 115.7v2.3M852.5 131.9v2.3M852.5 136.5v2.3M852.5 143.4v2.3M853.5 120.3v2.3M853.5 134.2v2.3M853.5 136.5v2.3M853.5 138.8v2.3M853.5 141.1v2.3M853.5 143.4v2.3M854.5 124.9v2.3M854.5 131.9v2.3M854.5 134.2v2.3M854.5 143.4v2.3M855.5 122.6v2.3M855.5 131.9v2.3M855.5 138.8v2.3M855.5 143.4v2.3M855.5 145.7v2.3M856.5 124.9v2.3M856.5 134.2v2.3M856.5 141.1v2.3M856.5 145.7v2.3M857.5 129.6v2.3M858.5 134.2v2.3M858.5 141.1v2.3M859.5 122.6v2.3M859.5 134.2v2.3M859.5 145.7v2.3M860.5 134.2v2.3M860.5 136.5v2.3M860.5 138.8v2.3M860.5 143.4v2.3M860.5 145.7v2.3M861.5 124.9v2.3M861.5 129.6v2.3M861.5 134.2v2.3M861.5 136.5v2.3M861.5 138.8v2.3M862.5 120.3v2.3M862.5 124.9v2.3M862.5 134.2v2.3M862.5 141.1v2.3M862.5 143.4v2.3M863.5 115.7v2.3M863.5 118v2.3M863.5 122.6v2.3M863.5 134.2v2.3M863.5 141.1v2.3M863.5 143.4v2.3M864.5 115.7v2.3M864.5 127.2v2.3M864.5 129.6v2.3M864.5 134.2v2.3M864.5 143.4v2.3M864.5 145.7v2.3M865.5 127.2v2.3M865.5 136.5v2.3M865.5 143.4v2.3M866.5 134.2v2.3M866.5 141.1v2.3M867.5 148v2.3M868.5 131.9v2.3M868.5 138.8v2.3M868.5 141.1v2.3M869.5 141.1v2.3M869.5 143.4v2.3M869.5 145.7v2.3M870.5 124.9v2.3M870.5 134.2v2.3M870.5 136.5v2.3M870.5 145.7v2.3M871.5 118v2.3M871.5 129.6v2.3M871.5 136.5v2.3M871.5 138.8v2.3M871.5 143.4v2.3M871.5 145.7v2.3M872.5 120.3v2.3M872.5 129.6v2.3M872.5 134.2v2.3M873.5 131.9v2.3M874.5 131.9v2.3M874.5 134.2v2.3M874.5 145.7v2.3M875.5 127.2v2.3M875.5 134.2v2.3M875.5 148v2.3M876.5 131.9v2.3M876.5 136.5v2.3M876.5 141.1v2.3M876.5 143.4v2.3M877.5 122.6v2.3M877.5 127.2v2.3M877.5 131.9v2.3M877.5 134.2v2.3M877.5 141.1v2.3M878.5 122.6v2.3M878.5 131.9v2.3M878.5 136.5v2.3M878.5 143.4v2.3M878.5 148v2.3M879.5 118v2.3M879.5 134.2v2.3M879.5 143.4v2.3M880.5 131.9v2.3M880.5 136.5v2.3M880.5 143.4v2.3M881.5 131.9v2.3M881.5 134.2v2.3M881.5 136.5v2.3M881.5 138.8v2.3M882.5 127.2v2.3M882.5 141.1v2.3M882.5 148v2.3M883.5 122.6v2.3M883.5 131.9v2.3M883.5 134.2v2.3M883.5 138.8v2.3M884.5 118v2.3M884.5 131.9v2.3M884.5 134.2v2.3M884.5 136.5v2.3M884.5 138.8v2.3M884.5 141.1v2.3M884.5 143.4v2.3M884.5 145.7v2.3M885.5 122.6v2.3M885.5 136.5v2.3M885.5 141.1v2.3M885.5 145.7v2.3M885.5 148v2.3M886.5 124.9v2.3M886.5 129.6v2.3M886.5 131.9v2.3M886.5 145.7v2.3M886.5 148v2.3M887.5 124.9v2.3M887.5 138.8v2.3M887.5 145.7v2.3M888.5 127.2v2.3M888.5 131.9v2.3M888.5 134.2v2.3M888.5 136.5v2.3M888.5 138.8v2.3M888.5 143.4v2.3M888.5 145.7v2.3M888.5 148v2.3M889.5 122.6v2.3M889.5 127.2v2.3M889.5 131.9v2.3M889.5 138.8v2.3M889.5 141.1v2.3M890.5 127.2v2.3M890.5 129.6v2.3M890.5 134.2v2.3M890.5 136.5v2.3M890.5 143.4v2.3M891.5 120.3v2.3M891.5 127.2v2.3M891.5 141.1v2.3M891.5 143.4v2.3M892.5 124.9v2.3M892.5 129.6v2.3M892.5 138.8v2.3M892.5 143.4v2.3M893.5 131.9v2.3M893.5 141.1v2.3M893.5 143.4v2.3M893.5 145.7v2.3M894.5 131.9v2.3M894.5 138.8v2.3M894.5 143.4v2.3M894.5 145.7v2.3M894.5 148v2.3M895.5 134.2v2.3M895.5 136.5v2.3M895.5 138.8v2.3M896.5 118v2.3M896.5 129.6v2.3M896.5 145.7v2.3M897.5 120.3v2.3M897.5 122.6v2.3M897.5 138.8v2.3M897.5 141.1v2.3M897.5 148v2.3M898.5 127.2v2.3M898.5 129.6v2.3M898.5 131.9v2.3M898.5 134.2v2.3M898.5 138.8v2.3M898.5 148v2.3M899.5 122.6v2.3M899.5 138.8v2.3M899.5 148v2.3M900.5 118v2.3M900.5 136.5v2.3M901.5 127.2v2.3M901.5 129.6v2.3M901.5 134.2v2.3M902.5 141.1v2.3M902.5 143.4v2.3M902.5 148v2.3M903.5 115.7v2.3M903.5 134.2v2.3M903.5 138.8v2.3M903.5 141.1v2.3M903.5 145.7v2.3M904.5 120.3v2.3M904.5 131.9v2.3M904.5 136.5v2.3M904.5 138.8v2.3M904.5 141.1v2.3M904.5 145.7v2.3M905.5 122.6v2.3M905.5 131.9v2.3M905.5 143.4v2.3M906.5 134.2v2.3M906.5 136.5v2.3M906.5 138.8v2.3M906.5 141.1v2.3M906.5 143.4v2.3M906.5 145.7v2.3M907.5 136.5v2.3M907.5 143.4v2.3M908.5 138.8v2.3M908.5 148v2.3M909.5 120.3v2.3M909.5 129.6v2.3M909.5 131.9v2.3M910.5 141.1v2.3M910.5 145.7v2.3M911.5 124.9v2.3M911.5 131.9v2.3M911.5 134.2v2.3M911.5 136.5v2.3M911.5 143.4v2.3M911.5 145.7v2.3M912.5 136.5v2.3M912.5 141.1v2.3M912.5 143.4v2.3M912.5 145.7v2.3M913.5 122.6v2.3M913.5 138.8v2.3M913.5 141.1v2.3M913.5 148v2.3M914.5 115.7v2.3M914.5 141.1v2.3M914.5 143.4v2.3M915.5 120.3v2.3M915.5 131.9v2.3M915.5 134.2v2.3M915.5 138.8v2.3M915.5 145.7v2.3M915.5 148v2.3M916.5 134.2v2.3M916.5 136.5v2.3M916.5 138.8v2.3M917.5 124.9v2.3M917.5 129.6v2.3M917.5 131.9v2.3M917.5 136.5v2.3M917.5 138.8v2.3M917.5 141.1v2.3M918.5 127.2v2.3M918.5 129.6v2.3M918.5 134.2v2.3M919.5 124.9v2.3M919.5 138.8v2.3M919.5 141.1v2.3M919.5 145.7v2.3M920.5 120.3v2.3M920.5 124.9v2.3M920.5 127.2v2.3M920.5 131.9v2.3M920.5 134.2v2.3M920.5 136.5v2.3M920.5 138.8v2.3M920.5 141.1v2.3M920.5 143.4v2.3M921.5 129.6v2.3M921.5 134.2v2.3M921.5 141.1v2.3M921.5 145.7v2.3M922.5 127.2v2.3M922.5 129.6v2.3M922.5 131.9v2.3M922.5 134.2v2.3M922.5 136.5v2.3M922.5 141.1v2.3M922.5 143.4v2.3M922.5 145.7v2.3M923.5 122.6v2.3M923.5 124.9v2.3M923.5 129.6v2.3M923.5 134.2v2.3M923.5 138.8v2.3M923.5 148v2.3M924.5 118v2.3M924.5 129.6v2.3M924.5 131.9v2.3M924.5 138.8v2.3M924.5 141.1v2.3M924.5 143.4v2.3M924.5 145.7v2.3M924.5 148v2.3M925.5 134.2v2.3M925.5 136.5v2.3M925.5 143.4v2.3M925.5 145.7v2.3M925.5 148v2.3M926.5 118v2.3M926.5 129.6v2.3M926.5 131.9v2.3M926.5 136.5v2.3M926.5 143.4v2.3M927.5 124.9v2.3M927.5 131.9v2.3M927.5 134.2v2.3M927.5 141.1v2.3M927.5 145.7v2.3M928.5 122.6v2.3M928.5 136.5v2.3M928.5 141.1v2.3M929.5 118v2.3M929.5 120.3v2.3M929.5 131.9v2.3M929.5 141.1v2.3M929.5 143.4v2.3M930.5 120.3v2.3M930.5 124.9v2.3M930.5 131.9v2.3M930.5 136.5v2.3M930.5 145.7v2.3M931.5 134.2v2.3M931.5 138.8v2.3M931.5 141.1v2.3M931.5 143.4v2.3M931.5 148v2.3M932.5 134.2v2.3M932.5 138.8v2.3M932.5 141.1v2.3M932.5 143.4v2.3M933.5 129.6v2.3M933.5 134.2v2.3M933.5 143.4v2.3M933.5 145.7v2.3M934.5 131.9v2.3M934.5 136.5v2.3M934.5 138.8v2.3M934.5 141.1v2.3M935.5 136.5v2.3M936.5 131.9v2.3M936.5 134.2v2.3M936.5 141.1v2.3M936.5 143.4v2.3M937.5 115.7v2.3M937.5 124.9v2.3M937.5 136.5v2.3M937.5 138.8v2.3M937.5 141.1v2.3M937.5 148v2.3M938.5 115.7v2.3M938.5 122.6v2.3M938.5 131.9v2.3M938.5 136.5v2.3M938.5 141.1v2.3M938.5 145.7v2.3M939.5 124.9v2.3M939.5 136.5v2.3M939.5 138.8v2.3M939.5 143.4v2.3M940.5 131.9v2.3M940.5 134.2v2.3M940.5 138.8v2.3M940.5 141.1v2.3M940.5 145.7v2.3M941.5 129.6v2.3M941.5 134.2v2.3M941.5 143.4v2.3M941.5 148v2.3M942.5 129.6v2.3M942.5 141.1v2.3M942.5 145.7v2.3M943.5 136.5v2.3M943.5 143.4v2.3M944.5 134.2v2.3M944.5 141.1v2.3M944.5 143.4v2.3M944.5 145.7v2.3M945.5 136.5v2.3M945.5 141.1v2.3M945.5 143.4v2.3M945.5 148v2.3M946.5 148v2.3M947.5 122.6v2.3M947.5 129.6v2.3M947.5 134.2v2.3M947.5 138.8v2.3M948.5 122.6v2.3M948.5 127.2v2.3M948.5 129.6v2.3M948.5 136.5v2.3M948.5 138.8v2.3M948.5 143.4v2.3M948.5 145.7v2.3M949.5 115.7v2.3M949.5 129.6v2.3M949.5 131.9v2.3M950.5 115.7v2.3M950.5 124.9v2.3M950.5 129.6v2.3M950.5 131.9v2.3M950.5 134.2v2.3M951.5 122.6v2.3M951.5 124.9v2.3M952.5 136.5v2.3M952.5 138.8v2.3M952.5 141.1v2.3M953.5 122.6v2.3M953.5 129.6v2.3M953.5 134.2v2.3M953.5 148v2.3M954.5 115.7v2.3M954.5 127.2v2.3M954.5 129.6v2.3M954.5 131.9v2.3M954.5 134.2v2.3M954.5 136.5v2.3M954.5 138.8v2.3M954.5 141.1v2.3M954.5 145.7v2.3M954.5 148v2.3M955.5 122.6v2.3M955.5 124.9v2.3M955.5 138.8v2.3M955.5 145.7v2.3M956.5 118v2.3M956.5 124.9v2.3M956.5 136.5v2.3M956.5 141.1v2.3M957.5 120.3v2.3M957.5 131.9v2.3M957.5 141.1v2.3M957.5 143.4v2.3M958.5 127.2v2.3M958.5 143.4v2.3M959.5 122.6v2.3M959.5 124.9v2.3M959.5 129.6v2.3M959.5 131.9v2.3M959.5 141.1v2.3M959.5 145.7v2.3M959.5 148v2.3M960.5 127.2v2.3M960.5 134.2v2.3M960.5 136.5v2.3M960.5 148v2.3M961.5 122.6v2.3M961.5 124.9v2.3M961.5 129.6v2.3M961.5 138.8v2.3M961.5 143.4v2.3M961.5 145.7v2.3M962.5 122.6v2.3M962.5 134.2v2.3M962.5 143.4v2.3M963.5 131.9v2.3M963.5 138.8v2.3M963.5 141.1v2.3M963.5 148v2.3M964.5 118v2.3M964.5 124.9v2.3M964.5 127.2v2.3M964.5 131.9v2.3M965.5 124.9v2.3M965.5 127.2v2.3M965.5 131.9v2.3M965.5 134.2v2.3M965.5 143.4v2.3M966.5 120.3v2.3M966.5 138.8v2.3M966.5 141.1v2.3M967.5 122.6v2.3M967.5 141.1v2.3M967.5 145.7v2.3M968.5 115.7v2.3M968.5 129.6v2.3M968.5 134.2v2.3M968.5 141.1v2.3M968.5 143.4v2.3M969.5 115.7v2.3M969.5 118v2.3M969.5 127.2v2.3M969.5 131.9v2.3M969.5 141.1v2.3M970.5 124.9v2.3M970.5 127.2v2.3M970.5 129.6v2.3M970.5 138.8v2.3M970.5 148v2.3M971.5 115.7v2.3M971.5 118v2.3M971.5 122.6v2.3M971.5 127.2v2.3M971.5 138.8v2.3M971.5 141.1v2.3M972.5 115.7v2.3M972.5 124.9v2.3M972.5 129.6v2.3M972.5 131.9v2.3M972.5 141.1v2.3M972.5 143.4v2.3M973.5 127.2v2.3M973.5 136.5v2.3M974.5 120.3v2.3M974.5 122.6v2.3M974.5 136.5v2.3M974.5 145.7v2.3M975.5 122.6v2.3M975.5 131.9v2.3M975.5 138.8v2.3M975.5 141.1v2.3M975.5 145.7v2.3M976.5 115.7v2.3M976.5 124.9v2.3M976.5 136.5v2.3M977.5 122.6v2.3M977.5 134.2v2.3M977.5 136.5v2.3M977.5 143.4v2.3M978.5 115.7v2.3M978.5 127.2v2.3M978.5 129.6v2.3M978.5 131.9v2.3M978.5 134.2v2.3M978.5 141.1v2.3M978.5 145.7v2.3M979.5 129.6v2.3M979.5 145.7v2.3M980.5 122.6v2.3M980.5 127.2v2.3M980.5 131.9v2.3M980.5 136.5v2.3M980.5 141.1v2.3M980.5 145.7v2.3M981.5 115.7v2.3M981.5 124.9v2.3M981.5 129.6v2.3M981.5 131.9v2.3M981.5 136.5v2.3M981.5 138.8v2.3M981.5 141.1v2.3M981.5 143.4v2.3M981.5 145.7v2.3M982.5 115.7v2.3M982.5 141.1v2.3M982.5 145.7v2.3M983.5 131.9v2.3M983.5 134.2v2.3M983.5 136.5v2.3M984.5 127.2v2.3M984.5 138.8v2.3M984.5 141.1v2.3M985.5 129.6v2.3M985.5 136.5v2.3M985.5 138.8v2.3M985.5 141.1v2.3M986.5 129.6v2.3M986.5 131.9v2.3M986.5 138.8v2.3M986.5 141.1v2.3M987.5 120.3v2.3M987.5 134.2v2.3M987.5 138.8v2.3M987.5 141.1v2.3M988.5 122.6v2.3M988.5 129.6v2.3M988.5 138.8v2.3M988.5 143.4v2.3M989.5 118v2.3M989.5 122.6v2.3M989.5 143.4v2.3M990.5 118v2.3M990.5 141.1v2.3M990.5 143.4v2.3M990.5 145.7v2.3M991.5 134.2v2.3M991.5 136.5v2.3M991.5 138.8v2.3M991.5 143.4v2.3M991.5 145.7v2.3M992.5 120.3v2.3M992.5 127.2v2.3M992.5 136.5v2.3M992.5 138.8v2.3M992.5 143.4v2.3M993.5 122.6v2.3M993.5 124.9v2.3M993.5 134.2v2.3M993.5 136.5v2.3M993.5 138.8v2.3M993.5 141.1v2.3M993.5 143.4v2.3M994.5 124.9v2.3M994.5 127.2v2.3M994.5 134.2v2.3M994.5 138.8v2.3M994.5 145.7v2.3M995.5 115.7v2.3M995.5 120.3v2.3M995.5 131.9v2.3M995.5 138.8v2.3M995.5 141.1v2.3M996.5 136.5v2.3M996.5 138.8v2.3M996.5 141.1v2.3M996.5 145.7v2.3M997.5 115.7v2.3M997.5 131.9v2.3M998.5 118v2.3M998.5 127.2v2.3M998.5 138.8v2.3M998.5 148v2.3M999.5 115.7v2.3M999.5 129.6v2.3M999.5 136.5v2.3M999.5 138.8v2.3M999.5 141.1v2.3M999.5 143.4v2.3M1000.5 124.9v2.3M1000.5 127.2v2.3M1000.5 129.6v2.3M1000.5 131.9v2.3M1000.5 136.5v2.3M1000.5 138.8v2.3M1000.5 141.1v2.3M1000.5 145.7v2.3M1001.5 120.3v2.3M1001.5 129.6v2.3M1001.5 131.9v2.3M1001.5 134.2v2.3M1002.5 122.6v2.3M1002.5 127.2v2.3M1002.5 129.6v2.3M1002.5 134.2v2.3M1002.5 138.8v2.3M1002.5 141.1v2.3M1002.5 145.7v2.3M1003.5 124.9v2.3M1003.5 138.8v2.3M1004.5 118v2.3M1004.5 120.3v2.3M1004.5 127.2v2.3M1004.5 143.4v2.3M1004.5 148v2.3M1005.5 124.9v2.3M1005.5 136.5v2.3M1005.5 141.1v2.3M1006.5 131.9v2.3M1006.5 138.8v2.3M1007.5 122.6v2.3M1007.5 134.2v2.3M1007.5 141.1v2.3M1007.5 143.4v2.3M1008.5 129.6v2.3M1008.5 136.5v2.3M1009.5 127.2v2.3M1009.5 131.9v2.3M1009.5 134.2v2.3M1009.5 141.1v2.3M1009.5 143.4v2.3M1010.5 136.5v2.3M1010.5 143.4v2.3M1011.5 122.6v2.3M1011.5 131.9v2.3M1011.5 138.8v2.3M1011.5 141.1v2.3M1011.5 143.4v2.3M1011.5 145.7v2.3M1012.5 124.9v2.3M1012.5 129.6v2.3M1012.5 145.7v2.3M1013.5 120.3v2.3M1013.5 127.2v2.3M1013.5 134.2v2.3M1013.5 136.5v2.3M1013.5 143.4v2.3M1014.5 118v2.3M1014.5 124.9v2.3M1014.5 127.2v2.3M1014.5 138.8v2.3M1014.5 141.1v2.3M1015.5 122.6v2.3M1015.5 136.5v2.3M1015.5 138.8v2.3M1016.5 118v2.3M1016.5 129.6v2.3M1016.5 138.8v2.3M1017.5 129.6v2.3M1017.5 136.5v2.3M1017.5 145.7v2.3M1018.5 129.6v2.3M1018.5 134.2v2.3M1018.5 138.8v2.3M1018.5 143.4v2.3M1019.5 118v2.3M1019.5 129.6v2.3M1019.5 138.8v2.3M1019.5 143.4v2.3M1019.5 145.7v2.3M1020.5 118v2.3M1020.5 124.9v2.3M1020.5 129.6v2.3M1020.5 141.1v2.3M1021.5 134.2v2.3M1021.5 145.7v2.3M1022.5 124.9v2.3M1022.5 129.6v2.3M1022.5 138.8v2.3M1022.5 141.1v2.3M1022.5 145.7v2.3M1023.5 124.9v2.3M1023.5 131.9v2.3M1023.5 138.8v2.3M1024.5 129.6v2.3M1024.5 136.5v2.3M1024.5 138.8v2.3M1024.5 141.1v2.3M1024.5 145.7v2.3M1024.5 148v2.3M1025.5 115.7v2.3M1025.5 124.9v2.3M1025.5 143.4v2.3M1026.5 134.2v2.3M1026.5 143.4v2.3M1027.5 127.2v2.3M1027.5 148v2.3M1028.5 118v2.3M1028.5 129.6v2.3M1028.5 131.9v2.3M1028.5 136.5v2.3M1028.5 138.8v2.3M1028.5 141.1v2.3M1029.5 118v2.3M1029.5 134.2v2.3M1030.5 127.2v2.3M1030.5 136.5v2.3M1030.5 138.8v2.3M1030.5 143.4v2.3M1030.5 148v2.3M1031.5 118v2.3M1031.5 131.9v2.3M1031.5 148v2.3M1032.5 124.9v2.3M1032.5 127.2v2.3M1032.5 136.5v2.3M1032.5 138.8v2.3M1032.5 141.1v2.3M1033.5 129.6v2.3M1033.5 134.2v2.3M1033.5 136.5v2.3M1033.5 143.4v2.3M1034.5 118v2.3M1034.5 131.9v2.3M1034.5 134.2v2.3M1034.5 136.5v2.3M1034.5 141.1v2.3M1034.5 143.4v2.3M1034.5 148v2.3M1035.5 131.9v2.3M1035.5 134.2v2.3M1035.5 141.1v2.3M1036.5 122.6v2.3M1036.5 124.9v2.3M1036.5 134.2v2.3M1036.5 138.8v2.3M1036.5 143.4v2.3M1037.5 127.2v2.3M1037.5 131.9v2.3M1037.5 138.8v2.3M1037.5 141.1v2.3M1037.5 145.7v2.3M1038.5 120.3v2.3M1038.5 122.6v2.3M1038.5 129.6v2.3M1038.5 138.8v2.3M1039.5 120.3v2.3M1039.5 131.9v2.3M1039.5 134.2v2.3M1039.5 138.8v2.3M1039.5 143.4v2.3M1040.5 134.2v2.3M1040.5 143.4v2.3M1041.5 115.7v2.3M1041.5 141.1v2.3M1041.5 143.4v2.3M1042.5 120.3v2.3M1042.5 129.6v2.3M1042.5 136.5v2.3M1042.5 138.8v2.3M1042.5 141.1v2.3M1042.5 145.7v2.3M1043.5 120.3v2.3M1043.5 122.6v2.3M1043.5 129.6v2.3M1043.5 131.9v2.3M1043.5 134.2v2.3M1044.5 129.6v2.3M1044.5 131.9v2.3M1044.5 136.5v2.3M1044.5 145.7v2.3M1044.5 148v2.3M1045.5 124.9v2.3M1045.5 136.5v2.3M1045.5 138.8v2.3M1045.5 141.1v2.3M1045.5 143.4v2.3M1045.5 148v2.3M1046.5 127.2v2.3M1046.5 138.8v2.3M1046.5 143.4v2.3M1047.5 120.3v2.3M1047.5 136.5v2.3M1047.5 138.8v2.3M1047.5 141.1v2.3M1047.5 143.4v2.3M1047.5 145.7v2.3M1048.5 134.2v2.3M1048.5 138.8v2.3M1048.5 141.1v2.3M1048.5 143.4v2.3M1049.5 118v2.3M1049.5 120.3v2.3M1049.5 127.2v2.3M1049.5 134.2v2.3M1049.5 136.5v2.3M1049.5 148v2.3M1050.5 134.2v2.3M1050.5 136.5v2.3M1050.5 143.4v2.3M1050.5 145.7v2.3M1051.5 122.6v2.3M1051.5 127.2v2.3M1051.5 136.5v2.3M1051.5 138.8v2.3M1051.5 143.4v2.3M1051.5 145.7v2.3M1052.5 120.3v2.3M1052.5 127.2v2.3M1052.5 134.2v2.3M1052.5 136.5v2.3M1052.5 138.8v2.3M1052.5 141.1v2.3M1052.5 145.7v2.3M1053.5 124.9v2.3M1053.5 127.2v2.3M1053.5 129.6v2.3M1053.5 131.9v2.3M1053.5 136.5v2.3M1053.5 138.8v2.3M1053.5 141.1v2.3M1053.5 145.7v2.3M1054.5 136.5v2.3M1054.5 141.1v2.3M1054.5 145.7v2.3M1055.5 134.2v2.3M1055.5 136.5v2.3M1055.5 145.7v2.3M1055.5 148v2.3M1056.5 115.7v2.3M1056.5 131.9v2.3M1056.5 143.4v2.3M1056.5 148v2.3M1057.5 122.6v2.3M1057.5 129.6v2.3M1057.5 134.2v2.3M1057.5 138.8v2.3M1057.5 141.1v2.3M1058.5 118v2.3M1058.5 134.2v2.3M1058.5 136.5v2.3M1058.5 141.1v2.3M1059.5 115.7v2.3M1059.5 124.9v2.3M1059.5 131.9v2.3M1059.5 141.1v2.3M1059.5 143.4v2.3M1060.5 118v2.3M1060.5 131.9v2.3M1060.5 134.2v2.3M1060.5 141.1v2.3M1061.5 127.2v2.3M1061.5 129.6v2.3M1061.5 131.9v2.3M1061.5 145.7v2.3M1062.5 131.9v2.3M1062.5 134.2v2.3M1062.5 136.5v2.3M1062.5 145.7v2.3M1063.5 141.1v2.3M1063.5 143.4v2.3M1063.5 145.7v2.3M1063.5 148v2.3M1064.5 120.3v2.3M1064.5 127.2v2.3M1064.5 143.4v2.3M1065.5 118v2.3M1065.5 120.3v2.3M1065.5 124.9v2.3M1065.5 141.1v2.3M1065.5 143.4v2.3M1065.5 148v2.3M1066.5 122.6v2.3M1066.5 127.2v2.3M1066.5 136.5v2.3M1066.5 141.1v2.3M1066.5 148v2.3M1067.5 131.9v2.3M1067.5 134.2v2.3M1067.5 145.7v2.3M1068.5 120.3v2.3M1068.5 122.6v2.3M1068.5 124.9v2.3M1068.5 129.6v2.3M1068.5 131.9v2.3M1068.5 136.5v2.3M1068.5 138.8v2.3M1068.5 141.1v2.3M1068.5 148v2.3M1069.5 129.6v2.3M1069.5 134.2v2.3M1069.5 136.5v2.3M1069.5 141.1v2.3M1069.5 145.7v2.3M1070.5 115.7v2.3M1070.5 120.3v2.3M1070.5 131.9v2.3M1070.5 134.2v2.3M1071.5 124.9v2.3M1071.5 129.6v2.3M1071.5 134.2v2.3M1071.5 136.5v2.3M1072.5 118v2.3M1072.5 120.3v2.3M1072.5 129.6v2.3M1072.5 131.9v2.3M1072.5 143.4v2.3M1073.5 120.3v2.3M1073.5 127.2v2.3M1073.5 141.1v2.3M1073.5 143.4v2.3M1073.5 145.7v2.3M1074.5 118v2.3M1074.5 127.2v2.3M1074.5 136.5v2.3M1074.5 141.1v2.3M1074.5 143.4v2.3M1075.5 115.7v2.3M1075.5 122.6v2.3M1075.5 131.9v2.3M1075.5 141.1v2.3M1075.5 143.4v2.3M1075.5 148v2.3M1076.5 120.3v2.3M1076.5 124.9v2.3M1076.5 131.9v2.3M1076.5 134.2v2.3M1076.5 136.5v2.3M1077.5 120.3v2.3M1077.5 127.2v2.3M1077.5 148v2.3M1078.5 115.7v2.3M1078.5 120.3v2.3M1078.5 143.4v2.3M1079.5 134.2v2.3M1079.5 143.4v2.3M1079.5 145.7v2.3M1079.5 148v2.3M1080.5 115.7v2.3M1080.5 127.2v2.3M1080.5 134.2v2.3M1080.5 138.8v2.3M1080.5 141.1v2.3M1080.5 143.4v2.3M1081.5 115.7v2.3M1081.5 120.3v2.3M1081.5 124.9v2.3M1081.5 129.6v2.3M1081.5 141.1v2.3M1081.5 143.4v2.3M1082.5 129.6v2.3M1082.5 131.9v2.3M1082.5 138.8v2.3M1082.5 143.4v2.3M1083.5 124.9v2.3M1083.5 129.6v2.3M1083.5 136.5v2.3M1083.5 141.1v2.3M1083.5 145.7v2.3M1084.5 124.9v2.3M1084.5 127.2v2.3M1084.5 136.5v2.3M1084.5 141.1v2.3M1085.5 118v2.3M1085.5 120.3v2.3M1085.5 124.9v2.3M1085.5 129.6v2.3M1085.5 148v2.3M1086.5 124.9v2.3M1086.5 131.9v2.3M1086.5 134.2v2.3M1086.5 145.7v2.3M1087.5 134.2v2.3M1087.5 145.7v2.3M1087.5 148v2.3M1088.5 127.2v2.3M1088.5 134.2v2.3M1088.5 136.5v2.3M1088.5 138.8v2.3M1088.5 143.4v2.3M1089.5 120.3v2.3M1089.5 127.2v2.3M1089.5 134.2v2.3M1089.5 143.4v2.3M1090.5 124.9v2.3M1090.5 129.6v2.3M1090.5 134.2v2.3M1090.5 136.5v2.3M1090.5 138.8v2.3M1090.5 141.1v2.3M1090.5 148v2.3M1091.5 118v2.3M1091.5 122.6v2.3M1091.5 127.2v2.3M1091.5 131.9v2.3M1091.5 138.8v2.3M1091.5 145.7v2.3M1092.5 122.6v2.3M1092.5 129.6v2.3M1092.5 134.2v2.3M1092.5 143.4v2.3M1092.5 148v2.3M1093.5 134.2v2.3M1093.5 141.1v2.3M1093.5 143.4v2.3M1094.5 127.2v2.3M1094.5 138.8v2.3M1094.5 141.1v2.3M1095.5 115.7v2.3M1095.5 122.6v2.3M1095.5 131.9v2.3M1095.5 141.1v2.3M1095.5 145.7v2.3M1096.5 136.5v2.3M1096.5 143.4v2.3M1097.5 122.6v2.3M1097.5 134.2v2.3M1097.5 143.4v2.3M1098.5 122.6v2.3M1098.5 134.2v2.3M1098.5 136.5v2.3M1098.5 138.8v2.3M1098.5 141.1v2.3M1099.5 115.7v2.3M1099.5 134.2v2.3M1099.5 141.1v2.3M1100.5 129.6v2.3M1100.5 136.5v2.3M1100.5 143.4v2.3M1100.5 145.7v2.3M1101.5 124.9v2.3M1101.5 141.1v2.3M1102.5 120.3v2.3M1102.5 122.6v2.3M1102.5 124.9v2.3M1102.5 129.6v2.3M1102.5 138.8v2.3M1102.5 143.4v2.3M1102.5 145.7v2.3M1103.5 124.9v2.3M1103.5 134.2v2.3M1103.5 138.8v2.3M1103.5 141.1v2.3M1103.5 143.4v2.3M1104.5 118v2.3M1104.5 120.3v2.3M1104.5 122.6v2.3M1104.5 129.6v2.3M1104.5 134.2v2.3M1104.5 141.1v2.3M1104.5 145.7v2.3M1105.5 120.3v2.3M1105.5 124.9v2.3M1105.5 136.5v2.3M1105.5 138.8v2.3M1105.5 141.1v2.3M1105.5 143.4v2.3M1105.5 145.7v2.3M1106.5 127.2v2.3M1106.5 134.2v2.3M1106.5 141.1v2.3M1106.5 143.4v2.3M1107.5 118v2.3M1107.5 120.3v2.3M1107.5 124.9v2.3M1107.5 127.2v2.3M1107.5 136.5v2.3M1107.5 148v2.3M1108.5 129.6v2.3M1108.5 131.9v2.3M1108.5 141.1v2.3M1108.5 145.7v2.3M1109.5 122.6v2.3M1109.5 138.8v2.3M1109.5 145.7v2.3M1110.5 124.9v2.3M1110.5 131.9v2.3M1110.5 141.1v2.3M1110.5 143.4v2.3M1110.5 145.7v2.3M1110.5 148v2.3M1111.5 131.9v2.3M1111.5 141.1v2.3M1111.5 143.4v2.3M1112.5 122.6v2.3M1112.5 127.2v2.3M1112.5 136.5v2.3M1112.5 145.7v2.3M1113.5 115.7v2.3M1113.5 131.9v2.3M1113.5 138.8v2.3M1114.5 122.6v2.3M1114.5 131.9v2.3M1114.5 136.5v2.3M1114.5 148v2.3M1115.5 115.7v2.3M1115.5 129.6v2.3M1115.5 131.9v2.3M1115.5 143.4v2.3M1115.5 145.7v2.3M1115.5 148v2.3M1116.5 118v2.3M1116.5 124.9v2.3M1116.5 136.5v2.3M1116.5 138.8v2.3M1116.5 141.1v2.3M1116.5 143.4v2.3M1116.5 148v2.3M1117.5 127.2v2.3M1117.5 138.8v2.3M1117.5 141.1v2.3M1117.5 143.4v2.3M1118.5 115.7v2.3M1118.5 120.3v2.3M1118.5 124.9v2.3M1118.5 127.2v2.3M1118.5 143.4v2.3M1118.5 145.7v2.3M1119.5 127.2v2.3M1119.5 129.6v2.3M1119.5 131.9v2.3M1119.5 145.7v2.3M1120.5 118v2.3M1120.5 134.2v2.3M1120.5 145.7v2.3M1121.5 141.1v2.3M1121.5 148v2.3" stroke="#00d0ff"/>
<path d="M669.5 124.9v2.3M669.5 127.2v2.3M669.5 131.9v2.3M669.5 134.2v2.3M669.5 148v2.3M671.5 124.9v2.3M671.5 134.2v2.3M671.5 141.1v2.3M671.5 143.4v2.3M672.5 118v2.3M672.5 134.2v2.3M672.5 138.8v2.3M672.5 141.1v2.3M672.5 143.4v2.3M673.5 115.7v2.3M673.5 131.9v2.3M673.5 138.8v2.3M674.5 120.3v2.3M674.5 131.9v2.3M674.5 138.8v2.3M674.5 141.1v2.3M675.5 136.5v2.3M675.5 138.8v2.3M675.5 145.7v2.3M676.5 127.2v2.3M676.5 134.2v2.3M676.5 143.4v2.3M677.5 136.5v2.3M677.5 138.8v2.3M677.5 141.1v2.3M677.5 145.7v2.3M678.5 136.5v2.3M679.5 124.9v2.3M679.5 134.2v2.3M679.5 141.1v2.3M680.5 129.6v2.3M680.5 136.5v2.3M680.5 141.1v2.3M681.5 115.7v2.3M681.5 124.9v2.3M681.5 141.1v2.3M682.5 124.9v2.3M682.5 129.6v2.3M682.5 136.5v2.3M682.5 138.8v2.3M682.5 141.1v2.3M682.5 143.4v2.3M682.5 148v2.3M683.5 118v2.3M683.5 127.2v2.3M683.5 129.6v2.3M683.5 131.9v2.3M683.5 141.1v2.3M684.5 122.6v2.3M684.5 134.2v2.3M684.5 138.8v2.3M685.5 136.5v2.3M685.5 141.1v2.3M685.5 145.7v2.3M686.5 124.9v2.3M686.5 129.6v2.3M686.5 136.5v2.3M686.5 143.4v2.3M686.5 145.7v2.3M687.5 115.7v2.3M687.5 129.6v2.3M687.5 134.2v2.3M687.5 141.1v2.3M687.5 145.7v2.3M688.5 122.6v2.3M688.5 124.9v2.3M688.5 134.2v2.3M688.5 138.8v2.3M688.5 141.1v2.3M688.5 145.7v2.3M689.5 120.3v2.3M689.5 136.5v2.3M690.5 136.5v2.3M690.5 145.7v2.3M691.5 129.6v2.3M691.5 131.9v2.3M692.5 118v2.3M692.5 129.6v2.3M692.5 136.5v2.3M692.5 138.8v2.3M692.5 143.4v2.3M693.5 120.3v2.3M693.5 141.1v2.3M694.5 129.6v2.3M694.5 138.8v2.3M694.5 143.4v2.3M694.5 148v2.3M695.5 134.2v2.3M695.5 141.1v2.3M696.5 118v2.3M696.5 136.5v2.3M696.5 138.8v2.3M696.5 145.7v2.3M697.5 124.9v2.3M697.5 131.9v2.3M697.5 134.2v2.3M697.5 136.5v2.3M697.5 138.8v2.3M698.5 127.2v2.3M698.5 143.4v2.3M698.5 148v2.3M699.5 131.9v2.3M699.5 143.4v2.3M700.5 131.9v2.3M701.5 127.2v2.3M701.5 131.9v2.3M701.5 145.7v2.3M702.5 138.8v2.3M702.5 141.1v2.3M703.5 124.9v2.3M703.5 145.7v2.3M704.5 124.9v2.3M704.5 141.1v2.3M704.5 143.4v2.3M705.5 124.9v2.3M705.5 129.6v2.3M705.5 141.1v2.3M706.5 141.1v2.3M706.5 148v2.3M707.5 141.1v2.3M708.5 118v2.3M708.5 131.9v2.3M708.5 141.1v2.3M708.5 143.4v2.3M709.5 115.7v2.3M709.5 131.9v2.3M709.5 143.4v2.3M709.5 145.7v2.3M710.5 115.7v2.3M710.5 118v2.3M710.5 120.3v2.3M710.5 136.5v2.3M710.5 138.8v2.3M710.5 143.4v2.3M711.5 118v2.3M711.5 127.2v2.3M711.5 129.6v2.3M711.5 131.9v2.3M712.5 120.3v2.3M712.5 143.4v2.3M713.5 120.3v2.3M713.5 131.9v2.3M714.5 138.8v2.3M715.5 115.7v2.3M715.5 134.2v2.3M716.5 124.9v2.3M716.5 138.8v2.3M717.5 118v2.3M717.5 124.9v2.3M718.5 141.1v2.3M719.5 129.6v2.3M719.5 141.1v2.3M719.5 145.7v2.3M720.5 124.9v2.3M720.5 131.9v2.3M720.5 136.5v2.3M721.5 122.6v2.3M721.5 129.6v2.3M721.5 131.9v2.3M721.5 136.5v2.3M721.5 141.1v2.3M721.5 145.7v2.3M722.5 141.1v2.3M723.5 122.6v2.3M723.5 134.2v2.3M723.5 136.5v2.3M724.5 136.5v2.3M724.5 141.1v2.3M724.5 145.7v2.3M725.5 134.2v2.3M726.5 134.2v2.3M726.5 141.1v2.3M726.5 143.4v2.3M727.5 131.9v2.3M727.5 134.2v2.3M727.5 136.5v2.3M727.5 143.4v2.3M728.5 127.2v2.3M728.5 138.8v2.3M729.5 122.6v2.3M729.5 131.9v2.3M729.5 136.5v2.3M729.5 138.8v2.3M729.5 141.1v2.3M729.5 145.7v2.3M731.5 120.3v2.3M731.5 134.2v2.3M731.5 141.1v2.3M732.5 122.6v2.3M732.5 138.8v2.3M732.5 143.4v2.3M733.5 134.2v2.3M733.5 138.8v2.3M734.5 131.9v2.3M734.5 134.2v2.3M734.5 136.5v2.3M734.5 138.8v2.3M734.5 148v2.3M735.5 143.4v2.3M735.5 145.7v2.3M736.5 122.6v2.3M736.5 129.6v2.3M736.5 138.8v2.3M736.5 141.1v2.3M737.5 134.2v2.3M738.5 118v2.3M738.5 124.9v2.3M738.5 127.2v2.3M739.5 122.6v2.3M739.5 127.2v2.3M739.5 129.6v2.3M739.5 134.2v2.3M740.5 118v2.3M740.5 124.9v2.3M740.5 131.9v2.3M740.5 141.1v2.3M740.5 148v2.3M741.5 127.2v2.3M741.5 134.2v2.3M741.5 136.5v2.3M741.5 143.4v2.3M742.5 120.3v2.3M742.5 122.6v2.3M742.5 124.9v2.3M742.5 148v2.3M743.5 138.8v2.3M743.5 145.7v2.3M744.5 129.6v2.3M744.5 136.5v2.3M745.5 122.6v2.3M745.5 127.2v2.3M745.5 129.6v2.3M745.5 138.8v2.3M746.5 124.9v2.3M746.5 131.9v2.3M746.5 134.2v2.3M746.5 141.1v2.3M746.5 143.4v2.3M747.5 118v2.3M747.5 136.5v2.3M747.5 143.4v2.3M748.5 129.6v2.3M748.5 131.9v2.3M748.5 143.4v2.3M749.5 124.9v2.3M749.5 138.8v2.3M749.5 145.7v2.3M750.5 120.3v2.3M750.5 122.6v2.3M750.5 129.6v2.3M750.5 134.2v2.3M751.5 136.5v2.3M751.5 141.1v2.3M751.5 145.7v2.3M752.5 120.3v2.3M752.5 129.6v2.3M752.5 136.5v2.3M752.5 138.8v2.3M752.5 143.4v2.3M753.5 136.5v2.3M753.5 141.1v2.3M753.5 148v2.3M754.5 129.6v2.3M754.5 136.5v2.3M755.5 122.6v2.3M755.5 127.2v2.3M755.5 136.5v2.3M756.5 115.7v2.3M756.5 136.5v2.3M756.5 141.1v2.3M758.5 127.2v2.3M758.5 136.5v2.3M759.5 131.9v2.3M759.5 136.5v2.3M759.5 143.4v2.3M759.5 145.7v2.3M760.5 129.6v2.3M760.5 136.5v2.3M760.5 138.8v2.3M761.5 127.2v2.3M761.5 131.9v2.3M761.5 134.2v2.3M761.5 143.4v2.3M761.5 145.7v2.3M762.5 134.2v2.3M763.5 120.3v2.3M763.5 122.6v2.3M763.5 134.2v2.3M764.5 129.6v2.3M764.5 131.9v2.3M764.5 136.5v2.3M764.5 138.8v2.3M764.5 141.1v2.3M764.5 143.4v2.3M766.5 115.7v2.3M766.5 131.9v2.3M766.5 145.7v2.3M767.5 120.3v2.3M767.5 134.2v2.3M767.5 136.5v2.3M767.5 143.4v2.3M768.5 118v2.3M768.5 124.9v2.3M768.5 127.2v2.3M768.5 129.6v2.3M768.5 141.1v2.3M769.5 131.9v2.3M769.5 136.5v2.3M769.5 138.8v2.3M769.5 143.4v2.3M770.5 120.3v2.3M770.5 124.9v2.3M770.5 127.2v2.3M770.5 129.6v2.3M770.5 141.1v2.3M771.5 127.2v2.3M771.5 138.8v2.3M772.5 115.7v2.3M772.5 131.9v2.3M772.5 136.5v2.3M772.5 138.8v2.3M772.5 148v2.3M773.5 122.6v2.3M773.5 134.2v2.3M773.5 136.5v2.3M773.5 145.7v2.3M773.5 148v2.3M774.5 131.9v2.3M774.5 134.2v2.3M774.5 138.8v2.3M775.5 127.2v2.3M775.5 134.2v2.3M775.5 138.8v2.3M775.5 145.7v2.3M775.5 148v2.3M776.5 115.7v2.3M776.5 127.2v2.3M776.5 138.8v2.3M776.5 141.1v2.3M777.5 129.6v2.3M777.5 134.2v2.3M777.5 143.4v2.3M778.5 124.9v2.3M778.5 131.9v2.3M778.5 136.5v2.3M778.5 138.8v2.3M779.5 115.7v2.3M780.5 138.8v2.3M781.5 120.3v2.3M781.5 129.6v2.3M781.5 131.9v2.3M781.5 141.1v2.3M781.5 145.7v2.3M782.5 120.3v2.3M782.5 122.6v2.3M783.5 124.9v2.3M783.5 127.2v2.3M783.5 129.6v2.3M784.5 138.8v2.3M785.5 122.6v2.3M785.5 141.1v2.3M785.5 148v2.3M786.5 120.3v2.3M786.5 122.6v2.3M786.5 124.9v2.3M786.5 138.8v2.3M787.5 129.6v2.3M787.5 131.9v2.3M787.5 134.2v2.3M787.5 136.5v2.3M787.5 141.1v2.3M787.5 143.4v2.3M787.5 145.7v2.3M788.5 129.6v2.3M788.5 134.2v2.3M788.5 141.1v2.3M788.5 143.4v2.3M788.5 145.7v2.3M789.5 136.5v2.3M789.5 141.1v2.3M789.5 143.4v2.3M789.5 145.7v2.3M790.5 118v2.3M790.5 127.2v2.3M790.5 138.8v2.3M790.5 141.1v2.3M791.5 118v2.3M791.5 131.9v2.3M791.5 138.8v2.3M791.5 141.1v2.3M791.5 145.7v2.3M791.5 148v2.3M792.5 115.7v2.3M792.5 122.6v2.3M793.5 115.7v2.3M793.5 124.9v2.3M793.5 129.6v2.3M794.5 124.9v2.3M794.5 134.2v2.3M794.5 143.4v2.3M795.5 120.3v2.3M795.5 124.9v2.3M795.5 131.9v2.3M795.5 138.8v2.3M795.5 141.1v2.3M796.5 118v2.3M796.5 120.3v2.3M796.5 131.9v2.3M797.5 118v2.3M797.5 120.3v2.3M797.5 129.6v2.3M797.5 134.2v2.3M797.5 138.8v2.3M797.5 141.1v2.3M798.5 141.1v2.3M798.5 143.4v2.3M799.5 127.2v2.3M799.5 131.9v2.3M800.5 122.6v2.3M800.5 131.9v2.3M800.5 136.5v2.3M800.5 138.8v2.3M800.5 143.4v2.3M801.5 115.7v2.3M801.5 141.1v2.3M801.5 143.4v2.3M802.5 122.6v2.3M802.5 124.9v2.3M803.5 129.6v2.3M803.5 136.5v2.3M803.5 143.4v2.3M804.5 122.6v2.3M804.5 136.5v2.3M804.5 141.1v2.3M804.5 148v2.3M805.5 118v2.3M805.5 124.9v2.3M805.5 129.6v2.3M805.5 138.8v2.3M805.5 141.1v2.3M805.5 145.7v2.3M806.5 122.6v2.3M806.5 129.6v2.3M806.5 134.2v2.3M806.5 136.5v2.3M806.5 143.4v2.3M806.5 145.7v2.3M806.5 148v2.3M807.5 129.6v2.3M807.5 138.8v2.3M807.5 145.7v2.3M808.5 136.5v2.3M808.5 148v2.3M809.5 127.2v2.3M809.5 143.4v2.3M809.5 148v2.3M810.5 118v2.3M810.5 122.6v2.3M810.5 129.6v2.3M810.5 138.8v2.3M810.5 141.1v2.3M810.5 143.4v2.3M811.5 129.6v2.3M811.5 141.1v2.3M811.5 145.7v2.3M812.5 124.9v2.3M812.5 129.6v2.3M812.5 134.2v2.3M812.5 138.8v2.3M812.5 141.1v2.3M812.5 145.7v2.3M813.5 115.7v2.3M813.5 134.2v2.3M813.5 141.1v2.3M814.5 118v2.3M814.5 120.3v2.3M814.5 127.2v2.3M814.5 129.6v2.3M814.5 131.9v2.3M815.5 138.8v2.3M816.5 129.6v2.3M817.5 122.6v2.3M817.5 131.9v2.3M817.5 138.8v2.3M818.5 134.2v2.3M819.5 118v2.3M819.5 134.2v2.3M819.5 143.4v2.3M820.5 134.2v2.3M820.5 136.5v2.3M821.5 118v2.3M821.5 124.9v2.3M821.5 134.2v2.3M821.5 141.1v2.3M822.5 120.3v2.3M822.5 127.2v2.3M823.5 120.3v2.3M823.5 134.2v2.3M823.5 138.8v2.3M824.5 131.9v2.3M824.5 134.2v2.3M824.5 141.1v2.3M824.5 143.4v2.3M825.5 127.2v2.3M825.5 143.4v2.3M826.5 122.6v2.3M826.5 134.2v2.3M826.5 136.5v2.3M826.5 141.1v2.3M826.5 145.7v2.3M827.5 120.3v2.3M827.5 134.2v2.3M827.5 136.5v2.3M827.5 138.8v2.3M828.5 131.9v2.3M829.5 115.7v2.3M829.5 124.9v2.3M830.5 115.7v2.3M830.5 136.5v2.3M831.5 124.9v2.3M831.5 127.2v2.3M831.5 131.9v2.3M831.5 141.1v2.3M831.5 145.7v2.3M832.5 120.3v2.3M832.5 131.9v2.3M832.5 143.4v2.3M832.5 145.7v2.3M833.5 120.3v2.3M833.5 124.9v2.3M833.5 129.6v2.3M833.5 143.4v2.3M834.5 120.3v2.3M834.5 134.2v2.3M834.5 141.1v2.3M834.5 145.7v2.3M835.5 122.6v2.3M835.5 124.9v2.3M836.5 120.3v2.3M836.5 131.9v2.3M836.5 141.1v2.3M836.5 148v2.3M837.5 115.7v2.3M837.5 118v2.3M837.5 127.2v2.3M837.5 129.6v2.3M838.5 129.6v2.3M838.5 131.9v2.3M838.5 141.1v2.3M839.5 145.7v2.3M840.5 124.9v2.3M840.5 127.2v2.3M840.5 131.9v2.3M841.5 122.6v2.3M841.5 129.6v2.3M841.5 134.2v2.3M841.5 136.5v2.3M841.5 145.7v2.3M842.5 115.7v2.3M842.5 143.4v2.3M843.5 122.6v2.3M843.5 131.9v2.3M843.5 141.1v2.3M844.5 127.2v2.3M844.5 129.6v2.3M844.5 131.9v2.3M844.5 138.8v2.3M845.5 120.3v2.3M846.5 134.2v2.3M846.5 138.8v2.3M847.5 115.7v2.3M847.5 136.5v2.3M848.5 120.3v2.3M848.5 124.9v2.3M849.5 115.7v2.3M849.5 122.6v2.3M849.5 136.5v2.3M849.5 143.4v2.3M850.5 118v2.3M850.5 124.9v2.3M850.5 127.2v2.3M850.5 138.8v2.3M851.5 127.2v2.3M851.5 134.2v2.3M852.5 118v2.3M852.5 120.3v2.3M852.5 122.6v2.3M852.5 124.9v2.3M852.5 141.1v2.3M853.5 127.2v2.3M854.5 115.7v2.3M854.5 122.6v2.3M854.5 136.5v2.3M854.5 141.1v2.3M855.5 120.3v2.3M856.5 115.7v2.3M856.5 120.3v2.3M856.5 127.2v2.3M856.5 129.6v2.3M856.5 138.8v2.3M856.5 143.4v2.3M857.5 127.2v2.3M857.5 143.4v2.3M858.5 120.3v2.3M858.5 129.6v2.3M858.5 131.9v2.3M858.5 136.5v2.3M858.5 138.8v2.3M858.5 143.4v2.3M859.5 124.9v2.3M859.5 127.2v2.3M859.5 131.9v2.3M859.5 136.5v2.3M859.5 138.8v2.3M859.5 141.1v2.3M860.5 129.6v2.3M860.5 131.9v2.3M860.5 141.1v2.3M861.5 118v2.3M861.5 120.3v2.3M861.5 127.2v2.3M861.5 131.9v2.3M861.5 141.1v2.3M861.5 143.4v2.3M862.5 127.2v2.3M862.5 145.7v2.3M863.5 124.9v2.3M863.5 138.8v2.3M865.5 131.9v2.3M865.5 138.8v2.3M865.5 141.1v2.3M865.5 145.7v2.3M866.5 143.4v2.3M866.5 148v2.3M867.5 118v2.3M867.5 122.6v2.3M867.5 127.2v2.3M867.5 134.2v2.3M867.5 141.1v2.3M867.5 143.4v2.3M868.5 127.2v2.3M868.5 129.6v2.3M868.5 148v2.3M869.5 127.2v2.3M869.5 134.2v2.3M870.5 127.2v2.3M870.5 129.6v2.3M870.5 138.8v2.3M870.5 141.1v2.3M871.5 122.6v2.3M871.5 127.2v2.3M871.5 131.9v2.3M871.5 134.2v2.3M871.5 141.1v2.3M873.5 115.7v2.3M873.5 122.6v2.3M873.5 134.2v2.3M873.5 138.8v2.3M874.5 124.9v2.3M874.5 127.2v2.3M874.5 129.6v2.3M874.5 138.8v2.3M874.5 141.1v2.3M875.5 143.4v2.3M876.5 120.3v2.3M876.5 127.2v2.3M876.5 134.2v2.3M876.5 138.8v2.3M878.5 118v2.3M878.5 124.9v2.3M878.5 134.2v2.3M878.5 138.8v2.3M878.5 145.7v2.3M879.5 124.9v2.3M879.5 127.2v2.3M879.5 129.6v2.3M879.5 138.8v2.3M879.5 141.1v2.3M880.5 134.2v2.3M880.5 138.8v2.3M880.5 145.7v2.3M881.5 124.9v2.3M881.5 141.1v2.3M881.5 145.7v2.3M882.5 115.7v2.3M882.5 124.9v2.3M882.5 134.2v2.3M882.5 138.8v2.3M882.5 143.4v2.3M883.5 120.3v2.3M883.5 124.9v2.3M883.5 136.5v2.3M884.5 124.9v2.3M884.5 148v2.3M885.5 120.3v2.3M885.5 127.2v2.3M885.5 138.8v2.3M886.5 120.3v2.3M886.5 122.6v2.3M886.5 127.2v2.3M886.5 134.2v2.3M886.5 136.5v2.3M886.5 141.1v2.3M887.5 141.1v2.3M887.5 143.4v2.3M889.5 145.7v2.3M890.5 122.6v2.3M890.5 131.9v2.3M890.5 141.1v2.3M891.5 122.6v2.3M891.5 131.9v2.3M891.5 134.2v2.3M891.5 136.5v2.3M892.5 141.1v2.3M892.5 145.7v2.3M893.5 129.6v2.3M893.5 136.5v2.3M894.5 122.6v2.3M894.5 134.2v2.3M894.5 136.5v2.3M895.5 122.6v2.3M895.5 129.6v2.3M895.5 131.9v2.3M895.5 141.1v2.3M895.5 143.4v2.3M896.5 122.6v2.3M896.5 127.2v2.3M896.5 131.9v2.3M896.5 134.2v2.3M896.5 138.8v2.3M897.5 143.4v2.3M898.5 122.6v2.3M898.5 136.5v2.3M898.5 141.1v2.3M898.5 143.4v2.3M899.5 136.5v2.3M899.5 141.1v2.3M899.5 143.4v2.3M899.5 145.7v2.3M900.5 120.3v2.3M900.5 141.1v2.3M900.5 143.4v2.3M900.5 145.7v2.3M901.5 120.3v2.3M901.5 124.9v2.3M901.5 141.1v2.3M901.5 143.4v2.3M901.5 145.7v2.3M902.5 138.8v2.3M903.5 143.4v2.3M904.5 127.2v2.3M905.5 127.2v2.3M906.5 122.6v2.3M907.5 127.2v2.3M907.5 131.9v2.3M907.5 145.7v2.3M908.5 118v2.3M908.5 127.2v2.3M908.5 131.9v2.3M908.5 134.2v2.3M908.5 141.1v2.3M908.5 143.4v2.3M908.5 145.7v2.3M909.5 122.6v2.3M909.5 127.2v2.3M909.5 134.2v2.3M909.5 141.1v2.3M909.5 143.4v2.3M909.5 148v2.3M910.5 120.3v2.3M910.5 129.6v2.3M910.5 131.9v2.3M910.5 134.2v2.3M910.5 138.8v2.3M911.5 118v2.3M911.5 127.2v2.3M911.5 138.8v2.3M912.5 115.7v2.3M912.5 118v2.3M912.5 120.3v2.3M912.5 131.9v2.3M912.5 134.2v2.3M912.5 138.8v2.3M913.5 118v2.3M913.5 127.2v2.3M913.5 129.6v2.3M913.5 134.2v2.3M913.5 143.4v2.3M914.5 120.3v2.3M914.5 131.9v2.3M914.5 134.2v2.3M914.5 136.5v2.3M914.5 138.8v2.3M915.5 118v2.3M915.5 122.6v2.3M915.5 124.9v2.3M915.5 127.2v2.3M915.5 143.4v2.3M916.5 120.3v2.3M916.5 122.6v2.3M916.5 124.9v2.3M916.5 131.9v2.3M916.5 143.4v2.3M917.5 118v2.3M917.5 122.6v2.3M917.5 134.2v2.3M917.5 148v2.3M918.5 131.9v2.3M918.5 136.5v2.3M918.5 141.1v2.3M918.5 148v2.3M919.5 129.6v2.3M919.5 131.9v2.3M919.5 134.2v2.3M920.5 118v2.3M920.5 148v2.3M921.5 122.6v2.3M921.5 124.9v2.3M921.5 131.9v2.3M921.5 136.5v2.3M921.5 138.8v2.3M921.5 143.4v2.3M922.5 118v2.3M922.5 138.8v2.3M923.5 131.9v2.3M923.5 141.1v2.3M923.5 143.4v2.3M924.5 115.7v2.3M924.5 122.6v2.3M925.5 118v2.3M925.5 120.3v2.3M925.5 122.6v2.3M925.5 127.2v2.3M925.5 129.6v2.3M925.5 138.8v2.3M925.5 141.1v2.3M926.5 115.7v2.3M926.5 122.6v2.3M926.5 134.2v2.3M926.5 138.8v2.3M926.5 141.1v2.3M926.5 148v2.3M927.5 127.2v2.3M927.5 129.6v2.3M927.5 136.5v2.3M927.5 138.8v2.3M928.5 115.7v2.3M928.5 124.9v2.3M928.5 127.2v2.3M928.5 143.4v2.3M928.5 145.7v2.3M929.5 127.2v2.3M929.5 136.5v2.3M929.5 138.8v2.3M930.5 115.7v2.3M930.5 118v2.3M930.5 122.6v2.3M930.5 127.2v2.3M930.5 134.2v2.3M930.5 138.8v2.3M930.5 141.1v2.3M930.5 148v2.3M931.5 129.6v2.3M931.5 131.9v2.3M931.5 136.5v2.3M931.5 145.7v2.3M932.5 131.9v2.3M932.5 136.5v2.3M933.5 115.7v2.3M933.5 118v2.3M933.5 120.3v2.3M933.5 122.6v2.3M933.5 131.9v2.3M933.5 136.5v2.3M933.5 138.8v2.3M933.5 141.1v2.3M934.5 120.3v2.3M934.5 122.6v2.3M934.5 124.9v2.3M934.5 127.2v2.3M934.5 129.6v2.3M934.5 134.2v2.3M934.5 143.4v2.3M935.5 120.3v2.3M935.5 124.9v2.3M935.5 127.2v2.3M935.5 129.6v2.3M935.5 131.9v2.3M935.5 134.2v2.3M935.5 138.8v2.3M935.5 141.1v2.3M935.5 143.4v2.3M935.5 145.7v2.3M936.5 115.7v2.3M936.5 118v2.3M936.5 120.3v2.3M936.5 122.6v2.3M936.5 136.5v2.3M936.5 138.8v2.3M936.5 145.7v2.3M937.5 127.2v2.3M937.5 129.6v2.3M937.5 145.7v2.3M938.5 118v2.3M938.5 129.6v2.3M938.5 143.4v2.3M938.5 148v2.3M939.5 120.3v2.3M939.5 131.9v2.3M939.5 134.2v2.3M939.5 141.1v2.3M940.5 118v2.3M940.5 129.6v2.3M940.5 136.5v2.3M940.5 143.4v2.3M941.5 118v2.3M941.5 120.3v2.3M941.5 124.9v2.3M941.5 131.9v2.3M941.5 136.5v2.3M941.5 138.8v2.3M941.5 141.1v2.3M941.5 145.7v2.3M942.5 120.3v2.3M942.5 134.2v2.3M942.5 136.5v2.3M942.5 138.8v2.3M942.5 143.4v2.3M943.5 120.3v2.3M943.5 122.6v2.3M943.5 127.2v2.3M943.5 129.6v2.3M943.5 148v2.3M944.5 118v2.3M944.5 122.6v2.3M944.5 127.2v2.3M944.5 131.9v2.3M944.5 136.5v2.3M945.5 124.9v2.3M945.5 127.2v2.3M945.5 129.6v2.3M945.5 131.9v2.3M945.5 138.8v2.3M946.5 118v2.3M946.5 127.2v2.3M946.5 131.9v2.3M946.5 134.2v2.3M946.5 136.5v2.3M946.5 138.8v2.3M946.5 141.1v2.3M946.5 145.7v2.3M947.5 131.9v2.3M947.5 136.5v2.3M947.5 145.7v2.3M947.5 148v2.3M948.5 124.9v2.3M948.5 131.9v2.3M948.5 134.2v2.3M948.5 141.1v2.3M949.5 124.9v2.3M949.5 127.2v2.3M949.5 138.8v2.3M949.5 141.1v2.3M949.5 143.4v2.3M949.5 148v2.3M950.5 118v2.3M950.5 122.6v2.3M950.5 127.2v2.3M951.5 118v2.3M951.5 127.2v2.3M951.5 131.9v2.3M951.5 134.2v2.3M951.5 141.1v2.3M951.5 148v2.3M952.5 120.3v2.3M952.5 124.9v2.3M952.5 129.6v2.3M952.5 134.2v2.3M953.5 120.3v2.3M953.5 127.2v2.3M953.5 138.8v2.3M953.5 141.1v2.3M954.5 122.6v2.3M955.5 127.2v2.3M955.5 129.6v2.3M955.5 131.9v2.3M955.5 136.5v2.3M955.5 141.1v2.3M956.5 120.3v2.3M956.5 122.6v2.3M956.5 129.6v2.3M956.5 134.2v2.3M956.5 138.8v2.3M956.5 143.4v2.3M956.5 145.7v2.3M957.5 122.6v2.3M957.5 124.9v2.3M957.5 134.2v2.3M957.5 138.8v2.3M957.5 145.7v2.3M958.5 118v2.3M958.5 124.9v2.3M958.5 131.9v2.3M958.5 136.5v2.3M958.5 141.1v2.3M959.5 115.7v2.3M959.5 118v2.3M959.5 127.2v2.3M959.5 134.2v2.3M959.5 138.8v2.3M959.5 143.4v2.3M960.5 115.7v2.3M960.5 141.1v2.3M960.5 143.4v2.3M961.5 118v2.3M961.5 127.2v2.3M961.5 136.5v2.3M961.5 141.1v2.3M962.5 115.7v2.3M962.5 124.9v2.3M962.5 129.6v2.3M962.5 131.9v2.3M962.5 136.5v2.3M962.5 138.8v2.3M963.5 115.7v2.3M963.5 124.9v2.3M963.5 127.2v2.3M963.5 134.2v2.3M963.5 145.7v2.3M964.5 129.6v2.3M964.5 138.8v2.3M964.5 141.1v2.3M964.5 143.4v2.3M964.5 145.7v2.3M965.5 120.3v2.3M965.5 129.6v2.3M965.5 138.8v2.3M965.5 141.1v2.3M966.5 115.7v2.3M966.5 122.6v2.3M966.5 124.9v2.3M966.5 134.2v2.3M966.5 143.4v2.3M966.5 145.7v2.3M966.5 148v2.3M967.5 115.7v2.3M967.5 124.9v2.3M967.5 127.2v2.3M967.5 129.6v2.3M967.5 131.9v2.3M967.5 134.2v2.3M967.5 138.8v2.3M967.5 143.4v2.3M967.5 148v2.3M968.5 124.9v2.3M968.5 127.2v2.3M968.5 136.5v2.3M968.5 138.8v2.3M969.5 122.6v2.3M969.5 124.9v2.3M969.5 129.6v2.3M969.5 136.5v2.3M969.5 138.8v2.3M969.5 145.7v2.3M970.5 120.3v2.3M970.5 122.6v2.3M970.5 131.9v2.3M970.5 141.1v2.3M970.5 143.4v2.3M971.5 129.6v2.3M971.5 134.2v2.3M971.5 136.5v2.3M971.5 143.4v2.3M971.5 145.7v2.3M972.5 118v2.3M972.5 134.2v2.3M972.5 136.5v2.3M972.5 138.8v2.3M973.5 120.3v2.3M973.5 122.6v2.3M973.5 138.8v2.3M973.5 145.7v2.3M974.5 138.8v2.3M974.5 141.1v2.3M974.5 143.4v2.3M974.5 148v2.3M975.5 124.9v2.3M975.5 129.6v2.3M975.5 134.2v2.3M975.5 143.4v2.3M976.5 118v2.3M976.5 127.2v2.3M976.5 129.6v2.3M976.5 131.9v2.3M976.5 138.8v2.3M976.5 141.1v2.3M977.5 115.7v2.3M977.5 120.3v2.3M977.5 141.1v2.3M977.5 148v2.3M978.5 118v2.3M978.5 120.3v2.3M978.5 124.9v2.3M978.5 136.5v2.3M978.5 143.4v2.3M979.5 122.6v2.3M979.5 124.9v2.3M979.5 131.9v2.3M979.5 136.5v2.3M979.5 138.8v2.3M979.5 141.1v2.3M980.5 115.7v2.3M980.5 118v2.3M980.5 134.2v2.3M980.5 143.4v2.3M981.5 118v2.3M981.5 134.2v2.3M982.5 118v2.3M982.5 120.3v2.3M982.5 134.2v2.3M982.5 138.8v2.3M983.5 120.3v2.3M983.5 122.6v2.3M983.5 138.8v2.3M984.5 115.7v2.3M984.5 129.6v2.3M984.5 131.9v2.3M984.5 134.2v2.3M984.5 143.4v2.3M985.5 120.3v2.3M985.5 124.9v2.3M985.5 131.9v2.3M985.5 143.4v2.3M986.5 120.3v2.3M986.5 127.2v2.3M986.5 136.5v2.3M986.5 145.7v2.3M987.5 115.7v2.3M987.5 131.9v2.3M987.5 136.5v2.3M987.5 145.7v2.3M987.5 148v2.3M988.5 118v2.3M988.5 124.9v2.3M988.5 131.9v2.3M988.5 136.5v2.3M988.5 141.1v2.3M988.5 145.7v2.3M989.5 134.2v2.3M989.5 136.5v2.3M989.5 138.8v2.3M989.5 141.1v2.3M990.5 115.7v2.3M990.5 120.3v2.3M990.5 129.6v2.3M990.5 134.2v2.3M990.5 136.5v2.3M991.5 124.9v2.3M991.5 127.2v2.3M991.5 129.6v2.3M991.5 131.9v2.3M992.5 118v2.3M992.5 129.6v2.3M992.5 131.9v2.3M992.5 134.2v2.3M992.5 141.1v2.3M992.5 145.7v2.3M993.5 127.2v2.3M993.5 129.6v2.3M993.5 145.7v2.3M994.5 118v2.3M994.5 120.3v2.3M994.5 129.6v2.3M994.5 131.9v2.3M994.5 136.5v2.3M994.5 141.1v2.3M995.5 129.6v2.3M995.5 134.2v2.3M995.5 143.4v2.3M995.5 145.7v2.3M996.5 129.6v2.3M996.5 131.9v2.3M997.5 122.6v2.3M997.5 124.9v2.3M997.5 127.2v2.3M997.5 129.6v2.3M997.5 138.8v2.3M997.5 141.1v2.3M997.5 143.4v2.3M998.5 124.9v2.3M998.5 129.6v2.3M998.5 131.9v2.3M998.5 134.2v2.3M998.5 136.5v2.3M998.5 141.1v2.3M998.5 143.4v2.3M999.5 120.3v2.3M999.5 124.9v2.3M999.5 131.9v2.3M999.5 134.2v2.3M999.5 145.7v2.3M1000.5 115.7v2.3M1000.5 122.6v2.3M1000.5 143.4v2.3M1001.5 122.6v2.3M1001.5 124.9v2.3M1001.5 136.5v2.3M1001.5 138.8v2.3M1001.5 141.1v2.3M1001.5 145.7v2.3M1002.5 118v2.3M1002.5 131.9v2.3M1002.5 136.5v2.3M1002.5 143.4v2.3M1003.5 122.6v2.3M1003.5 127.2v2.3M1003.5 134.2v2.3M1003.5 141.1v2.3M1003.5 143.4v2.3M1004.5 115.7v2.3M1004.5 129.6v2.3M1004.5 131.9v2.3M1004.5 136.5v2.3M1004.5 138.8v2.3M1004.5 141.1v2.3M1005.5 118v2.3M1005.5 120.3v2.3M1005.5 122.6v2.3M1005.5 131.9v2.3M1005.5 134.2v2.3M1005.5 138.8v2.3M1005.5 143.4v2.3M1006.5 115.7v2.3M1006.5 120.3v2.3M1006.5 122.6v2.3M1006.5 124.9v2.3M1006.5 127.2v2.3M1006.5 129.6v2.3M1006.5 141.1v2.3M1006.5 145.7v2.3M1006.5 148v2.3M1007.5 120.3v2.3M1007.5 131.9v2.3M1007.5 148v2.3M1008.5 118v2.3M1008.5 124.9v2.3M1008.5 131.9v2.3M1008.5 134.2v2.3M1008.5 138.8v2.3M1008.5 141.1v2.3M1009.5 118v2.3M1009.5 124.9v2.3M1009.5 129.6v2.3M1009.5 136.5v2.3M1009.5 145.7v2.3M1010.5 122.6v2.3M1010.5 131.9v2.3M1010.5 134.2v2.3M1010.5 138.8v2.3M1010.5 141.1v2.3M1010.5 145.7v2.3M1011.5 118v2.3M1012.5 122.6v2.3M1012.5 127.2v2.3M1012.5 136.5v2.3M1012.5 138.8v2.3M1012.5 141.1v2.3M1013.5 115.7v2.3M1013.5 122.6v2.3M1013.5 124.9v2.3M1013.5 129.6v2.3M1013.5 131.9v2.3M1013.5 138.8v2.3M1013.5 141.1v2.3M1014.5 115.7v2.3M1014.5 134.2v2.3M1014.5 136.5v2.3M1015.5 115.7v2.3M1015.5 118v2.3M1015.5 134.2v2.3M1015.5 141.1v2.3M1015.5 143.4v2.3M1016.5 122.6v2.3M1016.5 124.9v2.3M1016.5 134.2v2.3M1016.5 136.5v2.3M1016.5 141.1v2.3M1017.5 122.6v2.3M1017.5 127.2v2.3M1017.5 131.9v2.3M1017.5 134.2v2.3M1017.5 141.1v2.3M1018.5 124.9v2.3M1018.5 141.1v2.3M1018.5 145.7v2.3M1019.5 115.7v2.3M1019.5 127.2v2.3M1019.5 131.9v2.3M1019.5 134.2v2.3M1019.5 136.5v2.3M1019.5 141.1v2.3M1019.5 148v2.3M1020.5 122.6v2.3M1020.5 131.9v2.3M1020.5 134.2v2.3M1020.5 136.5v2.3M1020.5 138.8v2.3M1021.5 129.6v2.3M1021.5 131.9v2.3M1021.5 136.5v2.3M1021.5 138.8v2.3M1021.5 141.1v2.3M1022.5 115.7v2.3M1022.5 127.2v2.3M1022.5 136.5v2.3M1023.5 120.3v2.3M1023.5 141.1v2.3M1023.5 145.7v2.3M1024.5 115.7v2.3M1024.5 118v2.3M1024.5 122.6v2.3M1024.5 131.9v2.3M1024.5 134.2v2.3M1025.5 134.2v2.3M1025.5 136.5v2.3M1025.5 138.8v2.3M1025.5 141.1v2.3M1026.5 124.9v2.3M1026.5 131.9v2.3M1026.5 138.8v2.3M1026.5 141.1v2.3M1027.5 129.6v2.3M1027.5 131.9v2.3M1027.5 136.5v2.3M1027.5 138.8v2.3M1027.5 145.7v2.3M1028.5 134.2v2.3M1029.5 127.2v2.3M1029.5 129.6v2.3M1029.5 136.5v2.3M1029.5 138.8v2.3M1029.5 141.1v2.3M1029.5 143.4v2.3M1030.5 122.6v2.3M1030.5 124.9v2.3M1030.5 141.1v2.3M1031.5 120.3v2.3M1031.5 124.9v2.3M1031.5 136.5v2.3M1031.5 138.8v2.3M1031.5 141.1v2.3M1031.5 143.4v2.3M1032.5 120.3v2.3M1032.5 122.6v2.3M1032.5 129.6v2.3M1032.5 131.9v2.3M1032.5 134.2v2.3M1032.5 143.4v2.3M1033.5 115.7v2.3M1033.5 120.3v2.3M1033.5 122.6v2.3M1033.5 124.9v2.3M1033.5 131.9v2.3M1033.5 141.1v2.3M1033.5 145.7v2.3M1034.5 120.3v2.3M1034.5 127.2v2.3M1034.5 129.6v2.3M1034.5 138.8v2.3M1034.5 145.7v2.3M1035.5 115.7v2.3M1035.5 120.3v2.3M1035.5 124.9v2.3M1036.5 131.9v2.3M1036.5 136.5v2.3M1036.5 141.1v2.3M1037.5 115.7v2.3M1037.5 118v2.3M1037.5 120.3v2.3M1037.5 124.9v2.3M1037.5 134.2v2.3M1037.5 136.5v2.3M1038.5 118v2.3M1038.5 127.2v2.3M1038.5 141.1v2.3M1038.5 143.4v2.3M1038.5 145.7v2.3M1039.5 118v2.3M1039.5 124.9v2.3M1039.5 129.6v2.3M1039.5 145.7v2.3M1040.5 118v2.3M1040.5 124.9v2.3M1040.5 131.9v2.3M1040.5 141.1v2.3M1041.5 118v2.3M1041.5 124.9v2.3M1041.5 129.6v2.3M1041.5 131.9v2.3M1041.5 134.2v2.3M1041.5 138.8v2.3M1041.5 148v2.3M1042.5 127.2v2.3M1042.5 131.9v2.3M1042.5 134.2v2.3M1042.5 143.4v2.3M1043.5 136.5v2.3M1043.5 138.8v2.3M1043.5 141.1v2.3M1043.5 143.4v2.3M1043.5 145.7v2.3M1044.5 122.6v2.3M1044.5 127.2v2.3M1044.5 134.2v2.3M1044.5 138.8v2.3M1044.5 141.1v2.3M1044.5 143.4v2.3M1045.5 118v2.3M1045.5 131.9v2.3M1046.5 124.9v2.3M1046.5 131.9v2.3M1046.5 141.1v2.3M1046.5 148v2.3M1047.5 115.7v2.3M1047.5 127.2v2.3M1047.5 129.6v2.3M1047.5 131.9v2.3M1048.5 118v2.3M1049.5 115.7v2.3M1049.5 131.9v2.3M1049.5 138.8v2.3M1049.5 141.1v2.3M1049.5 143.4v2.3M1050.5 122.6v2.3M1050.5 131.9v2.3M1050.5 138.8v2.3M1050.5 141.1v2.3M1051.5 115.7v2.3M1051.5 120.3v2.3M1051.5 131.9v2.3M1051.5 141.1v2.3M1052.5 118v2.3M1052.5 129.6v2.3M1052.5 131.9v2.3M1052.5 148v2.3M1053.5 122.6v2.3M1053.5 143.4v2.3M1054.5 129.6v2.3M1054.5 138.8v2.3M1055.5 118v2.3M1055.5 120.3v2.3M1055.5 124.9v2.3M1055.5 127.2v2.3M1055.5 129.6v2.3M1055.5 131.9v2.3M1055.5 138.8v2.3M1055.5 141.1v2.3M1055.5 143.4v2.3M1056.5 134.2v2.3M1056.5 136.5v2.3M1056.5 138.8v2.3M1057.5 115.7v2.3M1057.5 120.3v2.3M1057.5 124.9v2.3M1057.5 127.2v2.3M1057.5 136.5v2.3M1057.5 143.4v2.3M1057.5 145.7v2.3M1058.5 120.3v2.3M1058.5 124.9v2.3M1058.5 127.2v2.3M1058.5 145.7v2.3M1059.5 129.6v2.3M1060.5 122.6v2.3M1060.5 127.2v2.3M1060.5 136.5v2.3M1060.5 143.4v2.3M1061.5 115.7v2.3M1061.5 122.6v2.3M1061.5 134.2v2.3M1061.5 136.5v2.3M1061.5 138.8v2.3M1061.5 141.1v2.3M1061.5 143.4v2.3M1062.5 124.9v2.3M1062.5 129.6v2.3M1062.5 138.8v2.3M1062.5 141.1v2.3M1062.5 143.4v2.3M1063.5 127.2v2.3M1063.5 138.8v2.3M1064.5 118v2.3M1064.5 131.9v2.3M1064.5 138.8v2.3M1064.5 141.1v2.3M1065.5 127.2v2.3M1065.5 129.6v2.3M1065.5 134.2v2.3M1065.5 136.5v2.3M1065.5 145.7v2.3M1066.5 118v2.3M1066.5 120.3v2.3M1066.5 131.9v2.3M1067.5 118v2.3M1067.5 122.6v2.3M1067.5 129.6v2.3M1067.5 138.8v2.3M1067.5 141.1v2.3M1067.5 143.4v2.3M1068.5 127.2v2.3M1068.5 143.4v2.3M1068.5 145.7v2.3M1069.5 138.8v2.3M1070.5 124.9v2.3M1070.5 127.2v2.3M1070.5 136.5v2.3M1070.5 138.8v2.3M1070.5 141.1v2.3M1071.5 118v2.3M1071.5 138.8v2.3M1071.5 141.1v2.3M1072.5 127.2v2.3M1072.5 134.2v2.3M1072.5 136.5v2.3M1072.5 141.1v2.3M1072.5 145.7v2.3M1072.5 148v2.3M1073.5 118v2.3M1073.5 122.6v2.3M1073.5 129.6v2.3M1073.5 138.8v2.3M1074.5 122.6v2.3M1074.5 124.9v2.3M1074.5 134.2v2.3M1074.5 138.8v2.3M1075.5 118v2.3M1075.5 124.9v2.3M1075.5 129.6v2.3M1075.5 136.5v2.3M1075.5 145.7v2.3M1076.5 118v2.3M1076.5 138.8v2.3M1077.5 124.9v2.3M1077.5 134.2v2.3M1077.5 136.5v2.3M1077.5 141.1v2.3M1077.5 143.4v2.3M1078.5 122.6v2.3M1078.5 124.9v2.3M1078.5 134.2v2.3M1079.5 115.7v2.3M1079.5 131.9v2.3M1079.5 138.8v2.3M1079.5 141.1v2.3M1080.5 124.9v2.3M1080.5 131.9v2.3M1081.5 131.9v2.3M1081.5 134.2v2.3M1081.5 136.5v2.3M1081.5 138.8v2.3M1082.5 120.3v2.3M1082.5 122.6v2.3M1082.5 134.2v2.3M1082.5 141.1v2.3M1082.5 145.7v2.3M1083.5 118v2.3M1083.5 120.3v2.3M1083.5 122.6v2.3M1083.5 138.8v2.3M1083.5 143.4v2.3M1084.5 129.6v2.3M1084.5 131.9v2.3M1084.5 134.2v2.3M1084.5 138.8v2.3M1084.5 143.4v2.3M1085.5 122.6v2.3M1085.5 131.9v2.3M1085.5 136.5v2.3M1085.5 138.8v2.3M1085.5 141.1v2.3M1085.5 143.4v2.3M1086.5 120.3v2.3M1086.5 127.2v2.3M1086.5 136.5v2.3M1086.5 138.8v2.3M1086.5 141.1v2.3M1087.5 118v2.3M1087.5 127.2v2.3M1087.5 129.6v2.3M1087.5 138.8v2.3M1087.5 141.1v2.3M1088.5 122.6v2.3M1088.5 124.9v2.3M1088.5 129.6v2.3M1088.5 131.9v2.3M1089.5 129.6v2.3M1089.5 131.9v2.3M1089.5 136.5v2.3M1089.5 138.8v2.3M1089.5 141.1v2.3M1090.5 120.3v2.3M1090.5 122.6v2.3M1090.5 127.2v2.3M1090.5 145.7v2.3M1091.5 141.1v2.3M1091.5 148v2.3M1092.5 115.7v2.3M1092.5 118v2.3M1092.5 131.9v2.3M1092.5 136.5v2.3M1092.5 138.8v2.3M1092.5 145.7v2.3M1093.5 118v2.3M1093.5 122.6v2.3M1093.5 136.5v2.3M1093.5 138.8v2.3M1094.5 120.3v2.3M1094.5 122.6v2.3M1094.5 143.4v2.3M1095.5 127.2v2.3M1095.5 134.2v2.3M1095.5 143.4v2.3M1095.5 148v2.3M1096.5 118v2.3M1096.5 122.6v2.3M1096.5 131.9v2.3M1096.5 138.8v2.3M1096.5 141.1v2.3M1097.5 120.3v2.3M1097.5 129.6v2.3M1097.5 136.5v2.3M1097.5 138.8v2.3M1097.5 145.7v2.3M1098.5 120.3v2.3M1098.5 129.6v2.3M1098.5 145.7v2.3M1099.5 127.2v2.3M1099.5 129.6v2.3M1099.5 131.9v2.3M1099.5 143.4v2.3M1100.5 115.7v2.3M1100.5 118v2.3M1100.5 127.2v2.3M1100.5 141.1v2.3M1101.5 122.6v2.3M1101.5 127.2v2.3M1101.5 129.6v2.3M1101.5 131.9v2.3M1101.5 138.8v2.3M1101.5 143.4v2.3M1102.5 131.9v2.3M1102.5 136.5v2.3M1102.5 141.1v2.3M1103.5 120.3v2.3M1103.5 127.2v2.3M1103.5 129.6v2.3M1104.5 131.9v2.3M1105.5 134.2v2.3M1106.5 122.6v2.3M1106.5 138.8v2.3M1107.5 129.6v2.3M1107.5 131.9v2.3M1107.5 134.2v2.3M1107.5 138.8v2.3M1108.5 120.3v2.3M1108.5 124.9v2.3M1108.5 127.2v2.3M1108.5 134.2v2.3M1108.5 136.5v2.3M1108.5 143.4v2.3M1108.5 148v2.3M1109.5 115.7v2.3M1109.5 120.3v2.3M1109.5 124.9v2.3M1110.5 120.3v2.3M1110.5 129.6v2.3M1110.5 136.5v2.3M1110.5 138.8v2.3M1111.5 120.3v2.3M1111.5 122.6v2.3M1111.5 127.2v2.3M1111.5 129.6v2.3M1112.5 120.3v2.3M1112.5 131.9v2.3M1112.5 138.8v2.3M1112.5 141.1v2.3M1112.5 143.4v2.3M1113.5 118v2.3M1113.5 127.2v2.3M1113.5 136.5v2.3M1113.5 141.1v2.3M1113.5 143.4v2.3M1114.5 118v2.3M1114.5 120.3v2.3M1114.5 124.9v2.3M1114.5 138.8v2.3M1114.5 141.1v2.3M1114.5 145.7v2.3M1115.5 120.3v2.3M1115.5 122.6v2.3M1115.5 134.2v2.3M1115.5 138.8v2.3M1115.5 141.1v2.3M1116.5 131.9v2.3M1116.5 134.2v2.3M1117.5 115.7v2.3M1117.5 118v2.3M1117.5 122.6v2.3M1117.5 124.9v2.3M1117.5 131.9v2.3M1117.5 134.2v2.3M1117.5 136.5v2.3M1118.5 129.6v2.3M1118.5 131.9v2.3M1118.5 136.5v2.3M1118.5 138.8v2.3M1118.5 141.1v2.3M1119.5 122.6v2.3M1119.5 134.2v2.3M1119.5 138.8v2.3M1119.5 141.1v2.3M1119.5 143.4v2.3M1120.5 120.3v2.3M1120.5 129.6v2.3M1120.5 138.8v2.3M1120.5 141.1v2.3M1121.5 122.6v2.3M1121.5 124.9v2.3M1121.5 134.2v2.3M1121.5 136.5v2.3M1121.5 143.4v2.3" stroke="#0080ff"/>
<path d="M669.5 141.1v2.3M670.5 115.7v2.3M670.5 120.3v2.3M670.5 122.6v2.3M670.5 124.9v2.3M671.5 120.3v2.3M671.5 131.9v2.3M671.5 138.8v2.3M672.5 115.7v2.3M672.5 131.9v2.3M674.5 122.6v2.3M674.5 136.5v2.3M675.5 122.6v2.3M675.5 129.6v2.3M675.5 134.2v2.3M676.5 138.8v2.3M677.5 129.6v2.3M678.5 115.7v2.3M679.5 131.9v2.3M680.5 131.9v2.3M681.5 118v2.3M681.5 138.8v2.3M682.5 120.3v2.3M682.5 127.2v2.3M682.5 131.9v2.3M683.5 115.7v2.3M684.5 124.9v2.3M684.5 131.9v2.3M684.5 136.5v2.3M685.5 118v2.3M685.5 120.3v2.3M685.5 124.9v2.3M685.5 127.2v2.3M685.5 131.9v2.3M685.5 134.2v2.3M686.5 120.3v2.3M687.5 131.9v2.3M687.5 138.8v2.3M688.5 115.7v2.3M688.5 120.3v2.3M689.5 129.6v2.3M689.5 131.9v2.3M690.5 122.6v2.3M690.5 138.8v2.3M691.5 138.8v2.3M691.5 141.1v2.3M692.5 122.6v2.3M692.5 124.9v2.3M692.5 131.9v2.3M692.5 134.2v2.3M693.5 127.2v2.3M693.5 138.8v2.3M695.5 118v2.3M695.5 122.6v2.3M695.5 124.9v2.3M695.5 138.8v2.3M696.5 124.9v2.3M696.5 127.2v2.3M697.5 115.7v2.3M698.5 118v2.3M698.5 134.2v2.3M698.5 138.8v2.3M699.5 136.5v2.3M700.5 115.7v2.3M701.5 118v2.3M701.5 141.1v2.3M702.5 118v2.3M702.5 131.9v2.3M702.5 134.2v2.3M703.5 118v2.3M703.5 127.2v2.3M703.5 131.9v2.3M704.5 134.2v2.3M705.5 115.7v2.3M705.5 120.3v2.3M706.5 122.6v2.3M706.5 131.9v2.3M708.5 115.7v2.3M708.5 127.2v2.3M709.5 122.6v2.3M710.5 127.2v2.3M712.5 129.6v2.3M712.5 136.5v2.3M712.5 138.8v2.3M713.5 122.6v2.3M713.5 136.5v2.3M713.5 138.8v2.3M714.5 115.7v2.3M714.5 118v2.3M714.5 122.6v2.3M714.5 136.5v2.3M715.5 118v2.3M715.5 129.6v2.3M715.5 136.5v2.3M716.5 122.6v2.3M716.5 129.6v2.3M717.5 122.6v2.3M717.5 134.2v2.3M718.5 120.3v2.3M718.5 122.6v2.3M718.5 127.2v2.3M718.5 131.9v2.3M718.5 136.5v2.3M719.5 120.3v2.3M719.5 122.6v2.3M719.5 136.5v2.3M720.5 115.7v2.3M720.5 118v2.3M720.5 122.6v2.3M720.5 134.2v2.3M720.5 138.8v2.3M722.5 127.2v2.3M722.5 129.6v2.3M722.5 138.8v2.3M723.5 138.8v2.3M724.5 127.2v2.3M724.5 138.8v2.3M725.5 124.9v2.3M725.5 127.2v2.3M725.5 129.6v2.3M726.5 127.2v2.3M726.5 131.9v2.3M726.5 138.8v2.3M727.5 124.9v2.3M728.5 129.6v2.3M728.5 141.1v2.3M729.5 115.7v2.3M730.5 118v2.3M730.5 127.2v2.3M730.5 136.5v2.3M730.5 138.8v2.3M731.5 118v2.3M731.5 124.9v2.3M732.5 115.7v2.3M733.5 118v2.3M733.5 122.6v2.3M733.5 127.2v2.3M735.5 118v2.3M735.5 120.3v2.3M735.5 124.9v2.3M735.5 129.6v2.3M735.5 131.9v2.3M735.5 141.1v2.3M736.5 124.9v2.3M736.5 127.2v2.3M736.5 136.5v2.3M738.5 122.6v2.3M738.5 136.5v2.3M738.5 141.1v2.3M739.5 131.9v2.3M740.5 115.7v2.3M740.5 120.3v2.3M740.5 127.2v2.3M740.5 138.8v2.3M741.5 118v2.3M741.5 141.1v2.3M742.5 118v2.3M742.5 129.6v2.3M743.5 120.3v2.3M743.5 127.2v2.3M743.5 131.9v2.3M744.5 120.3v2.3M744.5 122.6v2.3M745.5 118v2.3M745.5 131.9v2.3M746.5 115.7v2.3M746.5 138.8v2.3M747.5 131.9v2.3M748.5 136.5v2.3M749.5 115.7v2.3M749.5 120.3v2.3M749.5 122.6v2.3M750.5 124.9v2.3M750.5 136.5v2.3M750.5 141.1v2.3M751.5 115.7v2.3M751.5 122.6v2.3M751.5 127.2v2.3M752.5 127.2v2.3M752.5 134.2v2.3M752.5 141.1v2.3M753.5 122.6v2.3M753.5 134.2v2.3M755.5 115.7v2.3M755.5 124.9v2.3M755.5 131.9v2.3M755.5 141.1v2.3M757.5 124.9v2.3M757.5 129.6v2.3M757.5 136.5v2.3M757.5 141.1v2.3M758.5 122.6v2.3M758.5 129.6v2.3M760.5 134.2v2.3M760.5 141.1v2.3M761.5 122.6v2.3M762.5 131.9v2.3M762.5 138.8v2.3M762.5 141.1v2.3M763.5 118v2.3M763.5 124.9v2.3M763.5 138.8v2.3M763.5 141.1v2.3M764.5 134.2v2.3M765.5 115.7v2.3M765.5 136.5v2.3M765.5 141.1v2.3M766.5 118v2.3M766.5 134.2v2.3M768.5 120.3v2.3M769.5 124.9v2.3M771.5 120.3v2.3M771.5 129.6v2.3M771.5 134.2v2.3M771.5 136.5v2.3M773.5 127.2v2.3M773.5 138.8v2.3M775.5 124.9v2.3M776.5 118v2.3M776.5 131.9v2.3M777.5 127.2v2.3M778.5 134.2v2.3M779.5 122.6v2.3M779.5 124.9v2.3M779.5 136.5v2.3M779.5 138.8v2.3M779.5 141.1v2.3M780.5 127.2v2.3M780.5 136.5v2.3M781.5 115.7v2.3M781.5 122.6v2.3M782.5 127.2v2.3M782.5 136.5v2.3M783.5 118v2.3M783.5 136.5v2.3M783.5 141.1v2.3M784.5 115.7v2.3M784.5 118v2.3M784.5 120.3v2.3M784.5 122.6v2.3M784.5 124.9v2.3M784.5 129.6v2.3M784.5 136.5v2.3M784.5 141.1v2.3M785.5 118v2.3M785.5 127.2v2.3M786.5 118v2.3M786.5 134.2v2.3M787.5 138.8v2.3M788.5 131.9v2.3M788.5 136.5v2.3M789.5 122.6v2.3M789.5 131.9v2.3M791.5 134.2v2.3M792.5 127.2v2.3M792.5 136.5v2.3M792.5 138.8v2.3M793.5 120.3v2.3M793.5 122.6v2.3M793.5 134.2v2.3M794.5 127.2v2.3M794.5 138.8v2.3M795.5 129.6v2.3M795.5 136.5v2.3M796.5 122.6v2.3M796.5 129.6v2.3M796.5 134.2v2.3M796.5 138.8v2.3M797.5 115.7v2.3M797.5 124.9v2.3M798.5 115.7v2.3M798.5 138.8v2.3M799.5 122.6v2.3M799.5 141.1v2.3M800.5 120.3v2.3M800.5 127.2v2.3M800.5 129.6v2.3M801.5 118v2.3M801.5 134.2v2.3M802.5 118v2.3M802.5 138.8v2.3M803.5 118v2.3M803.5 120.3v2.3M804.5 118v2.3M804.5 124.9v2.3M804.5 134.2v2.3M804.5 138.8v2.3M805.5 120.3v2.3M806.5 120.3v2.3M806.5 138.8v2.3M807.5 118v2.3M808.5 118v2.3M808.5 120.3v2.3M808.5 134.2v2.3M809.5 141.1v2.3M810.5 127.2v2.3M810.5 136.5v2.3M811.5 124.9v2.3M811.5 134.2v2.3M811.5 136.5v2.3M812.5 122.6v2.3M813.5 118v2.3M814.5 122.6v2.3M815.5 131.9v2.3M816.5 118v2.3M816.5 120.3v2.3M816.5 122.6v2.3M816.5 127.2v2.3M816.5 136.5v2.3M816.5 138.8v2.3M818.5 124.9v2.3M818.5 127.2v2.3M818.5 136.5v2.3M818.5 138.8v2.3M818.5 141.1v2.3M819.5 120.3v2.3M819.5 131.9v2.3M820.5 129.6v2.3M820.5 131.9v2.3M821.5 131.9v2.3M821.5 136.5v2.3M821.5 138.8v2.3M822.5 129.6v2.3M822.5 134.2v2.3M822.5 136.5v2.3M822.5 138.8v2.3M823.5 115.7v2.3M824.5 120.3v2.3M825.5 141.1v2.3M826.5 118v2.3M826.5 127.2v2.3M826.5 129.6v2.3M827.5 124.9v2.3M827.5 141.1v2.3M828.5 136.5v2.3M829.5 129.6v2.3M830.5 134.2v2.3M830.5 138.8v2.3M831.5 115.7v2.3M831.5 120.3v2.3M832.5 124.9v2.3M832.5 141.1v2.3M833.5 122.6v2.3M833.5 136.5v2.3M833.5 138.8v2.3M833.5 141.1v2.3M834.5 122.6v2.3M834.5 129.6v2.3M834.5 131.9v2.3M834.5 136.5v2.3M835.5 127.2v2.3M835.5 129.6v2.3M835.5 141.1v2.3M836.5 124.9v2.3M836.5 134.2v2.3M836.5 138.8v2.3M837.5 120.3v2.3M837.5 122.6v2.3M837.5 124.9v2.3M837.5 131.9v2.3M837.5 134.2v2.3M837.5 138.8v2.3M837.5 141.1v2.3M839.5 118v2.3M839.5 122.6v2.3M840.5 118v2.3M840.5 136.5v2.3M840.5 141.1v2.3M841.5 120.3v2.3M841.5 131.9v2.3M842.5 136.5v2.3M842.5 141.1v2.3M843.5 115.7v2.3M843.5 138.8v2.3M844.5 136.5v2.3M845.5 136.5v2.3M846.5 118v2.3M846.5 131.9v2.3M846.5 141.1v2.3M848.5 141.1v2.3M849.5 118v2.3M850.5 122.6v2.3M850.5 136.5v2.3M851.5 124.9v2.3M852.5 127.2v2.3M852.5 129.6v2.3M852.5 134.2v2.3M853.5 115.7v2.3M854.5 120.3v2.3M854.5 129.6v2.3M856.5 122.6v2.3M857.5 134.2v2.3M857.5 138.8v2.3M857.5 141.1v2.3M858.5 118v2.3M860.5 120.3v2.3M862.5 136.5v2.3M863.5 131.9v2.3M863.5 136.5v2.3M864.5 136.5v2.3M864.5 138.8v2.3M864.5 141.1v2.3M865.5 122.6v2.3M865.5 129.6v2.3M866.5 124.9v2.3M866.5 129.6v2.3M867.5 115.7v2.3M867.5 120.3v2.3M867.5 129.6v2.3M867.5 131.9v2.3M867.5 138.8v2.3M868.5 120.3v2.3M868.5 134.2v2.3M869.5 115.7v2.3M869.5 122.6v2.3M869.5 129.6v2.3M869.5 136.5v2.3M869.5 138.8v2.3M870.5 115.7v2.3M870.5 120.3v2.3M870.5 131.9v2.3M871.5 115.7v2.3M872.5 136.5v2.3M872.5 138.8v2.3M872.5 141.1v2.3M873.5 124.9v2.3M873.5 127.2v2.3M873.5 129.6v2.3M873.5 136.5v2.3M873.5 141.1v2.3M874.5 118v2.3M874.5 136.5v2.3M875.5 115.7v2.3M875.5 122.6v2.3M875.5 129.6v2.3M875.5 138.8v2.3M875.5 141.1v2.3M876.5 115.7v2.3M876.5 118v2.3M876.5 129.6v2.3M877.5 138.8v2.3M878.5 120.3v2.3M878.5 141.1v2.3M879.5 120.3v2.3M880.5 120.3v2.3M880.5 124.9v2.3M880.5 129.6v2.3M881.5 115.7v2.3M882.5 120.3v2.3M882.5 122.6v2.3M882.5 129.6v2.3M882.5 131.9v2.3M883.5 127.2v2.3M883.5 129.6v2.3M883.5 141.1v2.3M884.5 127.2v2.3M885.5 118v2.3M885.5 131.9v2.3M885.5 134.2v2.3M886.5 138.8v2.3M887.5 129.6v2.3M887.5 134.2v2.3M887.5 136.5v2.3M888.5 124.9v2.3M888.5 129.6v2.3M888.5 141.1v2.3M889.5 124.9v2.3M890.5 138.8v2.3M891.5 138.8v2.3M892.5 115.7v2.3M892.5 118v2.3M892.5 131.9v2.3M893.5 127.2v2.3M893.5 138.8v2.3M894.5 120.3v2.3M894.5 129.6v2.3M894.5 141.1v2.3M895.5 120.3v2.3M896.5 115.7v2.3M896.5 136.5v2.3M896.5 141.1v2.3M897.5 118v2.3M897.5 134.2v2.3M897.5 136.5v2.3M899.5 134.2v2.3M900.5 122.6v2.3M900.5 138.8v2.3M901.5 115.7v2.3M901.5 122.6v2.3M902.5 127.2v2.3M902.5 129.6v2.3M902.5 134.2v2.3M903.5 118v2.3M903.5 122.6v2.3M903.5 124.9v2.3M904.5 115.7v2.3M905.5 120.3v2.3M905.5 124.9v2.3M905.5 129.6v2.3M905.5 138.8v2.3M905.5 141.1v2.3M906.5 118v2.3M906.5 120.3v2.3M907.5 118v2.3M907.5 120.3v2.3M907.5 129.6v2.3M907.5 141.1v2.3M909.5 124.9v2.3M910.5 122.6v2.3M911.5 115.7v2.3M912.5 124.9v2.3M913.5 124.9v2.3M914.5 124.9v2.3M916.5 115.7v2.3M917.5 120.3v2.3M917.5 127.2v2.3M918.5 124.9v2.3M919.5 118v2.3M919.5 122.6v2.3M922.5 115.7v2.3M922.5 120.3v2.3M923.5 120.3v2.3M924.5 136.5v2.3M926.5 120.3v2.3M927.5 115.7v2.3M927.5 118v2.3M927.5 120.3v2.3M927.5 122.6v2.3M929.5 124.9v2.3M929.5 129.6v2.3M931.5 118v2.3M931.5 120.3v2.3M932.5 124.9v2.3M936.5 124.9v2.3M936.5 129.6v2.3M937.5 122.6v2.3M938.5 120.3v2.3M938.5 134.2v2.3M939.5 118v2.3M940.5 122.6v2.3M941.5 127.2v2.3M942.5 115.7v2.3M942.5 118v2.3M942.5 122.6v2.3M942.5 131.9v2.3M943.5 118v2.3M943.5 134.2v2.3M945.5 120.3v2.3M945.5 134.2v2.3M946.5 122.6v2.3M946.5 129.6v2.3M947.5 120.3v2.3M947.5 124.9v2.3M948.5 115.7v2.3M949.5 122.6v2.3M949.5 134.2v2.3M949.5 136.5v2.3M951.5 136.5v2.3M952.5 118v2.3M953.5 118v2.3M954.5 118v2.3M954.5 120.3v2.3M957.5 129.6v2.3M957.5 136.5v2.3M958.5 120.3v2.3M960.5 124.9v2.3M962.5 127.2v2.3M962.5 141.1v2.3M963.5 120.3v2.3M963.5 129.6v2.3M964.5 120.3v2.3M964.5 122.6v2.3M965.5 122.6v2.3M967.5 118v2.3M967.5 120.3v2.3M968.5 118v2.3M968.5 120.3v2.3M968.5 122.6v2.3M969.5 120.3v2.3M970.5 134.2v2.3M973.5 134.2v2.3M975.5 118v2.3M975.5 120.3v2.3M977.5 129.6v2.3M977.5 131.9v2.3M978.5 122.6v2.3M979.5 118v2.3M979.5 134.2v2.3M980.5 124.9v2.3M982.5 124.9v2.3M982.5 127.2v2.3M983.5 127.2v2.3M984.5 124.9v2.3M984.5 136.5v2.3M986.5 115.7v2.3M986.5 122.6v2.3M987.5 118v2.3M987.5 122.6v2.3M987.5 127.2v2.3M988.5 115.7v2.3M989.5 127.2v2.3M989.5 129.6v2.3M990.5 122.6v2.3M990.5 138.8v2.3M993.5 131.9v2.3M994.5 122.6v2.3M995.5 122.6v2.3M999.5 118v2.3M999.5 122.6v2.3M1000.5 134.2v2.3M1004.5 122.6v2.3M1006.5 134.2v2.3M1006.5 136.5v2.3M1007.5 124.9v2.3M1007.5 129.6v2.3M1008.5 115.7v2.3M1008.5 122.6v2.3M1009.5 120.3v2.3M1010.5 118v2.3M1011.5 134.2v2.3M1012.5 120.3v2.3M1012.5 131.9v2.3M1018.5 127.2v2.3M1018.5 131.9v2.3M1019.5 120.3v2.3M1020.5 127.2v2.3M1022.5 120.3v2.3M1022.5 134.2v2.3M1023.5 115.7v2.3M1023.5 127.2v2.3M1023.5 134.2v2.3M1024.5 120.3v2.3M1025.5 118v2.3M1025.5 120.3v2.3M1026.5 118v2.3M1026.5 129.6v2.3M1026.5 136.5v2.3M1027.5 124.9v2.3M1028.5 120.3v2.3M1028.5 122.6v2.3M1029.5 115.7v2.3M1029.5 120.3v2.3M1030.5 131.9v2.3M1035.5 118v2.3M1035.5 138.8v2.3M1036.5 129.6v2.3M1038.5 134.2v2.3M1039.5 122.6v2.3M1040.5 115.7v2.3M1040.5 120.3v2.3M1040.5 122.6v2.3M1040.5 136.5v2.3M1041.5 120.3v2.3M1041.5 127.2v2.3M1042.5 118v2.3M1042.5 122.6v2.3M1043.5 124.9v2.3M1044.5 120.3v2.3M1045.5 115.7v2.3M1045.5 122.6v2.3M1045.5 127.2v2.3M1045.5 134.2v2.3M1046.5 134.2v2.3M1046.5 136.5v2.3M1047.5 118v2.3M1048.5 115.7v2.3M1048.5 124.9v2.3M1048.5 131.9v2.3M1048.5 136.5v2.3M1049.5 124.9v2.3M1050.5 129.6v2.3M1051.5 134.2v2.3M1052.5 124.9v2.3M1053.5 118v2.3M1053.5 120.3v2.3M1054.5 115.7v2.3M1054.5 120.3v2.3M1054.5 124.9v2.3M1054.5 127.2v2.3M1054.5 131.9v2.3M1054.5 134.2v2.3M1055.5 115.7v2.3M1056.5 118v2.3M1056.5 120.3v2.3M1056.5 124.9v2.3M1056.5 129.6v2.3M1057.5 118v2.3M1059.5 120.3v2.3M1059.5 122.6v2.3M1059.5 127.2v2.3M1059.5 136.5v2.3M1060.5 124.9v2.3M1060.5 129.6v2.3M1061.5 120.3v2.3M1062.5 115.7v2.3M1062.5 120.3v2.3M1063.5 118v2.3M1063.5 120.3v2.3M1064.5 115.7v2.3M1064.5 122.6v2.3M1064.5 124.9v2.3M1064.5 136.5v2.3M1065.5 122.6v2.3M1065.5 138.8v2.3M1069.5 115.7v2.3M1069.5 120.3v2.3M1069.5 122.6v2.3M1071.5 120.3v2.3M1071.5 122.6v2.3M1072.5 115.7v2.3M1073.5 115.7v2.3M1073.5 124.9v2.3M1073.5 134.2v2.3M1074.5 120.3v2.3M1075.5 138.8v2.3M1077.5 118v2.3M1077.5 138.8v2.3M1078.5 118v2.3M1078.5 129.6v2.3M1079.5 118v2.3M1079.5 124.9v2.3M1079.5 127.2v2.3M1079.5 129.6v2.3M1081.5 118v2.3M1081.5 122.6v2.3M1084.5 115.7v2.3M1086.5 122.6v2.3M1087.5 136.5v2.3M1088.5 115.7v2.3M1088.5 118v2.3M1089.5 115.7v2.3M1089.5 118v2.3M1089.5 124.9v2.3M1091.5 134.2v2.3M1092.5 120.3v2.3M1093.5 124.9v2.3M1094.5 118v2.3M1094.5 131.9v2.3M1095.5 118v2.3M1096.5 134.2v2.3M1097.5 131.9v2.3M1097.5 141.1v2.3M1098.5 118v2.3M1098.5 127.2v2.3M1098.5 131.9v2.3M1099.5 118v2.3M1099.5 120.3v2.3M1099.5 124.9v2.3M1100.5 120.3v2.3M1100.5 122.6v2.3M1100.5 131.9v2.3M1101.5 120.3v2.3M1102.5 118v2.3M1103.5 118v2.3M1104.5 136.5v2.3M1105.5 122.6v2.3M1105.5 131.9v2.3M1106.5 118v2.3M1106.5 120.3v2.3M1108.5 115.7v2.3M1109.5 118v2.3M1109.5 127.2v2.3M1109.5 134.2v2.3M1109.5 141.1v2.3M1110.5 127.2v2.3M1110.5 134.2v2.3M1111.5 134.2v2.3M1112.5 118v2.3M1112.5 129.6v2.3M1113.5 120.3v2.3M1113.5 122.6v2.3M1117.5 120.3v2.3M1118.5 118v2.3M1119.5 118v2.3M1119.5 120.3v2.3M1119.5 136.5v2.3M1120.5 122.6v2.3M1120.5 127.2v2.3M1121.5 115.7v2.3" stroke="#0008e0"/>
</g>
<rect x="668.6" y="41.7" width="453.8" height="74" fill="none" stroke="#000" stroke-width="1.2"/>
<line x1="721.5" y1="41.7" x2="721.5" y2="52.2" stroke="#383838" stroke-width="1.25" />
<line x1="721.5" y1="115.7" x2="721.5" y2="105.2" stroke="#383838" stroke-width="1.25" />
<line x1="812.9" y1="41.7" x2="812.9" y2="52.2" stroke="#383838" stroke-width="1.25" />
<line x1="812.9" y1="115.7" x2="812.9" y2="105.2" stroke="#383838" stroke-width="1.25" />
<line x1="904.3" y1="41.7" x2="904.3" y2="52.2" stroke="#383838" stroke-width="1.25" />
<line x1="904.3" y1="115.7" x2="904.3" y2="105.2" stroke="#383838" stroke-width="1.25" />
<line x1="995.7" y1="41.7" x2="995.7" y2="52.2" stroke="#383838" stroke-width="1.25" />
<line x1="995.7" y1="115.7" x2="995.7" y2="105.2" stroke="#383838" stroke-width="1.25" />
<line x1="1087.1" y1="41.7" x2="1087.1" y2="52.2" stroke="#383838" stroke-width="1.25" />
<line x1="1087.1" y1="115.7" x2="1087.1" y2="105.2" stroke="#383838" stroke-width="1.25" />
<line x1="684.9" y1="41.7" x2="684.9" y2="45.3" stroke="#000" stroke-width="0.9" />
<line x1="684.9" y1="115.7" x2="684.9" y2="112.1" stroke="#000" stroke-width="0.9" />
<line x1="703.2" y1="41.7" x2="703.2" y2="45.3" stroke="#000" stroke-width="0.9" />
<line x1="703.2" y1="115.7" x2="703.2" y2="112.1" stroke="#000" stroke-width="0.9" />
<line x1="739.8" y1="41.7" x2="739.8" y2="45.3" stroke="#000" stroke-width="0.9" />
<line x1="739.8" y1="115.7" x2="739.8" y2="112.1" stroke="#000" stroke-width="0.9" />
<line x1="758.1" y1="41.7" x2="758.1" y2="45.3" stroke="#000" stroke-width="0.9" />
<line x1="758.1" y1="115.7" x2="758.1" y2="112.1" stroke="#000" stroke-width="0.9" />
<line x1="776.3" y1="41.7" x2="776.3" y2="45.3" stroke="#000" stroke-width="0.9" />
<line x1="776.3" y1="115.7" x2="776.3" y2="112.1" stroke="#000" stroke-width="0.9" />
<line x1="794.6" y1="41.7" x2="794.6" y2="45.3" stroke="#000" stroke-width="0.9" />
<line x1="794.6" y1="115.7" x2="794.6" y2="112.1" stroke="#000" stroke-width="0.9" />
<line x1="831.2" y1="41.7" x2="831.2" y2="45.3" stroke="#000" stroke-width="0.9" />
<line x1="831.2" y1="115.7" x2="831.2" y2="112.1" stroke="#000" stroke-width="0.9" />
<line x1="849.5" y1="41.7" x2="849.5" y2="45.3" stroke="#000" stroke-width="0.9" />
<line x1="849.5" y1="115.7" x2="849.5" y2="112.1" stroke="#000" stroke-width="0.9" />
<line x1="867.7" y1="41.7" x2="867.7" y2="45.3" stroke="#000" stroke-width="0.9" />
<line x1="867.7" y1="115.7" x2="867.7" y2="112.1" stroke="#000" stroke-width="0.9" />
<line x1="886" y1="41.7" x2="886" y2="45.3" stroke="#000" stroke-width="0.9" />
<line x1="886" y1="115.7" x2="886" y2="112.1" stroke="#000" stroke-width="0.9" />
<line x1="922.6" y1="41.7" x2="922.6" y2="45.3" stroke="#000" stroke-width="0.9" />
<line x1="922.6" y1="115.7" x2="922.6" y2="112.1" stroke="#000" stroke-width="0.9" />
<line x1="940.9" y1="41.7" x2="940.9" y2="45.3" stroke="#000" stroke-width="0.9" />
<line x1="940.9" y1="115.7" x2="940.9" y2="112.1" stroke="#000" stroke-width="0.9" />
<line x1="959.1" y1="41.7" x2="959.1" y2="45.3" stroke="#000" stroke-width="0.9" />
<line x1="959.1" y1="115.7" x2="959.1" y2="112.1" stroke="#000" stroke-width="0.9" />
<line x1="977.4" y1="41.7" x2="977.4" y2="45.3" stroke="#000" stroke-width="0.9" />
<line x1="977.4" y1="115.7" x2="977.4" y2="112.1" stroke="#000" stroke-width="0.9" />
<line x1="1014" y1="41.7" x2="1014" y2="45.3" stroke="#000" stroke-width="0.9" />
<line x1="1014" y1="115.7" x2="1014" y2="112.1" stroke="#000" stroke-width="0.9" />
<line x1="1032.3" y1="41.7" x2="1032.3" y2="45.3" stroke="#000" stroke-width="0.9" />
<line x1="1032.3" y1="115.7" x2="1032.3" y2="112.1" stroke="#000" stroke-width="0.9" />
<line x1="1050.5" y1="41.7" x2="1050.5" y2="45.3" stroke="#000" stroke-width="0.9" />
<line x1="1050.5" y1="115.7" x2="1050.5" y2="112.1" stroke="#000" stroke-width="0.9" />
<line x1="1068.8" y1="41.7" x2="1068.8" y2="45.3" stroke="#000" stroke-width="0.9" />
<line x1="1068.8" y1="115.7" x2="1068.8" y2="112.1" stroke="#000" stroke-width="0.9" />
<line x1="1105.4" y1="41.7" x2="1105.4" y2="45.3" stroke="#000" stroke-width="0.9" />
<line x1="1105.4" y1="115.7" x2="1105.4" y2="112.1" stroke="#000" stroke-width="0.9" />
<line x1="668.6" y1="104.3" x2="674.6" y2="104.3" stroke="#000" stroke-width="0.9" />
<line x1="1122.4" y1="104.3" x2="1116.4" y2="104.3" stroke="#000" stroke-width="0.9" />
<line x1="668.6" y1="89.8" x2="674.6" y2="89.8" stroke="#000" stroke-width="0.9" />
<line x1="1122.4" y1="89.8" x2="1116.4" y2="89.8" stroke="#000" stroke-width="0.9" />
<line x1="668.6" y1="75.3" x2="674.6" y2="75.3" stroke="#000" stroke-width="0.9" />
<line x1="1122.4" y1="75.3" x2="1116.4" y2="75.3" stroke="#000" stroke-width="0.9" />
<line x1="668.6" y1="60.8" x2="674.6" y2="60.8" stroke="#000" stroke-width="0.9" />
<line x1="1122.4" y1="60.8" x2="1116.4" y2="60.8" stroke="#000" stroke-width="0.9" />
<line x1="668.6" y1="46.3" x2="674.6" y2="46.3" stroke="#000" stroke-width="0.9" />
<line x1="1122.4" y1="46.3" x2="1116.4" y2="46.3" stroke="#000" stroke-width="0.9" />
<line x1="668.6" y1="113" x2="670.9" y2="113" stroke="#222" stroke-width="0.8" />
<line x1="1122.4" y1="113" x2="1120.1" y2="113" stroke="#222" stroke-width="0.8" />
<line x1="668.6" y1="110.1" x2="670.9" y2="110.1" stroke="#222" stroke-width="0.8" />
<line x1="1122.4" y1="110.1" x2="1120.1" y2="110.1" stroke="#222" stroke-width="0.8" />
<line x1="668.6" y1="107.2" x2="670.9" y2="107.2" stroke="#222" stroke-width="0.8" />
<line x1="1122.4" y1="107.2" x2="1120.1" y2="107.2" stroke="#222" stroke-width="0.8" />
<line x1="668.6" y1="101.4" x2="670.9" y2="101.4" stroke="#222" stroke-width="0.8" />
<line x1="1122.4" y1="101.4" x2="1120.1" y2="101.4" stroke="#222" stroke-width="0.8" />
<line x1="668.6" y1="98.5" x2="670.9" y2="98.5" stroke="#222" stroke-width="0.8" />
<line x1="1122.4" y1="98.5" x2="1120.1" y2="98.5" stroke="#222" stroke-width="0.8" />
<line x1="668.6" y1="95.6" x2="670.9" y2="95.6" stroke="#222" stroke-width="0.8" />
<line x1="1122.4" y1="95.6" x2="1120.1" y2="95.6" stroke="#222" stroke-width="0.8" />
<line x1="668.6" y1="92.7" x2="670.9" y2="92.7" stroke="#222" stroke-width="0.8" />
<line x1="1122.4" y1="92.7" x2="1120.1" y2="92.7" stroke="#222" stroke-width="0.8" />
<line x1="668.6" y1="86.9" x2="670.9" y2="86.9" stroke="#222" stroke-width="0.8" />
<line x1="1122.4" y1="86.9" x2="1120.1" y2="86.9" stroke="#222" stroke-width="0.8" />
<line x1="668.6" y1="84" x2="670.9" y2="84" stroke="#222" stroke-width="0.8" />
<line x1="1122.4" y1="84" x2="1120.1" y2="84" stroke="#222" stroke-width="0.8" />
<line x1="668.6" y1="81.1" x2="670.9" y2="81.1" stroke="#222" stroke-width="0.8" />
<line x1="1122.4" y1="81.1" x2="1120.1" y2="81.1" stroke="#222" stroke-width="0.8" />
<line x1="668.6" y1="78.2" x2="670.9" y2="78.2" stroke="#222" stroke-width="0.8" />
<line x1="1122.4" y1="78.2" x2="1120.1" y2="78.2" stroke="#222" stroke-width="0.8" />
<line x1="668.6" y1="72.4" x2="670.9" y2="72.4" stroke="#222" stroke-width="0.8" />
<line x1="1122.4" y1="72.4" x2="1120.1" y2="72.4" stroke="#222" stroke-width="0.8" />
<line x1="668.6" y1="69.5" x2="670.9" y2="69.5" stroke="#222" stroke-width="0.8" />
<line x1="1122.4" y1="69.5" x2="1120.1" y2="69.5" stroke="#222" stroke-width="0.8" />
<line x1="668.6" y1="66.6" x2="670.9" y2="66.6" stroke="#222" stroke-width="0.8" />
<line x1="1122.4" y1="66.6" x2="1120.1" y2="66.6" stroke="#222" stroke-width="0.8" />
<line x1="668.6" y1="63.7" x2="670.9" y2="63.7" stroke="#222" stroke-width="0.8" />
<line x1="1122.4" y1="63.7" x2="1120.1" y2="63.7" stroke="#222" stroke-width="0.8" />
<line x1="668.6" y1="57.9" x2="670.9" y2="57.9" stroke="#222" stroke-width="0.8" />
<line x1="1122.4" y1="57.9" x2="1120.1" y2="57.9" stroke="#222" stroke-width="0.8" />
<line x1="668.6" y1="55" x2="670.9" y2="55" stroke="#222" stroke-width="0.8" />
<line x1="1122.4" y1="55" x2="1120.1" y2="55" stroke="#222" stroke-width="0.8" />
<line x1="668.6" y1="52.1" x2="670.9" y2="52.1" stroke="#222" stroke-width="0.8" />
<line x1="1122.4" y1="52.1" x2="1120.1" y2="52.1" stroke="#222" stroke-width="0.8" />
<line x1="668.6" y1="49.2" x2="670.9" y2="49.2" stroke="#222" stroke-width="0.8" />
<line x1="1122.4" y1="49.2" x2="1120.1" y2="49.2" stroke="#222" stroke-width="0.8" />
<line x1="668.6" y1="43.4" x2="670.9" y2="43.4" stroke="#222" stroke-width="0.8" />
<line x1="1122.4" y1="43.4" x2="1120.1" y2="43.4" stroke="#222" stroke-width="0.8" />
<text x="666" y="108.1" font-size="10.67" fill="#000" text-anchor="end" >0</text>
<text x="666" y="93.8" font-size="10.67" fill="#000" text-anchor="end" >10</text>
<text x="666" y="79.3" font-size="10.67" fill="#000" text-anchor="end" >20</text>
<text x="666" y="64.8" font-size="10.67" fill="#000" text-anchor="end" >30</text>
<text x="666" y="50.1" font-size="10.67" fill="#000" text-anchor="end" >40</text>
<text transform="translate(640,79) rotate(-90)" font-size="10.67" fill="#000" text-anchor="middle">B<tspan font-size="8.6" dy="3">LMN</tspan><tspan dy="-3">&#8203;</tspan> [nT]</text>
<line x1="674.5" y1="54.5" x2="692.5" y2="54.5" stroke="#4848ff" stroke-width="1.0" />
<text x="693.5" y="58" font-size="9.3" fill="#0000ff" text-anchor="start" >B<tspan font-size="6.3" dy="3.3">L</tspan><tspan dy="-3.3">&#8203;</tspan></text>
<line x1="674.5" y1="79.3" x2="692.5" y2="79.3" stroke="#30e830" stroke-width="1.0" />
<text x="693.5" y="82.8" font-size="9.3" fill="#00ff00" text-anchor="start" >B<tspan font-size="6.3" dy="3.3">M</tspan><tspan dy="-3.3">&#8203;</tspan></text>
<line x1="674.5" y1="103.8" x2="692.5" y2="103.8" stroke="#ff4040" stroke-width="1.0" />
<text x="693.5" y="107.3" font-size="9.3" fill="#ff0000" text-anchor="start" >B<tspan font-size="6.3" dy="3.3">N</tspan><tspan dy="-3.3">&#8203;</tspan></text>
<rect x="668.6" y="115.7" width="453.8" height="73.8" fill="none" stroke="#000" stroke-width="1.2"/>
<line x1="721.5" y1="115.7" x2="721.5" y2="126.2" stroke="#383838" stroke-width="1.25" />
<line x1="721.5" y1="189.5" x2="721.5" y2="179" stroke="#383838" stroke-width="1.25" />
<line x1="812.9" y1="115.7" x2="812.9" y2="126.2" stroke="#383838" stroke-width="1.25" />
<line x1="812.9" y1="189.5" x2="812.9" y2="179" stroke="#383838" stroke-width="1.25" />
<line x1="904.3" y1="115.7" x2="904.3" y2="126.2" stroke="#383838" stroke-width="1.25" />
<line x1="904.3" y1="189.5" x2="904.3" y2="179" stroke="#383838" stroke-width="1.25" />
<line x1="995.7" y1="115.7" x2="995.7" y2="126.2" stroke="#383838" stroke-width="1.25" />
<line x1="995.7" y1="189.5" x2="995.7" y2="179" stroke="#383838" stroke-width="1.25" />
<line x1="1087.1" y1="115.7" x2="1087.1" y2="126.2" stroke="#383838" stroke-width="1.25" />
<line x1="1087.1" y1="189.5" x2="1087.1" y2="179" stroke="#383838" stroke-width="1.25" />
<line x1="684.9" y1="115.7" x2="684.9" y2="119.3" stroke="#000" stroke-width="0.9" />
<line x1="684.9" y1="189.5" x2="684.9" y2="185.9" stroke="#000" stroke-width="0.9" />
<line x1="703.2" y1="115.7" x2="703.2" y2="119.3" stroke="#000" stroke-width="0.9" />
<line x1="703.2" y1="189.5" x2="703.2" y2="185.9" stroke="#000" stroke-width="0.9" />
<line x1="739.8" y1="115.7" x2="739.8" y2="119.3" stroke="#000" stroke-width="0.9" />
<line x1="739.8" y1="189.5" x2="739.8" y2="185.9" stroke="#000" stroke-width="0.9" />
<line x1="758.1" y1="115.7" x2="758.1" y2="119.3" stroke="#000" stroke-width="0.9" />
<line x1="758.1" y1="189.5" x2="758.1" y2="185.9" stroke="#000" stroke-width="0.9" />
<line x1="776.3" y1="115.7" x2="776.3" y2="119.3" stroke="#000" stroke-width="0.9" />
<line x1="776.3" y1="189.5" x2="776.3" y2="185.9" stroke="#000" stroke-width="0.9" />
<line x1="794.6" y1="115.7" x2="794.6" y2="119.3" stroke="#000" stroke-width="0.9" />
<line x1="794.6" y1="189.5" x2="794.6" y2="185.9" stroke="#000" stroke-width="0.9" />
<line x1="831.2" y1="115.7" x2="831.2" y2="119.3" stroke="#000" stroke-width="0.9" />
<line x1="831.2" y1="189.5" x2="831.2" y2="185.9" stroke="#000" stroke-width="0.9" />
<line x1="849.5" y1="115.7" x2="849.5" y2="119.3" stroke="#000" stroke-width="0.9" />
<line x1="849.5" y1="189.5" x2="849.5" y2="185.9" stroke="#000" stroke-width="0.9" />
<line x1="867.7" y1="115.7" x2="867.7" y2="119.3" stroke="#000" stroke-width="0.9" />
<line x1="867.7" y1="189.5" x2="867.7" y2="185.9" stroke="#000" stroke-width="0.9" />
<line x1="886" y1="115.7" x2="886" y2="119.3" stroke="#000" stroke-width="0.9" />
<line x1="886" y1="189.5" x2="886" y2="185.9" stroke="#000" stroke-width="0.9" />
<line x1="922.6" y1="115.7" x2="922.6" y2="119.3" stroke="#000" stroke-width="0.9" />
<line x1="922.6" y1="189.5" x2="922.6" y2="185.9" stroke="#000" stroke-width="0.9" />
<line x1="940.9" y1="115.7" x2="940.9" y2="119.3" stroke="#000" stroke-width="0.9" />
<line x1="940.9" y1="189.5" x2="940.9" y2="185.9" stroke="#000" stroke-width="0.9" />
<line x1="959.1" y1="115.7" x2="959.1" y2="119.3" stroke="#000" stroke-width="0.9" />
<line x1="959.1" y1="189.5" x2="959.1" y2="185.9" stroke="#000" stroke-width="0.9" />
<line x1="977.4" y1="115.7" x2="977.4" y2="119.3" stroke="#000" stroke-width="0.9" />
<line x1="977.4" y1="189.5" x2="977.4" y2="185.9" stroke="#000" stroke-width="0.9" />
<line x1="1014" y1="115.7" x2="1014" y2="119.3" stroke="#000" stroke-width="0.9" />
<line x1="1014" y1="189.5" x2="1014" y2="185.9" stroke="#000" stroke-width="0.9" />
<line x1="1032.3" y1="115.7" x2="1032.3" y2="119.3" stroke="#000" stroke-width="0.9" />
<line x1="1032.3" y1="189.5" x2="1032.3" y2="185.9" stroke="#000" stroke-width="0.9" />
<line x1="1050.5" y1="115.7" x2="1050.5" y2="119.3" stroke="#000" stroke-width="0.9" />
<line x1="1050.5" y1="189.5" x2="1050.5" y2="185.9" stroke="#000" stroke-width="0.9" />
<line x1="1068.8" y1="115.7" x2="1068.8" y2="119.3" stroke="#000" stroke-width="0.9" />
<line x1="1068.8" y1="189.5" x2="1068.8" y2="185.9" stroke="#000" stroke-width="0.9" />
<line x1="1105.4" y1="115.7" x2="1105.4" y2="119.3" stroke="#000" stroke-width="0.9" />
<line x1="1105.4" y1="189.5" x2="1105.4" y2="185.9" stroke="#000" stroke-width="0.9" />
<line x1="1122.4" y1="126" x2="1116.4" y2="126" stroke="#000" stroke-width="0.9" />
<line x1="668.6" y1="126" x2="674.6" y2="126" stroke="#000" stroke-width="0.9" />
<line x1="1122.4" y1="146.8" x2="1116.4" y2="146.8" stroke="#000" stroke-width="0.9" />
<line x1="668.6" y1="146.8" x2="674.6" y2="146.8" stroke="#000" stroke-width="0.9" />
<line x1="1122.4" y1="167.8" x2="1116.4" y2="167.8" stroke="#000" stroke-width="0.9" />
<line x1="668.6" y1="167.8" x2="674.6" y2="167.8" stroke="#000" stroke-width="0.9" />
<line x1="1122.4" y1="182.5" x2="1119.6" y2="182.5" stroke="#000" stroke-width="0.7" />
<line x1="668.6" y1="182.5" x2="671.4" y2="182.5" stroke="#000" stroke-width="0.7" />
<line x1="1122.4" y1="178.8" x2="1119.6" y2="178.8" stroke="#000" stroke-width="0.7" />
<line x1="668.6" y1="178.8" x2="671.4" y2="178.8" stroke="#000" stroke-width="0.7" />
<line x1="1122.4" y1="176.2" x2="1119.6" y2="176.2" stroke="#000" stroke-width="0.7" />
<line x1="668.6" y1="176.2" x2="671.4" y2="176.2" stroke="#000" stroke-width="0.7" />
<line x1="1122.4" y1="174.2" x2="1119.6" y2="174.2" stroke="#000" stroke-width="0.7" />
<line x1="668.6" y1="174.2" x2="671.4" y2="174.2" stroke="#000" stroke-width="0.7" />
<line x1="1122.4" y1="172.5" x2="1119.6" y2="172.5" stroke="#000" stroke-width="0.7" />
<line x1="668.6" y1="172.5" x2="671.4" y2="172.5" stroke="#000" stroke-width="0.7" />
<line x1="1122.4" y1="171.1" x2="1119.6" y2="171.1" stroke="#000" stroke-width="0.7" />
<line x1="668.6" y1="171.1" x2="671.4" y2="171.1" stroke="#000" stroke-width="0.7" />
<line x1="1122.4" y1="169.9" x2="1119.6" y2="169.9" stroke="#000" stroke-width="0.7" />
<line x1="668.6" y1="169.9" x2="671.4" y2="169.9" stroke="#000" stroke-width="0.7" />
<line x1="1122.4" y1="168.9" x2="1119.6" y2="168.9" stroke="#000" stroke-width="0.7" />
<line x1="668.6" y1="168.9" x2="671.4" y2="168.9" stroke="#000" stroke-width="0.7" />
<line x1="1122.4" y1="161.5" x2="1119.6" y2="161.5" stroke="#000" stroke-width="0.7" />
<line x1="668.6" y1="161.5" x2="671.4" y2="161.5" stroke="#000" stroke-width="0.7" />
<line x1="1122.4" y1="157.8" x2="1119.6" y2="157.8" stroke="#000" stroke-width="0.7" />
<line x1="668.6" y1="157.8" x2="671.4" y2="157.8" stroke="#000" stroke-width="0.7" />
<line x1="1122.4" y1="155.2" x2="1119.6" y2="155.2" stroke="#000" stroke-width="0.7" />
<line x1="668.6" y1="155.2" x2="671.4" y2="155.2" stroke="#000" stroke-width="0.7" />
<line x1="1122.4" y1="153.2" x2="1119.6" y2="153.2" stroke="#000" stroke-width="0.7" />
<line x1="668.6" y1="153.2" x2="671.4" y2="153.2" stroke="#000" stroke-width="0.7" />
<line x1="1122.4" y1="151.5" x2="1119.6" y2="151.5" stroke="#000" stroke-width="0.7" />
<line x1="668.6" y1="151.5" x2="671.4" y2="151.5" stroke="#000" stroke-width="0.7" />
<line x1="1122.4" y1="150.1" x2="1119.6" y2="150.1" stroke="#000" stroke-width="0.7" />
<line x1="668.6" y1="150.1" x2="671.4" y2="150.1" stroke="#000" stroke-width="0.7" />
<line x1="1122.4" y1="148.9" x2="1119.6" y2="148.9" stroke="#000" stroke-width="0.7" />
<line x1="668.6" y1="148.9" x2="671.4" y2="148.9" stroke="#000" stroke-width="0.7" />
<line x1="1122.4" y1="147.9" x2="1119.6" y2="147.9" stroke="#000" stroke-width="0.7" />
<line x1="668.6" y1="147.9" x2="671.4" y2="147.9" stroke="#000" stroke-width="0.7" />
<line x1="1122.4" y1="140.5" x2="1119.6" y2="140.5" stroke="#000" stroke-width="0.7" />
<line x1="668.6" y1="140.5" x2="671.4" y2="140.5" stroke="#000" stroke-width="0.7" />
<line x1="1122.4" y1="136.8" x2="1119.6" y2="136.8" stroke="#000" stroke-width="0.7" />
<line x1="668.6" y1="136.8" x2="671.4" y2="136.8" stroke="#000" stroke-width="0.7" />
<line x1="1122.4" y1="134.2" x2="1119.6" y2="134.2" stroke="#000" stroke-width="0.7" />
<line x1="668.6" y1="134.2" x2="671.4" y2="134.2" stroke="#000" stroke-width="0.7" />
<line x1="1122.4" y1="132.2" x2="1119.6" y2="132.2" stroke="#000" stroke-width="0.7" />
<line x1="668.6" y1="132.2" x2="671.4" y2="132.2" stroke="#000" stroke-width="0.7" />
<line x1="1122.4" y1="130.5" x2="1119.6" y2="130.5" stroke="#000" stroke-width="0.7" />
<line x1="668.6" y1="130.5" x2="671.4" y2="130.5" stroke="#000" stroke-width="0.7" />
<line x1="1122.4" y1="129.1" x2="1119.6" y2="129.1" stroke="#000" stroke-width="0.7" />
<line x1="668.6" y1="129.1" x2="671.4" y2="129.1" stroke="#000" stroke-width="0.7" />
<line x1="1122.4" y1="127.9" x2="1119.6" y2="127.9" stroke="#000" stroke-width="0.7" />
<line x1="668.6" y1="127.9" x2="671.4" y2="127.9" stroke="#000" stroke-width="0.7" />
<line x1="1122.4" y1="126.9" x2="1119.6" y2="126.9" stroke="#000" stroke-width="0.7" />
<line x1="668.6" y1="126.9" x2="671.4" y2="126.9" stroke="#000" stroke-width="0.7" />
<line x1="1122.4" y1="119.7" x2="1119.6" y2="119.7" stroke="#000" stroke-width="0.7" />
<line x1="668.6" y1="119.7" x2="671.4" y2="119.7" stroke="#000" stroke-width="0.7" />
<text x="1125.3" y="130.2" font-size="10.67" fill="#000" text-anchor="start" >10<tspan font-size="7.5" dy="-4.5">4</tspan><tspan dy="4.5">&#8203;</tspan></text>
<text x="1125.3" y="151" font-size="10.67" fill="#000" text-anchor="start" >10<tspan font-size="7.5" dy="-4.5">3</tspan><tspan dy="4.5">&#8203;</tspan></text>
<text x="1125.3" y="172" font-size="10.67" fill="#000" text-anchor="start" >10<tspan font-size="7.5" dy="-4.5">2</tspan><tspan dy="4.5">&#8203;</tspan></text>
<text x="1125.3" y="193" font-size="10.67" fill="#000" text-anchor="start" >10<tspan font-size="7.5" dy="-4.5">1</tspan><tspan dy="4.5">&#8203;</tspan></text>
<text transform="translate(1155.5,153) rotate(-90)" font-size="10.67" fill="#000" text-anchor="middle">Energy (eV)</text>
<g clip-path="url(#cM3)">
<line x1="668.6" y1="230.5" x2="1122.4" y2="230.5" stroke="#282828" stroke-width="0.95" stroke-dasharray="4.3 2.1" />
<path transform="scale(.1)" d="M6686 2299l6 9 5-41 5-19 6-5 6-2 5 46 5-38 6 42 6-18 5 0 5-5 6 10 6 5 5-12 5-36 6 39 6-5 5 5 6 6 5 19 6-18 5 39 5-19 6 39 6-52 5-28 5-22 6 36 6 25 5 26 5-13 6 0 6-75 5 18 5 20 6 2 6-23 5 1 6 8 5 24 6-10 5-37 5 39 6 20 6-20 5-5 5-6 6 25 6-32 5 8 5 29 6 20 6-6 5-11 5-27 6-51 6-21 5 11 6 28 5 17 6 73 5-48 5 33 6-32 6-35 5 30 5 20 6-58 6 6 5 25 5 16 6 17 6-15 5-12 5 1 6 1 6 9 5-16 6-34 5 49 6 2 5-11 5-2 6-10 6 35 5-6 5-21 6-5 6-18 5 28 5-27 6 49 6-18 5-6 5 20 6 32 6-36 5-4 6-47 5 57 6-21 5 20 5-9 6-3 6-29 5 66 5-7 6-12 6 9 5 56 5 65 6-1 6-62 5-60 5-78 6-83 6 43 5 48 6-19 5-22 6 78 5-6 5 35 6-7 6-4 5-29 5-12 6-1 6 8 5 25 6 2 5-27 6-4 5 18 5-23 6 14 6 33 5-40 6-26 5 21 6 27 5-37 5 74 6 12 6-46 5 8 5-3 6-16 6 3 5 2 6-14 5-23 6 25 5-16 5 27 6-10 6-18 5 29 6-5 5 63 6-4 5-43 5 19 6-12 6-11 5-29 5 13 6-20 6 36 5-46 6 57 5-16 6 11 5-9 5 72 6 50 6-53 5-37 6 25 5-12 6-28 5-18 5-17 6 46 6-14 5 29 5 23 6 78 6-86 5-38 6-32 5 62 6-15 5-16 5-3 6 19 6-38 5-18 6 42 5-21 6 12 5 2 5-16 6-3 6 8 5-38 5 24 6 72 6-15 5-32 6 10 5 9 6-30 5 44 5-9 6-1 6-59 5 42 6-20 5 10 6 22 5-15 5-26 6 26 6-11 5-23 5 3 6 10 6 31 5-13 6-14 5-17 6 23 5-4 5 16 6 3 6-7 5 6 6 23 5 35 6-68 5 43 5-9 6-41 6 8 5-43 5 3 6-1 6 15 5 8 6-14 5-7 6 53 5-40 5-20 6 29 6 5 5 22 6 9 5 12 6-28 5 12 5-20 6-51 6 82 5 30 5-55 6 17 6-37 5-39 6 62 5-44 6-3 5 2 5 53 6-10 6 44 5-15 5-32 6 30 6 19 5-20 5-20 6-2 6-21 5 39 5-38 6-8 6 5 5 7 5 4 6 8 6 7 5-17 5-22 6-17 6 60 5 4 5-6 6-54 6 27 5 7 5-37 6-30 6 40 5 10 5 2 6-4 6 16 5 21 5-23 6-22 6 10 5 46 5-37 6 20 6 5 5-5 5-11 6-9 6-18 5 11 5-3 6-6 6-22 5 33 5 19 6-11 6-32 5 22 5 22 6-3 6 2 5 21 5-1 6-16 6-46 5 39 5 50 6-45 6 5 5 0 5-33 6 3 6 34 5 13 5 9 6-34 6-20 5 21 5-44 6-14 6 19 5 15 5 6 6-15 6 4 5 5 5 52 6 8 6-24 5 3 5-19 6 17 6-8 5-6 5 18 6-38 6 47 5 8 5-48 6 28 6-12 5 13 5-26 6 36 6 20 5-33 5-48 6 22 6 9 5-21 5 64 6-11 6-10 5 0 5-25 6 39 6-44 5 18 5 18 6 18 6-31 5-43 5 24 6-1 6 22 5-49 5-2 6 25 6 49 5-30 5-1 6-8 6-2 5-19 5 58 6-12 6 20 5-52 5-20 6 16 6 46 5 7 5-26 6 46 6-13 5-9 5-13 6 30 6-27 5 23 5-27 6 7 6-2 5 4 5-9 6 67 6 33 5 30 5-89 6 1 6 8 5 62 5 64 6-80 6-15 5-63 5-3 6 15 6 18 5 27 5 3 6-36 6-44 5-3 5-12 6-9 6-21 5 0 5 15 6-13 6 15 5 0 5-2 6 0 6-13 5-15 5 46 6-9 6-45 5 20 5 5 6 13 6 4 5-29 5-9 6 34 6-28 5 9 5-22 6 4 6 13 5-19 5 14 6 2 6-7 5-33 5 40 6 1 6-8 5-5 5-30 6 10 6-11 5-5 5 18 6-1 6 20 5-17 5 18 6 4 6 21 5-18 5 18 6-18 6-8 5-1 5-15 6-12 6-1 5 8 5-5 6 18 6 11 5-21 5 14 6-21 6 1 5 11 5-24 6 10 6 18 5-6 5-9 6-7 6 25 5-11 5 0 6-9 6 14 5-13 5 18 6 8 6-3 5 9 5 1 6-19 6 9 5 18 5-25 6 17 6-4 5-15 5 7 6 8 6-6 5-3 5 9 6-4 6 17 5-28 5 11 6-36 6 11 5 35 5-3 6-1 6-20 5 8 5 4 6 17 6-2 5-1 5 0 6 2 6 9 5-7 5-26 6 12 6 25 5 15 5-11 6-26 6 19 5 3 5-2 6-7 6-13 5-3 5 25 6-18 6-7 5-17 5 6 6 16 6 2 5-1 5 8 6 5 6-2 5-24 5 22 6 21 6-14 5-4 5-22 6 25 6-50 5-11 5 23 6-16 6 14 5-15 5-18 6 22 6 11 5-13 5 0 6 0 6-2 5 28 5 1 6-28 6 20 5-1 5-41 6 43 6-9 5 12 5-2 6-3 6-10 5 17 5-9 6 0 6 28 5-24 5 8 6 10 6-11 5-8 5 5 6 11 6-28 5 7 5 14 6-12 6 16 5 1 5-5 6 8 6-8 5 28 5-26 6 4 6-23 5 29 5 18 6-17 6 17 5-2 5-3 6-23 6 14 5 11 5 2 6-51 6 23 5-6 5 24 6 21 6-8 5-33 6 11 5 0 6-34 5 3 6 16 5-11 6 1 5 6 5 20 6-15 6 20 5-14 5-36 6 37 6-2 5-5 5 26 6-4 6 0 5 13 6 4 5-8 6-24 5 28 6-18 5 25 6-28 5-3 5 17 6-29 6 26 5 10 5 14 6-9 6 5 5-6 5 7 6-17 6-7 5 14 6 3 5-19 6-18 5 24 6 7 5 2 6 18 5-28 5 3 6-23 6 11 5 9 5 11 6 17 6-3 5 1 5-41 6 30 6-7 5-17 6 20 5 6 6-13 5-5 6-7 5 5 6-9 5 28 5-6 6-11 6-10 5 21 5 23 6-30 6 3 5-8 5 7 6-19 6 30 5 1 6-12 5 6 6 11 5 9 6 4 5-9 6-14 5 6 5-24 6 19 6 0 5 18 5-6 6-14 6 43 5 17 5 16 6-35 6 18 5 26 6-24 5 13 6-11 5 29 6-17 5-4 6 0 5 27 5 3 6-23 6 6 5 0 5 24 6-16 6 2 5 3 5-6 6 1 6-24 5 35 6-18 5 2 6-13 5 6 6-8 5-12 6-2 5-15 5-8 6 20 6 13 5-19 5-4 6 6 6 2 5 4 5-11 6-11 6-2 5 7 6-32 5 10 6 24 5 14 6-31 5 13 6-33 5-5 5 54 6-32 6-28 5 3 5 22 6-15 6 3 5 3 5 17 6 9 6-10 5-3 6 7 5-11 6 16 5-15 6-2 5 13 6 5 5-4 5-11 6-4 6 1 0 12" fill="none" stroke="#20e020" stroke-width="9" stroke-linejoin="round" />
<path transform="scale(.1)" d="M6686 2366l6-21 5 18 5-35 6-1 6 39 5-34 5 11 6-30 6-4 5 51 5-23 6-2 6 5 5-48 5 35 6 23 6 15 5 16 6-14 5-31 6 40 5-74 5 89 6-73 6 5 5 27 5 28 6-13 6-2 5-7 5-19 6 10 6-22 5 36 5-13 6 85 6-73 5-27 6 42 5 31 6-24 5-52 5 49 6-9 6-44 5 34 5 7 6-18 6 62 5 27 5-6 6 18 6-83 5-36 5 24 6 8 6-38 5 33 6-2 5 11 6-9 5-18 5 2 6-39 6 30 5 12 5 43 6-17 6-42 5-16 5 16 6 30 6-3 5-46 5 51 6 44 6-21 5-30 6 13 5-6 6-49 5 20 5-34 6 33 6-75 5 66 5 9 6 46 6 3 5-32 5 25 6 5 6-26 5-61 5 81 6-26 6-24 5 41 6 49 5-90 6 68 5-34 5 29 6-64 6 63 5-9 5-39 6 42 6 3 5-24 5 54 6-29 6 48 5 13 5 35 6-9 6-61 5 44 6-66 5-37 6-1 5 16 5-2 6 46 6-24 5-49 5 7 6-27 6 8 5 4 6 22 5 21 6 17 5-35 5 23 6-47 6 9 5-4 6 42 5-50 6-78 5 72 5 31 6-17 6-35 5 32 5-14 6 44 6 5 5-2 6-26 5-6 6-10 5 22 5 2 6-15 6 0 5 8 6-26 5-46 6 96 5-46 5 34 6-14 6-7 5-42 5 8 6 68 6-8 5-31 6-9 5 44 6 12 5-61 5 5 6-20 6 61 5-47 6 8 5 49 6-16 5-1 5 12 6 7 6-38 5 28 5-8 6-45 6 94 5 73 6 99 5 90 6-58 5-60 5-45 6-103 6-16 5 40 6-11 5-85 6 4 5 15 5 2 6-1 6 23 5-20 5 53 6-26 6-15 5 0 6-8 5 66 6-32 5 15 5-6 6-20 6-19 5 13 6-30 5 40 6-55 5-16 5 38 6-3 6 15 5-32 5-1 6 50 6 2 5-12 6 23 5-37 6-11 5 7 5 12 6-12 6-42 5 65 6-9 5-23 6 30 5-34 5-9 6 49 6 4 5 9 5-30 6-58 6-11 5 97 6 29 5-53 6 28 5-28 5 21 6-53 6 33 5-13 6 2 5 1 6-25 5 45 5 6 6 29 6-48 5 21 5-24 6 10 6 3 5 11 6 45 5 0 6-31 5-19 5-8 6 42 6-43 5 13 5-26 6 39 6 19 5-31 5-35 6-2 6-27 5 100 5-17 6-6 6 11 5-42 5 26 6-17 6-24 5 0 5 34 6-36 6 43 5 9 5-71 6-6 6-5 5 12 5-4 6 13 6-7 5 57 5-45 6 3 6-28 5-5 5 6 6 14 6 0 5-19 5 21 6 17 6-12 5 50 5-80 6 45 6-12 5-4 5 19 6 3 6-54 5 30 5 48 6-27 6 40 5 18 5-25 6-83 6 51 5-25 5 4 6 9 6-47 5 43 5 2 6 17 6 9 5-55 5 6 6 41 6-30 5-36 5 18 6 78 6-50 5-28 5 11 6 23 6 5 5 1 5 21 6-34 6-9 5-52 5 31 6 60 6-58 5 32 5-32 6 6 6 13 5 33 5-23 6 54 6-33 5-18 5-46 6 27 6 18 5-21 5 0 6-34 6 21 5-18 5 68 6 42 6-99 5 53 5-6 6-10 6-28 5 13 5-8 6-87 6 69 5 15 5 21 6-16 6 4 5-51 5 36 6 60 6-31 5-12 5-22 6 0 6-8 5 4 5 37 6-6 6 3 5-4 5-36 6 1 6 63 5-19 5-36 6 7 6 11 5 57 5-17 6-28 6 43 5-69 5 43 6-6 6-17 5 20 5 13 6-17 6-7 5-15 5 11 6 45 6-37 5 69 5 15 6-5 6-48 5-2 5-28 6-7 6-15 5 35 5 24 6-52 6 12 5 7 5 2 6-17 6 20 5-28 5 30 6-6 6-22 5 9 5 0 6 3 6 4 5 19 5-14 6-15 6-3 5 13 5-2 6 19 6-2 5-17 5 4 6 1 6 28 5-9 5-2 6-16 6 3 5 9 5-25 6 20 6-11 5-14 5 11 6 13 6-17 5-17 5-11 6 19 6 15 5-1 5-8 6-21 6-17 5 39 5 2 6 35 6 0 5-25 5 8 6-19 6 4 5-7 5 2 6 10 6-32 5 38 5-35 6 21 6 22 5-11 5 5 6-8 6 5 5 10 5-9 6 6 6 12 5-9 5-16 6 7 6 28 5-36 5 3 6 29 6 10 5-8 5 7 6 19 6-27 5 4 5 27 6-14 6 1 5-12 5 35 6-5 6-36 5-4 5 36 6-23 6-10 5 17 5-15 6 4 6-2 5 11 5-11 6 15 6-23 5 21 5-6 6-36 6 29 5-1 5-5 6-33 6 54 5-11 5-18 6 8 6 39 5-11 5-2 6-32 6 13 5 14 5-29 6-13 6 5 5 16 5-8 6 37 6 7 5-19 5-15 6-10 6 7 5 4 5 12 6-4 6-12 5 22 5 0 6-20 6 34 5-13 5-2 6 12 6-17 5-5 5 30 6-32 6 6 5-20 5 14 6 44 6-24 5-27 5 15 6 8 6-25 5 34 5-7 6-16 6 20 5-7 5-10 6 10 6 5 5 14 5-16 6-28 6 5 5 51 5-38 6 6 6 49 5-17 5-23 6 16 6-18 5-5 5 1 6-36 6 18 5 23 5 2 6 2 6-26 5 37 5-31 6 12 6 1 5-7 5-11 6-15 6 15 5 18 5 1 6 26 6-58 5 8 5 9 6 5 6 3 5-14 5-16 6-1 6 28 5 11 5-9 6-21 6 7 5 7 5 12 6-2 6-22 5 22 5-10 6-15 6 28 5-3 6-26 5 33 6-14 5-17 6 10 5 17 6-18 5-1 5-2 6-17 6 7 5 13 5-12 6-15 6-1 5 16 5-21 6 4 6 12 5 7 6 17 5 7 6-19 5-3 6-16 5-2 6-4 5 28 5-18 6 10 6-13 5 21 5-10 6 13 6-37 5 16 5-6 6-37 6 56 5-42 6-4 5 13 6 18 5-9 6-17 5 22 6-22 5 53 5-19 6-8 6-11 5 3 5 8 6-10 6 17 5-18 5 32 6 4 6-6 5-17 6 13 5-13 6-15 5 32 6-25 5 13 6-31 5 40 5-13 6 5 6 11 5-21 5-8 6 29 6 45 5-38 5-12 6-6 6 22 5-17 6 17 5-49 6 4 5 19 6 4 5-5 6 31 5-27 5 12 6 17 6-51 5 28 5-30 6 1 6 12 5 3 5 11 6 0 6 5 5-11 6 17 5 25 6-6 5-15 6 26 5 21 6-36 5-1 5 30 6 42 6-35 5-1 5 16 6 16 6 21 5-33 5 1 6 23 6-38 5 2 6 21 5-34 6 25 5 16 6-40 5-4 6 0 5-2 5 9 6-17 6-27 5 16 5-18 6-16 6 8 5 10 5-25 6-8 6 14 5 17 6-13 5 31 6-14 5 13 6-21 5-19 6 24 5-2 5-1 6-12 6 12 5-29 5 13 6-8 6 3 5 17 5-13 6 22 6 18 5-24 6-3 5-3 6-3 5 10 6-17 5-14 6 7 5-8 5-11 6 21 6 21 0 3" fill="none" stroke="#ff2020" stroke-width="9" stroke-linejoin="round" />
<path transform="scale(.1)" d="M6686 1943l6 50 5 22 5-6 6 20 6-89 5 101 5 22 6 144 6-123 5-73 5 51 6 46 6 31 5-96 5 83 6-91 6 47 5-43 6-1 5 31 6 44 5 19 5-79 6 13 6-28 5 39 5-72 6 63 6 46 5-57 5 78 6-70 6-78 5 0 5 65 6 43 6-36 5-13 6-23 5 17 6-67 5 36 5 91 6 48 6-112 5 10 5-28 6-14 6-51 5 66 5 20 6 16 6 45 5 48 5-136 6-69 6-7 5 13 6 3 5 62 6-19 5 24 5 70 6-43 6 15 5 96 5-32 6-60 6 76 5-126 5-26 6 24 6 101 5-24 5-128 6 25 6-18 5-41 6 45 5-25 6 115 5-36 5 55 6-67 6-3 5 131 5-26 6-47 6-20 5 29 5 19 6-86 6 36 5-5 5 81 6 43 6-68 5 23 6 65 5-42 6-21 5 137 5 27 6 15 6-54 5-37 5-89 6-50 6 173 5-112 5-42 6-22 6 26 5 97 5-90 6 33 6-74 5 9 6 42 5 15 6-61 5 40 5 75 6-34 6-14 5-47 5-6 6-77 6 61 5-79 6 29 5 85 6 46 5-95 5-18 6 68 6-8 5 2 6 70 5 38 6-107 5-22 5 125 6 18 6 9 5-20 5 9 6-27 6-68 5-56 6 126 5-99 6 58 5-27 5-24 6 14 6-9 5-20 6 108 5-85 6 33 5-134 5 40 6 153 6-139 5-22 5 19 6-40 6 158 5-8 6-55 5-24 6-34 5 41 5 65 6-27 6 181 5-61 6-33 5-57 6-7 5 21 5 92 6-4 6 22 5 38 5-32 6-127 6 82 5 9 6-117 5 106 6 44 5-118 5-74 6-29 6 8 5 108 6 9 5-30 6 1 5-85 5 120 6-7 6-42 5-50 5 100 6-41 6-1 5-71 6 56 5 38 6 17 5-130 5 10 6 139 6 5 5 4 6-15 5-102 6 106 5 106 5-125 6-88 6 144 5-49 5-52 6-13 6-61 5 119 6 122 5-96 6-67 5-30 5-68 6 58 6 59 5 50 6 1 5-31 6-149 5 35 5 66 6-64 6 42 5 60 5-48 6 154 6-37 5-72 6-48 5 56 6-89 5-25 5 162 6-54 6-57 5 51 6-70 5 23 6-6 5 29 5 66 6-89 6-88 5 118 5 63 6-25 6-15 5-135 6 41 5 3 6 2 5-23 5-34 6 107 6-27 5-34 5 78 6 98 6-106 5-12 5-73 6 71 6-13 5 63 5-43 6-85 6-40 5 45 5-38 6 175 6 57 5-84 5-39 6-28 6-23 5 50 5 55 6-77 6-41 5-45 5 107 6-18 6 7 5 139 5-90 6 49 6-175 5 8 5 70 6-142 6 120 5-32 5 85 6 47 6-30 5 62 5 26 6 48 6 2 5-100 5-4 6-61 6-35 5 88 5 33 6 32 6-77 5-66 5 100 6-87 6-15 5-56 5-41 6 5 6 85 5-59 5-40 6 145 6-67 5 0 5-12 6 4 6-7 5 95 5 75 6-121 6 113 5-49 5 118 6-39 6 89 5-51 5-81 6 48 6-81 5 90 5 29 6-151 6-19 5 227 5-130 6 35 6-62 5-19 5-38 6 13 6 19 5 15 5-25 6-9 6-11 5-65 5 40 6-18 6 103 5-109 5 29 6-3 6 85 5-48 5 8 6 63 6-51 5 64 5 4 6-50 6-16 5 23 5 45 6 35 6-70 5 27 5-14 6-24 6 14 5-10 5 33 6-32 6-26 5 77 5-72 6 1 6-155 5 58 5-9 6 22 6 20 5-23 5 4 6 94 6-61 5-80 5 7 6 31 6-57 5 13 5 37 6 27 6-51 5 62 5-20 6 97 6-104 5 35 5-12 6 79 6 4 5 12 5 40 6-43 6 17 5-89 5 97 6-71 6 72 5-28 5 8 6 1 6 36 5-67 5-83 6-22 6-31 5 15 5-22 6-11 6 42 5-3 5 2 6-18 6-16 5-20 5-3 6 44 6-24 5 3 5-22 6 3 6 2 5 48 5-8 6 18 6-33 5 43 5-42 6-20 6 12 5-16 5 12 6 39 6-17 5-15 5 17 6-25 6-1 5 2 5 11 6-9 6 8 5-23 5 15 6 54 6-5 5-53 5 25 6 16 6 4 5 6 5 7 6-36 6 11 5-21 5-15 6 12 6-12 5-9 5 11 6 36 6-7 5-21 5-1 6 39 6-3 5-21 5-9 6-11 6 17 5-1 5 37 6 36 6-30 5-29 5-47 6 29 6 11 5-52 5 35 6 15 6-25 5-9 5 7 6 27 6-38 5 49 5-19 6-24 6-10 5 10 5-17 6-9 6 11 5 32 5-1 6-3 6-2 5 19 5-27 6 11 6 7 5 15 5-22 6-18 6 58 5 4 5-1 6-11 6-1 5 15 5-12 6-5 6 16 5-9 5 14 6-9 6-37 5-15 5 3 6 9 6 34 5-15 5 31 6-14 6 7 5-8 5-48 6 27 6-28 5-7 5 10 6 57 6-44 5 37 5-13 6 14 6 21 5-1 5-35 6-32 6-2 5 34 5 0 6-34 6 33 5 4 5 18 6-40 6 27 5-13 5 17 6 2 6-39 5 15 5 28 6-36 6-18 5 32 5-20 6-18 6-29 5 17 5 23 6 16 6-32 5 29 5-13 6-4 6-6 5 57 5-49 6-15 6 9 5 5 5 25 6-13 6-37 5 16 5-19 6 55 6-20 5-15 5 11 6 18 6-6 5-19 5 15 6 4 6-44 5 36 5 0 6 29 6-44 5 21 5-21 6 7 6-14 5 17 5-11 6 6 6-27 5-3 5 23 6 1 6-27 5 13 5 7 6 0 6 27 5-9 5-33 6-1 6 5 5-2 6 11 5 18 6-37 5 61 6-6 5-55 6-22 5-15 5 28 6-11 6-14 5 45 5 25 6-23 6 23 5-33 5-11 6-9 6 28 5-20 6-15 5 17 6-6 5 11 6-10 5-24 6 51 5-5 5 21 6-45 6 12 5 1 5 5 6-5 6 6 5 30 5-38 6 4 6 36 5 27 6 2 5-24 6 12 5 21 6-11 5-1 6 10 5-17 5 5 6-33 6 36 5-10 5-9 6 12 6 14 5 9 5-19 6 7 6-11 5-24 6 11 5 12 6-10 5 27 6-32 5 36 6-15 5-5 5 17 6-12 6 9 5-48 5-14 6 68 6-48 5 2 5-7 6-33 6 24 5-1 6 22 5 15 6-54 5 68 6-35 5 6 6-2 5 9 5-15 6-7 6-4 5 40 5 13 6-5 6-53 5 27 5-15 6-4 6 14 5-13 6 16 5 5 6 9 5-27 6 4 5-21 6 7 5 13 5 9 6 47 6-70 5 26 5 22 6-4 6-29 5-4 5 15 6-27 6 1 5 34 6-3 5 29 6 11 5-37 6-1 5 9 6 22 5 3 5-22 6 4 6 17 5-10 5 19 6-1 6-11 5-18 5 18 6-6 6 11 5-39 6-20 5 16 6 0 5-11 6-1 5 54 6-15 5 19 5-7 6-17 6 1 5 36 5-8 6 4 6-17 5 8 5-52 6-13 6 21 5-3 6-6 5 35 6 6 5-42 6 33 5-15 6 7 5-22 5 21 6-2 6 11 0-15" fill="none" stroke="#2020ff" stroke-width="11" stroke-linejoin="round" />
</g>
<rect x="668.6" y="189.5" width="453.8" height="74.1" fill="none" stroke="#000" stroke-width="1.2"/>
<line x1="721.5" y1="189.5" x2="721.5" y2="200" stroke="#383838" stroke-width="1.25" />
<line x1="721.5" y1="263.6" x2="721.5" y2="253.1" stroke="#383838" stroke-width="1.25" />
<line x1="812.9" y1="189.5" x2="812.9" y2="200" stroke="#383838" stroke-width="1.25" />
<line x1="812.9" y1="263.6" x2="812.9" y2="253.1" stroke="#383838" stroke-width="1.25" />
<line x1="904.3" y1="189.5" x2="904.3" y2="200" stroke="#383838" stroke-width="1.25" />
<line x1="904.3" y1="263.6" x2="904.3" y2="253.1" stroke="#383838" stroke-width="1.25" />
<line x1="995.7" y1="189.5" x2="995.7" y2="200" stroke="#383838" stroke-width="1.25" />
<line x1="995.7" y1="263.6" x2="995.7" y2="253.1" stroke="#383838" stroke-width="1.25" />
<line x1="1087.1" y1="189.5" x2="1087.1" y2="200" stroke="#383838" stroke-width="1.25" />
<line x1="1087.1" y1="263.6" x2="1087.1" y2="253.1" stroke="#383838" stroke-width="1.25" />
<line x1="684.9" y1="189.5" x2="684.9" y2="193.1" stroke="#000" stroke-width="0.9" />
<line x1="684.9" y1="263.6" x2="684.9" y2="260" stroke="#000" stroke-width="0.9" />
<line x1="703.2" y1="189.5" x2="703.2" y2="193.1" stroke="#000" stroke-width="0.9" />
<line x1="703.2" y1="263.6" x2="703.2" y2="260" stroke="#000" stroke-width="0.9" />
<line x1="739.8" y1="189.5" x2="739.8" y2="193.1" stroke="#000" stroke-width="0.9" />
<line x1="739.8" y1="263.6" x2="739.8" y2="260" stroke="#000" stroke-width="0.9" />
<line x1="758.1" y1="189.5" x2="758.1" y2="193.1" stroke="#000" stroke-width="0.9" />
<line x1="758.1" y1="263.6" x2="758.1" y2="260" stroke="#000" stroke-width="0.9" />
<line x1="776.3" y1="189.5" x2="776.3" y2="193.1" stroke="#000" stroke-width="0.9" />
<line x1="776.3" y1="263.6" x2="776.3" y2="260" stroke="#000" stroke-width="0.9" />
<line x1="794.6" y1="189.5" x2="794.6" y2="193.1" stroke="#000" stroke-width="0.9" />
<line x1="794.6" y1="263.6" x2="794.6" y2="260" stroke="#000" stroke-width="0.9" />
<line x1="831.2" y1="189.5" x2="831.2" y2="193.1" stroke="#000" stroke-width="0.9" />
<line x1="831.2" y1="263.6" x2="831.2" y2="260" stroke="#000" stroke-width="0.9" />
<line x1="849.5" y1="189.5" x2="849.5" y2="193.1" stroke="#000" stroke-width="0.9" />
<line x1="849.5" y1="263.6" x2="849.5" y2="260" stroke="#000" stroke-width="0.9" />
<line x1="867.7" y1="189.5" x2="867.7" y2="193.1" stroke="#000" stroke-width="0.9" />
<line x1="867.7" y1="263.6" x2="867.7" y2="260" stroke="#000" stroke-width="0.9" />
<line x1="886" y1="189.5" x2="886" y2="193.1" stroke="#000" stroke-width="0.9" />
<line x1="886" y1="263.6" x2="886" y2="260" stroke="#000" stroke-width="0.9" />
<line x1="922.6" y1="189.5" x2="922.6" y2="193.1" stroke="#000" stroke-width="0.9" />
<line x1="922.6" y1="263.6" x2="922.6" y2="260" stroke="#000" stroke-width="0.9" />
<line x1="940.9" y1="189.5" x2="940.9" y2="193.1" stroke="#000" stroke-width="0.9" />
<line x1="940.9" y1="263.6" x2="940.9" y2="260" stroke="#000" stroke-width="0.9" />
<line x1="959.1" y1="189.5" x2="959.1" y2="193.1" stroke="#000" stroke-width="0.9" />
<line x1="959.1" y1="263.6" x2="959.1" y2="260" stroke="#000" stroke-width="0.9" />
<line x1="977.4" y1="189.5" x2="977.4" y2="193.1" stroke="#000" stroke-width="0.9" />
<line x1="977.4" y1="263.6" x2="977.4" y2="260" stroke="#000" stroke-width="0.9" />
<line x1="1014" y1="189.5" x2="1014" y2="193.1" stroke="#000" stroke-width="0.9" />
<line x1="1014" y1="263.6" x2="1014" y2="260" stroke="#000" stroke-width="0.9" />
<line x1="1032.3" y1="189.5" x2="1032.3" y2="193.1" stroke="#000" stroke-width="0.9" />
<line x1="1032.3" y1="263.6" x2="1032.3" y2="260" stroke="#000" stroke-width="0.9" />
<line x1="1050.5" y1="189.5" x2="1050.5" y2="193.1" stroke="#000" stroke-width="0.9" />
<line x1="1050.5" y1="263.6" x2="1050.5" y2="260" stroke="#000" stroke-width="0.9" />
<line x1="1068.8" y1="189.5" x2="1068.8" y2="193.1" stroke="#000" stroke-width="0.9" />
<line x1="1068.8" y1="263.6" x2="1068.8" y2="260" stroke="#000" stroke-width="0.9" />
<line x1="1105.4" y1="189.5" x2="1105.4" y2="193.1" stroke="#000" stroke-width="0.9" />
<line x1="1105.4" y1="263.6" x2="1105.4" y2="260" stroke="#000" stroke-width="0.9" />
<line x1="668.6" y1="248.2" x2="674.6" y2="248.2" stroke="#000" stroke-width="0.9" />
<line x1="1122.4" y1="248.2" x2="1116.4" y2="248.2" stroke="#000" stroke-width="0.9" />
<line x1="668.6" y1="230.5" x2="674.6" y2="230.5" stroke="#000" stroke-width="0.9" />
<line x1="1122.4" y1="230.5" x2="1116.4" y2="230.5" stroke="#000" stroke-width="0.9" />
<line x1="668.6" y1="212.8" x2="674.6" y2="212.8" stroke="#000" stroke-width="0.9" />
<line x1="1122.4" y1="212.8" x2="1116.4" y2="212.8" stroke="#000" stroke-width="0.9" />
<line x1="668.6" y1="195" x2="674.6" y2="195" stroke="#000" stroke-width="0.9" />
<line x1="1122.4" y1="195" x2="1116.4" y2="195" stroke="#000" stroke-width="0.9" />
<line x1="668.6" y1="261.6" x2="670.9" y2="261.6" stroke="#222" stroke-width="0.8" />
<line x1="1122.4" y1="261.6" x2="1120.1" y2="261.6" stroke="#222" stroke-width="0.8" />
<line x1="668.6" y1="257.1" x2="670.9" y2="257.1" stroke="#222" stroke-width="0.8" />
<line x1="1122.4" y1="257.1" x2="1120.1" y2="257.1" stroke="#222" stroke-width="0.8" />
<line x1="668.6" y1="252.7" x2="670.9" y2="252.7" stroke="#222" stroke-width="0.8" />
<line x1="1122.4" y1="252.7" x2="1120.1" y2="252.7" stroke="#222" stroke-width="0.8" />
<line x1="668.6" y1="243.8" x2="670.9" y2="243.8" stroke="#222" stroke-width="0.8" />
<line x1="1122.4" y1="243.8" x2="1120.1" y2="243.8" stroke="#222" stroke-width="0.8" />
<line x1="668.6" y1="239.4" x2="670.9" y2="239.4" stroke="#222" stroke-width="0.8" />
<line x1="1122.4" y1="239.4" x2="1120.1" y2="239.4" stroke="#222" stroke-width="0.8" />
<line x1="668.6" y1="234.9" x2="670.9" y2="234.9" stroke="#222" stroke-width="0.8" />
<line x1="1122.4" y1="234.9" x2="1120.1" y2="234.9" stroke="#222" stroke-width="0.8" />
<line x1="668.6" y1="226.1" x2="670.9" y2="226.1" stroke="#222" stroke-width="0.8" />
<line x1="1122.4" y1="226.1" x2="1120.1" y2="226.1" stroke="#222" stroke-width="0.8" />
<line x1="668.6" y1="221.6" x2="670.9" y2="221.6" stroke="#222" stroke-width="0.8" />
<line x1="1122.4" y1="221.6" x2="1120.1" y2="221.6" stroke="#222" stroke-width="0.8" />
<line x1="668.6" y1="217.2" x2="670.9" y2="217.2" stroke="#222" stroke-width="0.8" />
<line x1="1122.4" y1="217.2" x2="1120.1" y2="217.2" stroke="#222" stroke-width="0.8" />
<line x1="668.6" y1="208.3" x2="670.9" y2="208.3" stroke="#222" stroke-width="0.8" />
<line x1="1122.4" y1="208.3" x2="1120.1" y2="208.3" stroke="#222" stroke-width="0.8" />
<line x1="668.6" y1="203.9" x2="670.9" y2="203.9" stroke="#222" stroke-width="0.8" />
<line x1="1122.4" y1="203.9" x2="1120.1" y2="203.9" stroke="#222" stroke-width="0.8" />
<line x1="668.6" y1="199.4" x2="670.9" y2="199.4" stroke="#222" stroke-width="0.8" />
<line x1="1122.4" y1="199.4" x2="1120.1" y2="199.4" stroke="#222" stroke-width="0.8" />
<line x1="668.6" y1="190.6" x2="670.9" y2="190.6" stroke="#222" stroke-width="0.8" />
<line x1="1122.4" y1="190.6" x2="1120.1" y2="190.6" stroke="#222" stroke-width="0.8" />
<text x="666" y="198.8" font-size="10.67" fill="#000" text-anchor="end" >400</text>
<text x="666" y="216.3" font-size="10.67" fill="#000" text-anchor="end" >200</text>
<text x="666" y="234" font-size="10.67" fill="#000" text-anchor="end" >0</text>
<text x="666" y="251.8" font-size="10.67" fill="#000" text-anchor="end" >-200</text>
<text transform="translate(639,227) rotate(-90)" font-size="10.67" fill="#000" text-anchor="middle">V<tspan font-size="8.6" dy="3">e LMN</tspan><tspan dy="-3">&#8203;</tspan> [km/s]</text>
<line x1="674.5" y1="197.5" x2="692.5" y2="197.5" stroke="#4848ff" stroke-width="1.0" />
<text x="693.5" y="201" font-size="9.3" fill="#0000ff" text-anchor="start" >V<tspan font-size="6.3" dy="3.3">L</tspan><tspan dy="-3.3">&#8203;</tspan></text>
<line x1="674.5" y1="213.5" x2="692.5" y2="213.5" stroke="#30e830" stroke-width="1.0" />
<text x="693.5" y="217" font-size="9.3" fill="#00ff00" text-anchor="start" >V<tspan font-size="6.3" dy="3.3">M</tspan><tspan dy="-3.3">&#8203;</tspan></text>
<g clip-path="url(#cM4)">
<path transform="scale(.1)" d="M6686 2833l6 10 5 29 5-52 6 59 6-35 5 77 5-25 6 2 6-7 5 62 5-61 6-5 6 15 5-25 5 24 6 14 6 36 5-58 6-16 5 39 6-8 5 33 5-45 6 5 6 86 5-54 5-18 6 29 6-12 5-9 5-14 6 37 6-15 5-58 5-21 6 62 6-2 5-30 6 17 5 45 6-65 5-23 5-20 6 52 6-23 5 38 5 5 6 31 6-27 5 5 5 46 6 19 6-47 5 8 5-32 6 7 6 75 5-24 6-1 5 18 6 13 5-23 5 13 6-15 6 1 5 10 5-57 6 43 6-14 5 6 5-14 6 8 6 25 5 5 5-35 6 23 6 22 5-6 6 21 5 35 6-131 5 19 5 20 6 26 6-58 5 62 5 10 6-50 6-12 5 64 5 12 6-68 6 4 5 10 5 20 6-33 6-8 5-19 6-26 5 72 6-30 5-54 5 26 6-43 6 80 5-44 5 13 6 20 6-53 5 15 5 12 6-14 6 7 5 62 5-23 6-30 6-4 5-43 6 48 5 26 6 21 5-38 5 21 6 36 6-15 5-15 5-3 6 17 6 53 5-38 6-10 5-6 6-75 5 35 5 44 6-39 6 19 5-24 6 51 5-9 6-7 5-27 5 40 6 5 6-8 5 36 5-12 6 28 6 6 5 15 6-4 5 18 6-10 5-36 5 49 6 27 6-37 5 21 6-14 5 42 6 38 5-23 5-45 6 15 6-4 5 21 5-22 6-1 6 16 5 39 6-63 5 55 6 2 5-9 5 22 6-88 6 12 5 17 6 29 5-18 6 54 5 79 5-22 6 5 6-30 5 33 5 54 6-51 6 73 5-17 6 27 5-31 6-45 5 51 5-58 6-43 6-34 5 18 6 19 5-19 6 27 5 19 5-43 6-15 6-14 5-33 5 70 6 2 6 1 5-12 6 33 5-68 6 37 5 36 5-32 6 6 6 43 5-38 6 38 5 34 6-14 5 47 5 12 6-85 6 80 5 2 5 5 6-18 6 0 5-16 6 2 5 8 6-22 5 16 5 52 6-38 6 24 5-13 6-22 5 17 6-35 5 31 5-18 6 11 6 15 5-10 5 10 6-63 6 10 5 37 6 18 5 11 6-45 5 41 5-52 6 30 6-13 5 11 6-36 5 27 6-40 5 37 5 1 6 18 6 8 5-5 5-44 6 69 6-24 5 50 6-39 5-31 6-16 5 5 5 35 6-30 6 37 5 15 5-17 6 23 6-70 5-12 5-9 6 2 6 1 5 63 5 20 6-16 6-65 5 53 5 45 6-43 6 10 5-33 5 23 6 45 6 2 5-60 5-6 6 17 6 11 5-90 5 31 6 14 6 11 5 9 5-1 6 14 6 3 5 16 5 38 6-84 6-15 5 5 5 17 6-18 6-10 5 18 5 12 6 30 6-54 5-6 5 24 6 65 6-59 5-39 5 4 6 25 6-41 5-24 5 94 6-10 6-34 5 53 5-42 6 64 6-52 5-30 5 55 6-20 6 3 5-14 5 20 6-42 6 60 5-29 5-10 6 8 6-18 5 14 5-20 6 54 6-30 5-15 5-3 6 21 6-7 5 24 5-39 6-5 6 39 5 31 5-16 6-36 6 19 5 15 5 30 6-43 6 11 5 1 5 17 6 34 6-24 5 3 5 24 6-38 6 6 5 3 5 38 6-46 6 33 5 41 5-9 6-86 6 34 5 11 5 59 6-40 6 15 5-20 5-82 6 22 6-17 5-50 5-85 6-12 6-16 5-18 5 19 6-20 6 29 5-33 5-19 6-23 6-9 5-21 5-27 6 34 6-29 5-39 5 6 6-9 6 1 5-18 5-19 6-36 6-22 5-29 5 0 6 34 6-33 5-15 5-29 6-14 6-24 5-56 5 29 6-82 6 15 5 0 5 102 6 28 6 59 5 42 5 4 6-22 6 23 5 92 5-61 6 29 6-15 5-3 5-27 6-11 6-2 5-9 5-35 6-7 6 11 5-6 5 9 6-15 6-2 5-22 5 5 6 5 6-19 5 11 5-8 6 10 6-12 5-9 5 24 6 11 6-2 5-8 5-32 6 7 6 17 5 3 5 8 6-13 6-5 5-15 5 9 6 33 6-22 5-2 5 32 6 9 6-27 5 12 5-5 6-15 6-4 5-11 5 30 6-53 6 19 5 9 5-22 6-5 6 3 5-3 5-5 6-13 6 6 5-3 5-16 6 43 6-29 5 8 5-10 6-19 6 22 5-3 5-1 6-8 6-1 5 11 5-5 6-3 6 7 5-30 5 23 6-19 6-6 5-5 5 20 6-23 6 34 5-35 5 22 6-24 6 2 5-15 5 3 6-6 6 24 5 0 5 28 6-10 6 7 5 13 5-26 6-7 6-4 5-2 5 6 6 12 6 22 5-10 5-3 6-11 6-7 5-2 5 29 6 9 6-27 5 24 5 9 6-47 6 7 5 24 5 7 6 5 6-2 5-22 5 12 6-13 6 30 5 9 5-22 6-25 6 24 5-13 5-2 6 13 6 25 5-13 5-8 6-12 6 3 5-9 5 8 6 47 6-32 5 31 5-26 6 15 6 12 5-20 5-21 6-4 6 17 5-9 5 18 6 3 6 19 5-54 5-4 6-20 6 28 5 19 5-2 6-20 6 10 5 21 5-15 6 4 6-11 5-2 5 20 6-14 6-3 5 8 5 5 6 14 6 17 5-12 5-21 6-11 6 16 5-8 5 4 6 24 6-4 5 22 5-25 6-8 6-1 5-10 5 22 6 20 6-15 5-6 5-14 6 12 6-4 5 44 5-23 6-11 6-9 5 12 5 3 6 4 6 23 5-7 5-17 6-5 6-21 5 30 5-11 6 24 6-29 5 9 5 18 6-4 6 20 5-2 5-2 6-6 6-1 5 13 6 9 5-34 6 21 5-6 6 21 5-4 6-11 5-13 5 5 6-20 6 3 5-1 5 13 6-6 6-20 5-3 5-14 6 27 6-29 5 7 6-8 5-6 6 47 5-11 6-7 5 5 6-2 5 15 5-45 6-9 6-21 5 24 5 25 6-21 6 17 5-5 5-15 6-7 6 2 5 10 6 2 5-14 6-2 5-1 6-4 5 0 6-15 5-11 5 33 6 6 6-12 5 5 5 9 6-19 6-16 5 7 5-9 6 11 6 5 5-35 6 35 5-9 6 16 5-39 6 8 5 13 6 13 5 14 5 11 6-25 6-26 5-4 5 26 6-16 6 15 5-9 5-6 6 11 6 2 5 4 6-6 5-14 6 17 5-23 6 20 5 0 6-23 5 32 5 40 6-37 6-17 5 5 5 29 6 24 6-17 5-23 5 24 6-21 6 10 5 15 6 37 5 4 6 29 5-47 6 28 5 14 6 8 5 24 5 5 6 17 6 5 5 0 5 5 6-24 6-5 5 24 5 8 6-22 6 21 5 29 6 37 5-4 6-40 5-8 6-7 5 6 6-4 5 16 5-16 6-25 6-29 5 12 5-28 6-5 6-13 5 2 5-24 6-23 6 4 5-40 6 3 5-14 6 12 5-26 6 7 5 5 6-7 5-4 5 4 6 11 6-8 5 1 5-2 6-1 6 5 5-9 5 30 6 5 6-2 5 21 6 0 5-4 6-26 5 13 6-3 5-6 6 16 5 28 5 6 6 9 6-11 0-23" fill="none" stroke="#ff1414" stroke-width="10" stroke-linejoin="round" />
<path transform="scale(.1)" d="M6686 2884l6 13 5-44 5-6 6 4 6 1 5-15 5 24 6 30 6 12 5 21 5-65 6 18 6 11 5-30 5 0 6 10 6-22 5 17 6-30 5 11 6-3 5 12 5 32 6-41 6 25 5 37 5-40 6 1 6-29 5 2 5-13 6 3 6 1 5 62 5-20 6-9 6-5 5-14 6-4 5 3 6-4 5 27 5-21 6 4 6-18 5-9 5 17 6 75 6-50 5-9 5 18 6-21 6-33 5 9 5 37 6-34 6 66 5-48 6 40 5-17 6-9 5 26 5-30 6-15 6 20 5 7 5 6 6 29 6-11 5-31 5 9 6-35 6 26 5-7 5 26 6 50 6 6 5-44 6 0 5 64 6-49 5 29 5-24 6 30 6 9 5-35 5 50 6-42 6 59 5-1 5-5 6-19 6 13 5-35 5 15 6 5 6 30 5-18 6 6 5 10 6 24 5 41 5-50 6 52 6-21 5 18 5-59 6 23 6 24 5-23 5-27 6 11 6-8 5-6 5 6 6 11 6-14 5-7 6 54 5-70 6 23 5 44 5-2 6-32 6-12 5-45 5 13 6 4 6 26 5-44 6 7 5 30 6-23 5 37 5 10 6-11 6-49 5 9 6-20 5 20 6-19 5 28 5 1 6-4 6-36 5 3 5 31 6-11 6-29 5 13 6 20 5-9 6-1 5-23 5 15 6-5 6-34 5 26 6-39 5 36 6-28 5-25 5 76 6-28 6-3 5 9 5-21 6-50 6 57 5-35 6 19 5 28 6-45 5-2 5-5 6 14 6 39 5 36 6-15 5 15 6 23 5 30 5-35 6 27 6 51 5-37 5-14 6 18 6 31 5-67 6 17 5 7 6 48 5 1 5-4 6-14 6 4 5 25 6-54 5-19 6 29 5-7 5 5 6-15 6-14 5 19 5-1 6 0 6-10 5-29 6 9 5 51 6-50 5 27 5 4 6 4 6-1 5 11 6 15 5-25 6 40 5 12 5-21 6 38 6-55 5-11 5 55 6 15 6-2 5 37 6-35 5-13 6 1 5 54 5-49 6-1 6 6 5 6 6-12 5 22 6 13 5 6 5-10 6-1 6-2 5 41 5 0 6-11 6-2 5-5 6 48 5 10 6-30 5 4 5 24 6 23 6-27 5 34 6-22 5-2 6-14 5 23 5-16 6-13 6-19 5 15 5 6 6-47 6-8 5 3 6 18 5 16 6 26 5-50 5-43 6 8 6-21 5 12 5 55 6-22 6 14 5-44 5 12 6-39 6 22 5 10 5-30 6 36 6-4 5 5 5-13 6-1 6 3 5 47 5-32 6 0 6 6 5-29 5 60 6-32 6 70 5 0 5-13 6 45 6-17 5 1 5-22 6 1 6-17 5-29 5 45 6 20 6-3 5 13 5-17 6-3 6-30 5-10 5 13 6 41 6-21 5 24 5-34 6 2 6 3 5-5 5-28 6-52 6 76 5-11 5 9 6 15 6-50 5 5 5 21 6-44 6 3 5 33 5-5 6-13 6 69 5-44 5-28 6 5 6 44 5 15 5-26 6 25 6-22 5 51 5-16 6 2 6 24 5-23 5 41 6-24 6-29 5-6 5-26 6 56 6 7 5 6 5-45 6 19 6 11 5-19 5-3 6 8 6-2 5 10 5 24 6 5 6-18 5-32 5 47 6-16 6 6 5-60 5 50 6-14 6 16 5-30 5-25 6-3 6-15 5 14 5-15 6-28 6-9 5 31 5 4 6 4 6-4 5 46 5-30 6 9 6 31 5 7 5-20 6 2 6-37 5 87 5-73 6 43 6 10 5-2 5 7 6 35 6-26 5-19 5-39 6 37 6-26 5 5 5-31 6-4 6 1 5 5 5-7 6-18 6 43 5 25 5-49 6 30 6 17 5 2 5-31 6 8 6 17 5-42 5-49 6-34 6 6 5-35 5-37 6-25 6 4 5-38 5-8 6 22 6-4 5-18 5-16 6 13 6-13 5 10 5 5 6-32 6 15 5-17 5-6 6 5 6-3 5-6 5-6 6-16 6 8 5-1 5 9 6-1 6-12 5 3 5-2 6-17 6 2 5 2 5-9 6 5 6-12 5-7 5-12 6-2 6 1 5-5 5 25 6-5 6-10 5 15 5-15 6-11 6-5 5 3 5 25 6-16 6-9 5-6 5 13 6 2 6-9 5-4 5 2 6 12 6-6 5 10 5-3 6-2 6-11 5 5 5 26 6-36 6-20 5 2 5 12 6-7 6 10 5 30 5-10 6-13 6 9 5 11 5-23 6 8 6-5 5 9 5-21 6 0 6 28 5-11 5 11 6-28 6 32 5-2 5-4 6-3 6 29 5-13 5 2 6-11 6 13 5-6 5-4 6-10 6 29 5 11 5-28 6 1 6 14 5-1 5-6 6-23 6 10 5-6 5 26 6-15 6 1 5 18 5 3 6 11 6-26 5 21 5-13 6-1 6 4 5 3 5-36 6-10 6 6 5 33 5-7 6-3 6-8 5-11 5 10 6 15 6-28 5 11 5-9 6 11 6-15 5 1 5 1 6 15 6-5 5-13 5 1 6 7 6 0 5 19 5-2 6-20 6-6 5 19 5 3 6-44 6 25 5 4 5-3 6 3 6-11 5 4 5 10 6-2 6-27 5 14 5 6 6 13 6-25 5-5 5-2 6 2 6 8 5 14 5 7 6-21 6 18 5 7 5 5 6-4 6-21 5-19 5 9 6 14 6 2 5-3 5-9 6 6 6 9 5 1 5 1 6-6 6 9 5-12 5-2 6-8 6 24 5-6 5-2 6-1 6 12 5 9 5-22 6 12 6-17 5 11 5-3 6-1 6 1 5-9 5 10 6-2 6 14 5-25 5 18 6-13 6 26 5-2 5-4 6-12 6 6 5-2 5 3 6 2 6 10 5 3 6 9 5-29 6 4 5-2 6 9 5-7 6-9 5-5 5 1 6 17 6-4 5-11 5 27 6-29 6 2 5 17 5 0 6-21 6 19 5-4 6 4 5 7 6-8 5 1 6-16 5 16 6 7 5-20 5-10 6 17 6-11 5-5 5-8 6 11 6 15 5 7 5-4 6 7 6 0 5-20 6 13 5-18 6-6 5 17 6 6 5-25 6-3 5 11 5 5 6 10 6-10 5 2 5 0 6 5 6-9 5-2 5 5 6 1 6-19 5 30 6-24 5 8 6-9 5 7 6 10 5-23 6-5 5 18 5 6 6-22 6 7 5 1 5 8 6-4 6 9 5-17 5 6 6 8 6-27 5-6 6 10 5-15 6 11 5 12 6 1 5 1 6-13 5 12 5 0 6 7 6-9 5-22 5 0 6 9 6 1 5-9 5 6 6 8 6-6 5-21 6 6 5 2 6 15 5-38 6 23 5-23 6-19 5 10 5 5 6 3 6-17 5-4 5 7 6-15 6 5 5 28 5-16 6-4 6 17 5 19 6-12 5 16 6-20 5 20 6 5 5 9 6 14 5-6 5 18 6 8 6 3 5 4 5 9 6-15 6 19 5-4 5-9 6-7 6-6 5 19 6-23 5 6 6 0 5-4 6 31 5-11 6-21 5 12 5-12 6 2 6 5 5-11 5 7 6-17 6 0 5 12 5 7 6-16 6 24 5-14 6-11 5 23 6-1 5-29 6-1 5 17 6-4 5 16 5 0 6-1 6-13 0-1" fill="none" stroke="#101010" stroke-width="11.5" stroke-linejoin="round" />
</g>
<rect x="668.6" y="263.6" width="453.8" height="73.7" fill="none" stroke="#000" stroke-width="1.2"/>
<line x1="721.5" y1="263.6" x2="721.5" y2="274.1" stroke="#383838" stroke-width="1.25" />
<line x1="721.5" y1="337.3" x2="721.5" y2="326.8" stroke="#383838" stroke-width="1.25" />
<line x1="812.9" y1="263.6" x2="812.9" y2="274.1" stroke="#383838" stroke-width="1.25" />
<line x1="812.9" y1="337.3" x2="812.9" y2="326.8" stroke="#383838" stroke-width="1.25" />
<line x1="904.3" y1="263.6" x2="904.3" y2="274.1" stroke="#383838" stroke-width="1.25" />
<line x1="904.3" y1="337.3" x2="904.3" y2="326.8" stroke="#383838" stroke-width="1.25" />
<line x1="995.7" y1="263.6" x2="995.7" y2="274.1" stroke="#383838" stroke-width="1.25" />
<line x1="995.7" y1="337.3" x2="995.7" y2="326.8" stroke="#383838" stroke-width="1.25" />
<line x1="1087.1" y1="263.6" x2="1087.1" y2="274.1" stroke="#383838" stroke-width="1.25" />
<line x1="1087.1" y1="337.3" x2="1087.1" y2="326.8" stroke="#383838" stroke-width="1.25" />
<line x1="684.9" y1="263.6" x2="684.9" y2="267.2" stroke="#000" stroke-width="0.9" />
<line x1="684.9" y1="337.3" x2="684.9" y2="333.7" stroke="#000" stroke-width="0.9" />
<line x1="703.2" y1="263.6" x2="703.2" y2="267.2" stroke="#000" stroke-width="0.9" />
<line x1="703.2" y1="337.3" x2="703.2" y2="333.7" stroke="#000" stroke-width="0.9" />
<line x1="739.8" y1="263.6" x2="739.8" y2="267.2" stroke="#000" stroke-width="0.9" />
<line x1="739.8" y1="337.3" x2="739.8" y2="333.7" stroke="#000" stroke-width="0.9" />
<line x1="758.1" y1="263.6" x2="758.1" y2="267.2" stroke="#000" stroke-width="0.9" />
<line x1="758.1" y1="337.3" x2="758.1" y2="333.7" stroke="#000" stroke-width="0.9" />
<line x1="776.3" y1="263.6" x2="776.3" y2="267.2" stroke="#000" stroke-width="0.9" />
<line x1="776.3" y1="337.3" x2="776.3" y2="333.7" stroke="#000" stroke-width="0.9" />
<line x1="794.6" y1="263.6" x2="794.6" y2="267.2" stroke="#000" stroke-width="0.9" />
<line x1="794.6" y1="337.3" x2="794.6" y2="333.7" stroke="#000" stroke-width="0.9" />
<line x1="831.2" y1="263.6" x2="831.2" y2="267.2" stroke="#000" stroke-width="0.9" />
<line x1="831.2" y1="337.3" x2="831.2" y2="333.7" stroke="#000" stroke-width="0.9" />
<line x1="849.5" y1="263.6" x2="849.5" y2="267.2" stroke="#000" stroke-width="0.9" />
<line x1="849.5" y1="337.3" x2="849.5" y2="333.7" stroke="#000" stroke-width="0.9" />
<line x1="867.7" y1="263.6" x2="867.7" y2="267.2" stroke="#000" stroke-width="0.9" />
<line x1="867.7" y1="337.3" x2="867.7" y2="333.7" stroke="#000" stroke-width="0.9" />
<line x1="886" y1="263.6" x2="886" y2="267.2" stroke="#000" stroke-width="0.9" />
<line x1="886" y1="337.3" x2="886" y2="333.7" stroke="#000" stroke-width="0.9" />
<line x1="922.6" y1="263.6" x2="922.6" y2="267.2" stroke="#000" stroke-width="0.9" />
<line x1="922.6" y1="337.3" x2="922.6" y2="333.7" stroke="#000" stroke-width="0.9" />
<line x1="940.9" y1="263.6" x2="940.9" y2="267.2" stroke="#000" stroke-width="0.9" />
<line x1="940.9" y1="337.3" x2="940.9" y2="333.7" stroke="#000" stroke-width="0.9" />
<line x1="959.1" y1="263.6" x2="959.1" y2="267.2" stroke="#000" stroke-width="0.9" />
<line x1="959.1" y1="337.3" x2="959.1" y2="333.7" stroke="#000" stroke-width="0.9" />
<line x1="977.4" y1="263.6" x2="977.4" y2="267.2" stroke="#000" stroke-width="0.9" />
<line x1="977.4" y1="337.3" x2="977.4" y2="333.7" stroke="#000" stroke-width="0.9" />
<line x1="1014" y1="263.6" x2="1014" y2="267.2" stroke="#000" stroke-width="0.9" />
<line x1="1014" y1="337.3" x2="1014" y2="333.7" stroke="#000" stroke-width="0.9" />
<line x1="1032.3" y1="263.6" x2="1032.3" y2="267.2" stroke="#000" stroke-width="0.9" />
<line x1="1032.3" y1="337.3" x2="1032.3" y2="333.7" stroke="#000" stroke-width="0.9" />
<line x1="1050.5" y1="263.6" x2="1050.5" y2="267.2" stroke="#000" stroke-width="0.9" />
<line x1="1050.5" y1="337.3" x2="1050.5" y2="333.7" stroke="#000" stroke-width="0.9" />
<line x1="1068.8" y1="263.6" x2="1068.8" y2="267.2" stroke="#000" stroke-width="0.9" />
<line x1="1068.8" y1="337.3" x2="1068.8" y2="333.7" stroke="#000" stroke-width="0.9" />
<line x1="1105.4" y1="263.6" x2="1105.4" y2="267.2" stroke="#000" stroke-width="0.9" />
<line x1="1105.4" y1="337.3" x2="1105.4" y2="333.7" stroke="#000" stroke-width="0.9" />
<line x1="668.6" y1="275.3" x2="670.9" y2="275.3" stroke="#222" stroke-width="0.8" />
<line x1="1122.4" y1="275.3" x2="1120.1" y2="275.3" stroke="#222" stroke-width="0.8" />
<line x1="668.6" y1="300.5" x2="670.9" y2="300.5" stroke="#222" stroke-width="0.8" />
<line x1="1122.4" y1="300.5" x2="1120.1" y2="300.5" stroke="#222" stroke-width="0.8" />
<line x1="668.6" y1="334.8" x2="670.9" y2="334.8" stroke="#222" stroke-width="0.8" />
<line x1="1122.4" y1="334.8" x2="1120.1" y2="334.8" stroke="#222" stroke-width="0.8" />
<text transform="translate(1161,300) rotate(-90)" font-size="10.67" fill="#000" text-anchor="middle">T<tspan font-size="8.6" dy="3">e</tspan><tspan dy="-3">&#8203;</tspan> [eV]</text>
<line x1="674.5" y1="271.5" x2="692.5" y2="271.5" stroke="#ff4040" stroke-width="1.0" />
<text x="693.5" y="275" font-size="9.3" fill="#ff0000" text-anchor="start" >T<tspan font-size="6.3" dy="3.3">||</tspan><tspan dy="-3.3">&#8203;</tspan></text>
<line x1="674.5" y1="285.5" x2="692.5" y2="285.5" stroke="#404040" stroke-width="1.0" />
<text x="693.5" y="289" font-size="9.3" fill="#000" text-anchor="start" >T<tspan font-size="6.3" dy="3.3">&#8869;</tspan><tspan dy="-3.3">&#8203;</tspan></text>
<g clip-path="url(#cM5)">
<line x1="668.6" y1="366.5" x2="1122.4" y2="366.5" stroke="#282828" stroke-width="0.95" stroke-dasharray="4.3 2.1" />
<path transform="scale(.1)" d="M6686 3650l6 4 5-40 5 2 6 81 6-33 5-51 5 43 6 7 6 50 5-8 5 51 6-78 6-43 5 60 5 15 6 59 6-20 5-30 6-33 5 36 6 0 5-21 5-15 6 29 6 33 5-48 5 19 6-2 6 15 5-39 5 8 6-11 6-26 5 11 5-21 6 34 6 1 5 45 6-56 5-4 6 28 5 50 5 5 6 14 6-58 5-15 5 10 6 50 6-39 5 11 5-6 6 13 6-31 5 0 5 32 6 41 6 15 5 16 6-66 5-43 6 21 5 8 5-24 6-23 6 61 5-55 5-6 6 17 6 45 5-45 5 24 6-4 6 52 5-4 5-3 6-34 6 7 5-52 6-25 5 15 6 4 5 15 5 37 6 21 6 28 5-47 5-22 6-16 6-11 5 77 5-15 6-12 6-10 5 5 5 71 6-65 6 36 5-50 6 10 5 68 6-23 5-51 5 36 6-23 6 1 5 14 5 20 6 20 6 36 5-5 5 44 6 12 6 11 5-44 5-14 6 38 6-9 5-32 6 5 5-56 6-21 5 14 5-14 6-22 6-18 5 17 5-37 6 17 6-15 5 34 6 15 5-19 6-14 5-23 5 26 6 21 6-20 5 48 6-36 5 41 6-30 5 56 5-18 6-6 6 1 5-47 5 10 6 27 6-38 5 42 6-30 5 16 6 6 5-33 5-37 6 52 6 37 5-19 6 28 5-62 6 17 5-6 5 10 6-22 6 55 5-48 5-7 6 27 6-51 5-26 6 6 5 32 6 20 5 38 5 69 6-57 6-68 5 38 6 33 5-45 6 32 5-41 5-11 6-42 6 28 5-25 5 0 6 79 6-11 5 118 6 51 5 155 6-38 5-139 5-96 6-96 6 5 5 10 6-28 5 8 6 41 5-41 5-34 6 64 6-38 5-46 5 12 6-14 6-22 5 40 6 29 5-52 6 45 5 8 5-22 6 13 6 12 5 30 6-15 5-19 6 25 5 4 5-6 6-32 6 11 5 25 5-4 6-3 6-10 5-4 6-20 5-24 6 21 5 7 5 62 6-16 6 24 5-53 6 0 5-44 6 25 5 5 5 11 6 27 6 16 5-49 5-12 6 60 6 18 5-4 6-39 5-7 6 22 5-14 5-5 6 51 6 33 5-101 6 19 5 29 6-24 5-1 5-14 6-50 6 41 5 43 5-57 6-14 6 1 5-12 6 83 5-27 6-6 5-11 5 12 6 9 6 3 5-16 5 5 6-5 6 33 5 60 5-75 6 34 6 17 5-81 5 26 6-25 6 15 5-30 5 44 6-13 6-54 5 18 5 94 6-30 6-14 5-23 5 12 6-11 6 12 5 72 5-76 6 7 6 14 5-57 5 33 6-9 6 51 5-21 5-27 6-57 6 63 5 21 5 20 6-31 6 1 5 21 5-15 6-57 6-10 5 86 5-16 6-72 6 6 5 33 5-3 6 72 6-15 5-45 5 36 6-5 6 31 5-96 5 17 6 9 6 82 5-21 5 32 6-37 6 51 5-52 5-37 6 25 6-76 5 35 5-18 6 31 6 26 5-35 5 5 6 22 6 41 5-20 5-3 6-7 6-18 5 6 5 21 6-9 6-36 5-8 5-4 6 3 6 69 5 0 5-12 6 24 6-22 5-25 5 61 6-54 6-57 5-11 5 43 6 2 6 3 5 16 5-16 6-36 6 35 5-17 5 2 6-24 6 62 5-59 5 25 6-6 6-36 5-3 5 12 6 55 6-35 5-30 5 83 6-44 6 45 5 14 5 17 6-3 6-16 5-77 5 21 6 13 6-30 5 52 5-46 6 3 6 47 5-43 5-49 6 18 6 25 5 77 5-76 6 17 6 29 5-26 5-72 6 31 6 29 5-3 5 16 6 5 6-25 5 11 5 48 6-64 6 32 5-6 5-3 6-61 6 28 5-29 5 75 6-40 6 27 5-22 5-26 6 1 6-6 5 5 5-7 6 9 6-8 5-5 5-3 6-5 6-1 5 6 5 0 6 2 6-2 5 5 5-9 6 4 6 4 5 6 5-2 6 2 6 3 5 4 5-7 6 6 6-9 5 2 5 2 6 11 6-9 5-6 5 6 6 1 6-5 5-5 5 6 6 0 6-3 5-5 5 0 6 0 6 4 5-6 5 5 6 5 6 2 5-9 5 1 6-4 6 7 5-1 5 4 6-7 6 0 5-1 5 0 6 2 6 0 5 0 5 4 6-5 6 4 5-3 5-2 6 0 6 3 5-1 5 2 6-6 6 9 5-1 5-2 6-3 6 1 5-4 5 4 6 2 6 5 5-3 5-1 6 2 6 5 5 1 5-1 6-1 6-2 5-2 5 6 6-5 6 6 5 2 5 0 6-14 6 8 5 2 5-3 6 3 6 1 5 0 5-5 6 3 6 3 5-5 5 7 6 2 6-3 5 3 5-14 6 3 6 6 5 3 5-1 6 1 6 4 5-7 5 7 6-9 6-1 5 0 5-2 6 3 6 0 5-3 5 5 6-7 6 7 5 0 5 0 6-7 6 5 5 5 5-3 6 5 6-4 5 4 5-10 6 5 6 8 5-11 5 3 6 4 6-2 5 1 5-1 6 6 6-3 5 0 5 2 6-8 6 2 5 1 5 3 6 3 6-8 5 7 5-12 6 9 6-5 5 12 5-1 6-8 6 6 5 0 5 1 6-6 6-4 5 6 5 2 6-12 6 9 5 6 5-10 6 13 6-5 5-3 5-2 6-9 6 7 5-3 5 7 6-4 6 14 5-8 5 1 6-2 6-7 5 7 5-7 6-1 6 11 5-8 5 1 6 0 6 6 5 6 5-5 6-2 6-5 5 4 5 4 6 4 6 1 5-8 5-1 6 4 6-4 5 0 5 4 6 1 6 1 5 7 5-8 6-5 6 3 5 7 6-1 5 4 6-2 5-5 6-1 5 12 6 1 5-1 5 0 6-2 6 7 5 2 5-7 6 4 6-1 5-2 5-1 6-3 6-1 5 1 6 0 5 2 6 1 5 5 6 1 5-10 6 11 5 1 5-3 6-3 6 8 5 6 5-10 6-7 6 2 5 3 5-5 6 1 6 3 5-2 6 1 5-16 6 14 5-5 6 1 5 2 6-3 5 2 5 7 6-1 6-4 5 8 5-4 6-1 6-8 5 1 5 1 6-3 6 1 5-1 6 2 5 7 6-7 5-1 6-6 5 4 6-5 5-1 5 10 6-1 6-2 5-7 5 6 6 0 6 0 5-4 5-2 6 2 6 6 5 1 6-6 5 4 6 8 5 0 6 0 5-2 6-5 5 2 5 6 6-15 6 14 5 3 5-9 6 0 6-2 5 2 5 9 6-3 6 2 5 0 6-4 5 7 6-4 5 3 6 3 5-2 6-5 5 6 5-4 6-3 6 2 5 6 5 1 6 2 6-7 5-6 5 2 6 5 6-9 5-2 6 1 5 8 6-3 5-8 6-5 5-5 6-1 5 5 5 4 6-3 6-13 5-2 5-2 6-2 6 0 5-1 5-8 6-1 6 15 5-7 6 3 5 2 6-5 5-2 6 6 5-3 6 8 5 1 5 0 6-3 6 0 5-7 5-2 6 4 6 1 5-1 5-7 6 2 6-2 5 0 6 0 5-1 6 5 5 6 6 5 5-2 6-3 5-2 5 7 6 3 6-12 0-3" fill="none" stroke="#20e020" stroke-width="9" stroke-linejoin="round" />
<path transform="scale(.1)" d="M6686 3721l6-103 5-29 5 25 6-16 6-2 5 8 5 60 6-107 6 24 5 23 5-63 6 70 6 55 5-55 5-3 6-13 6 70 5-119 6 95 5 13 6-48 5 24 5 13 6-17 6 47 5-59 5 15 6 22 6-90 5 81 5-1 6 55 6 81 5-118 5 31 6-92 6 49 5-18 6 114 5-67 6-7 5-30 5 100 6-40 6-18 5 4 5 36 6 4 6-40 5-19 5 3 6-30 6 52 5-38 5-60 6-12 6 28 5 23 6 88 5 0 6 10 5-49 5-21 6-13 6 13 5-38 5 48 6-19 6-2 5 26 5-3 6 5 6 11 5 19 5-2 6-50 6 10 5 22 6 43 5 73 6-44 5 23 5-61 6-54 6-13 5-17 5 62 6-6 6-21 5 64 5-32 6-33 6-55 5 78 5 9 6 10 6 23 5 22 6-147 5 84 6 58 5-18 5 8 6-6 6-10 5 44 5-137 6 35 6 54 5 111 5-15 6-50 6-9 5-71 5 1 6 15 6 107 5-74 6-19 5 8 6-75 5-15 5 32 6-40 6 61 5-84 5-37 6 2 6 96 5 0 6-18 5-11 6 44 5-56 5 38 6-17 6-40 5 32 6-32 5 60 6-50 5 40 5 48 6-32 6-59 5-9 5 9 6-130 6 53 5 61 6-16 5-26 6 87 5-40 5 70 6-1 6-7 5 0 6-3 5 1 6-70 5-10 5 54 6-49 6 99 5-26 5-68 6 24 6 23 5-34 6 86 5-16 6 44 5-99 5 23 6-18 6-73 5-18 6-3 5 0 6 60 5-129 5-29 6-11 6-74 5 74 5 59 6 47 6 209 5 33 6-58 5 64 6-30 5-76 5 8 6-49 6-33 5 44 6-69 5 100 6-5 5 41 5-76 6 17 6 62 5-11 5-40 6-32 6-50 5 37 6-2 5-16 6 82 5-66 5 99 6 53 6-165 5 4 6-2 5-29 6 25 5 22 5 38 6-77 6 90 5 4 5-39 6-58 6 34 5-92 6 28 5 102 6-7 5-85 5 74 6-25 6-77 5 49 6 46 5-13 6 92 5 45 5-40 6-35 6 47 5-30 5 12 6-22 6 15 5-40 6-36 5 40 6 1 5-10 5-7 6 17 6 101 5-89 6 26 5-59 6 84 5-69 5 27 6 29 6-57 5 5 5-52 6-12 6 98 5 9 6-22 5-103 6 87 5-64 5 94 6 23 6-61 5-27 5 40 6 37 6 28 5-8 5-162 6 47 6 31 5 56 5 32 6 45 6-145 5 48 5 85 6-48 6-6 5-74 5 24 6 67 6-7 5-34 5-130 6 71 6 30 5 2 5 44 6 16 6-37 5 29 5-91 6 13 6-30 5-10 5 68 6 38 6 41 5-11 5-6 6-39 6-28 5 61 5 12 6 43 6-58 5 43 5 57 6 11 6-141 5 21 5-74 6 54 6-25 5 56 5-55 6-9 6-68 5 96 5-61 6 63 6 25 5-91 5-22 6 45 6 106 5 10 5-4 6 32 6-131 5 22 5-3 6 31 6 14 5 5 5-82 6 43 6-55 5 68 5-27 6 26 6-56 5 13 5 68 6-21 6-62 5 34 5 42 6 47 6-39 5-45 5 15 6-118 6 87 5 76 5-63 6-62 6-4 5 1 5-16 6 89 6 5 5-53 5 36 6 29 6-49 5-33 5 30 6 4 6-23 5 72 5-99 6-64 6 74 5 40 5-40 6-38 6 38 5 25 5-75 6 16 6-16 5 36 5-46 6 17 6 12 5 0 5-63 6 67 6 62 5 26 5-27 6-28 6 4 5 64 5-106 6 2 6 31 5-41 5-74 6 35 6 87 5-21 5-22 6 16 6-66 5 29 5 73 6 24 6-85 5-32 5 12 6 37 6 21 5-90 5 19 6-40 6 90 5 18 5-138 6-91 6 195 5 37 5-52 6-39 6-35 5-45 5-30 6 0 6 17 5 39 5 29 6 24 6 15 5-6 5-2 6-1 6-2 5 13 5-5 6 9 6 16 5 15 5 2 6 8 6 7 5 0 5 10 6 15 6 3 5 12 5-1 6 4 6 6 5 10 5-1 6-2 6-4 5 9 5-3 6 12 6 17 5-8 5 6 6-4 6-4 5-3 5 8 6 12 6-5 5 0 5 8 6-8 6 10 5-1 5-6 6 10 6 3 5 4 5-13 6 5 6-2 5 1 5-6 6 6 6 8 5 0 5-14 6 7 6 2 5 7 5-7 6 3 6 3 5 1 5-1 6 0 6-1 5-11 5 13 6-9 6 1 5 3 5 8 6-1 6 6 5-10 5-8 6 13 6-3 5-10 5 7 6-3 6-3 5-3 5-4 6 8 6 3 5-2 5-2 6-3 6 3 5 1 5 9 6-1 6-3 5-10 5 15 6-9 6-4 5 4 5-10 6 5 6 3 5 5 5 9 6-16 6 0 5-13 5 13 6-5 6 2 5-3 5 9 6-4 6 4 5-10 5 4 6 3 6 11 5-2 5-9 6-10 6 1 5 4 5-2 6 6 6 0 5 4 5-6 6 2 6 7 5 3 5-7 6-4 6-1 5 6 5-13 6 8 6-6 5 3 5-7 6 1 6 3 5 1 5 7 6-3 6 1 5 3 5-1 6 0 6 0 5-5 5 9 6-11 6 2 5 12 5-3 6-3 6 0 5-4 5 2 6-9 6-4 5-6 5 11 6-2 6 1 5-3 5-3 6-1 6 7 5 6 5 0 6 1 6 8 5-9 5 0 6 0 6 5 5-1 5-4 6-9 6 3 5 6 5-2 6 6 6 6 5-7 5-4 6-9 6 13 5-11 5-1 6 1 6-4 5 1 5 4 6-8 6 5 5-4 5 2 6 5 6-7 5 7 5-17 6 11 6-5 5-3 6 3 5 11 6 3 5-6 6-1 5-3 6 1 5-6 5-2 6 7 6-11 5 14 5-10 6 2 6 11 5-2 5-24 6 7 6 4 5 6 6-15 5 2 6 10 5-12 6 11 5 1 6-11 5 5 5 5 6 4 6-4 5-1 5-6 6 6 6 16 5-19 5 3 6-7 6 12 5-8 6 10 5 1 6 0 5-2 6-1 5-13 6 14 5 5 5-5 6-15 6 5 5-2 5-3 6 0 6 15 5 3 5-10 6 18 6-2 5-6 6 3 5 4 6-5 5 14 6-14 5-10 6 2 5 10 5-10 6 1 6-2 5 5 5 3 6 3 6-2 5-10 5-3 6-2 6 15 5 7 6-11 5 4 6 3 5-6 6-2 5 14 6-10 5-9 5 1 6 0 6 0 5 8 5-1 6-16 6 18 5-8 5 5 6-12 6-1 5-2 6-7 5-7 6 2 5 3 6 1 5 6 6-8 5-12 5 2 6 3 6-13 5 0 5-2 6-7 6-13 5-6 5 12 6 0 6 1 5-3 6 2 5-1 6-9 5 2 6 4 5 8 6 9 5-6 5 1 6 0 6 14 5-3 5 4 6 9 6-2 5-4 5 2 6 8 6 1 5 7 6-8 5 10 6-4 5-1 6 1 5 0 6 0 5-4 5 9 6-8 6-2 5-3 5 0 6 3 6 7 5 0 5-2 6-6 6 8 5 9 6 6 5-15 6 5 5 8 6-11 5 4 6 3 5 5 5 0 6-6 6 11 0-17" fill="none" stroke="#ff2020" stroke-width="9" stroke-linejoin="round" />
<path transform="scale(.1)" d="M6686 3661l8 0 8-3 8 0 8-13 8 7 8-1 8 0 8-2 8 0 8 6 8 6 8-5 8-1 8-3 8-2 8 0 8 8 8 0 8-2 8-3 8-1 8 6 8-2 8 0 8 0 8-4 8 2 8-2 8 0 8 0 8 0 8-3 8-1 8 2 8 3 8 4 8-5 8 0 8 1 8 0 8-3 8 3 8 3 8-6 8-2 8 4 8 1 8 4 8-4 8-3 8 3 8 0 8 0 8-3 8-1 8 0 8-2 8 2 8 1 8 4 8-2 8 0 8-6 8 0 8-5 8 2 8 2 8-5 8 3 8 0 8-8 8-3 8 5 8-3 8 4 8-5 8-5 8 0 8-3 8 4 8 9 8-1 8-4 8 4 8 6 8-2 8 8 8-4 8 3 8 5 8-1 8-2 8 2 8 0 8 5 8-2 8-1 8-2 8 0 8 3 8 4 8 1 8-6 8 1 8-2 8-1 8 3 8 4 8 0 8 2 8 1 8-7 8 0 8 2 8-3 8 4 8-5 8-2 8-3 8 1 8 3 8 1 8-1 8 1 8 0 8 7 8-6 8 0 8 3 8-4 8-6 8 1 8 4 8 0 8 1 8 4 8-5 8 1 8-5 8 5 8 3 8-1 8-2 8-2 8 1 8 1 8 2 8-1 8 0 8 0 8-5 8 6 8 3 8-5 8-1 8 1 8 3 8 4 8-4 8 1 8 0 8-3 8 3 8 3 8 2 8-4 8-4 8-1 8 2 8 0 8 2 8 2 8-4 8 6 8 0 8-4 8 0 8-1 8-6 8 3 8 0 8 2 8-1 8-6 8-3 8 4 8 0 8 1 8-1 8 0 8 0 8 7 8-4 8-3 8 6 8-2 8-2 8 0 8-3 8 4 8 4 8-5 8 0 8 3 8-5 8 3 8-1 8 4 8-6 8 4 8 0 8 1 8-3 8 1 8-1 8 4 8-10 8 0 8 0 8 0 8 2 8-1 8 7 8-5 8 3 8 8 8-2 8-1 8-4 8-2 8-4 8 1 8-1 8 3 8-3 8-2 8-1 8 6 8 0 8-1 8-2 8-3 8 4 8 2 8 4 8-3 8 2 8-5 8-1 8 0 8 0 8 3 8 3 8-6 8-4 8 5 8-4 8 2 8-2 8 5 8-3 8-4 8 6 8-1 8 5 8-4 8-3 8 3 8-5 8-4 8 4 8-6 8 5 8 2 8 0 8-1 8-3 8-1 8 2 8-3 8-6 8 1 8 6 8-1 8 4 8-5 8 2 8 1 8 2 8 1 8-7 8 6 8-2 8 1 8 1 8 0 8 3 8-3 8 4 8-2 8-2 8 1 8 4 8 2 8 0 8-2 8 2 8 5 8-1 8 0 8-1 8 3 8-3 8 6 8-2 8 5 8 2 8-2 8-2 8-5 8 4 8-2 8-1 8-3 8-1 8 1 8-2 8 3 8 2 8 2 8 1 8-6 8 3 8-4 8 1 8 1 8 3 8-5 8 0 8 1 8 3 8 2 8-1 8-2 8-1 8-5 8 7 8 2 8 5 8 2 8-7 8 5 8-4 8 2 8-1 8 1 8-1 8-4 8 1 8 6 8-7 8-1 8-2 8 3 8-1 8 7 8-1 8-8 8 1 8 0 8-2 8-1 8 6 8 4 8-3 8 0 8 2 8-3 8 6 8-5 8 3 8-3 8 0 8 3 8-4 8 0 8-3 8 5 8-2 8-1 8 1 8-2 8-3 8 2 8 0 8-2 8 4 8 1 8 0 8-1 8 0 8 0 8-2 8 3 8-3 8 0 8 3 8 0 8-4 8 4 8-2 8 3 8-2 8 4 8-6 8 1 8-1 8 4 8 1 8-9 8 6 8 1 8 4 8-3 8 0 8 2 8-2 8 1 8 0 8 3 8-1 8 3 8-3 8-1 8 1 8-1 8-3 8 2 8-9 8 4 8 0 8 4 8 5 8-1 8-1 8-6 8-3 8 0 8 0 8 1 8 6 8-2 8-5 8-3 8 6 8 0 8 2 8-1 8 0 8 7 8 5 8-10 8 5 8 0 8-4 8 4 8-7 8 1 8-2 8-4 8 4 8 0 8-6 8-1 8 6 8 7 8 0 8-3 8 4 8 0 8-2 8-5 8 1 8-8 8 3 8 5 8-2 8 3 8 1 8 1 8-5 8-3 8 2 8 3 8 4 8-4 8 1 8-2 8 1 8-3 8 0 8-3 8 2 8 5 8-4 8-1 8 4 8-3 8 8 8-1 8-1 8-2 8 1 8-5 8-4 8 2 8 0 8 0 8 3 8-3 8 3 8 0 8 3 8 0 8 1 8-5 8 0 8 4 8 4 8-4 8 0 8 4 8 2 8-1 8-4 8-3 8-1 8-1 8 2 8-1 8 1 8 1 8 2 8-4 8 1 8-1 8 0 8-1 8 0 8 4 8-1 8 3 8 1 8-3 8 5 8-3 8-8 8-2 8 4 8 1 8 1 8 6 8 1 8 1 8-4 8 1 8-1 2 0" fill="none" stroke="#3030ff" stroke-width="8" stroke-linejoin="round" />
</g>
<rect x="668.6" y="337.3" width="453.8" height="73.7" fill="none" stroke="#000" stroke-width="1.2"/>
<line x1="721.5" y1="337.3" x2="721.5" y2="347.8" stroke="#383838" stroke-width="1.25" />
<line x1="721.5" y1="411" x2="721.5" y2="400.5" stroke="#383838" stroke-width="1.25" />
<line x1="812.9" y1="337.3" x2="812.9" y2="347.8" stroke="#383838" stroke-width="1.25" />
<line x1="812.9" y1="411" x2="812.9" y2="400.5" stroke="#383838" stroke-width="1.25" />
<line x1="904.3" y1="337.3" x2="904.3" y2="347.8" stroke="#383838" stroke-width="1.25" />
<line x1="904.3" y1="411" x2="904.3" y2="400.5" stroke="#383838" stroke-width="1.25" />
<line x1="995.7" y1="337.3" x2="995.7" y2="347.8" stroke="#383838" stroke-width="1.25" />
<line x1="995.7" y1="411" x2="995.7" y2="400.5" stroke="#383838" stroke-width="1.25" />
<line x1="1087.1" y1="337.3" x2="1087.1" y2="347.8" stroke="#383838" stroke-width="1.25" />
<line x1="1087.1" y1="411" x2="1087.1" y2="400.5" stroke="#383838" stroke-width="1.25" />
<line x1="684.9" y1="337.3" x2="684.9" y2="340.9" stroke="#000" stroke-width="0.9" />
<line x1="684.9" y1="411" x2="684.9" y2="407.4" stroke="#000" stroke-width="0.9" />
<line x1="703.2" y1="337.3" x2="703.2" y2="340.9" stroke="#000" stroke-width="0.9" />
<line x1="703.2" y1="411" x2="703.2" y2="407.4" stroke="#000" stroke-width="0.9" />
<line x1="739.8" y1="337.3" x2="739.8" y2="340.9" stroke="#000" stroke-width="0.9" />
<line x1="739.8" y1="411" x2="739.8" y2="407.4" stroke="#000" stroke-width="0.9" />
<line x1="758.1" y1="337.3" x2="758.1" y2="340.9" stroke="#000" stroke-width="0.9" />
<line x1="758.1" y1="411" x2="758.1" y2="407.4" stroke="#000" stroke-width="0.9" />
<line x1="776.3" y1="337.3" x2="776.3" y2="340.9" stroke="#000" stroke-width="0.9" />
<line x1="776.3" y1="411" x2="776.3" y2="407.4" stroke="#000" stroke-width="0.9" />
<line x1="794.6" y1="337.3" x2="794.6" y2="340.9" stroke="#000" stroke-width="0.9" />
<line x1="794.6" y1="411" x2="794.6" y2="407.4" stroke="#000" stroke-width="0.9" />
<line x1="831.2" y1="337.3" x2="831.2" y2="340.9" stroke="#000" stroke-width="0.9" />
<line x1="831.2" y1="411" x2="831.2" y2="407.4" stroke="#000" stroke-width="0.9" />
<line x1="849.5" y1="337.3" x2="849.5" y2="340.9" stroke="#000" stroke-width="0.9" />
<line x1="849.5" y1="411" x2="849.5" y2="407.4" stroke="#000" stroke-width="0.9" />
<line x1="867.7" y1="337.3" x2="867.7" y2="340.9" stroke="#000" stroke-width="0.9" />
<line x1="867.7" y1="411" x2="867.7" y2="407.4" stroke="#000" stroke-width="0.9" />
<line x1="886" y1="337.3" x2="886" y2="340.9" stroke="#000" stroke-width="0.9" />
<line x1="886" y1="411" x2="886" y2="407.4" stroke="#000" stroke-width="0.9" />
<line x1="922.6" y1="337.3" x2="922.6" y2="340.9" stroke="#000" stroke-width="0.9" />
<line x1="922.6" y1="411" x2="922.6" y2="407.4" stroke="#000" stroke-width="0.9" />
<line x1="940.9" y1="337.3" x2="940.9" y2="340.9" stroke="#000" stroke-width="0.9" />
<line x1="940.9" y1="411" x2="940.9" y2="407.4" stroke="#000" stroke-width="0.9" />
<line x1="959.1" y1="337.3" x2="959.1" y2="340.9" stroke="#000" stroke-width="0.9" />
<line x1="959.1" y1="411" x2="959.1" y2="407.4" stroke="#000" stroke-width="0.9" />
<line x1="977.4" y1="337.3" x2="977.4" y2="340.9" stroke="#000" stroke-width="0.9" />
<line x1="977.4" y1="411" x2="977.4" y2="407.4" stroke="#000" stroke-width="0.9" />
<line x1="1014" y1="337.3" x2="1014" y2="340.9" stroke="#000" stroke-width="0.9" />
<line x1="1014" y1="411" x2="1014" y2="407.4" stroke="#000" stroke-width="0.9" />
<line x1="1032.3" y1="337.3" x2="1032.3" y2="340.9" stroke="#000" stroke-width="0.9" />
<line x1="1032.3" y1="411" x2="1032.3" y2="407.4" stroke="#000" stroke-width="0.9" />
<line x1="1050.5" y1="337.3" x2="1050.5" y2="340.9" stroke="#000" stroke-width="0.9" />
<line x1="1050.5" y1="411" x2="1050.5" y2="407.4" stroke="#000" stroke-width="0.9" />
<line x1="1068.8" y1="337.3" x2="1068.8" y2="340.9" stroke="#000" stroke-width="0.9" />
<line x1="1068.8" y1="411" x2="1068.8" y2="407.4" stroke="#000" stroke-width="0.9" />
<line x1="1105.4" y1="337.3" x2="1105.4" y2="340.9" stroke="#000" stroke-width="0.9" />
<line x1="1105.4" y1="411" x2="1105.4" y2="407.4" stroke="#000" stroke-width="0.9" />
<line x1="668.6" y1="402.9" x2="674.6" y2="402.9" stroke="#000" stroke-width="0.9" />
<line x1="1122.4" y1="402.9" x2="1116.4" y2="402.9" stroke="#000" stroke-width="0.9" />
<line x1="668.6" y1="384.6" x2="674.6" y2="384.6" stroke="#000" stroke-width="0.9" />
<line x1="1122.4" y1="384.6" x2="1116.4" y2="384.6" stroke="#000" stroke-width="0.9" />
<line x1="668.6" y1="366.3" x2="674.6" y2="366.3" stroke="#000" stroke-width="0.9" />
<line x1="1122.4" y1="366.3" x2="1116.4" y2="366.3" stroke="#000" stroke-width="0.9" />
<line x1="668.6" y1="348" x2="674.6" y2="348" stroke="#000" stroke-width="0.9" />
<line x1="1122.4" y1="348" x2="1116.4" y2="348" stroke="#000" stroke-width="0.9" />
<line x1="668.6" y1="410.2" x2="670.9" y2="410.2" stroke="#222" stroke-width="0.8" />
<line x1="1122.4" y1="410.2" x2="1120.1" y2="410.2" stroke="#222" stroke-width="0.8" />
<line x1="668.6" y1="406.6" x2="670.9" y2="406.6" stroke="#222" stroke-width="0.8" />
<line x1="1122.4" y1="406.6" x2="1120.1" y2="406.6" stroke="#222" stroke-width="0.8" />
<line x1="668.6" y1="399.2" x2="670.9" y2="399.2" stroke="#222" stroke-width="0.8" />
<line x1="1122.4" y1="399.2" x2="1120.1" y2="399.2" stroke="#222" stroke-width="0.8" />
<line x1="668.6" y1="395.6" x2="670.9" y2="395.6" stroke="#222" stroke-width="0.8" />
<line x1="1122.4" y1="395.6" x2="1120.1" y2="395.6" stroke="#222" stroke-width="0.8" />
<line x1="668.6" y1="391.9" x2="670.9" y2="391.9" stroke="#222" stroke-width="0.8" />
<line x1="1122.4" y1="391.9" x2="1120.1" y2="391.9" stroke="#222" stroke-width="0.8" />
<line x1="668.6" y1="388.3" x2="670.9" y2="388.3" stroke="#222" stroke-width="0.8" />
<line x1="1122.4" y1="388.3" x2="1120.1" y2="388.3" stroke="#222" stroke-width="0.8" />
<line x1="668.6" y1="380.9" x2="670.9" y2="380.9" stroke="#222" stroke-width="0.8" />
<line x1="1122.4" y1="380.9" x2="1120.1" y2="380.9" stroke="#222" stroke-width="0.8" />
<line x1="668.6" y1="377.3" x2="670.9" y2="377.3" stroke="#222" stroke-width="0.8" />
<line x1="1122.4" y1="377.3" x2="1120.1" y2="377.3" stroke="#222" stroke-width="0.8" />
<line x1="668.6" y1="373.6" x2="670.9" y2="373.6" stroke="#222" stroke-width="0.8" />
<line x1="1122.4" y1="373.6" x2="1120.1" y2="373.6" stroke="#222" stroke-width="0.8" />
<line x1="668.6" y1="370" x2="670.9" y2="370" stroke="#222" stroke-width="0.8" />
<line x1="1122.4" y1="370" x2="1120.1" y2="370" stroke="#222" stroke-width="0.8" />
<line x1="668.6" y1="362.6" x2="670.9" y2="362.6" stroke="#222" stroke-width="0.8" />
<line x1="1122.4" y1="362.6" x2="1120.1" y2="362.6" stroke="#222" stroke-width="0.8" />
<line x1="668.6" y1="359" x2="670.9" y2="359" stroke="#222" stroke-width="0.8" />
<line x1="1122.4" y1="359" x2="1120.1" y2="359" stroke="#222" stroke-width="0.8" />
<line x1="668.6" y1="355.3" x2="670.9" y2="355.3" stroke="#222" stroke-width="0.8" />
<line x1="1122.4" y1="355.3" x2="1120.1" y2="355.3" stroke="#222" stroke-width="0.8" />
<line x1="668.6" y1="351.7" x2="670.9" y2="351.7" stroke="#222" stroke-width="0.8" />
<line x1="1122.4" y1="351.7" x2="1120.1" y2="351.7" stroke="#222" stroke-width="0.8" />
<line x1="668.6" y1="344.3" x2="670.9" y2="344.3" stroke="#222" stroke-width="0.8" />
<line x1="1122.4" y1="344.3" x2="1120.1" y2="344.3" stroke="#222" stroke-width="0.8" />
<line x1="668.6" y1="340.7" x2="670.9" y2="340.7" stroke="#222" stroke-width="0.8" />
<line x1="1122.4" y1="340.7" x2="1120.1" y2="340.7" stroke="#222" stroke-width="0.8" />
<text x="666" y="352" font-size="10.67" fill="#000" text-anchor="end" >5</text>
<text x="666" y="370.3" font-size="10.67" fill="#000" text-anchor="end" >0</text>
<text x="666" y="388.8" font-size="10.67" fill="#000" text-anchor="end" >-5</text>
<text x="666" y="407.1" font-size="10.67" fill="#000" text-anchor="end" >-10</text>
<text transform="translate(642,375) rotate(-90)" font-size="10.67" fill="#000" text-anchor="middle">E<tspan font-size="8.6" dy="3">LMN</tspan><tspan dy="-3">&#8203;</tspan>&#160; [mV m<tspan font-size="8.6" dy="-4">-1</tspan><tspan dy="4">&#8203;</tspan>]</text>
<line x1="674.5" y1="342.3" x2="692.5" y2="342.3" stroke="#3030ff" stroke-width="1.0" />
<text x="695" y="345.8" font-size="9.3" fill="#0000ff" text-anchor="start" >E<tspan font-size="6.3" dy="3.3">L</tspan><tspan dy="-3.3">&#8203;</tspan></text>
<line x1="674.5" y1="352.5" x2="692.5" y2="352.5" stroke="#30e830" stroke-width="1.0" />
<text x="695" y="356" font-size="9.3" fill="#00ff00" text-anchor="start" >E<tspan font-size="6.3" dy="3.3">M</tspan><tspan dy="-3.3">&#8203;</tspan></text>
<text x="695" y="366.5" font-size="9.3" fill="#ff0000" text-anchor="start" >E<tspan font-size="6.3" dy="3.3">N</tspan><tspan dy="-3.3">&#8203;</tspan></text>
<g clip-path="url(#cM6)">
<line x1="668.6" y1="448.5" x2="1122.4" y2="448.5" stroke="#909090" stroke-width="1.0" stroke-dasharray="4.3 2.1" />
<path transform="scale(.1)" d="M6686 4480l6 3 5-28 5 1 6 57 6-23 5-36 5 30 6 5 6 35 5-6 5 36 6-54 6-30 5 41 5 11 6 41 6-14 5-21 6-23 5 26 6 0 5-16 5-10 6 20 6 24 5-34 5 13 6-1 6 10 5-27 5 6 6-8 6-18 5 7 5-14 6 24 6 0 5 32 6-40 5-2 6 19 5 35 5 4 6 10 6-41 5-11 5 7 6 36 6-28 5 8 5-4 6 9 6-22 5 0 5 22 6 29 6 10 5 12 6-47 5-29 6 14 5 6 5-17 6-16 6 43 5-39 5-4 6 12 6 31 5-31 5 17 6-3 6 36 5-3 5-2 6-24 6 6 5-37 6-18 5 11 6 3 5 11 5 26 6 14 6 20 5-33 5-15 6-12 6-8 5 54 5-10 6-9 6-6 5 3 5 50 6-46 6 25 5-35 6 7 5 48 6-16 5-36 5 25 6-16 6 1 5 10 5 14 6 13 6 26 5-4 5 31 6 8 6 8 5-30 5-10 6 26 6-6 5-22 6 3 5-39 6-15 5 10 5-10 6-15 6-13 5 12 5-26 6 12 6-10 5 24 6 10 5-13 6-10 5-16 5 18 6 15 6-14 5 33 6-25 5 29 6-21 5 39 5-12 6-5 6 1 5-33 5 7 6 19 6-27 5 30 6-22 5 12 6 4 5-23 5-26 6 36 6 26 5-13 6 20 5-44 6 12 5-4 5 7 6-15 6 38 5-34 5-4 6 18 6-35 5-18 6 4 5 22 6 14 5 27 5 48 6-40 6-48 5 27 6 23 5-31 6 22 5-28 5-8 6-30 6 20 5-18 5 1 6 55 6-8 5 82 6 36 5 109 6-27 5-97 5-67 6-68 6 4 5 7 6-19 5 5 6 29 5-29 5-24 6 45 6-27 5-32 5 9 6-10 6-15 5 28 6 20 5-37 6 32 5 6 5-16 6 9 6 8 5 21 6-10 5-13 6 17 5 3 5-4 6-23 6 8 5 18 5-3 6-2 6-7 5-3 6-14 5-17 6 15 5 5 5 43 6-11 6 16 5-36 6 0 5-31 6 18 5 3 5 8 6 19 6 11 5-35 5-8 6 42 6 12 5-2 6-28 5-4 6 15 5-10 5-4 6 36 6 23 5-71 6 14 5 20 6-17 5 0 5-10 6-35 6 29 5 29 5-39 6-10 6 1 5-9 6 58 5-19 6-3 5-8 5 8 6 6 6 3 5-12 5 4 6-4 6 23 5 43 5-53 6 24 6 11 5-56 5 18 6-18 6 11 5-21 5 31 6-9 6-38 5 12 5 66 6-20 6-10 5-17 5 9 6-8 6 9 5 50 5-53 6 5 6 9 5-39 5 23 6-7 6 36 5-15 5-18 6-41 6 45 5 15 5 13 6-22 6 1 5 15 5-10 6-40 6-7 5 60 5-11 6-51 6 4 5 23 5-2 6 51 6-10 5-32 5 25 6-4 6 22 5-67 5 12 6 7 6 57 5-15 5 22 6-25 6 35 5-36 5-26 6 17 6-53 5 25 5-13 6 22 6 18 5-25 5 4 6 15 6 29 5-14 5-2 6-5 6-13 5 5 5 14 6-6 6-25 5-6 5-2 6 2 6 48 5 0 5-9 6 18 6-16 5-18 5 43 6-38 6-40 5-7 5 29 6 2 6 2 5 11 5-10 6-26 6 24 5-11 5 1 6-17 6 44 5-42 5 18 6-4 6-26 5-2 5 9 6 38 6-24 5-21 5 58 6-31 6 32 5 10 5 11 6-2 6-11 5-54 5 15 6 9 6-21 5 36 5-32 6 2 6 33 5-30 5-34 6 12 6 18 5 54 5-53 6 12 6 20 5-18 5-51 6 22 6 20 5-2 5 11 6 4 6-18 5 8 5 34 6-45 6 22 5-4 5-2 6-43 6 20 5-20 5 52 6-28 6 18 5-15 5-18 6 1 6-4 5 3 5-5 6 7 6-6 5-4 5-1 6-4 6-1 5 5 5 0 6 1 6-1 5 3 5-7 6 4 6 2 5 4 5-1 6 1 6 2 5 3 5-4 6 4 6-7 5 1 5 2 6 8 6-6 5-5 5 5 6 0 6-3 5-4 5 4 6 0 6-2 5-3 5 0 6 0 6 3 5-5 5 4 6 3 6 2 5-7 5 1 6-2 6 5 5-1 5 2 6-4 6-1 5-1 5 1 6 1 6 0 5 0 5 3 6-3 6 2 5-2 5-1 6 0 6 2 5-1 5 1 6-4 6 7 5-1 5-1 6-3 6 1 5-3 5 3 6 1 6 4 5-2 5 0 6 1 6 3 5 1 5-1 6 0 6-2 5-2 5 5 6-3 6 3 5 2 5 0 6-10 6 6 5 1 5-2 6 2 6 1 5 0 5-3 6 2 6 1 5-3 5 5 6 2 6-3 5 2 5-10 6 3 6 4 5 2 5 0 6 0 6 3 5-5 5 5 6-7 6 0 5 0 5-1 6 1 6 1 5-3 5 4 6-5 6 5 5 0 5 0 6-5 6 3 5 4 5-2 6 3 6-3 5 3 5-7 6 4 6 5 5-7 5 2 6 3 6-2 5 1 5 0 6 4 6-2 5 0 5 1 6-6 6 1 5 1 5 2 6 3 6-6 5 5 5-8 6 5 6-3 5 9 5-1 6-6 6 5 5-1 5 1 6-4 6-3 5 4 5 2 6-9 6 7 5 4 5-7 6 9 6-4 5-1 5-2 6-7 6 6 5-3 5 5 6-2 6 9 5-5 5 1 6-2 6-5 5 5 5-5 6-1 6 8 5-5 5 0 6 0 6 4 5 5 5-4 6-1 6-3 5 2 5 3 6 3 6 0 5-5 5-1 6 3 6-3 5 0 5 3 6 0 6 1 5 5 5-5 6-4 6 2 5 5 6-1 5 3 6-2 5-3 6 0 5 8 6 1 5-1 5 0 6-1 6 4 5 2 5-5 6 3 6-1 5-1 5-1 6-2 6-1 5 1 6 0 5 1 6 1 5 3 6 1 5-7 6 8 5 1 5-3 6-1 6 5 5 4 5-7 6-4 6 1 5 2 5-4 6 1 6 2 5-1 6 0 5-11 6 10 5-3 6 0 5 1 6-2 5 2 5 5 6-1 6-3 5 6 5-3 6-1 6-5 5 0 5 1 6-2 6 1 5-1 6 2 5 4 6-4 5-1 6-5 5 4 6-4 5-1 5 7 6 0 6-2 5-5 5 4 6 1 6-1 5-2 5-2 6 1 6 5 5 0 6-3 5 2 6 5 5 1 6 0 5-2 6-3 5 1 5 5 6-11 6 10 5 2 5-7 6 0 6-1 5 1 5 7 6-2 6 1 5 0 6-3 5 5 6-3 5 2 6 3 5-2 6-4 5 5 5-3 6-2 6 2 5 3 5 1 6 2 6-5 5-4 5 1 6 4 6-7 5-1 6 0 5 6 6-2 5-6 6-3 5-4 6 0 5 3 5 3 6-2 6-9 5-1 5-2 6-1 6-1 5 0 5-6 6 0 6 10 5-5 6 3 5 1 6-4 5-1 6 4 5-2 6 6 5 0 5 0 6-2 6 0 5-5 5-1 6 3 6 1 5-1 5-6 6 2 6-1 5-1 6 1 5-1 6 4 5 4 6 3 5-1 6-3 5-1 5 5 6 2 6-8 0-2" fill="none" stroke="#20e020" stroke-width="9" stroke-linejoin="round" />
<path transform="scale(.1)" d="M6686 4483l6 4 5-26 5 5 6 47 6-17 5-25 5 20 6 8 6 20 5-9 5 17 6-17 6-21 5 25 5-2 6 19 6 0 5-9 6-13 5 14 6-1 5-11 5-4 6 10 6 13 5-19 5 5 6 10 6 12 5-31 5 13 6-7 6-12 5-6 5-8 6 17 6 1 5 26 6-23 5-4 6 7 5 14 5 13 6 1 6-21 5-4 5 5 6 20 6-11 5 2 5 3 6 4 6-16 5-1 5 20 6-3 6-3 5 0 6 2 5-23 6 9 5 14 5-12 6-12 6 26 5-27 5 5 6 2 6 25 5-23 5 9 6-3 6 11 5-8 5 11 6-7 6 10 5-27 6-18 5 2 6 9 5 8 5 19 6 0 6-1 5 0 5-11 6-9 6 2 5 18 5-5 6 7 6 1 5 7 5-9 6-2 6 4 5-6 6 3 5 7 6-7 5-1 5-3 6 6 6 6 5-9 5 7 6 4 6-6 5-2 5-3 6-4 6 10 5 5 5-6 6-6 6 2 5-2 6-3 5 3 6 0 5 2 5 0 6-4 6-3 5 7 5-21 6 19 6-14 5 16 6 2 5-4 6-11 5-10 5 12 6 10 6-5 5 11 6-12 5 2 6 3 5 1 5 2 6-7 6-4 5 12 5 0 6-6 6 1 5 6 6-2 5-7 6 5 5-1 5-21 6 19 6 7 5 0 6 1 5-6 6 7 5-6 5 1 6-6 6 9 5-5 5 2 6 7 6-23 5-15 6 5 5 24 6 7 5 4 5-1 6 1 6-19 5 11 6 3 5-5 6-4 5 2 5 6 6-35 6 28 5-20 5-3 6 23 6 7 5 2 6-2 5 2 6-6 5 3 5 3 6-14 6-2 5 2 6-8 5-2 6 15 5-8 5-14 6 28 6-29 5-13 5 6 6-14 6-10 5 25 6 12 5-34 6 24 5 16 5-11 6 3 6 6 5 13 6 0 5-15 6 16 5 3 5-9 6-2 6-4 5 12 5-2 6 5 6-13 5-4 6-13 5-4 6 8 5 0 5 29 6-5 6-1 5-12 6 2 5-28 6 11 5 5 5 1 6 19 6 9 5-27 5-3 6 24 6 1 5 4 6-13 5 4 6 8 5-5 5-2 6 11 6-6 5-17 6 10 5 9 6-9 5-6 5-1 6-28 6 30 5 14 5-31 6-2 6-7 5 5 6 35 5-14 6-3 5-1 5-1 6 7 6 5 5-13 5 7 6-11 6 16 5 1 5 2 6-1 6 2 5-21 5 16 6-13 6 10 5-18 5 19 6-2 6-35 5 12 5 32 6-2 6-1 5-21 5 16 6-1 6-6 5 19 5-17 6 6 6 4 5-31 5 23 6-6 6 18 5-9 5-7 6-36 6 42 5 14 5-2 6-11 6 3 5 7 5-2 6-30 6-3 5 33 5-2 6-43 6 4 5 21 5 2 6 18 6-1 5-17 5 19 6 7 6-1 5-35 5 2 6 1 6 22 5 4 5 10 6-11 6 3 5-10 5-5 6 13 6-38 5 22 5-6 6 14 6 8 5-23 5 10 6 6 6 2 5-2 5 7 6-10 6 5 5 3 5 6 6 5 6-20 5-15 5 4 6 1 6 28 5 6 5-4 6-12 6 1 5-8 5 8 6-4 6-20 5-12 5 21 6 6 6-3 5 7 5-5 6-16 6 25 5-21 5 3 6-11 6 37 5-31 5 5 6-6 6-15 5-6 5 7 6 25 6-17 5-11 5 40 6-16 6 19 5 2 5 7 6-8 6-8 5-23 5 12 6 6 6-16 5 23 5-23 6 5 6 24 5-15 5-30 6 6 6 9 5 29 5-24 6 10 6 12 5-17 5-33 6 15 6 14 5-3 5 12 6 7 6-17 5 9 5 15 6-19 6 14 5-7 5 4 6-32 6 12 5-21 5 35 6-16 6 10 5-10 5-14 6-10 6-6 5 1 5-7 6-14 6 1 5 2 5-1 6 7 6 5 5-1 5-7 6 8 6 2 5-6 5 1 6 10 6-5 5 3 5-3 6-1 6 0 5-10 5 14 6 2 6-3 5 4 5 3 6-3 6-2 5 0 5 0 6-2 6 1 5 5 5-7 6-1 6 6 5 0 5-3 6-2 6-5 5 9 5-5 6-2 6 5 5-6 5-3 6 4 6 5 5 1 5-4 6 4 6-2 5-1 5-3 6-1 6-1 5 1 5 9 6-3 6-1 5-6 5 4 6 2 6 1 5-2 5-3 6 5 6 2 5 3 5-2 6 1 6-1 5-1 5 5 6-3 6 9 5 0 5-4 6 2 6 8 5-7 5 1 6 0 6-6 5 8 5 2 6 5 6-4 5-1 5 5 6-4 6-3 5 6 5-3 6 0 6 3 5-4 5 8 6-8 6 1 5-3 5 2 6 0 6 3 5-3 5 3 6 3 6-6 5 4 5-6 6 4 6 1 5 0 5-6 6 1 6-1 5-1 5-1 6 2 6 2 5-4 5 3 6-4 6-6 5 8 5 9 6-2 6-2 5-3 5 2 6 1 6-10 5-1 5 2 6 2 6 1 5 1 5-4 6 6 6-6 5 3 5-2 6 1 6-3 5 1 5-2 6 2 6 2 5-4 5 6 6 0 6-3 5-1 5-1 6 0 6 6 5-4 5 3 6-2 6-1 5 5 5-2 6 2 6-4 5 7 5-6 6 7 6-4 5-5 5 2 6 5 6-2 5-3 5 3 6-5 6-1 5 3 5 3 6-2 6 1 5 6 5-2 6 1 6 0 5-4 5 4 6-3 6-5 5 1 5 1 6 2 6 3 5-4 5 2 6-2 6 1 5 4 5-4 6-1 6 4 5-4 5 0 6-1 6 4 5 1 5-11 6 3 6 4 5 0 5-1 6 1 6-8 5 0 6 4 5 5 6-6 5 4 6 2 5-2 6 3 5 2 5-1 6 5 6-7 5 2 5-3 6 4 6 4 5-6 5-1 6 0 6-2 5 0 6 4 5-8 6 5 5 1 6 3 5-5 6 3 5 2 5-5 6-3 6 3 5 4 5 1 6 4 6-2 5-1 5-2 6-7 6 4 5 0 6-1 5 5 6-3 5-1 6-8 5 1 6 10 5-2 5-2 6 3 6-6 5 5 5-2 6 4 6-3 5-5 5 13 6-5 6-8 5 3 6 2 5-5 6 6 5 2 6-4 5 2 6 5 5-3 5 0 6-4 6 4 5-2 5 6 6-6 6-1 5 5 5-6 6 1 6 2 5-6 6 4 5-2 6 3 5-1 6-1 5 6 6-4 5 1 5 1 6-7 6 4 5 1 5 5 6-5 6 7 5-4 5-1 6 4 6 1 5-1 6 5 5 4 6 0 5 0 6-1 5 0 6 4 5-7 5 9 6-5 6 0 5 2 5 7 6 4 6-3 5-4 5 7 6-4 6 2 5-7 6 1 5 5 6-4 5 0 6-6 5-2 6 1 5-5 5 1 6-1 6-13 5 6 5 4 6-8 6 1 5-3 5 0 6-7 6 3 5 1 6-1 5-1 6-1 5 1 6-1 5 0 6 7 5-7 5 1 6-1 6 7 5-8 5 1 6-5 6 5 5-7 5 5 6-3 6 5 5 0 6-9 5-1 6 2 5 2 6 3 5-1 6 0 5-1 5-6 6-3 6-2 0 8" fill="none" stroke="#181818" stroke-width="9" stroke-linejoin="round" />
</g>
<rect x="668.6" y="411" width="453.8" height="73.6" fill="none" stroke="#000" stroke-width="1.2"/>
<line x1="721.5" y1="411" x2="721.5" y2="421.5" stroke="#383838" stroke-width="1.25" />
<line x1="721.5" y1="484.6" x2="721.5" y2="474.1" stroke="#383838" stroke-width="1.25" />
<line x1="812.9" y1="411" x2="812.9" y2="421.5" stroke="#383838" stroke-width="1.25" />
<line x1="812.9" y1="484.6" x2="812.9" y2="474.1" stroke="#383838" stroke-width="1.25" />
<line x1="904.3" y1="411" x2="904.3" y2="421.5" stroke="#383838" stroke-width="1.25" />
<line x1="904.3" y1="484.6" x2="904.3" y2="474.1" stroke="#383838" stroke-width="1.25" />
<line x1="995.7" y1="411" x2="995.7" y2="421.5" stroke="#383838" stroke-width="1.25" />
<line x1="995.7" y1="484.6" x2="995.7" y2="474.1" stroke="#383838" stroke-width="1.25" />
<line x1="1087.1" y1="411" x2="1087.1" y2="421.5" stroke="#383838" stroke-width="1.25" />
<line x1="1087.1" y1="484.6" x2="1087.1" y2="474.1" stroke="#383838" stroke-width="1.25" />
<line x1="684.9" y1="411" x2="684.9" y2="414.6" stroke="#000" stroke-width="0.9" />
<line x1="684.9" y1="484.6" x2="684.9" y2="481" stroke="#000" stroke-width="0.9" />
<line x1="703.2" y1="411" x2="703.2" y2="414.6" stroke="#000" stroke-width="0.9" />
<line x1="703.2" y1="484.6" x2="703.2" y2="481" stroke="#000" stroke-width="0.9" />
<line x1="739.8" y1="411" x2="739.8" y2="414.6" stroke="#000" stroke-width="0.9" />
<line x1="739.8" y1="484.6" x2="739.8" y2="481" stroke="#000" stroke-width="0.9" />
<line x1="758.1" y1="411" x2="758.1" y2="414.6" stroke="#000" stroke-width="0.9" />
<line x1="758.1" y1="484.6" x2="758.1" y2="481" stroke="#000" stroke-width="0.9" />
<line x1="776.3" y1="411" x2="776.3" y2="414.6" stroke="#000" stroke-width="0.9" />
<line x1="776.3" y1="484.6" x2="776.3" y2="481" stroke="#000" stroke-width="0.9" />
<line x1="794.6" y1="411" x2="794.6" y2="414.6" stroke="#000" stroke-width="0.9" />
<line x1="794.6" y1="484.6" x2="794.6" y2="481" stroke="#000" stroke-width="0.9" />
<line x1="831.2" y1="411" x2="831.2" y2="414.6" stroke="#000" stroke-width="0.9" />
<line x1="831.2" y1="484.6" x2="831.2" y2="481" stroke="#000" stroke-width="0.9" />
<line x1="849.5" y1="411" x2="849.5" y2="414.6" stroke="#000" stroke-width="0.9" />
<line x1="849.5" y1="484.6" x2="849.5" y2="481" stroke="#000" stroke-width="0.9" />
<line x1="867.7" y1="411" x2="867.7" y2="414.6" stroke="#000" stroke-width="0.9" />
<line x1="867.7" y1="484.6" x2="867.7" y2="481" stroke="#000" stroke-width="0.9" />
<line x1="886" y1="411" x2="886" y2="414.6" stroke="#000" stroke-width="0.9" />
<line x1="886" y1="484.6" x2="886" y2="481" stroke="#000" stroke-width="0.9" />
<line x1="922.6" y1="411" x2="922.6" y2="414.6" stroke="#000" stroke-width="0.9" />
<line x1="922.6" y1="484.6" x2="922.6" y2="481" stroke="#000" stroke-width="0.9" />
<line x1="940.9" y1="411" x2="940.9" y2="414.6" stroke="#000" stroke-width="0.9" />
<line x1="940.9" y1="484.6" x2="940.9" y2="481" stroke="#000" stroke-width="0.9" />
<line x1="959.1" y1="411" x2="959.1" y2="414.6" stroke="#000" stroke-width="0.9" />
<line x1="959.1" y1="484.6" x2="959.1" y2="481" stroke="#000" stroke-width="0.9" />
<line x1="977.4" y1="411" x2="977.4" y2="414.6" stroke="#000" stroke-width="0.9" />
<line x1="977.4" y1="484.6" x2="977.4" y2="481" stroke="#000" stroke-width="0.9" />
<line x1="1014" y1="411" x2="1014" y2="414.6" stroke="#000" stroke-width="0.9" />
<line x1="1014" y1="484.6" x2="1014" y2="481" stroke="#000" stroke-width="0.9" />
<line x1="1032.3" y1="411" x2="1032.3" y2="414.6" stroke="#000" stroke-width="0.9" />
<line x1="1032.3" y1="484.6" x2="1032.3" y2="481" stroke="#000" stroke-width="0.9" />
<line x1="1050.5" y1="411" x2="1050.5" y2="414.6" stroke="#000" stroke-width="0.9" />
<line x1="1050.5" y1="484.6" x2="1050.5" y2="481" stroke="#000" stroke-width="0.9" />
<line x1="1068.8" y1="411" x2="1068.8" y2="414.6" stroke="#000" stroke-width="0.9" />
<line x1="1068.8" y1="484.6" x2="1068.8" y2="481" stroke="#000" stroke-width="0.9" />
<line x1="1105.4" y1="411" x2="1105.4" y2="414.6" stroke="#000" stroke-width="0.9" />
<line x1="1105.4" y1="484.6" x2="1105.4" y2="481" stroke="#000" stroke-width="0.9" />
<line x1="668.6" y1="473.1" x2="674.6" y2="473.1" stroke="#000" stroke-width="0.9" />
<line x1="1122.4" y1="473.1" x2="1116.4" y2="473.1" stroke="#000" stroke-width="0.9" />
<line x1="668.6" y1="448.3" x2="674.6" y2="448.3" stroke="#000" stroke-width="0.9" />
<line x1="1122.4" y1="448.3" x2="1116.4" y2="448.3" stroke="#000" stroke-width="0.9" />
<line x1="668.6" y1="423.5" x2="674.6" y2="423.5" stroke="#000" stroke-width="0.9" />
<line x1="1122.4" y1="423.5" x2="1116.4" y2="423.5" stroke="#000" stroke-width="0.9" />
<line x1="668.6" y1="483" x2="670.9" y2="483" stroke="#222" stroke-width="0.8" />
<line x1="1122.4" y1="483" x2="1120.1" y2="483" stroke="#222" stroke-width="0.8" />
<line x1="668.6" y1="478.1" x2="670.9" y2="478.1" stroke="#222" stroke-width="0.8" />
<line x1="1122.4" y1="478.1" x2="1120.1" y2="478.1" stroke="#222" stroke-width="0.8" />
<line x1="668.6" y1="468.1" x2="670.9" y2="468.1" stroke="#222" stroke-width="0.8" />
<line x1="1122.4" y1="468.1" x2="1120.1" y2="468.1" stroke="#222" stroke-width="0.8" />
<line x1="668.6" y1="463.2" x2="670.9" y2="463.2" stroke="#222" stroke-width="0.8" />
<line x1="1122.4" y1="463.2" x2="1120.1" y2="463.2" stroke="#222" stroke-width="0.8" />
<line x1="668.6" y1="458.2" x2="670.9" y2="458.2" stroke="#222" stroke-width="0.8" />
<line x1="1122.4" y1="458.2" x2="1120.1" y2="458.2" stroke="#222" stroke-width="0.8" />
<line x1="668.6" y1="453.3" x2="670.9" y2="453.3" stroke="#222" stroke-width="0.8" />
<line x1="1122.4" y1="453.3" x2="1120.1" y2="453.3" stroke="#222" stroke-width="0.8" />
<line x1="668.6" y1="443.3" x2="670.9" y2="443.3" stroke="#222" stroke-width="0.8" />
<line x1="1122.4" y1="443.3" x2="1120.1" y2="443.3" stroke="#222" stroke-width="0.8" />
<line x1="668.6" y1="438.4" x2="670.9" y2="438.4" stroke="#222" stroke-width="0.8" />
<line x1="1122.4" y1="438.4" x2="1120.1" y2="438.4" stroke="#222" stroke-width="0.8" />
<line x1="668.6" y1="433.4" x2="670.9" y2="433.4" stroke="#222" stroke-width="0.8" />
<line x1="1122.4" y1="433.4" x2="1120.1" y2="433.4" stroke="#222" stroke-width="0.8" />
<line x1="668.6" y1="428.5" x2="670.9" y2="428.5" stroke="#222" stroke-width="0.8" />
<line x1="1122.4" y1="428.5" x2="1120.1" y2="428.5" stroke="#222" stroke-width="0.8" />
<line x1="668.6" y1="418.5" x2="670.9" y2="418.5" stroke="#222" stroke-width="0.8" />
<line x1="1122.4" y1="418.5" x2="1120.1" y2="418.5" stroke="#222" stroke-width="0.8" />
<line x1="668.6" y1="413.6" x2="670.9" y2="413.6" stroke="#222" stroke-width="0.8" />
<line x1="1122.4" y1="413.6" x2="1120.1" y2="413.6" stroke="#222" stroke-width="0.8" />
<text x="1125.3" y="427.3" font-size="10.67" fill="#000" text-anchor="start" >10</text>
<text x="1125.3" y="452.1" font-size="10.67" fill="#000" text-anchor="start" >0</text>
<text x="1125.3" y="476.6" font-size="10.67" fill="#000" text-anchor="start" >-10</text>
<text transform="translate(1154.7,448) rotate(-90)" font-size="10.67" fill="#000" text-anchor="middle">E<tspan font-size="8.6" dy="3">M</tspan><tspan dy="-3">&#8203;</tspan> [mW m<tspan font-size="8.6" dy="-4">-2</tspan><tspan dy="4">&#8203;</tspan>]</text>
<line x1="674.5" y1="417" x2="692.5" y2="417" stroke="#404040" stroke-width="1.0" />
<text x="692.8" y="420.4" font-size="8.8" fill="#000" text-anchor="start" >-(VexB)<tspan font-size="5.8" dy="2">M</tspan><tspan dy="-2">&#8203;</tspan></text>
<line x1="674.5" y1="428.7" x2="692.5" y2="428.7" stroke="#30e830" stroke-width="1.0" />
<text x="693.5" y="432.2" font-size="9.3" fill="#00ff00" text-anchor="start" >E<tspan font-size="6.0" dy="2.2">M</tspan><tspan dy="-2.2">&#8203;</tspan></text>
<g clip-path="url(#cM7)">
<path transform="scale(.1)" d="M6686 5316l5-25 5 73 5 55 5 0 5-41 5-11 5-184 5 142 5 86 5-212 5 130 5 48 5-133 5-72 5-152 5 369 5-234 5 185 5-154 5 30 5 110 5-95 5-12 5-37 5 95 5 61 5-137 5 39 5 91 5 106 5-14 5-137 5 165 5-36 5 8 5-206 5 217 5-247 5-109 5 382 5-21 5-67 5 33 5 55 5-152 5 24 5 120 5-111 5 2 5 98 5 11 5-53 5-126 5 168 5-19 5-141 5-35 5 200 5-121 5 21 5 18 5 86 5-204 5-113 5 58 5 218 5-22 5-70 5-36 5 95 5 36 5 39 5-54 5 15 5-3 5-44 5-190 5 275 5-141 5-20 5-35 5 193 5-12 5-64 5-52 5 73 5 0 5 5 5-64 5 3 5-26 5 139 5-46 5-295 5 259 5 86 5-196 5 55 5 79 5 46 5-108 5-38 5-106 5-171 5 248 5 50 5-18 5 94 5-244 5 208 5-56 5-111 5 138 5-330 5 211 5-35 5-137 5 256 5 4 5 5 5-47 5-65 5 21 5 116 5 81 5-76 5-186 5 234 5-12 5 47 5-26 5-214 5 82 5 172 5-24 5 45 5 8 5 36 5 11 5 25 5-4 5-14 5-56 5 61 5-42 5-34 5 61 5-84 5 85 5 17 5-9 5-68 5 23 5 65 5-47 5-69 5 36 5 87 5-63 5 55 5-5 5-41 5 48 5-10 5 8 5-31 5-40 5 71 5-117 5 42 5 82 5-79 5 76 5-12 5-48 5 54 5-1 5-19 5-35 5-20 5 83 5-16 5-6 5-7 5-18 5-3 5 23 5 7 5-47 5 16 5 43 5-68 5 78 5-46 5 23 5-40 5 41 5-6 5-46 5 1 5 9 5-98 5 26 5 63 5-36 5-73 5-25 5-90 5-79 5-51 5 15 5-92 5 40 5 100 5 13 5 110 5 68 5-17 5 40 5 48 5 6 5 19 5-4 5-40 5 47 5 43 5-59 5 58 5-26 5-19 5 63 5 12 5-50 5-46 5 79 5-57 5 15 5-25 5 76 5-26 5 4 5-1 5-21 5-43 5 42 5 45 5-40 5 43 5-135 5 6 5 90 5-21 5 63 5-10 5-38 5 13 5 1 5 0 5-34 5-85 5 112 5-9 5-70 5 60 5 9 5 8 5 26 5-34 5 41 5 6 5-128 5 88 5-65 5 108 5-128 5 126 5-70 5-92 5 163 5-2 5-7 5-35 5 29 5-65 5 48 5-18 5 38 5-44 5-1 5 38 5 1 5-49 5-17 5 70 5-89 5 89 5-18 5-17 5 24 5-6 5 28 5-20 5-14 5-53 5 8 5 69 5-75 5 74 5-25 5-39 5 42 5-19 5 50 5-13 5-3 5-30 5-70 5 89 5 2 5-1 5-46 5 16 5 50 5-32 5-50 5-76 5 114 5 20 5-67 5 22 5 36 5 18 5-33 5-3 5-18 5 48 5-131 5 63 5 6 5 38 5-144 5-15 5 175 5 9 5-30 5 0 5 22 5-88 5-53 5 153 5-77 5-15 5 82 5-8 5-32 5 59 5 3 5-10 5-104 5 107 5-110 5 110 5-146 5 67 5 54 5-5 5 42 5 5 5-3 5-76 5-1 5-25 5 42 5-31 5 70 5-84 5 100 5-45 5 44 5-53 5 41 5-29 5-16 5 31 5 12 5-164 5 25 5 139 5-96 5 111 5-203 5 165 5-104 5 133 5-45 5-26 5 75 5 0 5 7 5-89 5 78 5-105 5 89 5-18 5 37 5 14 5-3 5-55 5 10 5 10 5-44 5 53 5 29 5-49 5-89 5 97 5-14 5-73 5-23 5 68 5 15 5 49 5 1 5 6 5-32 5 34 5-23 5 14 5-83 5 89 5-22 5-62 5-52 5 45 5 77 5-54 5-18 5 34 5 2 5-61 5 80 5-32 5-105 5 66 5 59 5-24 5 3 5-211 5 208 5-121 5 86 5-70 5 18 5 2 5 24 5 7 5 5 5-32 5-65 5-58 5 85 5 4 5-124 5 136 5-44 5-59 5-3 5-103 5-27 5 143 5-105 5 69 5-101 5 9 5 27 5-131 5-4 5-124 5 92 5-153 5 90 5 51 5 30 5 43 5-18 5 97 5-26 5 25 5 0 5 105 5 26 5-124 5 183 5-162 5 167 5 68 5-72 5 41 5 74 5-120 5-62 5 118 5-43 5 139 5-172 5 153 5 20 5 0 5 31 5 6 5-89 5-1 5-49 5 79 5 72 5 3 5-150 5 91 5 24 5 34 5-8 5 2 5-23 5-42 5 62 5-11 5-63 5 22 5-55 5 98 5 4 5-92 5-4 5-1 5 89 5-92 5-86 5 153 5-50 5-44 5-22 5 78 5-337 5 246 5 44 5 30 5-51 5 104 5-33 5-22 5-140 5 153 5 17 5 9 5-24 5 53 5-95 5 83 5 7 5-16 5 11 5-13 5 31 5-57 5-65 5 132 5-76 5 14 5 2 5 0 5-37 5 86 5-126 5 91 5-28 5 80 5-33 5 37 5-1 5-78 5-24 5-19 5 40 5 44 5 52 5-118 5 101 5 19 5-14 5-62 5-88 5 147 5-62 5 71 5-25 5 23 5-41 5-130 5 124 5 6 5 50 5-63 5 60 5-69 5 40 5-95 5 121 5-18 5-2 5-222 5 189 5 8 5 44 5 12 5-11 5-131 5 86 5 25 5 2 5 15 5-117 5 109 5-79 5 58 5-110 5 136 5-41 5 11 5-77 5 47 5 45 5-62 5 93 5-131 5 85 5-92 5 140 5-97 5 32 5-15 5-37 5 67 5 25 5-8 5-85 5 28 5 13 5 29 5-44 5 76 5-2 5-22 5-2 5-24 5-46 5 64 5-78 5 58 5 25 5-8 5-77 5 37 5 29 5-158 5 30 5 120 5 3 5 17 5-11 5 26 5-25 5-125 5 43 5 9 5-141 5 222 5-61 5 83 5-150 5 124 5-50 5-31 5-37 5 9 5-97 5 210 5-25 5 58 5-23 5-145 5 30 5-26 5 104 5 60 5-60 5 20 5-49 5 95 5-135 5 104 5 31 5-119 5 108 5 13 5-22 5-207 5 163 5 44 5-32 5 30 5-3 5 3 5-32 5 51 5-13 5-53 5-56 5 104 5-19 5-47 5-115 5 126 5 66 5-125 5 112 5-34 5-56 5 14 5-46 5 94 5 30 5-77 5 0 5-20 5 45 5 18 5-84 5 59 5 48 5-2 5-9 5-41 5 51 5-30 5-144 5 151 5-87 5 105 5-10 5-37 5-21 5 81 5 11 5 2 5-97 5 53 5 4 5-3 5-16 5 51 5-209 5 84 5 134 5-43 5-90 5 145 5-15 5-8 5 17 5 8 5-11 5-56 5 57 5-23 5 32 5-39 5 24 5-66 5 69 5 6 5-66 5 65 5-66 5-30 5 98 5-8 5-53 5-3 5 6 5-4 5-170 5-20 5 47 5 172 5-94 5 100 5-24 5 41 5-68 5-107 5 127 5-13 5 57 5-114 5 96 5-3 5-15 5-19 5 45 5-37 5-79 5 19 5 68 5-138 5 134 5-118 5 32 5 38 5-75 5 117 5-40 5 66 5 3 5-186 5 123 5 39 5-26 5 17 5-105 5 128 5-110 5 65 5-25 5-1 5 25 5-168 5-87 5 197 5-79 5 14 5 10 5-150 5 132 5-104 5-203 5 176 5 68 5-54 5-87 5-105 5 114 5-171 5 263 5 58 5 35 5-108 5 143 5-100 5 33 5 43 5 116 5 14 5-131 5 139 5-19 5-8 5 30 5 3 5 56 5-53 5-23 5 35 5-67 5 80 5 43 5-29 5-46 5 43 5 17 5-67 5 41 5-27 5 19 5 3 5-79 5 18 5 70 5-56 5-90 5 145 5 20 5-2 5 7 5-28 5 53 5-213 5 184 5-9 5-99 5 138 5-13 5-91 5-62 5 110 5-35 5 2 5 97" fill="none" stroke="#141414" stroke-width="10" stroke-linejoin="round" />
</g>
<rect x="668.6" y="484.6" width="453.8" height="74.1" fill="none" stroke="#000" stroke-width="1.2"/>
<line x1="721.5" y1="484.6" x2="721.5" y2="495.1" stroke="#383838" stroke-width="1.25" />
<line x1="721.5" y1="558.7" x2="721.5" y2="548.2" stroke="#383838" stroke-width="1.25" />
<line x1="812.9" y1="484.6" x2="812.9" y2="495.1" stroke="#383838" stroke-width="1.25" />
<line x1="812.9" y1="558.7" x2="812.9" y2="548.2" stroke="#383838" stroke-width="1.25" />
<line x1="904.3" y1="484.6" x2="904.3" y2="495.1" stroke="#383838" stroke-width="1.25" />
<line x1="904.3" y1="558.7" x2="904.3" y2="548.2" stroke="#383838" stroke-width="1.25" />
<line x1="995.7" y1="484.6" x2="995.7" y2="495.1" stroke="#383838" stroke-width="1.25" />
<line x1="995.7" y1="558.7" x2="995.7" y2="548.2" stroke="#383838" stroke-width="1.25" />
<line x1="1087.1" y1="484.6" x2="1087.1" y2="495.1" stroke="#383838" stroke-width="1.25" />
<line x1="1087.1" y1="558.7" x2="1087.1" y2="548.2" stroke="#383838" stroke-width="1.25" />
<line x1="684.9" y1="484.6" x2="684.9" y2="488.2" stroke="#000" stroke-width="0.9" />
<line x1="684.9" y1="558.7" x2="684.9" y2="555.1" stroke="#000" stroke-width="0.9" />
<line x1="703.2" y1="484.6" x2="703.2" y2="488.2" stroke="#000" stroke-width="0.9" />
<line x1="703.2" y1="558.7" x2="703.2" y2="555.1" stroke="#000" stroke-width="0.9" />
<line x1="739.8" y1="484.6" x2="739.8" y2="488.2" stroke="#000" stroke-width="0.9" />
<line x1="739.8" y1="558.7" x2="739.8" y2="555.1" stroke="#000" stroke-width="0.9" />
<line x1="758.1" y1="484.6" x2="758.1" y2="488.2" stroke="#000" stroke-width="0.9" />
<line x1="758.1" y1="558.7" x2="758.1" y2="555.1" stroke="#000" stroke-width="0.9" />
<line x1="776.3" y1="484.6" x2="776.3" y2="488.2" stroke="#000" stroke-width="0.9" />
<line x1="776.3" y1="558.7" x2="776.3" y2="555.1" stroke="#000" stroke-width="0.9" />
<line x1="794.6" y1="484.6" x2="794.6" y2="488.2" stroke="#000" stroke-width="0.9" />
<line x1="794.6" y1="558.7" x2="794.6" y2="555.1" stroke="#000" stroke-width="0.9" />
<line x1="831.2" y1="484.6" x2="831.2" y2="488.2" stroke="#000" stroke-width="0.9" />
<line x1="831.2" y1="558.7" x2="831.2" y2="555.1" stroke="#000" stroke-width="0.9" />
<line x1="849.5" y1="484.6" x2="849.5" y2="488.2" stroke="#000" stroke-width="0.9" />
<line x1="849.5" y1="558.7" x2="849.5" y2="555.1" stroke="#000" stroke-width="0.9" />
<line x1="867.7" y1="484.6" x2="867.7" y2="488.2" stroke="#000" stroke-width="0.9" />
<line x1="867.7" y1="558.7" x2="867.7" y2="555.1" stroke="#000" stroke-width="0.9" />
<line x1="886" y1="484.6" x2="886" y2="488.2" stroke="#000" stroke-width="0.9" />
<line x1="886" y1="558.7" x2="886" y2="555.1" stroke="#000" stroke-width="0.9" />
<line x1="922.6" y1="484.6" x2="922.6" y2="488.2" stroke="#000" stroke-width="0.9" />
<line x1="922.6" y1="558.7" x2="922.6" y2="555.1" stroke="#000" stroke-width="0.9" />
<line x1="940.9" y1="484.6" x2="940.9" y2="488.2" stroke="#000" stroke-width="0.9" />
<line x1="940.9" y1="558.7" x2="940.9" y2="555.1" stroke="#000" stroke-width="0.9" />
<line x1="959.1" y1="484.6" x2="959.1" y2="488.2" stroke="#000" stroke-width="0.9" />
<line x1="959.1" y1="558.7" x2="959.1" y2="555.1" stroke="#000" stroke-width="0.9" />
<line x1="977.4" y1="484.6" x2="977.4" y2="488.2" stroke="#000" stroke-width="0.9" />
<line x1="977.4" y1="558.7" x2="977.4" y2="555.1" stroke="#000" stroke-width="0.9" />
<line x1="1014" y1="484.6" x2="1014" y2="488.2" stroke="#000" stroke-width="0.9" />
<line x1="1014" y1="558.7" x2="1014" y2="555.1" stroke="#000" stroke-width="0.9" />
<line x1="1032.3" y1="484.6" x2="1032.3" y2="488.2" stroke="#000" stroke-width="0.9" />
<line x1="1032.3" y1="558.7" x2="1032.3" y2="555.1" stroke="#000" stroke-width="0.9" />
<line x1="1050.5" y1="484.6" x2="1050.5" y2="488.2" stroke="#000" stroke-width="0.9" />
<line x1="1050.5" y1="558.7" x2="1050.5" y2="555.1" stroke="#000" stroke-width="0.9" />
<line x1="1068.8" y1="484.6" x2="1068.8" y2="488.2" stroke="#000" stroke-width="0.9" />
<line x1="1068.8" y1="558.7" x2="1068.8" y2="555.1" stroke="#000" stroke-width="0.9" />
<line x1="1105.4" y1="484.6" x2="1105.4" y2="488.2" stroke="#000" stroke-width="0.9" />
<line x1="1105.4" y1="558.7" x2="1105.4" y2="555.1" stroke="#000" stroke-width="0.9" />
<line x1="668.6" y1="542.3" x2="674.6" y2="542.3" stroke="#000" stroke-width="0.9" />
<line x1="1122.4" y1="542.3" x2="1116.4" y2="542.3" stroke="#000" stroke-width="0.9" />
<line x1="668.6" y1="525" x2="674.6" y2="525" stroke="#000" stroke-width="0.9" />
<line x1="1122.4" y1="525" x2="1116.4" y2="525" stroke="#000" stroke-width="0.9" />
<line x1="668.6" y1="507.8" x2="674.6" y2="507.8" stroke="#000" stroke-width="0.9" />
<line x1="1122.4" y1="507.8" x2="1116.4" y2="507.8" stroke="#000" stroke-width="0.9" />
<line x1="668.6" y1="490.5" x2="674.6" y2="490.5" stroke="#000" stroke-width="0.9" />
<line x1="1122.4" y1="490.5" x2="1116.4" y2="490.5" stroke="#000" stroke-width="0.9" />
<line x1="668.6" y1="556.1" x2="670.9" y2="556.1" stroke="#222" stroke-width="0.8" />
<line x1="1122.4" y1="556.1" x2="1120.1" y2="556.1" stroke="#222" stroke-width="0.8" />
<line x1="668.6" y1="552.7" x2="670.9" y2="552.7" stroke="#222" stroke-width="0.8" />
<line x1="1122.4" y1="552.7" x2="1120.1" y2="552.7" stroke="#222" stroke-width="0.8" />
<line x1="668.6" y1="549.2" x2="670.9" y2="549.2" stroke="#222" stroke-width="0.8" />
<line x1="1122.4" y1="549.2" x2="1120.1" y2="549.2" stroke="#222" stroke-width="0.8" />
<line x1="668.6" y1="545.8" x2="670.9" y2="545.8" stroke="#222" stroke-width="0.8" />
<line x1="1122.4" y1="545.8" x2="1120.1" y2="545.8" stroke="#222" stroke-width="0.8" />
<line x1="668.6" y1="538.8" x2="670.9" y2="538.8" stroke="#222" stroke-width="0.8" />
<line x1="1122.4" y1="538.8" x2="1120.1" y2="538.8" stroke="#222" stroke-width="0.8" />
<line x1="668.6" y1="535.4" x2="670.9" y2="535.4" stroke="#222" stroke-width="0.8" />
<line x1="1122.4" y1="535.4" x2="1120.1" y2="535.4" stroke="#222" stroke-width="0.8" />
<line x1="668.6" y1="531.9" x2="670.9" y2="531.9" stroke="#222" stroke-width="0.8" />
<line x1="1122.4" y1="531.9" x2="1120.1" y2="531.9" stroke="#222" stroke-width="0.8" />
<line x1="668.6" y1="528.5" x2="670.9" y2="528.5" stroke="#222" stroke-width="0.8" />
<line x1="1122.4" y1="528.5" x2="1120.1" y2="528.5" stroke="#222" stroke-width="0.8" />
<line x1="668.6" y1="521.6" x2="670.9" y2="521.6" stroke="#222" stroke-width="0.8" />
<line x1="1122.4" y1="521.6" x2="1120.1" y2="521.6" stroke="#222" stroke-width="0.8" />
<line x1="668.6" y1="518.1" x2="670.9" y2="518.1" stroke="#222" stroke-width="0.8" />
<line x1="1122.4" y1="518.1" x2="1120.1" y2="518.1" stroke="#222" stroke-width="0.8" />
<line x1="668.6" y1="514.7" x2="670.9" y2="514.7" stroke="#222" stroke-width="0.8" />
<line x1="1122.4" y1="514.7" x2="1120.1" y2="514.7" stroke="#222" stroke-width="0.8" />
<line x1="668.6" y1="511.2" x2="670.9" y2="511.2" stroke="#222" stroke-width="0.8" />
<line x1="1122.4" y1="511.2" x2="1120.1" y2="511.2" stroke="#222" stroke-width="0.8" />
<line x1="668.6" y1="504.3" x2="670.9" y2="504.3" stroke="#222" stroke-width="0.8" />
<line x1="1122.4" y1="504.3" x2="1120.1" y2="504.3" stroke="#222" stroke-width="0.8" />
<line x1="668.6" y1="500.9" x2="670.9" y2="500.9" stroke="#222" stroke-width="0.8" />
<line x1="1122.4" y1="500.9" x2="1120.1" y2="500.9" stroke="#222" stroke-width="0.8" />
<line x1="668.6" y1="497.4" x2="670.9" y2="497.4" stroke="#222" stroke-width="0.8" />
<line x1="1122.4" y1="497.4" x2="1120.1" y2="497.4" stroke="#222" stroke-width="0.8" />
<line x1="668.6" y1="494" x2="670.9" y2="494" stroke="#222" stroke-width="0.8" />
<line x1="1122.4" y1="494" x2="1120.1" y2="494" stroke="#222" stroke-width="0.8" />
<line x1="668.6" y1="487" x2="670.9" y2="487" stroke="#222" stroke-width="0.8" />
<line x1="1122.4" y1="487" x2="1120.1" y2="487" stroke="#222" stroke-width="0.8" />
<text x="666" y="494.3" font-size="10.67" fill="#000" text-anchor="end" >0.4</text>
<text x="666" y="511.5" font-size="10.67" fill="#000" text-anchor="end" >0.3</text>
<text x="666" y="528.8" font-size="10.67" fill="#000" text-anchor="end" >0.2</text>
<text x="666" y="546.1" font-size="10.67" fill="#000" text-anchor="end" >0.1</text>
<text transform="translate(644.5,522) rotate(-90)" font-size="10.67" fill="#000" text-anchor="middle">|J| [&#181;A m<tspan font-size="8.6" dy="-4">-2</tspan><tspan dy="4">&#8203;</tspan>]</text>
<line x1="674.5" y1="500" x2="692.5" y2="500" stroke="#404040" stroke-width="1.0" />
<text x="693.5" y="503.2" font-size="9.3" fill="#404040" text-anchor="start" >|J|</text>
<g clip-path="url(#cM8)">
<line x1="668.6" y1="599.5" x2="1122.4" y2="599.5" stroke="#282828" stroke-width="0.95" stroke-dasharray="4.3 2.1" />
<path transform="scale(.1)" d="M6686 5937l6 121 5-15 5 67 6-13 6 4 5-68 5-19 6 18 6 36 5 21 5 64 6 23 6-100 5-119 5 146 6-85 6 147 5 5 6-49 5 22 6-69 5-62 5 46 6 70 6 8 5-133 5 115 6-18 6 7 5 12 5-40 6 75 6-85 5-22 5 25 6-68 6 85 5 109 6-62 5-117 6-16 5-60 5 140 6 26 6-56 5 73 5-52 6-9 6 58 5-18 5 13 6-37 6 15 5 105 5-13 6-114 6 5 5 78 6 91 5-61 6-43 5-55 5 48 6-125 6 154 5 7 5-55 6 12 6 44 5-51 5 19 6-31 6-26 5-7 5 38 6 23 6-70 5 98 6 27 5-52 6 24 5-79 5 46 6-56 6 22 5-13 5 92 6-86 6 4 5-89 5-23 6-2 6-13 5-19 5 28 6 66 6-86 5-13 6-83 5 60 6 94 5-70 5 47 6-121 6-5 5-136 5 121 6 130 6-75 5 41 5 33 6-54 6-31 5-22 5 163 6 67 6-114 5-10 6-82 5 64 6 67 5-52 5 77 6-18 6 80 5-153 5 56 6 55 6-102 5-4 6-8 5 38 6-37 5 39 5-17 6 20 6-28 5-36 6 5 5 68 6-42 5-26 5 11 6 15 6 19 5 5 5-37 6 15 6-72 5 22 6-5 5 55 6-78 5 18 5-11 6 42 6 0 5-26 6 67 5-59 6 26 5-7 5 61 6-39 6-24 5-3 5 37 6-73 6 49 5 9 6-68 5 47 6 18 5-35 5 62 6 27 6-12 5-26 6-14 5-61 6 91 5-47 5 11 6 4 6 16 5-20 5-21 6 31 6-51 5-45 6 54 5 0 6-17 5 6 5-16 6 39 6-45 5 103 6-92 5-5 6 21 5 6 5 41 6-3 6-133 5 72 5 27 6-40 6 35 5 18 6-35 5 53 6 20 5 32 5-56 6-13 6-15 5 1 6 19 5-53 6 26 5 41 5-27 6 0 6 99 5-56 5-41 6 22 6 4 5 12 6-36 5 34 6-10 5-2 5 21 6 13 6-20 5 28 6 15 5-34 6 20 5-45 5 85 6-26 6 2 5 45 5 20 6-28 6-23 5 33 6-11 5-26 6-54 5 33 5 43 6 35 6-49 5-13 6-2 5 2 6 10 5 22 5-1 6 7 6 5 5-31 5-17 6 3 6 5 5 7 6 14 5-31 6-21 5 58 5-38 6-20 6-40 5 96 5-59 6 0 6 2 5 58 5-50 6 34 6 40 5 24 5-59 6 37 6-2 5-1 5-42 6-10 6 24 5 50 5-44 6 9 6 25 5-57 5-5 6 31 6 40 5-69 5-14 6-26 6 77 5 43 5 18 6-80 6 33 5-53 5 38 6 26 6 11 5-44 5-12 6-53 6 34 5 71 5-33 6-29 6-23 5 17 5-19 6 38 6 13 5-17 5-57 6-16 6 28 5-25 5 56 6-61 6 22 5 17 5-61 6-7 6 8 5 23 5 153 6-68 6-45 5-43 5-12 6-14 6-28 5 42 5-79 6 63 6 13 5 20 5-55 6 32 6-3 5 22 5-9 6-12 6-16 5 13 5-29 6-3 6-11 5 54 5-60 6 82 6-40 5 52 5-25 6-12 6 8 5 13 5-21 6-15 6 51 5 37 5-14 6-58 6 68 5-25 5-28 6 44 6-23 5 28 5-74 6-19 6 73 5 18 5-6 6-15 6-7 5-42 5 45 6-16 6-27 5 10 5 6 6-9 6 30 5 12 5-45 6-7 6 28 5-47 5-47 6-3 6 33 5-77 5 56 6 36 6-24 5-4 5 17 6 1 6-14 5 25 5-84 6 51 6-8 5-29 5-4 6-13 6-16 5 33 5-8 6 43 6-28 5-11 5-12 6-56 6-24 5 90 5-13 6-107 6 32 5-75 5 75 6-96 6 64 5-9 5-20 6-67 6 54 5 82 5-12 6 55 6-10 5-42 5 35 6 80 6 9 5 21 5-25 6 97 6 11 5-126 5-18 6 18 6 50 5 0 5-21 6 11 6 105 5-100 5-7 6 30 6 34 5 9 5-55 6-49 6 98 5 1 5-37 6 21 6 22 5 3 5 5 6 24 6-61 5-24 5 34 6 8 6 14 5-7 5 13 6-69 6 40 5 45 5-66 6-23 6 6 5-46 5-4 6 68 6-6 5-43 5 70 6-88 6 182 5-78 5-35 6 24 6-53 5 64 5-34 6-30 6 76 5-105 5 66 6-58 6 1 5 49 5-86 6 37 6 15 5 40 5-25 6-38 6 21 5 117 5-40 6 26 6-8 5-41 5-70 6 60 6-50 5 62 5 1 6-61 6 11 5 36 5-88 6 61 6-45 5 69 5-2 6 32 6-20 5 5 5 31 6 14 6-32 5-17 5 23 6-58 6 58 5-70 5 11 6 27 6 32 5-45 5-1 6 16 6 1 5-31 5 19 6 49 6-19 5-74 5 90 6-1 6 12 5-17 5 33 6-67 6-30 5 59 5-35 6-58 6 67 5 7 5-24 6 17 6 80 5-33 5 18 6-74 6 12 5 43 5-23 6 55 6-15 5-27 5-4 6-37 6 32 5-21 5 14 6-60 6 50 5-16 5 13 6 29 6 40 5-18 5 20 6-6 6-67 5 45 5-49 6 33 6 64 5-43 5 36 6-71 6 61 5 19 5-16 6-51 6-78 5 54 5 16 6-4 6 29 5-11 5 66 6-69 6 81 5-25 5-39 6-1 6-3 5 81 5-42 6-38 6-17 5 76 5-12 6-27 6-75 5 60 5 19 6 29 6-42 5-28 5-31 6 67 6-11 5 35 5-27 6 5 6-12 5 3 5-19 6 34 6-43 5 40 5-34 6 3 6 35 5 25 5-5 6-5 6-9 5-10 6-14 5 8 6 9 5-17 6 44 5 75 6-46 5 21 5-18 6 33 6-1 5 36 5-79 6-17 6 56 5-21 5 78 6-7 6 20 5-55 6 31 5 52 6-26 5 8 6-69 5 42 6-14 5 3 5 14 6-95 6 82 5-50 5 35 6-76 6 35 5-69 5 55 6-23 6 3 5-18 6 2 5-32 6 72 5-46 6-45 5-18 6 42 5 11 5 27 6-12 6-52 5 63 5-72 6-82 6 97 5 42 5-18 6-28 6-5 5-36 6-2 5-9 6 5 5 14 6 36 5-76 6 13 5-29 5-18 6 27 6 7 5 5 5-15 6 76 6-86 5 31 5 1 6 37 6 20 5-23 6-17 5 21 6 6 5 76 6 15 5-37 6-82 5 36 5-13 6 40 6 23 5-13 5 24 6 16 6-18 5-11 5-54 6-2 6 49 5-11 6-47 5 62 6-8 5 12 6-44 5-3 6 4 5 61 5-41 6-10 6 11 5-58 5 90 6 14 6-61 5-42 5 59 6-65 6-19 5-33 6 18 5 19 6 4 5-71 6 103 5 15 6-34 5 46 5-15 6-107 6-35 5 38 5 50 6-46 6-5 5-6 5-9 6 21 6 46 5-39 6 7 5 27 6 37 5-59 6-17 5-1 6 55 5 41 5-34 6 95 6-83 5-33 5-30 6 55 6-32 5 47 5 20 6-29 6 43 5-40 6 20 5-34 6-19 5 32 6-59 5 16 6-28 5 17 5 36 6 3 6-43 0 29" fill="none" stroke="#2020ff" stroke-width="9" stroke-linejoin="round" />
<path transform="scale(.1)" d="M6686 5901l6 108 5 87 5-63 6-74 6 130 5-144 5-3 6-14 6 44 5 45 5-19 6-72 6-77 5 92 5 47 6 7 6-40 5 29 6-96 5-27 6 196 5-156 5 12 6 32 6-47 5-24 5 130 6-21 6-115 5 132 5 23 6 10 6 10 5-61 5-125 6 11 6-44 5 174 6-100 5 145 6-25 5-43 5 71 6-134 6 3 5 70 5 20 6-67 6 101 5 29 5-26 6-30 6-93 5-73 5 167 6-67 6 152 5-12 6-152 5 19 6 12 5 60 5 31 6 56 6-136 5 16 5 107 6-75 6-89 5 158 5-67 6-67 6-9 5 37 5 31 6-46 6 22 5 87 6-46 5 5 6-19 5-106 5 45 6 70 6 31 5-47 5 2 6-114 6 2 5 189 5-74 6 37 6-47 5-9 5 95 6-34 6-112 5-9 6 40 5 3 6-85 5 89 5 31 6 86 6-147 5-31 5 130 6 8 6-70 5-64 5 38 6-38 6 170 5-33 5-36 6-56 6 86 5 76 6-135 5 66 6-48 5 45 5 19 6 8 6-38 5-74 5 134 6-43 6 28 5-106 6 33 5 35 6-55 5 20 5-5 6 8 6 13 5-16 6 16 5-44 6 3 5-13 5 6 6 40 6-10 5 28 5-116 6 138 6-57 5-7 6 1 5-37 6 14 5 48 5-50 6 72 6-29 5-73 6 63 5-26 6-16 5 28 5 12 6-53 6 19 5-38 5 40 6-30 6 15 5 57 6-60 5 7 6 71 5-1 5-71 6 51 6-2 5-46 6-8 5 4 6 12 5 12 5 4 6-44 6 64 5 42 5-30 6-48 6 14 5 5 6 5 5 88 6-9 5 7 5-68 6 14 6-15 5 13 6 17 5-45 6-6 5-58 5 90 6-18 6 38 5 10 5-99 6 56 6-8 5 12 6-18 5-17 6 61 5-45 5 47 6 1 6-85 5 5 6 76 5 9 6 30 5-61 5-6 6 18 6 15 5-44 5-13 6-18 6-9 5 42 6 27 5-73 6 26 5 31 5-27 6 8 6 3 5-12 6 91 5-36 6 12 5-14 5 1 6-69 6-53 5 58 5 47 6-11 6-41 5-79 6 92 5 11 6 28 5 21 5-30 6 26 6-75 5-18 6 77 5-58 6 53 5 67 5-52 6-46 6 71 5 14 5-87 6-18 6 2 5 18 6 43 5-72 6 38 5-53 5-15 6-55 6 103 5-4 5-21 6 36 6 27 5 0 5-28 6 12 6-25 5-14 5 65 6-32 6-25 5-23 5-18 6 64 6 41 5-58 5 15 6 37 6-9 5 4 5 41 6-74 6-5 5 28 5 41 6-40 6-40 5 24 5-10 6-39 6 14 5-57 5 32 6 20 6-31 5 9 5 31 6-28 6-21 5 23 5 65 6-29 6-23 5 8 5-6 6 74 6-102 5 35 5 5 6 6 6 21 5-85 5 55 6 10 6-51 5 22 5 32 6-8 6 32 5-39 5-48 6 30 6-6 5-25 5 70 6-34 6 18 5 58 5-15 6-36 6 15 5 7 5 43 6-30 6-6 5-4 5-26 6 7 6-18 5-7 5 46 6-48 6 3 5 93 5-69 6 62 6-50 5 2 5-75 6 6 6 22 5 24 5-66 6 61 6-1 5 73 5-52 6-28 6-9 5 24 5-11 6-2 6-1 5 4 5 61 6-60 6-15 5-8 5 32 6 35 6-53 5 64 5-49 6 16 6-62 5 52 5-36 6-2 6-18 5-22 5 42 6 83 6-117 5 26 5 61 6-57 6-1 5-18 5 52 6-43 6-12 5 80 5-50 6-110 6-2 5 31 5 26 6-60 6 15 5 70 5-34 6-138 6 103 5-109 5 113 6-71 6 114 5-46 5-101 6 35 6-75 5-2 5 109 6-42 6-49 5-3 5 22 6 27 6 95 5-40 5-111 6-37 6 116 5 79 5-87 6 70 6-40 5 14 5 48 6-85 6 0 5 1 5 63 6 28 6-17 5-27 5-17 6 16 6 146 5-24 5-85 6-82 6 209 5-64 5 57 6-85 6 52 5 32 5-24 6 13 6-28 5-50 5 20 6 46 6 39 5-28 5-24 6-29 6 61 5 63 5-81 6-30 6 21 5 59 5-33 6-12 6 5 5 15 5-51 6 46 6 45 5 4 5-44 6 31 6-16 5-9 5 37 6 17 6-4 5-58 5 16 6 46 6 36 5-43 5 43 6-13 6-5 5-24 5-5 6 19 6 38 5-15 5-22 6-41 6-28 5 10 5 60 6 49 6-23 5-48 5-1 6-42 6 47 5 53 5-67 6-3 6-36 5-29 5 4 6 49 6 0 5 14 5-7 6-30 6-6 5-3 5 34 6-21 6-3 5 13 5-36 6 43 6-11 5-20 5 29 6-36 6 19 5-38 5 40 6-35 6 37 5-10 5-72 6 57 6-13 5 19 5 34 6-33 6 14 5 39 5 3 6-38 6 47 5-90 5-2 6 17 6 24 5 62 5-16 6-47 6 12 5 17 5 92 6-26 6-51 5-2 5 31 6-25 6-13 5-18 5 34 6-30 6 35 5-24 5-21 6 38 6 21 5-9 5-39 6 30 6 15 5 11 5-74 6 14 6 16 5-60 5 113 6-70 6-14 5 59 5 42 6 17 6-11 5-42 5 32 6-62 6 52 5 14 5-29 6 27 6 12 5 20 5-38 6-94 6 99 5-38 5 31 6-36 6 18 5-22 5 21 6-14 6 66 5-52 5 56 6-111 6-9 5-32 5-14 6 38 6 25 5-11 5 70 6-58 6-30 5-38 5 69 6 21 6-19 5 4 5-12 6 16 6-14 5-16 5 35 6 41 6-11 5-58 5-6 6-11 6-12 5 76 5-106 6-2 6-10 5 22 6 28 5 74 6-32 5 21 6-48 5 36 6 50 5-27 5 13 6-46 6-30 5 20 5-43 6 24 6-10 5-22 5-25 6 29 6-43 5 30 6 19 5-32 6 14 5-52 6 83 5-6 6-37 5-45 5 43 6 63 6-6 5-26 5 28 6-49 6-23 5-32 5 3 6 25 6 15 5-58 6 25 5-10 6 64 5-1 6 16 5-28 6-69 5 72 5 6 6-8 6 2 5-22 5 78 6-104 6-4 5 59 5 8 6-21 6-22 5 19 6-21 5-8 6 11 5-8 6-40 5-2 6 39 5-67 5-1 6 74 6-65 5 62 5-57 6 47 6-29 5-6 5-15 6 26 6 44 5-2 6-38 5-11 6-59 5 43 6 10 5-36 6-33 5-31 5 61 6-4 6 26 5 6 5 13 6-9 6-47 5 16 5 62 6-66 6 30 5-71 6 88 5-6 6-33 5 62 6-65 5 62 6-12 5 7 5-77 6 142 6-68 5 20 5-107 6 12 6 25 5-42 5-54 6 73 6-6 5-103 6 86 5 21 6-21 5 21 6-25 5-45 6 33 5 34 5-10 6 10 6 90 5-85 5-3 6 121 6-57 5 32 5-42 6 44 6-49 5 7 6 29 5 67 6-110 5 57 6-58 5 38 6 31 5-10 5-1 6-54 6 1 5 20 5 36 6-19 6-69 5 77 5-31 6 22 6-88 5 21 6 64 5 51 6-91 5 19 6-56 5-8 6 79 5-79 5-13 6 21 6 44 0-23" fill="none" stroke="#20e020" stroke-width="9" stroke-linejoin="round" />
<path transform="scale(.1)" d="M6686 5947l6 29 5-18 5 141 6-4 6 53 5-58 5-5 6-46 6-154 5 129 5 169 6-53 6 17 5-8 5 39 6-43 6 161 5-49 6-125 5 119 6 16 5-5 5-32 6-60 6-74 5-70 5-5 6 176 6 12 5 10 5-54 6-21 6-114 5 108 5-27 6-26 6-120 5 22 6-32 5 43 6 128 5-201 5-7 6 80 6-102 5 48 5 70 6 6 6 53 5 52 5-66 6 55 6 4 5-69 5-20 6-49 6-30 5 45 6-11 5 102 6-67 5-55 5 7 6-65 6 74 5-37 5 122 6 45 6-40 5 37 5-29 6 43 6-232 5 117 5-50 6 53 6-75 5 70 6 60 5-120 6 41 5-4 5 142 6-83 6 30 5-49 5 35 6-6 6 9 5-45 5-37 6 75 6-12 5-54 5 93 6 91 6-203 5 21 6-24 5 30 6-48 5-34 5 76 6-161 6 158 5-60 5 34 6 4 6 46 5-113 5 76 6 105 6-61 5-8 5-124 6 30 6-7 5 136 6-23 5 102 6-229 5 38 5-29 6 104 6 10 5-104 5 145 6-69 6 29 5 8 6-20 5-43 6 34 5 119 5-25 6-17 6-76 5 12 6 14 5-9 6-57 5 58 5-29 6 26 6 25 5-29 5 6 6-28 6-28 5-5 6 27 5 25 6-2 5 10 5 6 6-60 6 36 5-2 6-49 5 4 6 23 5-22 5 10 6-14 6-11 5 61 5 3 6-26 6-6 5 16 6-16 5-31 6 47 5-3 5-66 6-34 6 10 5 9 6 59 5-9 6 10 5-59 5 17 6 105 6-109 5 7 5 12 6-10 6-13 5-4 6-23 5-77 6 70 5 26 5 30 6 80 6-7 5-38 6-39 5 32 6 7 5 9 5-46 6 42 6-49 5 62 5-10 6-51 6 20 5 44 6-25 5-23 6 15 5-8 5-4 6 6 6-15 5 49 6 3 5-26 6 33 5 32 5 6 6-10 6-13 5-7 5 84 6-4 6 29 5-84 6-54 5 45 6-52 5 5 5 18 6 56 6-30 5-35 6-6 5 22 6 8 5-2 5-20 6 20 6-15 5-5 5 6 6-35 6 49 5 14 6-39 5-31 6 107 5-58 5-12 6 8 6 0 5-44 6 48 5 9 6-11 5-24 5 7 6 45 6-13 5 25 5 19 6 23 6-43 5-35 6-50 5 59 6 36 5-10 5-22 6 12 6-22 5-2 5 1 6-23 6 21 5 2 5-18 6 5 6 46 5 7 5-90 6 13 6 5 5 60 5 28 6-60 6-1 5 16 5 24 6-32 6-33 5 37 5-16 6-7 6-19 5 56 5-28 6 36 6-7 5-24 5-33 6 70 6-14 5-46 5 14 6 37 6-40 5 16 5 45 6 4 6-89 5 47 5 53 6-58 6 32 5 6 5 2 6-45 6 43 5-34 5-3 6-25 6 23 5 28 5-42 6 67 6 9 5 41 5-51 6-13 6-3 5-39 5 37 6 19 6-65 5 52 5-43 6 22 6-7 5-7 5 64 6-34 6-10 5 21 5-11 6 15 6 41 5-5 5-2 6-22 6-23 5-44 5 66 6-53 6 64 5-9 5-4 6-86 6 106 5-22 5-4 6 38 6-34 5 43 5-8 6-37 6 13 5 9 5-11 6-7 6-10 5-36 5-24 6 66 6 17 5-24 5 21 6-45 6 11 5-2 5-19 6 40 6-1 5-61 5 36 6-1 6 67 5 39 5-44 6-26 6-8 5-31 5 14 6 42 6 39 5-126 5 46 6-95 6 64 5-2 5 52 6 5 6 10 5 16 5 34 6-5 6-115 5 60 5-48 6 38 6 5 5 53 5 17 6-50 6-16 5 35 5 64 6-47 6 25 5-54 5-2 6 27 6-16 5-16 5 29 6-66 6 42 5 12 5-119 6-11 6 129 5-84 5 107 6-6 6 8 5 8 5-52 6-28 6-25 5 36 5-60 6 93 6-27 5-21 5-61 6 3 6 0 5 20 5 41 6-4 6 97 5-1 5-71 6 71 6-92 5 12 5-1 6-73 6 66 5-40 5 123 6-38 6-76 5 2 5 0 6 66 6 16 5-44 5-69 6 1 6 90 5-28 5-38 6-7 6 85 5 44 5-77 6 7 6 34 5-7 5 9 6-3 6-23 5-10 5-22 6 19 6-20 5 47 5-3 6-14 6-7 5-8 5 42 6 41 6-125 5 77 5-10 6-8 6-33 5-50 5 50 6 48 6-79 5 8 5 13 6-59 6-12 5 129 5-81 6-3 6-48 5-10 5 26 6 13 6 77 5 2 5-107 6 1 6-1 5 16 5 8 6 33 6-96 5 71 5 31 6-26 6 35 5-7 5-47 6-12 6 30 5-44 5-25 6 17 6-8 5-14 5 23 6-1 6 25 5-7 5-44 6 120 6-14 5-49 5-6 6-3 6 10 5-89 5 55 6 62 6 57 5-64 5-15 6 59 6-54 5 27 5-17 6-8 6-28 5 17 5 23 6-91 6 35 5 16 5 44 6-32 6-49 5 51 5 47 6-45 6-8 5-8 5 37 6-16 6 16 5-45 5-5 6 37 6-28 5 24 5-6 6 14 6-37 5-19 5-6 6 44 6 14 5-65 5 29 6 24 6 33 5 11 5-74 6 11 6-79 5 52 5-3 6 112 6-43 5-1 5-22 6 11 6-1 5 2 5 8 6 3 6-29 5-49 5-12 6 46 6 63 5-43 5-91 6 140 6-61 5-25 5-39 6 57 6 50 5-64 5 22 6 44 6-27 5 11 5-25 6-61 6 9 5-46 5 40 6 62 6-43 5 58 5-8 6 22 6-45 5 46 5 13 6-65 6 47 5 51 5-47 6-32 6 16 5-60 5-14 6 49 6 17 5-13 6 6 5-10 6 52 5-91 6 44 5-31 6-30 5 63 5-26 6 40 6-12 5-18 5 27 6-8 6-1 5 5 5-70 6 107 6 13 5-10 6 6 5-14 6-42 5-4 6 4 5-57 6 67 5 58 5-40 6 15 6 41 5 14 5 4 6-42 6-17 5 54 5-41 6 91 6-109 5 4 6-27 5 38 6-44 5-1 6 34 5 25 6 16 5-43 5-87 6 54 6-34 5 24 5 31 6 33 6-1 5 13 5-36 6-6 6 53 5-59 6-2 5 101 6 46 5-101 6-23 5-11 6 24 5-2 5 30 6-85 6 27 5 23 5 33 6 1 6-28 5-12 5 107 6-104 6 18 5-40 6 18 5 19 6-63 5 73 6-14 5-40 6-33 5 67 5-16 6 85 6-55 5-92 5-36 6 99 6 24 5-63 5 61 6-3 6-24 5 17 6-7 5-105 6 29 5-55 6 90 5-107 6-56 5 130 5-10 6 28 6 45 5-18 5-74 6-17 6-27 5 26 5-23 6-55 6 31 5 4 6 0 5 21 6-33 5-3 6 33 5 99 6-53 5-16 5 23 6 56 6 29 5-31 5-62 6 40 6 56 5-45 5 111 6-77 6 61 5-14 6-29 5-41 6 85 5-21 6 19 5-35 6-36 5-3 5-16 6-4 6 46 5 35 5-113 6 51 6-43 5-55 5 102 6-45 6 38 5-18 6-9 5-78 6 36 5-29 6 46 5 9 6-67 5 43 5 20 6-24 6 63 0 10" fill="none" stroke="#ff2020" stroke-width="9" stroke-linejoin="round" />
</g>
<rect x="668.6" y="558.7" width="453.8" height="73.7" fill="none" stroke="#000" stroke-width="1.2"/>
<line x1="721.5" y1="558.7" x2="721.5" y2="569.2" stroke="#383838" stroke-width="1.25" />
<line x1="721.5" y1="632.4" x2="721.5" y2="621.9" stroke="#383838" stroke-width="1.25" />
<line x1="812.9" y1="558.7" x2="812.9" y2="569.2" stroke="#383838" stroke-width="1.25" />
<line x1="812.9" y1="632.4" x2="812.9" y2="621.9" stroke="#383838" stroke-width="1.25" />
<line x1="904.3" y1="558.7" x2="904.3" y2="569.2" stroke="#383838" stroke-width="1.25" />
<line x1="904.3" y1="632.4" x2="904.3" y2="621.9" stroke="#383838" stroke-width="1.25" />
<line x1="995.7" y1="558.7" x2="995.7" y2="569.2" stroke="#383838" stroke-width="1.25" />
<line x1="995.7" y1="632.4" x2="995.7" y2="621.9" stroke="#383838" stroke-width="1.25" />
<line x1="1087.1" y1="558.7" x2="1087.1" y2="569.2" stroke="#383838" stroke-width="1.25" />
<line x1="1087.1" y1="632.4" x2="1087.1" y2="621.9" stroke="#383838" stroke-width="1.25" />
<line x1="684.9" y1="558.7" x2="684.9" y2="562.3" stroke="#000" stroke-width="0.9" />
<line x1="684.9" y1="632.4" x2="684.9" y2="628.8" stroke="#000" stroke-width="0.9" />
<line x1="703.2" y1="558.7" x2="703.2" y2="562.3" stroke="#000" stroke-width="0.9" />
<line x1="703.2" y1="632.4" x2="703.2" y2="628.8" stroke="#000" stroke-width="0.9" />
<line x1="739.8" y1="558.7" x2="739.8" y2="562.3" stroke="#000" stroke-width="0.9" />
<line x1="739.8" y1="632.4" x2="739.8" y2="628.8" stroke="#000" stroke-width="0.9" />
<line x1="758.1" y1="558.7" x2="758.1" y2="562.3" stroke="#000" stroke-width="0.9" />
<line x1="758.1" y1="632.4" x2="758.1" y2="628.8" stroke="#000" stroke-width="0.9" />
<line x1="776.3" y1="558.7" x2="776.3" y2="562.3" stroke="#000" stroke-width="0.9" />
<line x1="776.3" y1="632.4" x2="776.3" y2="628.8" stroke="#000" stroke-width="0.9" />
<line x1="794.6" y1="558.7" x2="794.6" y2="562.3" stroke="#000" stroke-width="0.9" />
<line x1="794.6" y1="632.4" x2="794.6" y2="628.8" stroke="#000" stroke-width="0.9" />
<line x1="831.2" y1="558.7" x2="831.2" y2="562.3" stroke="#000" stroke-width="0.9" />
<line x1="831.2" y1="632.4" x2="831.2" y2="628.8" stroke="#000" stroke-width="0.9" />
<line x1="849.5" y1="558.7" x2="849.5" y2="562.3" stroke="#000" stroke-width="0.9" />
<line x1="849.5" y1="632.4" x2="849.5" y2="628.8" stroke="#000" stroke-width="0.9" />
<line x1="867.7" y1="558.7" x2="867.7" y2="562.3" stroke="#000" stroke-width="0.9" />
<line x1="867.7" y1="632.4" x2="867.7" y2="628.8" stroke="#000" stroke-width="0.9" />
<line x1="886" y1="558.7" x2="886" y2="562.3" stroke="#000" stroke-width="0.9" />
<line x1="886" y1="632.4" x2="886" y2="628.8" stroke="#000" stroke-width="0.9" />
<line x1="922.6" y1="558.7" x2="922.6" y2="562.3" stroke="#000" stroke-width="0.9" />
<line x1="922.6" y1="632.4" x2="922.6" y2="628.8" stroke="#000" stroke-width="0.9" />
<line x1="940.9" y1="558.7" x2="940.9" y2="562.3" stroke="#000" stroke-width="0.9" />
<line x1="940.9" y1="632.4" x2="940.9" y2="628.8" stroke="#000" stroke-width="0.9" />
<line x1="959.1" y1="558.7" x2="959.1" y2="562.3" stroke="#000" stroke-width="0.9" />
<line x1="959.1" y1="632.4" x2="959.1" y2="628.8" stroke="#000" stroke-width="0.9" />
<line x1="977.4" y1="558.7" x2="977.4" y2="562.3" stroke="#000" stroke-width="0.9" />
<line x1="977.4" y1="632.4" x2="977.4" y2="628.8" stroke="#000" stroke-width="0.9" />
<line x1="1014" y1="558.7" x2="1014" y2="562.3" stroke="#000" stroke-width="0.9" />
<line x1="1014" y1="632.4" x2="1014" y2="628.8" stroke="#000" stroke-width="0.9" />
<line x1="1032.3" y1="558.7" x2="1032.3" y2="562.3" stroke="#000" stroke-width="0.9" />
<line x1="1032.3" y1="632.4" x2="1032.3" y2="628.8" stroke="#000" stroke-width="0.9" />
<line x1="1050.5" y1="558.7" x2="1050.5" y2="562.3" stroke="#000" stroke-width="0.9" />
<line x1="1050.5" y1="632.4" x2="1050.5" y2="628.8" stroke="#000" stroke-width="0.9" />
<line x1="1068.8" y1="558.7" x2="1068.8" y2="562.3" stroke="#000" stroke-width="0.9" />
<line x1="1068.8" y1="632.4" x2="1068.8" y2="628.8" stroke="#000" stroke-width="0.9" />
<line x1="1105.4" y1="558.7" x2="1105.4" y2="562.3" stroke="#000" stroke-width="0.9" />
<line x1="1105.4" y1="632.4" x2="1105.4" y2="628.8" stroke="#000" stroke-width="0.9" />
<line x1="668.6" y1="619.8" x2="674.6" y2="619.8" stroke="#000" stroke-width="0.9" />
<line x1="1122.4" y1="619.8" x2="1116.4" y2="619.8" stroke="#000" stroke-width="0.9" />
<line x1="668.6" y1="599.5" x2="674.6" y2="599.5" stroke="#000" stroke-width="0.9" />
<line x1="1122.4" y1="599.5" x2="1116.4" y2="599.5" stroke="#000" stroke-width="0.9" />
<line x1="668.6" y1="579.2" x2="674.6" y2="579.2" stroke="#000" stroke-width="0.9" />
<line x1="1122.4" y1="579.2" x2="1116.4" y2="579.2" stroke="#000" stroke-width="0.9" />
<line x1="668.6" y1="629.9" x2="670.9" y2="629.9" stroke="#222" stroke-width="0.8" />
<line x1="1122.4" y1="629.9" x2="1120.1" y2="629.9" stroke="#222" stroke-width="0.8" />
<line x1="668.6" y1="624.9" x2="670.9" y2="624.9" stroke="#222" stroke-width="0.8" />
<line x1="1122.4" y1="624.9" x2="1120.1" y2="624.9" stroke="#222" stroke-width="0.8" />
<line x1="668.6" y1="614.7" x2="670.9" y2="614.7" stroke="#222" stroke-width="0.8" />
<line x1="1122.4" y1="614.7" x2="1120.1" y2="614.7" stroke="#222" stroke-width="0.8" />
<line x1="668.6" y1="609.6" x2="670.9" y2="609.6" stroke="#222" stroke-width="0.8" />
<line x1="1122.4" y1="609.6" x2="1120.1" y2="609.6" stroke="#222" stroke-width="0.8" />
<line x1="668.6" y1="604.6" x2="670.9" y2="604.6" stroke="#222" stroke-width="0.8" />
<line x1="1122.4" y1="604.6" x2="1120.1" y2="604.6" stroke="#222" stroke-width="0.8" />
<line x1="668.6" y1="594.4" x2="670.9" y2="594.4" stroke="#222" stroke-width="0.8" />
<line x1="1122.4" y1="594.4" x2="1120.1" y2="594.4" stroke="#222" stroke-width="0.8" />
<line x1="668.6" y1="589.4" x2="670.9" y2="589.4" stroke="#222" stroke-width="0.8" />
<line x1="1122.4" y1="589.4" x2="1120.1" y2="589.4" stroke="#222" stroke-width="0.8" />
<line x1="668.6" y1="584.3" x2="670.9" y2="584.3" stroke="#222" stroke-width="0.8" />
<line x1="1122.4" y1="584.3" x2="1120.1" y2="584.3" stroke="#222" stroke-width="0.8" />
<line x1="668.6" y1="574.1" x2="670.9" y2="574.1" stroke="#222" stroke-width="0.8" />
<line x1="1122.4" y1="574.1" x2="1120.1" y2="574.1" stroke="#222" stroke-width="0.8" />
<line x1="668.6" y1="569.1" x2="670.9" y2="569.1" stroke="#222" stroke-width="0.8" />
<line x1="1122.4" y1="569.1" x2="1120.1" y2="569.1" stroke="#222" stroke-width="0.8" />
<line x1="668.6" y1="564" x2="670.9" y2="564" stroke="#222" stroke-width="0.8" />
<line x1="1122.4" y1="564" x2="1120.1" y2="564" stroke="#222" stroke-width="0.8" />
<text x="1125.3" y="563.1" font-size="10.67" fill="#000" text-anchor="start" >0.4</text>
<text x="1125.3" y="583" font-size="10.67" fill="#000" text-anchor="start" >0.2</text>
<text x="1125.3" y="603.3" font-size="10.67" fill="#000" text-anchor="start" >0.0</text>
<text x="1125.3" y="623.8" font-size="10.67" fill="#000" text-anchor="start" >-0.2</text>
<text transform="translate(1159,595) rotate(-90)" font-size="10.67" fill="#000" text-anchor="middle">J [&#181;A m<tspan font-size="8.6" dy="-4">-2</tspan><tspan dy="4">&#8203;</tspan>]</text>
<line x1="674.5" y1="562.8" x2="692.5" y2="562.8" stroke="#ff00ff" stroke-width="1.3" stroke-dasharray="1.3 1" />
<text x="693.5" y="566" font-size="8.7" fill="#ff00ff" text-anchor="start" >t&#160;&#160;maxJ</text>
<line x1="674.5" y1="570.5" x2="692.5" y2="570.5" stroke="#3030ff" stroke-width="1.0" />
<text x="693.5" y="573.8" font-size="9.3" fill="#0000ff" text-anchor="start" >J<tspan font-size="4.5" dy="2.5">L</tspan><tspan dy="-2.5">&#8203;</tspan></text>
<line x1="674.5" y1="577.8" x2="692.5" y2="577.8" stroke="#30e830" stroke-width="1.0" />
<text x="693.5" y="581.2" font-size="9.3" fill="#00ff00" text-anchor="start" >J<tspan font-size="4.5" dy="2.5">M</tspan><tspan dy="-2.5">&#8203;</tspan></text>
<line x1="674.5" y1="585.2" x2="692.5" y2="585.2" stroke="#ff4040" stroke-width="1.0" />
<text x="693.5" y="588.6" font-size="9.3" fill="#ff0000" text-anchor="start" >J<tspan font-size="4.5" dy="2.5">N</tspan><tspan dy="-2.5">&#8203;</tspan></text>
<g clip-path="url(#cM9)">
<line x1="668.6" y1="679.5" x2="1122.4" y2="679.5" stroke="#b0b0b0" stroke-width="0.8" stroke-dasharray="3 2" />
<path transform="scale(.1)" d="M6686 6855l6 31 5-129 5 98 6 0 6-101 5-15 5-4 6 68 6 37 5 24 5-80 6 40 6 93 5-21 5-121 6-26 6 84 5 14 6-25 5 33 6-34 5-59 5-21 6-9 6 105 5-141 5 129 6 12 6 2 5-31 5-42 6-85 6 37 5-54 5 131 6-1 6 53 5-41 6 2 5-27 6 46 5-5 5 37 6-111 6-5 5 28 5 37 6 20 6-58 5-11 5 116 6-130 6 15 5-76 5 91 6-20 6-4 5 71 6-97 5 73 6-22 5 6 5-30 6-13 6 51 5 6 5-85 6 52 6-61 5 34 5-33 6 63 6 75 5-12 5 4 6-38 6-36 5 8 6-44 5-40 6 22 5 5 5 13 6 16 6 22 5 25 5 35 6-36 6 2 5 22 5-30 6-6 6-43 5-21 5 116 6-50 6 9 5-58 6 134 5-104 6 67 5-81 5-49 6-91 6 1 5 128 5-53 6 107 6-8 5-2 5-86 6-150 6-221 5 207 5 71 6 219 6-96 5-67 6 83 5-8 6 22 5-12 5 5 6 30 6-23 5 7 5 2 6 90 6-98 5 25 6 29 5-32 6-53 5 66 5 9 6-61 6 32 5 18 6-3 5 38 6-5 5-14 5-57 6 17 6-6 5 52 5-33 6-18 6 36 5-7 6 25 5-44 6-29 5 60 5-9 6 43 6-47 5 11 6-36 5 41 6-6 5 1 5 14 6 27 6-51 5-1 5 15 6 13 6-60 5 72 6 47 5-55 6 28 5-24 5-32 6 21 6 6 5 10 6-45 5-8 6 39 5-28 5 34 6 48 6 95 5 14 5-11 6-131 6-8 5-28 6 46 5-34 6 18 5-41 5 33 6-6 6-4 5-35 6-53 5 1 6-81 5 127 5 19 6-14 6-9 5 44 5-33 6 18 6 47 5-59 6-15 5-82 6 41 5 77 5-13 6 0 6 25 5 33 6-111 5 72 6 39 5 54 5 67 6-60 6-81 5-14 5 8 6 20 6-23 5-23 6-8 5 7 6 2 5 5 5-18 6 21 6-16 5 2 6 79 5 12 6 19 5-8 5-43 6-21 6-42 5 24 5 12 6-23 6 7 5 9 6 11 5-27 6 37 5 21 5-50 6-12 6 1 5 8 6-35 5 63 6-43 5-2 5 17 6-9 6-14 5 20 5-6 6 41 6-71 5 44 6-14 5 11 6-2 5-14 5 13 6-20 6 1 5 33 5 14 6-45 6 14 5-21 5 38 6-18 6-5 5 9 5-1 6 7 6-38 5 32 5 3 6-4 6-21 5 39 5-13 6 23 6-8 5-29 5-9 6 10 6-2 5 39 5 9 6-64 6 26 5 0 5 27 6-65 6 20 5-4 5 30 6-11 6-2 5-2 5-2 6 25 6-13 5-10 5-19 6 11 6-8 5 40 5-32 6 9 6 22 5-24 5 9 6 21 6-22 5 20 5-14 6-5 6-18 5 70 5-13 6-22 6-12 5 46 5 9 6-39 6-28 5 20 5-10 6 2 6 0 5 14 5 8 6-57 6 14 5 15 5 27 6-12 6 1 5-21 5 26 6-14 6 22 5-39 5 12 6-19 6 5 5-13 5 15 6 36 6-13 5-10 5 20 6-24 6 12 5-4 5 8 6 13 6-47 5 36 5-43 6 18 6 47 5-5 5-70 6 59 6-24 5 31 5-85 6 43 6 5 5 0 5 47 6 42 6 70 5 57 5-50 6-183 6 10 5 34 5 18 6-75 6 93 5-74 5 11 6 68 6-13 5-28 5-50 6-17 6 107 5 68 5-88 6 24 6-33 5-71 5-14 6 60 6 55 5-94 5-116 6 132 6 41 5 15 5-64 6 23 6 147 5 2 5 120 6-123 6-93 5-23 5 42 6 108 6-52 5-132 5 23 6-11 6-50 5-114 5-150 6 25 6 186 5 106 5-21 6 97 6-160 5 62 5 31 6-61 6 87 5 101 5 39 6-132 6-81 5-1 5 11 6-51 6 46 5 119 5-24 6 22 6-182 5 18 5 53 6-6 6-5 5 72 5-114 6 120 6-123 5 123 5-79 6-18 6 59 5-2 5 21 6-68 6 44 5-10 5-13 6-1 6 36 5-6 5-39 6 3 6 4 5 10 5-2 6 23 6 10 5-39 5-13 6 1 6-17 5 10 5 39 6-21 6-8 5-1 5 5 6 3 6 28 5-22 5-4 6 7 6-50 5 23 5-28 6 18 6-1 5 34 5-13 6-34 6 63 5-29 5 14 6-9 6-7 5 18 5 1 6-13 6-14 5 23 5-3 6 14 6-2 5 0 5 20 6 16 6-54 5-22 5 1 6 61 6-33 5 32 5-71 6 3 6 39 5-19 5 11 6 14 6 5 5 1 5-5 6 10 6-26 5 7 5 22 6-2 6 3 5-27 5 50 6-48 6 2 5-13 5 35 6-37 6 36 5 9 5-33 6 32 6-22 5 12 5-17 6 14 6-1 5 13 5 18 6-51 6 17 5 16 5-6 6-31 6 33 5-2 5-21 6-19 6 17 5-12 5 17 6 11 6 11 5-22 5-10 6-9 6 36 5-27 5 35 6 1 6-25 5 5 5-33 6 32 6-12 5-22 5 33 6-19 6 9 5-30 5 29 6 12 6-37 5-12 5-2 6 56 6-9 5-4 5-32 6 17 6 4 5 3 5 5 6-17 6 14 5-1 5-4 6 7 6-32 5 52 5-40 6 28 6-1 5-20 5 33 6-38 6 43 5-35 5 39 6-10 6-13 5-18 5 18 6-15 6-17 5 46 5-39 6 38 6-4 5-25 5 34 6-40 6 24 5-10 5 18 6-27 6-1 5 13 5 1 6-4 6 10 5-4 5 8 6-2 6 10 5 9 5 1 6-27 6 41 5-32 6-17 5 14 6-12 5 6 6 9 5 14 6-6 5-19 5 26 6-33 6 9 5-12 5 1 6 25 6 1 5-18 5 14 6-2 6 29 5-22 6-17 5 25 6 0 5 18 6 5 5-56 6 27 5-13 5-8 6 33 6-28 5 31 5 12 6-43 6 15 5-27 5 0 6 42 6 51 5-34 6 4 5-39 6-29 5 36 6-29 5 15 6-3 5 10 5-15 6 19 6 3 5-5 5 3 6-34 6 26 5-10 5 11 6-6 6-3 5 8 6-3 5 6 6-19 5 5 6 11 5-17 6 23 5-10 5-10 6 12 6-23 5 5 5-8 6 20 6 14 5-21 5-10 6-13 6 3 5-8 6 40 5-13 6-16 5-14 6-44 5-28 6 31 5 55 5-11 6 52 6-65 5 4 5 7 6 9 6 10 5 4 5-3 6-3 6 2 5-31 6 17 5 19 6-18 5 20 6-6 5 14 6-28 5-20 5-5 6-16 6-9 5 18 5-34 6-29 6-26 5 32 5-32 6-19 6 34 5-21 6 36 5 20 6 2 5 5 6 43 5-31 6 25 5 15 5-3 6 34 6-3 5 4 5-12 6 21 6-20 5 4 5-6 6-1 6-14 5 18 6-4 5 7 6 3 5 20 6-36 5 56 6-38 5-2 5-9 6 22 6-3 5 13 5-30 6 30 6 10 5-14 5-10 6 21 6-23 5-11 6 17 5-6 6 11 5 15 6 5 5-7 6-39 5 0 5 10 6-5 6-9 0 7" fill="none" stroke="#181818" stroke-width="8.5" stroke-linejoin="round" />
</g>
<rect x="668.6" y="632.4" width="453.8" height="73.8" fill="none" stroke="#000" stroke-width="1.2"/>
<line x1="721.5" y1="632.4" x2="721.5" y2="642.9" stroke="#383838" stroke-width="1.25" />
<line x1="721.5" y1="706.2" x2="721.5" y2="695.7" stroke="#383838" stroke-width="1.25" />
<line x1="812.9" y1="632.4" x2="812.9" y2="642.9" stroke="#383838" stroke-width="1.25" />
<line x1="812.9" y1="706.2" x2="812.9" y2="695.7" stroke="#383838" stroke-width="1.25" />
<line x1="904.3" y1="632.4" x2="904.3" y2="642.9" stroke="#383838" stroke-width="1.25" />
<line x1="904.3" y1="706.2" x2="904.3" y2="695.7" stroke="#383838" stroke-width="1.25" />
<line x1="995.7" y1="632.4" x2="995.7" y2="642.9" stroke="#383838" stroke-width="1.25" />
<line x1="995.7" y1="706.2" x2="995.7" y2="695.7" stroke="#383838" stroke-width="1.25" />
<line x1="1087.1" y1="632.4" x2="1087.1" y2="642.9" stroke="#383838" stroke-width="1.25" />
<line x1="1087.1" y1="706.2" x2="1087.1" y2="695.7" stroke="#383838" stroke-width="1.25" />
<line x1="684.9" y1="632.4" x2="684.9" y2="636" stroke="#000" stroke-width="0.9" />
<line x1="684.9" y1="706.2" x2="684.9" y2="702.6" stroke="#000" stroke-width="0.9" />
<line x1="703.2" y1="632.4" x2="703.2" y2="636" stroke="#000" stroke-width="0.9" />
<line x1="703.2" y1="706.2" x2="703.2" y2="702.6" stroke="#000" stroke-width="0.9" />
<line x1="739.8" y1="632.4" x2="739.8" y2="636" stroke="#000" stroke-width="0.9" />
<line x1="739.8" y1="706.2" x2="739.8" y2="702.6" stroke="#000" stroke-width="0.9" />
<line x1="758.1" y1="632.4" x2="758.1" y2="636" stroke="#000" stroke-width="0.9" />
<line x1="758.1" y1="706.2" x2="758.1" y2="702.6" stroke="#000" stroke-width="0.9" />
<line x1="776.3" y1="632.4" x2="776.3" y2="636" stroke="#000" stroke-width="0.9" />
<line x1="776.3" y1="706.2" x2="776.3" y2="702.6" stroke="#000" stroke-width="0.9" />
<line x1="794.6" y1="632.4" x2="794.6" y2="636" stroke="#000" stroke-width="0.9" />
<line x1="794.6" y1="706.2" x2="794.6" y2="702.6" stroke="#000" stroke-width="0.9" />
<line x1="831.2" y1="632.4" x2="831.2" y2="636" stroke="#000" stroke-width="0.9" />
<line x1="831.2" y1="706.2" x2="831.2" y2="702.6" stroke="#000" stroke-width="0.9" />
<line x1="849.5" y1="632.4" x2="849.5" y2="636" stroke="#000" stroke-width="0.9" />
<line x1="849.5" y1="706.2" x2="849.5" y2="702.6" stroke="#000" stroke-width="0.9" />
<line x1="867.7" y1="632.4" x2="867.7" y2="636" stroke="#000" stroke-width="0.9" />
<line x1="867.7" y1="706.2" x2="867.7" y2="702.6" stroke="#000" stroke-width="0.9" />
<line x1="886" y1="632.4" x2="886" y2="636" stroke="#000" stroke-width="0.9" />
<line x1="886" y1="706.2" x2="886" y2="702.6" stroke="#000" stroke-width="0.9" />
<line x1="922.6" y1="632.4" x2="922.6" y2="636" stroke="#000" stroke-width="0.9" />
<line x1="922.6" y1="706.2" x2="922.6" y2="702.6" stroke="#000" stroke-width="0.9" />
<line x1="940.9" y1="632.4" x2="940.9" y2="636" stroke="#000" stroke-width="0.9" />
<line x1="940.9" y1="706.2" x2="940.9" y2="702.6" stroke="#000" stroke-width="0.9" />
<line x1="959.1" y1="632.4" x2="959.1" y2="636" stroke="#000" stroke-width="0.9" />
<line x1="959.1" y1="706.2" x2="959.1" y2="702.6" stroke="#000" stroke-width="0.9" />
<line x1="977.4" y1="632.4" x2="977.4" y2="636" stroke="#000" stroke-width="0.9" />
<line x1="977.4" y1="706.2" x2="977.4" y2="702.6" stroke="#000" stroke-width="0.9" />
<line x1="1014" y1="632.4" x2="1014" y2="636" stroke="#000" stroke-width="0.9" />
<line x1="1014" y1="706.2" x2="1014" y2="702.6" stroke="#000" stroke-width="0.9" />
<line x1="1032.3" y1="632.4" x2="1032.3" y2="636" stroke="#000" stroke-width="0.9" />
<line x1="1032.3" y1="706.2" x2="1032.3" y2="702.6" stroke="#000" stroke-width="0.9" />
<line x1="1050.5" y1="632.4" x2="1050.5" y2="636" stroke="#000" stroke-width="0.9" />
<line x1="1050.5" y1="706.2" x2="1050.5" y2="702.6" stroke="#000" stroke-width="0.9" />
<line x1="1068.8" y1="632.4" x2="1068.8" y2="636" stroke="#000" stroke-width="0.9" />
<line x1="1068.8" y1="706.2" x2="1068.8" y2="702.6" stroke="#000" stroke-width="0.9" />
<line x1="1105.4" y1="632.4" x2="1105.4" y2="636" stroke="#000" stroke-width="0.9" />
<line x1="1105.4" y1="706.2" x2="1105.4" y2="702.6" stroke="#000" stroke-width="0.9" />
<line x1="668.6" y1="703.7" x2="674.6" y2="703.7" stroke="#000" stroke-width="0.9" />
<line x1="1122.4" y1="703.7" x2="1116.4" y2="703.7" stroke="#000" stroke-width="0.9" />
<line x1="668.6" y1="679.5" x2="674.6" y2="679.5" stroke="#000" stroke-width="0.9" />
<line x1="1122.4" y1="679.5" x2="1116.4" y2="679.5" stroke="#000" stroke-width="0.9" />
<line x1="668.6" y1="655.3" x2="674.6" y2="655.3" stroke="#000" stroke-width="0.9" />
<line x1="1122.4" y1="655.3" x2="1116.4" y2="655.3" stroke="#000" stroke-width="0.9" />
<line x1="668.6" y1="697.7" x2="670.9" y2="697.7" stroke="#222" stroke-width="0.8" />
<line x1="1122.4" y1="697.7" x2="1120.1" y2="697.7" stroke="#222" stroke-width="0.8" />
<line x1="668.6" y1="691.6" x2="670.9" y2="691.6" stroke="#222" stroke-width="0.8" />
<line x1="1122.4" y1="691.6" x2="1120.1" y2="691.6" stroke="#222" stroke-width="0.8" />
<line x1="668.6" y1="685.5" x2="670.9" y2="685.5" stroke="#222" stroke-width="0.8" />
<line x1="1122.4" y1="685.5" x2="1120.1" y2="685.5" stroke="#222" stroke-width="0.8" />
<line x1="668.6" y1="673.5" x2="670.9" y2="673.5" stroke="#222" stroke-width="0.8" />
<line x1="1122.4" y1="673.5" x2="1120.1" y2="673.5" stroke="#222" stroke-width="0.8" />
<line x1="668.6" y1="667.4" x2="670.9" y2="667.4" stroke="#222" stroke-width="0.8" />
<line x1="1122.4" y1="667.4" x2="1120.1" y2="667.4" stroke="#222" stroke-width="0.8" />
<line x1="668.6" y1="661.3" x2="670.9" y2="661.3" stroke="#222" stroke-width="0.8" />
<line x1="1122.4" y1="661.3" x2="1120.1" y2="661.3" stroke="#222" stroke-width="0.8" />
<line x1="668.6" y1="649.2" x2="670.9" y2="649.2" stroke="#222" stroke-width="0.8" />
<line x1="1122.4" y1="649.2" x2="1120.1" y2="649.2" stroke="#222" stroke-width="0.8" />
<line x1="668.6" y1="643.2" x2="670.9" y2="643.2" stroke="#222" stroke-width="0.8" />
<line x1="1122.4" y1="643.2" x2="1120.1" y2="643.2" stroke="#222" stroke-width="0.8" />
<line x1="668.6" y1="637.1" x2="670.9" y2="637.1" stroke="#222" stroke-width="0.8" />
<line x1="1122.4" y1="637.1" x2="1120.1" y2="637.1" stroke="#222" stroke-width="0.8" />
<text x="666" y="659.1" font-size="10.67" fill="#000" text-anchor="end" >0.2</text>
<text x="666" y="683.8" font-size="10.67" fill="#000" text-anchor="end" >0.0</text>
<text x="666" y="707.4" font-size="10.67" fill="#000" text-anchor="end" >-0.2</text>
<text transform="translate(642,671) rotate(-90)" font-size="10.67" fill="#000" text-anchor="middle">J*E' [nW m<tspan font-size="8.6" dy="-4">-3</tspan><tspan dy="4">&#8203;</tspan>]</text>
<line x1="674.5" y1="647.8" x2="692.5" y2="647.8" stroke="#404040" stroke-width="1.0" />
<text x="696.5" y="651" font-size="8.2" fill="#000" text-anchor="start" >J*E'</text>
<line x1="668.6" y1="115.7" x2="1122.4" y2="115.7" stroke="#000" stroke-width="1.35" />
<line x1="668.6" y1="189.5" x2="1122.4" y2="189.5" stroke="#000" stroke-width="1.35" />
<line x1="668.6" y1="263.6" x2="1122.4" y2="263.6" stroke="#000" stroke-width="1.35" />
<line x1="668.6" y1="337.3" x2="1122.4" y2="337.3" stroke="#000" stroke-width="1.35" />
<line x1="668.6" y1="411" x2="1122.4" y2="411" stroke="#000" stroke-width="1.35" />
<line x1="668.6" y1="484.6" x2="1122.4" y2="484.6" stroke="#000" stroke-width="1.35" />
<line x1="668.6" y1="558.7" x2="1122.4" y2="558.7" stroke="#000" stroke-width="1.35" />
<line x1="668.6" y1="632.4" x2="1122.4" y2="632.4" stroke="#000" stroke-width="1.35" />
<text x="721.5" y="724.4" font-size="10.67" fill="#000" text-anchor="middle" >19:47:50</text>
<text x="721" y="745.8" font-size="10.67" fill="#000" text-anchor="middle" >2.19</text>
<text x="721" y="763.8" font-size="10.67" fill="#000" text-anchor="middle" >-11.5</text>
<text x="721" y="781" font-size="10.67" fill="#000" text-anchor="middle" >-1.21</text>
<text x="812.9" y="724.4" font-size="10.67" fill="#000" text-anchor="middle" >19:48:00</text>
<text x="812.4" y="745.8" font-size="10.67" fill="#000" text-anchor="middle" >2.19</text>
<text x="812.4" y="763.8" font-size="10.67" fill="#000" text-anchor="middle" >-11.5</text>
<text x="812.4" y="781" font-size="10.67" fill="#000" text-anchor="middle" >-1.21</text>
<text x="904.3" y="724.4" font-size="10.67" fill="#000" text-anchor="middle" >19:48:10</text>
<text x="903.8" y="745.8" font-size="10.67" fill="#000" text-anchor="middle" >2.19</text>
<text x="903.8" y="763.8" font-size="10.67" fill="#000" text-anchor="middle" >-11.5</text>
<text x="903.8" y="781" font-size="10.67" fill="#000" text-anchor="middle" >-1.21</text>
<text x="995.7" y="724.4" font-size="10.67" fill="#000" text-anchor="middle" >19:48:20</text>
<text x="995.2" y="745.8" font-size="10.67" fill="#000" text-anchor="middle" >2.19</text>
<text x="995.2" y="763.8" font-size="10.67" fill="#000" text-anchor="middle" >-11.5</text>
<text x="995.2" y="781" font-size="10.67" fill="#000" text-anchor="middle" >-1.21</text>
<text x="1087.1" y="724.4" font-size="10.67" fill="#000" text-anchor="middle" >19:48:30</text>
<text x="1086.6" y="745.8" font-size="10.67" fill="#000" text-anchor="middle" >2.19</text>
<text x="1086.6" y="763.8" font-size="10.67" fill="#000" text-anchor="middle" >-11.5</text>
<text x="1086.6" y="781" font-size="10.67" fill="#000" text-anchor="middle" >-1.21</text>
<text x="650.7" y="745.8" font-size="10.67" fill="#000" text-anchor="middle" >X</text>
<text x="1142.6" y="745.8" font-size="10.67" fill="#000" text-anchor="middle" >Re</text>
<text x="650.7" y="763.8" font-size="10.67" fill="#000" text-anchor="middle" >Y</text>
<text x="1142.6" y="763.8" font-size="10.67" fill="#000" text-anchor="middle" >Re</text>
<text x="650.7" y="781" font-size="10.67" fill="#000" text-anchor="middle" >Z</text>
<text x="1142.6" y="781" font-size="10.67" fill="#000" text-anchor="middle" >Re</text>
<text x="1186" y="838.2" font-size="12" fill="#000" text-anchor="end" >paschmann 25-Oct-2018 14:41</text>
</svg>
<pre>:
 Event ID         : 20160219_194744
 FlagStr          : ot,udef,mon,bf,s,part,keep
 GSEpos [Re]      : [ 2.18, -11.54, -1.21 ]
                  :
 LMN coords       :
    L             : [ -0.586, -0.796,  0.151 ]
    M             : [ -0.009,  0.193,  0.981 ]
    N             : [  0.810, -0.574,  0.120 ]
                  :
  Times           : (as indicated by red, green lines in plots)
    t_0           : 19:48:10  (red dotted line)
    t_MVAB1       : 19:47:59  (leftmost green line)
    t_MVAB2       : 19:48:31  (rightmost green line)
                  :
|Bmin|, |Vmax|    :
    Bmin          : 11.72 [nT]  at 19:48:29
    Vmax_tht      : 313.98 [km/s]  at 19:48:05
    Vmax_tburst   : 313.98 [km/s]  at 19:48:29
                  :
 Normals          :
    N MVAB        : [  0.798, -0.578,  0.171 ]   (L2/L1 = 4.43)
    N MVAB0       : [  0.742, -0.567,  0.357 ]   (L3/L2 = 4.56)
    N MFR         : [ -0.721,  0.605,  0.338 ]   (L2/L1 = 1.46)
                  :
 Durations [s]    : (between red, resp green lines)
    T_CS          : 15.96
    T_MFR/HT      : 31.92
                  :
 Velocity [km/s]  : (based on FPI ion data)
    VnMFR         : 59.2
    VHT.Nmvab     : 55.2  (HTcc = 0.931)
    VHT.Nmvab0    : 38.9
                  :
 CS thickness [km]: (D=T_CS * Vs from above)
    D1=TCS*Vnmfr  : 945
    D2=TCS*VHTn   : 881
    D3=TCS*VHTn0  : 621
                  :
 Currents [uA/m2] :
    Jave_CS       : 0.022
    Jmax_THT      : 0.430  at 19:48:10
    Jmax_brst     : 0.430  at 19:48:10
                  :
 HPCA mom [1/cm3] :   Min   -  Max    (  Ave   )  within full brst int
    H+            :  10.597 - 20.901  ( 10.597 )
    He+           :   0.000 -  0.000  (  0.000 )
    He++          :   0.295 -  0.719  (  0.295 )
    O+            :   0.000 -  0.005  (  0.001 )
                  :
 SEH date         : 2019-11-29 09:48:31
                  :</pre>
</body></html>
